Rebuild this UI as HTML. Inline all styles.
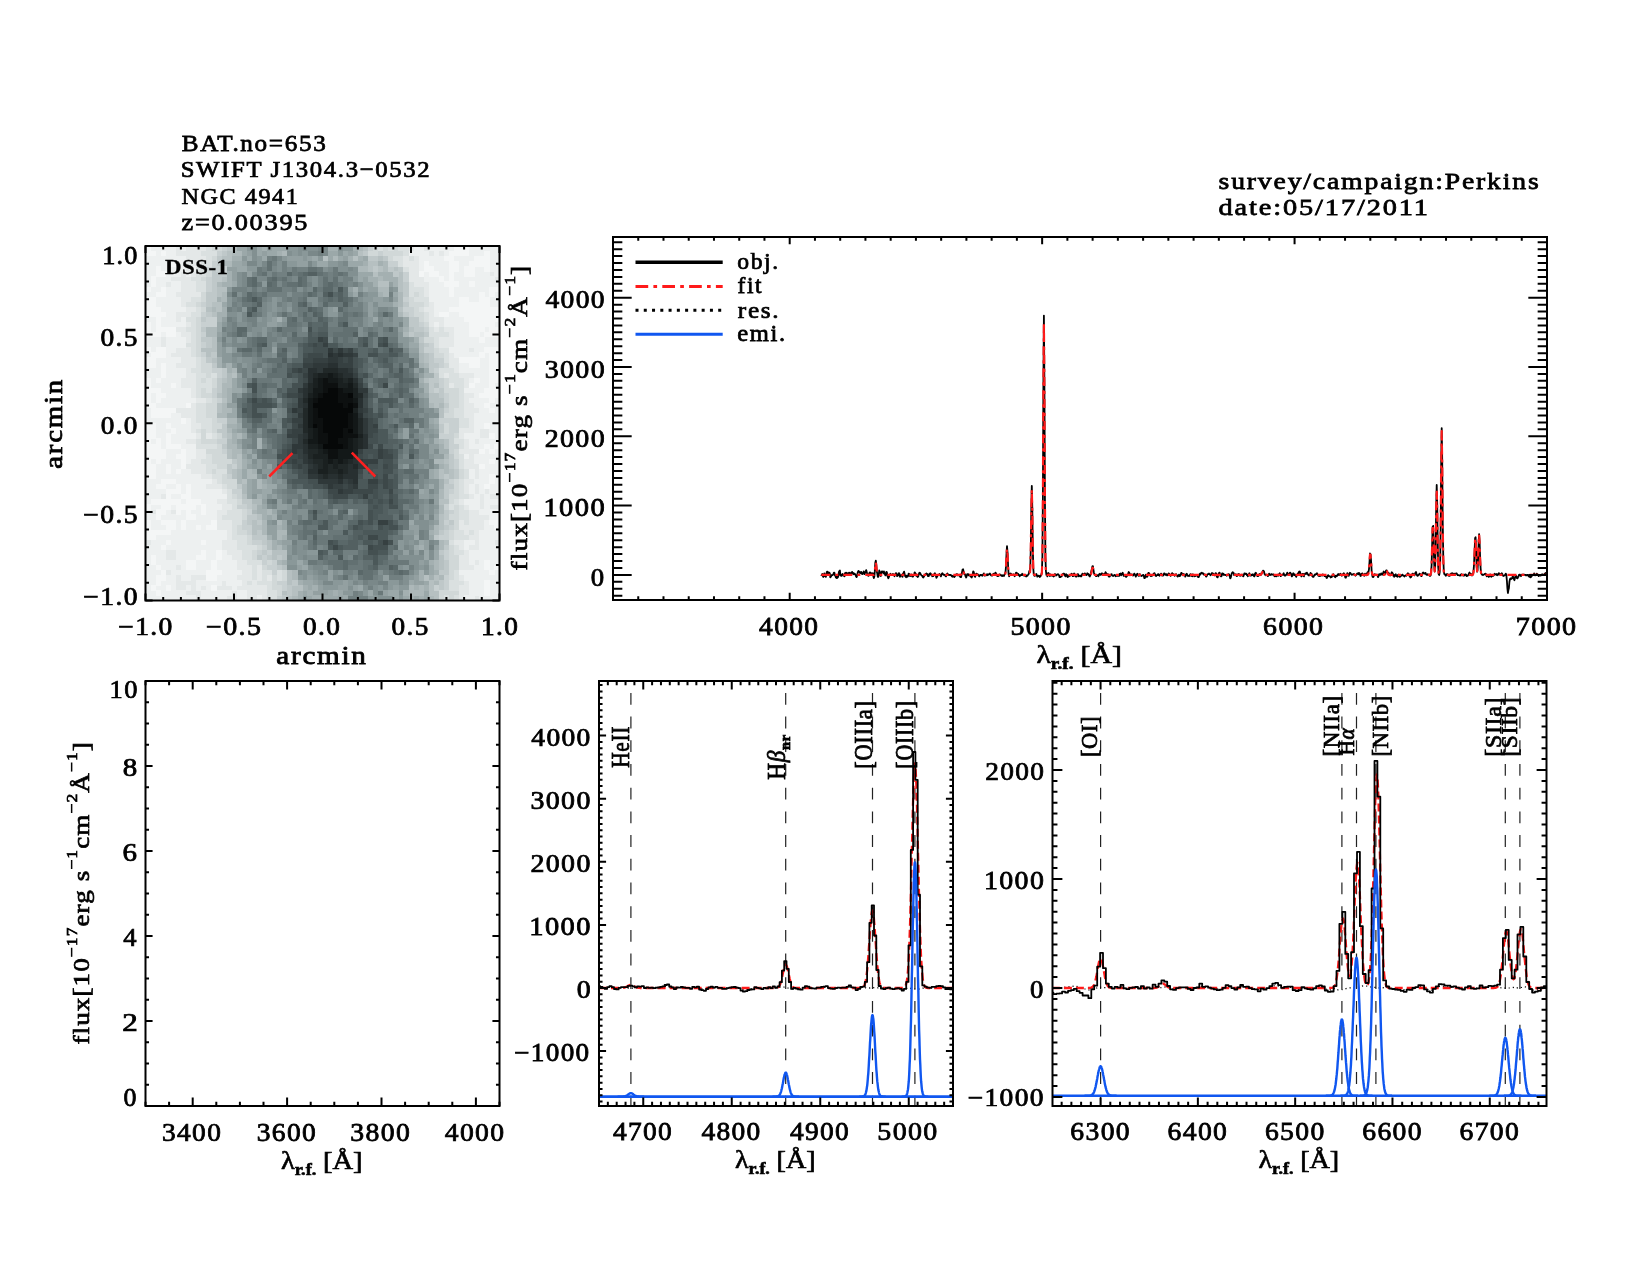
<!DOCTYPE html><html><head><meta charset="utf-8"><style>html,body{margin:0;padding:0;background:#fff;overflow:hidden}svg{display:block;will-change:transform}</style></head><body><svg width="1650" height="1275" viewBox="0 0 1650 1275" font-family='"Liberation Serif", serif'>
<rect width="1650" height="1275" fill="#fff"/>
<path fill="#060808" shape-rendering="crispEdges" d="M327.6 387.8h5.36v5.36h-5.36zM332.6 387.8h5.36v5.36h-5.36zM322.5 392.9h5.36v5.36h-5.36zM327.6 392.9h5.36v5.36h-5.36zM332.6 392.9h5.36v5.36h-5.36zM347.8 392.9h5.36v5.36h-5.36zM317.4 397.9h5.36v5.36h-5.36zM322.5 397.9h5.36v5.36h-5.36zM327.6 397.9h5.36v5.36h-5.36zM332.6 397.9h5.36v5.36h-5.36zM312.4 403.0h5.36v5.36h-5.36zM317.4 403.0h5.36v5.36h-5.36zM322.5 403.0h5.36v5.36h-5.36zM327.6 403.0h5.36v5.36h-5.36zM332.6 403.0h5.36v5.36h-5.36zM337.7 403.0h5.36v5.36h-5.36zM347.8 403.0h5.36v5.36h-5.36zM317.4 408.1h5.36v5.36h-5.36zM322.5 408.1h5.36v5.36h-5.36zM327.6 408.1h5.36v5.36h-5.36zM332.6 408.1h5.36v5.36h-5.36zM337.7 408.1h5.36v5.36h-5.36zM342.7 408.1h5.36v5.36h-5.36zM347.8 408.1h5.36v5.36h-5.36zM317.4 413.1h5.36v5.36h-5.36zM322.5 413.1h5.36v5.36h-5.36zM327.6 413.1h5.36v5.36h-5.36zM332.6 413.1h5.36v5.36h-5.36zM337.7 413.1h5.36v5.36h-5.36zM342.7 413.1h5.36v5.36h-5.36zM322.5 418.2h5.36v5.36h-5.36zM327.6 418.2h5.36v5.36h-5.36zM332.6 418.2h5.36v5.36h-5.36zM337.7 418.2h5.36v5.36h-5.36zM342.7 418.2h5.36v5.36h-5.36zM312.4 423.2h5.36v5.36h-5.36zM322.5 423.2h5.36v5.36h-5.36zM327.6 423.2h5.36v5.36h-5.36zM332.6 423.2h5.36v5.36h-5.36zM337.7 423.2h5.36v5.36h-5.36zM342.7 423.2h5.36v5.36h-5.36zM322.5 428.3h5.36v5.36h-5.36zM327.6 428.3h5.36v5.36h-5.36zM332.6 428.3h5.36v5.36h-5.36zM337.7 428.3h5.36v5.36h-5.36zM347.8 428.3h5.36v5.36h-5.36zM327.6 433.4h5.36v5.36h-5.36zM332.6 433.4h5.36v5.36h-5.36zM337.7 433.4h5.36v5.36h-5.36zM327.6 438.4h5.36v5.36h-5.36zM332.6 438.4h5.36v5.36h-5.36zM322.5 443.5h5.36v5.36h-5.36zM327.6 443.5h5.36v5.36h-5.36zM332.6 443.5h5.36v5.36h-5.36zM337.7 443.5h5.36v5.36h-5.36z"/>
<path fill="#0d1010" shape-rendering="crispEdges" d="M322.5 377.7h5.36v5.36h-5.36zM322.5 382.7h5.36v5.36h-5.36zM327.6 382.7h5.36v5.36h-5.36zM332.6 382.7h5.36v5.36h-5.36zM322.5 387.8h5.36v5.36h-5.36zM337.7 387.8h5.36v5.36h-5.36zM317.4 392.9h5.36v5.36h-5.36zM337.7 392.9h5.36v5.36h-5.36zM342.7 392.9h5.36v5.36h-5.36zM312.4 397.9h5.36v5.36h-5.36zM337.7 397.9h5.36v5.36h-5.36zM342.7 397.9h5.36v5.36h-5.36zM347.8 397.9h5.36v5.36h-5.36zM342.7 403.0h5.36v5.36h-5.36zM352.8 403.0h5.36v5.36h-5.36zM312.4 408.1h5.36v5.36h-5.36zM312.4 413.1h5.36v5.36h-5.36zM347.8 413.1h5.36v5.36h-5.36zM312.4 418.2h5.36v5.36h-5.36zM317.4 418.2h5.36v5.36h-5.36zM347.8 418.2h5.36v5.36h-5.36zM317.4 423.2h5.36v5.36h-5.36zM347.8 423.2h5.36v5.36h-5.36zM317.4 428.3h5.36v5.36h-5.36zM342.7 428.3h5.36v5.36h-5.36zM317.4 433.4h5.36v5.36h-5.36zM322.5 433.4h5.36v5.36h-5.36zM342.7 433.4h5.36v5.36h-5.36zM347.8 433.4h5.36v5.36h-5.36zM352.8 433.4h5.36v5.36h-5.36zM317.4 438.4h5.36v5.36h-5.36zM322.5 438.4h5.36v5.36h-5.36zM337.7 438.4h5.36v5.36h-5.36zM342.7 438.4h5.36v5.36h-5.36zM342.7 443.5h5.36v5.36h-5.36zM327.6 448.6h5.36v5.36h-5.36zM332.6 448.6h5.36v5.36h-5.36zM327.6 453.6h5.36v5.36h-5.36zM332.6 453.6h5.36v5.36h-5.36z"/>
<path fill="#131818" shape-rendering="crispEdges" d="M327.6 372.6h5.36v5.36h-5.36zM317.4 377.7h5.36v5.36h-5.36zM327.6 377.7h5.36v5.36h-5.36zM332.6 377.7h5.36v5.36h-5.36zM317.4 382.7h5.36v5.36h-5.36zM347.8 382.7h5.36v5.36h-5.36zM312.4 387.8h5.36v5.36h-5.36zM317.4 387.8h5.36v5.36h-5.36zM342.7 387.8h5.36v5.36h-5.36zM347.8 387.8h5.36v5.36h-5.36zM312.4 392.9h5.36v5.36h-5.36zM307.3 397.9h5.36v5.36h-5.36zM352.8 397.9h5.36v5.36h-5.36zM307.3 403.0h5.36v5.36h-5.36zM307.3 408.1h5.36v5.36h-5.36zM307.3 413.1h5.36v5.36h-5.36zM352.8 413.1h5.36v5.36h-5.36zM307.3 418.2h5.36v5.36h-5.36zM352.8 418.2h5.36v5.36h-5.36zM307.3 423.2h5.36v5.36h-5.36zM352.8 423.2h5.36v5.36h-5.36zM312.4 428.3h5.36v5.36h-5.36zM352.8 428.3h5.36v5.36h-5.36zM312.4 433.4h5.36v5.36h-5.36zM307.3 438.4h5.36v5.36h-5.36zM312.4 438.4h5.36v5.36h-5.36zM347.8 438.4h5.36v5.36h-5.36zM317.4 443.5h5.36v5.36h-5.36zM347.8 443.5h5.36v5.36h-5.36zM322.5 448.6h5.36v5.36h-5.36zM337.7 448.6h5.36v5.36h-5.36zM342.7 448.6h5.36v5.36h-5.36zM347.8 448.6h5.36v5.36h-5.36zM337.7 453.6h5.36v5.36h-5.36zM342.7 453.6h5.36v5.36h-5.36zM347.8 453.6h5.36v5.36h-5.36zM327.6 458.7h5.36v5.36h-5.36zM337.7 458.7h5.36v5.36h-5.36z"/>
<path fill="#1a2020" shape-rendering="crispEdges" d="M317.4 372.6h5.36v5.36h-5.36zM322.5 372.6h5.36v5.36h-5.36zM332.6 372.6h5.36v5.36h-5.36zM312.4 377.7h5.36v5.36h-5.36zM337.7 377.7h5.36v5.36h-5.36zM347.8 377.7h5.36v5.36h-5.36zM312.4 382.7h5.36v5.36h-5.36zM337.7 382.7h5.36v5.36h-5.36zM342.7 382.7h5.36v5.36h-5.36zM352.8 387.8h5.36v5.36h-5.36zM307.3 392.9h5.36v5.36h-5.36zM352.8 392.9h5.36v5.36h-5.36zM352.8 408.1h5.36v5.36h-5.36zM307.3 428.3h5.36v5.36h-5.36zM307.3 433.4h5.36v5.36h-5.36zM357.9 433.4h5.36v5.36h-5.36zM352.8 438.4h5.36v5.36h-5.36zM307.3 443.5h5.36v5.36h-5.36zM312.4 443.5h5.36v5.36h-5.36zM352.8 443.5h5.36v5.36h-5.36zM317.4 448.6h5.36v5.36h-5.36zM352.8 448.6h5.36v5.36h-5.36zM312.4 453.6h5.36v5.36h-5.36zM317.4 453.6h5.36v5.36h-5.36zM322.5 453.6h5.36v5.36h-5.36zM322.5 458.7h5.36v5.36h-5.36zM332.6 458.7h5.36v5.36h-5.36zM342.7 458.7h5.36v5.36h-5.36zM322.5 463.8h5.36v5.36h-5.36zM332.6 463.8h5.36v5.36h-5.36zM317.4 468.8h5.36v5.36h-5.36zM322.5 468.8h5.36v5.36h-5.36zM337.7 468.8h5.36v5.36h-5.36z"/>
<path fill="#212828" shape-rendering="crispEdges" d="M322.5 367.5h5.36v5.36h-5.36zM327.6 367.5h5.36v5.36h-5.36zM332.6 367.5h5.36v5.36h-5.36zM312.4 372.6h5.36v5.36h-5.36zM337.7 372.6h5.36v5.36h-5.36zM342.7 377.7h5.36v5.36h-5.36zM307.3 382.7h5.36v5.36h-5.36zM352.8 382.7h5.36v5.36h-5.36zM307.3 387.8h5.36v5.36h-5.36zM357.9 392.9h5.36v5.36h-5.36zM302.3 397.9h5.36v5.36h-5.36zM302.3 408.1h5.36v5.36h-5.36zM302.3 413.1h5.36v5.36h-5.36zM302.3 418.2h5.36v5.36h-5.36zM357.9 418.2h5.36v5.36h-5.36zM302.3 423.2h5.36v5.36h-5.36zM357.9 423.2h5.36v5.36h-5.36zM302.3 428.3h5.36v5.36h-5.36zM357.9 428.3h5.36v5.36h-5.36zM302.3 438.4h5.36v5.36h-5.36zM357.9 438.4h5.36v5.36h-5.36zM357.9 443.5h5.36v5.36h-5.36zM307.3 448.6h5.36v5.36h-5.36zM312.4 448.6h5.36v5.36h-5.36zM307.3 453.6h5.36v5.36h-5.36zM352.8 453.6h5.36v5.36h-5.36zM312.4 458.7h5.36v5.36h-5.36zM317.4 458.7h5.36v5.36h-5.36zM347.8 458.7h5.36v5.36h-5.36zM317.4 463.8h5.36v5.36h-5.36zM327.6 463.8h5.36v5.36h-5.36zM337.7 463.8h5.36v5.36h-5.36zM342.7 463.8h5.36v5.36h-5.36zM352.8 463.8h5.36v5.36h-5.36zM327.6 468.8h5.36v5.36h-5.36zM332.6 468.8h5.36v5.36h-5.36zM342.7 468.8h5.36v5.36h-5.36zM322.5 473.9h5.36v5.36h-5.36zM337.7 473.9h5.36v5.36h-5.36z"/>
<path fill="#283031" shape-rendering="crispEdges" d="M327.6 352.4h5.36v5.36h-5.36zM337.7 352.4h5.36v5.36h-5.36zM327.6 362.5h5.36v5.36h-5.36zM332.6 362.5h5.36v5.36h-5.36zM307.3 367.5h5.36v5.36h-5.36zM312.4 367.5h5.36v5.36h-5.36zM337.7 367.5h5.36v5.36h-5.36zM342.7 367.5h5.36v5.36h-5.36zM307.3 372.6h5.36v5.36h-5.36zM342.7 372.6h5.36v5.36h-5.36zM347.8 372.6h5.36v5.36h-5.36zM307.3 377.7h5.36v5.36h-5.36zM352.8 377.7h5.36v5.36h-5.36zM302.3 387.8h5.36v5.36h-5.36zM302.3 392.9h5.36v5.36h-5.36zM357.9 397.9h5.36v5.36h-5.36zM302.3 403.0h5.36v5.36h-5.36zM357.9 403.0h5.36v5.36h-5.36zM357.9 413.1h5.36v5.36h-5.36zM302.3 433.4h5.36v5.36h-5.36zM363.0 433.4h5.36v5.36h-5.36zM363.0 438.4h5.36v5.36h-5.36zM302.3 443.5h5.36v5.36h-5.36zM363.0 443.5h5.36v5.36h-5.36zM302.3 448.6h5.36v5.36h-5.36zM307.3 458.7h5.36v5.36h-5.36zM352.8 458.7h5.36v5.36h-5.36zM312.4 463.8h5.36v5.36h-5.36zM347.8 463.8h5.36v5.36h-5.36zM307.3 468.8h5.36v5.36h-5.36zM312.4 468.8h5.36v5.36h-5.36zM347.8 468.8h5.36v5.36h-5.36zM352.8 468.8h5.36v5.36h-5.36zM317.4 473.9h5.36v5.36h-5.36zM327.6 473.9h5.36v5.36h-5.36zM332.6 473.9h5.36v5.36h-5.36zM342.7 473.9h5.36v5.36h-5.36zM347.8 473.9h5.36v5.36h-5.36zM352.8 473.9h5.36v5.36h-5.36zM337.7 479.0h5.36v5.36h-5.36zM352.8 479.0h5.36v5.36h-5.36z"/>
<path fill="#2f3839" shape-rendering="crispEdges" d="M327.6 347.3h5.36v5.36h-5.36zM337.7 347.3h5.36v5.36h-5.36zM332.6 352.4h5.36v5.36h-5.36zM342.7 352.4h5.36v5.36h-5.36zM347.8 352.4h5.36v5.36h-5.36zM327.6 357.4h5.36v5.36h-5.36zM332.6 357.4h5.36v5.36h-5.36zM312.4 362.5h5.36v5.36h-5.36zM317.4 362.5h5.36v5.36h-5.36zM322.5 362.5h5.36v5.36h-5.36zM317.4 367.5h5.36v5.36h-5.36zM347.8 367.5h5.36v5.36h-5.36zM302.3 382.7h5.36v5.36h-5.36zM297.2 387.8h5.36v5.36h-5.36zM357.9 387.8h5.36v5.36h-5.36zM363.0 387.8h5.36v5.36h-5.36zM297.2 397.9h5.36v5.36h-5.36zM297.2 403.0h5.36v5.36h-5.36zM292.2 408.1h5.36v5.36h-5.36zM357.9 408.1h5.36v5.36h-5.36zM297.2 413.1h5.36v5.36h-5.36zM363.0 418.2h5.36v5.36h-5.36zM297.2 423.2h5.36v5.36h-5.36zM363.0 423.2h5.36v5.36h-5.36zM363.0 428.3h5.36v5.36h-5.36zM297.2 433.4h5.36v5.36h-5.36zM297.2 438.4h5.36v5.36h-5.36zM292.2 443.5h5.36v5.36h-5.36zM297.2 443.5h5.36v5.36h-5.36zM292.2 448.6h5.36v5.36h-5.36zM302.3 453.6h5.36v5.36h-5.36zM302.3 458.7h5.36v5.36h-5.36zM357.9 458.7h5.36v5.36h-5.36zM307.3 463.8h5.36v5.36h-5.36zM357.9 463.8h5.36v5.36h-5.36zM363.0 463.8h5.36v5.36h-5.36zM307.3 473.9h5.36v5.36h-5.36zM312.4 473.9h5.36v5.36h-5.36zM317.4 479.0h5.36v5.36h-5.36zM322.5 479.0h5.36v5.36h-5.36zM327.6 479.0h5.36v5.36h-5.36zM332.6 479.0h5.36v5.36h-5.36zM347.8 479.0h5.36v5.36h-5.36zM327.6 484.0h5.36v5.36h-5.36zM352.8 484.0h5.36v5.36h-5.36zM337.7 489.1h5.36v5.36h-5.36z"/>
<path fill="#364041" shape-rendering="crispEdges" d="M317.4 337.2h5.36v5.36h-5.36zM322.5 342.2h5.36v5.36h-5.36zM347.8 347.3h5.36v5.36h-5.36zM352.8 352.4h5.36v5.36h-5.36zM312.4 357.4h5.36v5.36h-5.36zM317.4 357.4h5.36v5.36h-5.36zM322.5 357.4h5.36v5.36h-5.36zM337.7 357.4h5.36v5.36h-5.36zM347.8 357.4h5.36v5.36h-5.36zM302.3 362.5h5.36v5.36h-5.36zM307.3 362.5h5.36v5.36h-5.36zM337.7 362.5h5.36v5.36h-5.36zM342.7 362.5h5.36v5.36h-5.36zM347.8 362.5h5.36v5.36h-5.36zM297.2 367.5h5.36v5.36h-5.36zM302.3 372.6h5.36v5.36h-5.36zM352.8 372.6h5.36v5.36h-5.36zM357.9 382.7h5.36v5.36h-5.36zM297.2 392.9h5.36v5.36h-5.36zM363.0 392.9h5.36v5.36h-5.36zM297.2 408.1h5.36v5.36h-5.36zM363.0 408.1h5.36v5.36h-5.36zM292.2 418.2h5.36v5.36h-5.36zM297.2 418.2h5.36v5.36h-5.36zM373.1 423.2h5.36v5.36h-5.36zM292.2 428.3h5.36v5.36h-5.36zM297.2 428.3h5.36v5.36h-5.36zM287.1 433.4h5.36v5.36h-5.36zM292.2 433.4h5.36v5.36h-5.36zM297.2 448.6h5.36v5.36h-5.36zM357.9 448.6h5.36v5.36h-5.36zM378.1 448.6h5.36v5.36h-5.36zM297.2 453.6h5.36v5.36h-5.36zM378.1 453.6h5.36v5.36h-5.36zM292.2 458.7h5.36v5.36h-5.36zM363.0 458.7h5.36v5.36h-5.36zM368.0 458.7h5.36v5.36h-5.36zM373.1 458.7h5.36v5.36h-5.36zM297.2 463.8h5.36v5.36h-5.36zM342.7 479.0h5.36v5.36h-5.36zM368.0 479.0h5.36v5.36h-5.36zM373.1 479.0h5.36v5.36h-5.36zM332.6 484.0h5.36v5.36h-5.36zM337.7 484.0h5.36v5.36h-5.36zM347.8 484.0h5.36v5.36h-5.36zM342.7 489.1h5.36v5.36h-5.36zM347.8 489.1h5.36v5.36h-5.36zM363.0 494.1h5.36v5.36h-5.36zM378.1 519.5h5.36v5.36h-5.36zM383.2 519.5h5.36v5.36h-5.36zM383.2 539.7h5.36v5.36h-5.36z"/>
<path fill="#3d4849" shape-rendering="crispEdges" d="M322.5 337.2h5.36v5.36h-5.36zM312.4 342.2h5.36v5.36h-5.36zM383.2 342.2h5.36v5.36h-5.36zM332.6 347.3h5.36v5.36h-5.36zM342.7 347.3h5.36v5.36h-5.36zM307.3 352.4h5.36v5.36h-5.36zM312.4 352.4h5.36v5.36h-5.36zM317.4 352.4h5.36v5.36h-5.36zM302.3 357.4h5.36v5.36h-5.36zM307.3 357.4h5.36v5.36h-5.36zM342.7 357.4h5.36v5.36h-5.36zM292.2 367.5h5.36v5.36h-5.36zM302.3 367.5h5.36v5.36h-5.36zM352.8 367.5h5.36v5.36h-5.36zM302.3 377.7h5.36v5.36h-5.36zM357.9 377.7h5.36v5.36h-5.36zM383.2 382.7h5.36v5.36h-5.36zM287.1 392.9h5.36v5.36h-5.36zM292.2 392.9h5.36v5.36h-5.36zM251.7 397.9h5.36v5.36h-5.36zM363.0 397.9h5.36v5.36h-5.36zM363.0 403.0h5.36v5.36h-5.36zM363.0 413.1h5.36v5.36h-5.36zM368.0 418.2h5.36v5.36h-5.36zM292.2 423.2h5.36v5.36h-5.36zM368.0 423.2h5.36v5.36h-5.36zM287.1 428.3h5.36v5.36h-5.36zM368.0 428.3h5.36v5.36h-5.36zM373.1 428.3h5.36v5.36h-5.36zM368.0 433.4h5.36v5.36h-5.36zM292.2 438.4h5.36v5.36h-5.36zM368.0 443.5h5.36v5.36h-5.36zM378.1 443.5h5.36v5.36h-5.36zM287.1 448.6h5.36v5.36h-5.36zM383.2 448.6h5.36v5.36h-5.36zM287.1 453.6h5.36v5.36h-5.36zM292.2 453.6h5.36v5.36h-5.36zM357.9 453.6h5.36v5.36h-5.36zM383.2 453.6h5.36v5.36h-5.36zM388.2 453.6h5.36v5.36h-5.36zM282.0 458.7h5.36v5.36h-5.36zM287.1 458.7h5.36v5.36h-5.36zM297.2 458.7h5.36v5.36h-5.36zM292.2 463.8h5.36v5.36h-5.36zM302.3 463.8h5.36v5.36h-5.36zM383.2 463.8h5.36v5.36h-5.36zM302.3 468.8h5.36v5.36h-5.36zM357.9 468.8h5.36v5.36h-5.36zM383.2 473.9h5.36v5.36h-5.36zM383.2 479.0h5.36v5.36h-5.36zM322.5 484.0h5.36v5.36h-5.36zM342.7 484.0h5.36v5.36h-5.36zM368.0 484.0h5.36v5.36h-5.36zM373.1 484.0h5.36v5.36h-5.36zM383.2 484.0h5.36v5.36h-5.36zM327.6 489.1h5.36v5.36h-5.36zM332.6 489.1h5.36v5.36h-5.36zM352.8 489.1h5.36v5.36h-5.36zM357.9 489.1h5.36v5.36h-5.36zM363.0 489.1h5.36v5.36h-5.36zM368.0 489.1h5.36v5.36h-5.36zM388.2 489.1h5.36v5.36h-5.36zM332.6 494.1h5.36v5.36h-5.36zM337.7 494.1h5.36v5.36h-5.36zM342.7 494.1h5.36v5.36h-5.36zM388.2 499.2h5.36v5.36h-5.36zM368.0 534.7h5.36v5.36h-5.36zM373.1 534.7h5.36v5.36h-5.36zM332.6 544.8h5.36v5.36h-5.36zM368.0 544.8h5.36v5.36h-5.36z"/>
<path fill="#445051" shape-rendering="crispEdges" d="M327.6 291.6h5.36v5.36h-5.36zM307.3 327.0h5.36v5.36h-5.36zM383.2 337.2h5.36v5.36h-5.36zM307.3 342.2h5.36v5.36h-5.36zM317.4 342.2h5.36v5.36h-5.36zM363.0 342.2h5.36v5.36h-5.36zM378.1 342.2h5.36v5.36h-5.36zM312.4 347.3h5.36v5.36h-5.36zM317.4 347.3h5.36v5.36h-5.36zM322.5 347.3h5.36v5.36h-5.36zM388.2 347.3h5.36v5.36h-5.36zM302.3 352.4h5.36v5.36h-5.36zM322.5 352.4h5.36v5.36h-5.36zM368.0 352.4h5.36v5.36h-5.36zM373.1 352.4h5.36v5.36h-5.36zM352.8 357.4h5.36v5.36h-5.36zM352.8 362.5h5.36v5.36h-5.36zM287.1 372.6h5.36v5.36h-5.36zM297.2 372.6h5.36v5.36h-5.36zM363.0 372.6h5.36v5.36h-5.36zM297.2 377.7h5.36v5.36h-5.36zM251.7 382.7h5.36v5.36h-5.36zM292.2 382.7h5.36v5.36h-5.36zM297.2 382.7h5.36v5.36h-5.36zM251.7 387.8h5.36v5.36h-5.36zM287.1 387.8h5.36v5.36h-5.36zM292.2 387.8h5.36v5.36h-5.36zM261.8 397.9h5.36v5.36h-5.36zM251.7 403.0h5.36v5.36h-5.36zM256.8 403.0h5.36v5.36h-5.36zM261.8 403.0h5.36v5.36h-5.36zM266.9 403.0h5.36v5.36h-5.36zM292.2 403.0h5.36v5.36h-5.36zM251.7 408.1h5.36v5.36h-5.36zM287.1 408.1h5.36v5.36h-5.36zM368.0 408.1h5.36v5.36h-5.36zM251.7 413.1h5.36v5.36h-5.36zM256.8 413.1h5.36v5.36h-5.36zM292.2 413.1h5.36v5.36h-5.36zM368.0 413.1h5.36v5.36h-5.36zM378.1 413.1h5.36v5.36h-5.36zM287.1 418.2h5.36v5.36h-5.36zM373.1 418.2h5.36v5.36h-5.36zM373.1 433.4h5.36v5.36h-5.36zM368.0 438.4h5.36v5.36h-5.36zM373.1 438.4h5.36v5.36h-5.36zM287.1 443.5h5.36v5.36h-5.36zM282.0 448.6h5.36v5.36h-5.36zM363.0 448.6h5.36v5.36h-5.36zM368.0 448.6h5.36v5.36h-5.36zM373.1 448.6h5.36v5.36h-5.36zM388.2 448.6h5.36v5.36h-5.36zM277.0 453.6h5.36v5.36h-5.36zM282.0 453.6h5.36v5.36h-5.36zM363.0 453.6h5.36v5.36h-5.36zM373.1 453.6h5.36v5.36h-5.36zM383.2 458.7h5.36v5.36h-5.36zM388.2 458.7h5.36v5.36h-5.36zM368.0 463.8h5.36v5.36h-5.36zM373.1 463.8h5.36v5.36h-5.36zM388.2 463.8h5.36v5.36h-5.36zM297.2 468.8h5.36v5.36h-5.36zM368.0 468.8h5.36v5.36h-5.36zM383.2 468.8h5.36v5.36h-5.36zM388.2 468.8h5.36v5.36h-5.36zM297.2 473.9h5.36v5.36h-5.36zM302.3 473.9h5.36v5.36h-5.36zM357.9 473.9h5.36v5.36h-5.36zM373.1 473.9h5.36v5.36h-5.36zM307.3 479.0h5.36v5.36h-5.36zM312.4 479.0h5.36v5.36h-5.36zM378.1 479.0h5.36v5.36h-5.36zM388.2 479.0h5.36v5.36h-5.36zM312.4 484.0h5.36v5.36h-5.36zM317.4 484.0h5.36v5.36h-5.36zM388.2 484.0h5.36v5.36h-5.36zM373.1 489.1h5.36v5.36h-5.36zM327.6 494.1h5.36v5.36h-5.36zM357.9 494.1h5.36v5.36h-5.36zM373.1 494.1h5.36v5.36h-5.36zM388.2 494.1h5.36v5.36h-5.36zM368.0 499.2h5.36v5.36h-5.36zM378.1 499.2h5.36v5.36h-5.36zM373.1 504.3h5.36v5.36h-5.36zM388.2 504.3h5.36v5.36h-5.36zM393.3 504.3h5.36v5.36h-5.36zM312.4 509.3h5.36v5.36h-5.36zM368.0 509.3h5.36v5.36h-5.36zM368.0 514.4h5.36v5.36h-5.36zM357.9 519.5h5.36v5.36h-5.36zM368.0 519.5h5.36v5.36h-5.36zM388.2 519.5h5.36v5.36h-5.36zM352.8 524.5h5.36v5.36h-5.36zM378.1 524.5h5.36v5.36h-5.36zM388.2 524.5h5.36v5.36h-5.36zM393.3 524.5h5.36v5.36h-5.36zM327.6 539.7h5.36v5.36h-5.36zM378.1 539.7h5.36v5.36h-5.36zM388.2 539.7h5.36v5.36h-5.36zM373.1 544.8h5.36v5.36h-5.36zM378.1 544.8h5.36v5.36h-5.36zM383.2 544.8h5.36v5.36h-5.36zM368.0 549.9h5.36v5.36h-5.36zM373.1 549.9h5.36v5.36h-5.36z"/>
<path fill="#4b5859" shape-rendering="crispEdges" d="M337.7 286.5h5.36v5.36h-5.36zM251.7 296.6h5.36v5.36h-5.36zM251.7 306.8h5.36v5.36h-5.36zM246.6 311.8h5.36v5.36h-5.36zM342.7 322.0h5.36v5.36h-5.36zM307.3 332.1h5.36v5.36h-5.36zM317.4 332.1h5.36v5.36h-5.36zM322.5 332.1h5.36v5.36h-5.36zM307.3 337.2h5.36v5.36h-5.36zM312.4 337.2h5.36v5.36h-5.36zM363.0 337.2h5.36v5.36h-5.36zM378.1 337.2h5.36v5.36h-5.36zM261.8 342.2h5.36v5.36h-5.36zM302.3 342.2h5.36v5.36h-5.36zM327.6 342.2h5.36v5.36h-5.36zM332.6 342.2h5.36v5.36h-5.36zM302.3 347.3h5.36v5.36h-5.36zM307.3 347.3h5.36v5.36h-5.36zM352.8 347.3h5.36v5.36h-5.36zM373.1 347.3h5.36v5.36h-5.36zM388.2 352.4h5.36v5.36h-5.36zM393.3 352.4h5.36v5.36h-5.36zM357.9 357.4h5.36v5.36h-5.36zM383.2 357.4h5.36v5.36h-5.36zM292.2 362.5h5.36v5.36h-5.36zM297.2 362.5h5.36v5.36h-5.36zM357.9 362.5h5.36v5.36h-5.36zM287.1 367.5h5.36v5.36h-5.36zM398.4 367.5h5.36v5.36h-5.36zM292.2 372.6h5.36v5.36h-5.36zM357.9 372.6h5.36v5.36h-5.36zM246.6 382.7h5.36v5.36h-5.36zM363.0 382.7h5.36v5.36h-5.36zM282.0 392.9h5.36v5.36h-5.36zM368.0 392.9h5.36v5.36h-5.36zM246.6 397.9h5.36v5.36h-5.36zM256.8 397.9h5.36v5.36h-5.36zM266.9 397.9h5.36v5.36h-5.36zM292.2 397.9h5.36v5.36h-5.36zM378.1 397.9h5.36v5.36h-5.36zM383.2 397.9h5.36v5.36h-5.36zM388.2 397.9h5.36v5.36h-5.36zM271.9 403.0h5.36v5.36h-5.36zM287.1 403.0h5.36v5.36h-5.36zM388.2 403.0h5.36v5.36h-5.36zM241.6 408.1h5.36v5.36h-5.36zM378.1 408.1h5.36v5.36h-5.36zM261.8 413.1h5.36v5.36h-5.36zM287.1 413.1h5.36v5.36h-5.36zM373.1 413.1h5.36v5.36h-5.36zM282.0 418.2h5.36v5.36h-5.36zM282.0 423.2h5.36v5.36h-5.36zM393.3 423.2h5.36v5.36h-5.36zM378.1 428.3h5.36v5.36h-5.36zM383.2 428.3h5.36v5.36h-5.36zM378.1 433.4h5.36v5.36h-5.36zM383.2 433.4h5.36v5.36h-5.36zM287.1 438.4h5.36v5.36h-5.36zM378.1 438.4h5.36v5.36h-5.36zM383.2 438.4h5.36v5.36h-5.36zM282.0 443.5h5.36v5.36h-5.36zM398.4 443.5h5.36v5.36h-5.36zM393.3 448.6h5.36v5.36h-5.36zM368.0 453.6h5.36v5.36h-5.36zM393.3 453.6h5.36v5.36h-5.36zM408.5 453.6h5.36v5.36h-5.36zM378.1 458.7h5.36v5.36h-5.36zM277.0 463.8h5.36v5.36h-5.36zM287.1 463.8h5.36v5.36h-5.36zM378.1 463.8h5.36v5.36h-5.36zM393.3 463.8h5.36v5.36h-5.36zM292.2 468.8h5.36v5.36h-5.36zM373.1 468.8h5.36v5.36h-5.36zM378.1 468.8h5.36v5.36h-5.36zM378.1 473.9h5.36v5.36h-5.36zM393.3 473.9h5.36v5.36h-5.36zM292.2 479.0h5.36v5.36h-5.36zM297.2 479.0h5.36v5.36h-5.36zM302.3 479.0h5.36v5.36h-5.36zM357.9 479.0h5.36v5.36h-5.36zM363.0 479.0h5.36v5.36h-5.36zM393.3 479.0h5.36v5.36h-5.36zM302.3 484.0h5.36v5.36h-5.36zM307.3 484.0h5.36v5.36h-5.36zM357.9 484.0h5.36v5.36h-5.36zM363.0 484.0h5.36v5.36h-5.36zM378.1 484.0h5.36v5.36h-5.36zM393.3 484.0h5.36v5.36h-5.36zM378.1 489.1h5.36v5.36h-5.36zM383.2 489.1h5.36v5.36h-5.36zM347.8 494.1h5.36v5.36h-5.36zM352.8 494.1h5.36v5.36h-5.36zM368.0 494.1h5.36v5.36h-5.36zM378.1 494.1h5.36v5.36h-5.36zM393.3 494.1h5.36v5.36h-5.36zM332.6 499.2h5.36v5.36h-5.36zM373.1 499.2h5.36v5.36h-5.36zM383.2 499.2h5.36v5.36h-5.36zM393.3 499.2h5.36v5.36h-5.36zM368.0 504.3h5.36v5.36h-5.36zM378.1 504.3h5.36v5.36h-5.36zM373.1 509.3h5.36v5.36h-5.36zM378.1 509.3h5.36v5.36h-5.36zM312.4 514.4h5.36v5.36h-5.36zM373.1 514.4h5.36v5.36h-5.36zM398.4 514.4h5.36v5.36h-5.36zM322.5 519.5h5.36v5.36h-5.36zM363.0 519.5h5.36v5.36h-5.36zM317.4 524.5h5.36v5.36h-5.36zM322.5 524.5h5.36v5.36h-5.36zM357.9 524.5h5.36v5.36h-5.36zM383.2 524.5h5.36v5.36h-5.36zM342.7 529.6h5.36v5.36h-5.36zM363.0 529.6h5.36v5.36h-5.36zM368.0 529.6h5.36v5.36h-5.36zM373.1 529.6h5.36v5.36h-5.36zM378.1 529.6h5.36v5.36h-5.36zM383.2 529.6h5.36v5.36h-5.36zM357.9 534.7h5.36v5.36h-5.36zM378.1 534.7h5.36v5.36h-5.36zM383.2 534.7h5.36v5.36h-5.36zM332.6 539.7h5.36v5.36h-5.36zM363.0 539.7h5.36v5.36h-5.36zM368.0 539.7h5.36v5.36h-5.36zM327.6 544.8h5.36v5.36h-5.36zM337.7 544.8h5.36v5.36h-5.36zM317.4 549.9h5.36v5.36h-5.36zM378.1 549.9h5.36v5.36h-5.36zM383.2 549.9h5.36v5.36h-5.36zM337.7 554.9h5.36v5.36h-5.36zM373.1 554.9h5.36v5.36h-5.36zM373.1 560.0h5.36v5.36h-5.36z"/>
<path fill="#536061" shape-rendering="crispEdges" d="M307.3 271.3h5.36v5.36h-5.36zM312.4 271.3h5.36v5.36h-5.36zM322.5 291.6h5.36v5.36h-5.36zM337.7 291.6h5.36v5.36h-5.36zM337.7 296.6h5.36v5.36h-5.36zM256.8 301.7h5.36v5.36h-5.36zM302.3 301.7h5.36v5.36h-5.36zM342.7 301.7h5.36v5.36h-5.36zM307.3 306.8h5.36v5.36h-5.36zM312.4 311.8h5.36v5.36h-5.36zM317.4 316.9h5.36v5.36h-5.36zM307.3 322.0h5.36v5.36h-5.36zM322.5 322.0h5.36v5.36h-5.36zM317.4 327.0h5.36v5.36h-5.36zM322.5 327.0h5.36v5.36h-5.36zM312.4 332.1h5.36v5.36h-5.36zM352.8 332.1h5.36v5.36h-5.36zM357.9 337.2h5.36v5.36h-5.36zM256.8 342.2h5.36v5.36h-5.36zM297.2 342.2h5.36v5.36h-5.36zM357.9 342.2h5.36v5.36h-5.36zM282.0 347.3h5.36v5.36h-5.36zM368.0 347.3h5.36v5.36h-5.36zM393.3 347.3h5.36v5.36h-5.36zM398.4 347.3h5.36v5.36h-5.36zM378.1 352.4h5.36v5.36h-5.36zM383.2 352.4h5.36v5.36h-5.36zM282.0 357.4h5.36v5.36h-5.36zM363.0 357.4h5.36v5.36h-5.36zM378.1 357.4h5.36v5.36h-5.36zM287.1 362.5h5.36v5.36h-5.36zM383.2 362.5h5.36v5.36h-5.36zM388.2 362.5h5.36v5.36h-5.36zM357.9 367.5h5.36v5.36h-5.36zM388.2 367.5h5.36v5.36h-5.36zM393.3 372.6h5.36v5.36h-5.36zM398.4 372.6h5.36v5.36h-5.36zM251.7 377.7h5.36v5.36h-5.36zM378.1 377.7h5.36v5.36h-5.36zM383.2 377.7h5.36v5.36h-5.36zM398.4 377.7h5.36v5.36h-5.36zM378.1 382.7h5.36v5.36h-5.36zM277.0 387.8h5.36v5.36h-5.36zM368.0 387.8h5.36v5.36h-5.36zM398.4 387.8h5.36v5.36h-5.36zM251.7 392.9h5.36v5.36h-5.36zM373.1 392.9h5.36v5.36h-5.36zM398.4 392.9h5.36v5.36h-5.36zM287.1 397.9h5.36v5.36h-5.36zM368.0 397.9h5.36v5.36h-5.36zM393.3 397.9h5.36v5.36h-5.36zM408.5 397.9h5.36v5.36h-5.36zM246.6 403.0h5.36v5.36h-5.36zM368.0 403.0h5.36v5.36h-5.36zM378.1 403.0h5.36v5.36h-5.36zM246.6 408.1h5.36v5.36h-5.36zM246.6 413.1h5.36v5.36h-5.36zM383.2 413.1h5.36v5.36h-5.36zM251.7 418.2h5.36v5.36h-5.36zM256.8 418.2h5.36v5.36h-5.36zM403.4 418.2h5.36v5.36h-5.36zM408.5 418.2h5.36v5.36h-5.36zM287.1 423.2h5.36v5.36h-5.36zM271.9 428.3h5.36v5.36h-5.36zM282.0 433.4h5.36v5.36h-5.36zM282.0 438.4h5.36v5.36h-5.36zM388.2 438.4h5.36v5.36h-5.36zM393.3 438.4h5.36v5.36h-5.36zM373.1 443.5h5.36v5.36h-5.36zM383.2 443.5h5.36v5.36h-5.36zM388.2 443.5h5.36v5.36h-5.36zM277.0 448.6h5.36v5.36h-5.36zM393.3 458.7h5.36v5.36h-5.36zM363.0 468.8h5.36v5.36h-5.36zM393.3 468.8h5.36v5.36h-5.36zM363.0 473.9h5.36v5.36h-5.36zM368.0 473.9h5.36v5.36h-5.36zM388.2 473.9h5.36v5.36h-5.36zM287.1 479.0h5.36v5.36h-5.36zM292.2 484.0h5.36v5.36h-5.36zM322.5 489.1h5.36v5.36h-5.36zM393.3 489.1h5.36v5.36h-5.36zM322.5 494.1h5.36v5.36h-5.36zM383.2 494.1h5.36v5.36h-5.36zM327.6 499.2h5.36v5.36h-5.36zM337.7 499.2h5.36v5.36h-5.36zM342.7 499.2h5.36v5.36h-5.36zM352.8 499.2h5.36v5.36h-5.36zM363.0 499.2h5.36v5.36h-5.36zM383.2 504.3h5.36v5.36h-5.36zM342.7 509.3h5.36v5.36h-5.36zM383.2 509.3h5.36v5.36h-5.36zM398.4 509.3h5.36v5.36h-5.36zM378.1 514.4h5.36v5.36h-5.36zM383.2 514.4h5.36v5.36h-5.36zM388.2 514.4h5.36v5.36h-5.36zM373.1 519.5h5.36v5.36h-5.36zM393.3 519.5h5.36v5.36h-5.36zM347.8 524.5h5.36v5.36h-5.36zM363.0 524.5h5.36v5.36h-5.36zM368.0 524.5h5.36v5.36h-5.36zM352.8 529.6h5.36v5.36h-5.36zM357.9 529.6h5.36v5.36h-5.36zM388.2 529.6h5.36v5.36h-5.36zM312.4 534.7h5.36v5.36h-5.36zM352.8 534.7h5.36v5.36h-5.36zM363.0 534.7h5.36v5.36h-5.36zM347.8 539.7h5.36v5.36h-5.36zM352.8 539.7h5.36v5.36h-5.36zM373.1 539.7h5.36v5.36h-5.36zM342.7 544.8h5.36v5.36h-5.36zM347.8 544.8h5.36v5.36h-5.36zM352.8 544.8h5.36v5.36h-5.36zM322.5 549.9h5.36v5.36h-5.36zM317.4 554.9h5.36v5.36h-5.36zM363.0 554.9h5.36v5.36h-5.36zM368.0 554.9h5.36v5.36h-5.36zM373.1 565.0h5.36v5.36h-5.36zM388.2 565.0h5.36v5.36h-5.36z"/>
<path fill="#5a6869" shape-rendering="crispEdges" d="M287.1 271.3h5.36v5.36h-5.36zM302.3 271.3h5.36v5.36h-5.36zM251.7 276.4h5.36v5.36h-5.36zM271.9 276.4h5.36v5.36h-5.36zM297.2 276.4h5.36v5.36h-5.36zM251.7 281.4h5.36v5.36h-5.36zM266.9 281.4h5.36v5.36h-5.36zM297.2 281.4h5.36v5.36h-5.36zM327.6 281.4h5.36v5.36h-5.36zM312.4 286.5h5.36v5.36h-5.36zM322.5 286.5h5.36v5.36h-5.36zM327.6 286.5h5.36v5.36h-5.36zM246.6 291.6h5.36v5.36h-5.36zM307.3 291.6h5.36v5.36h-5.36zM332.6 291.6h5.36v5.36h-5.36zM246.6 296.6h5.36v5.36h-5.36zM256.8 296.6h5.36v5.36h-5.36zM327.6 296.6h5.36v5.36h-5.36zM342.7 296.6h5.36v5.36h-5.36zM297.2 301.7h5.36v5.36h-5.36zM322.5 301.7h5.36v5.36h-5.36zM246.6 306.8h5.36v5.36h-5.36zM312.4 306.8h5.36v5.36h-5.36zM337.7 306.8h5.36v5.36h-5.36zM302.3 311.8h5.36v5.36h-5.36zM317.4 311.8h5.36v5.36h-5.36zM383.2 311.8h5.36v5.36h-5.36zM292.2 316.9h5.36v5.36h-5.36zM322.5 316.9h5.36v5.36h-5.36zM312.4 322.0h5.36v5.36h-5.36zM317.4 322.0h5.36v5.36h-5.36zM337.7 322.0h5.36v5.36h-5.36zM236.5 327.0h5.36v5.36h-5.36zM241.6 327.0h5.36v5.36h-5.36zM277.0 327.0h5.36v5.36h-5.36zM312.4 327.0h5.36v5.36h-5.36zM388.2 327.0h5.36v5.36h-5.36zM236.5 332.1h5.36v5.36h-5.36zM292.2 332.1h5.36v5.36h-5.36zM368.0 332.1h5.36v5.36h-5.36zM256.8 337.2h5.36v5.36h-5.36zM261.8 337.2h5.36v5.36h-5.36zM302.3 337.2h5.36v5.36h-5.36zM332.6 337.2h5.36v5.36h-5.36zM337.7 342.2h5.36v5.36h-5.36zM388.2 342.2h5.36v5.36h-5.36zM241.6 347.3h5.36v5.36h-5.36zM246.6 347.3h5.36v5.36h-5.36zM256.8 347.3h5.36v5.36h-5.36zM297.2 347.3h5.36v5.36h-5.36zM357.9 347.3h5.36v5.36h-5.36zM363.0 347.3h5.36v5.36h-5.36zM383.2 347.3h5.36v5.36h-5.36zM277.0 352.4h5.36v5.36h-5.36zM282.0 352.4h5.36v5.36h-5.36zM297.2 352.4h5.36v5.36h-5.36zM357.9 352.4h5.36v5.36h-5.36zM363.0 352.4h5.36v5.36h-5.36zM398.4 352.4h5.36v5.36h-5.36zM292.2 357.4h5.36v5.36h-5.36zM297.2 357.4h5.36v5.36h-5.36zM373.1 357.4h5.36v5.36h-5.36zM388.2 357.4h5.36v5.36h-5.36zM277.0 362.5h5.36v5.36h-5.36zM363.0 362.5h5.36v5.36h-5.36zM378.1 362.5h5.36v5.36h-5.36zM398.4 362.5h5.36v5.36h-5.36zM271.9 367.5h5.36v5.36h-5.36zM363.0 367.5h5.36v5.36h-5.36zM368.0 372.6h5.36v5.36h-5.36zM388.2 372.6h5.36v5.36h-5.36zM282.0 377.7h5.36v5.36h-5.36zM292.2 377.7h5.36v5.36h-5.36zM363.0 377.7h5.36v5.36h-5.36zM373.1 377.7h5.36v5.36h-5.36zM403.4 377.7h5.36v5.36h-5.36zM408.5 377.7h5.36v5.36h-5.36zM261.8 382.7h5.36v5.36h-5.36zM282.0 382.7h5.36v5.36h-5.36zM287.1 382.7h5.36v5.36h-5.36zM398.4 382.7h5.36v5.36h-5.36zM282.0 387.8h5.36v5.36h-5.36zM393.3 387.8h5.36v5.36h-5.36zM403.4 387.8h5.36v5.36h-5.36zM277.0 392.9h5.36v5.36h-5.36zM388.2 392.9h5.36v5.36h-5.36zM271.9 397.9h5.36v5.36h-5.36zM282.0 397.9h5.36v5.36h-5.36zM241.6 403.0h5.36v5.36h-5.36zM282.0 403.0h5.36v5.36h-5.36zM383.2 403.0h5.36v5.36h-5.36zM393.3 403.0h5.36v5.36h-5.36zM408.5 403.0h5.36v5.36h-5.36zM256.8 408.1h5.36v5.36h-5.36zM261.8 408.1h5.36v5.36h-5.36zM383.2 408.1h5.36v5.36h-5.36zM241.6 413.1h5.36v5.36h-5.36zM378.1 418.2h5.36v5.36h-5.36zM251.7 423.2h5.36v5.36h-5.36zM378.1 423.2h5.36v5.36h-5.36zM388.2 423.2h5.36v5.36h-5.36zM408.5 423.2h5.36v5.36h-5.36zM266.9 428.3h5.36v5.36h-5.36zM282.0 428.3h5.36v5.36h-5.36zM393.3 428.3h5.36v5.36h-5.36zM277.0 433.4h5.36v5.36h-5.36zM388.2 433.4h5.36v5.36h-5.36zM277.0 438.4h5.36v5.36h-5.36zM398.4 438.4h5.36v5.36h-5.36zM277.0 443.5h5.36v5.36h-5.36zM393.3 443.5h5.36v5.36h-5.36zM408.5 448.6h5.36v5.36h-5.36zM277.0 458.7h5.36v5.36h-5.36zM282.0 463.8h5.36v5.36h-5.36zM287.1 468.8h5.36v5.36h-5.36zM403.4 468.8h5.36v5.36h-5.36zM408.5 468.8h5.36v5.36h-5.36zM287.1 473.9h5.36v5.36h-5.36zM292.2 473.9h5.36v5.36h-5.36zM297.2 484.0h5.36v5.36h-5.36zM307.3 489.1h5.36v5.36h-5.36zM317.4 489.1h5.36v5.36h-5.36zM398.4 489.1h5.36v5.36h-5.36zM408.5 489.1h5.36v5.36h-5.36zM307.3 494.1h5.36v5.36h-5.36zM317.4 494.1h5.36v5.36h-5.36zM357.9 499.2h5.36v5.36h-5.36zM398.4 499.2h5.36v5.36h-5.36zM403.4 499.2h5.36v5.36h-5.36zM327.6 504.3h5.36v5.36h-5.36zM398.4 504.3h5.36v5.36h-5.36zM307.3 509.3h5.36v5.36h-5.36zM337.7 509.3h5.36v5.36h-5.36zM388.2 509.3h5.36v5.36h-5.36zM393.3 509.3h5.36v5.36h-5.36zM337.7 514.4h5.36v5.36h-5.36zM357.9 514.4h5.36v5.36h-5.36zM403.4 514.4h5.36v5.36h-5.36zM302.3 519.5h5.36v5.36h-5.36zM307.3 519.5h5.36v5.36h-5.36zM317.4 519.5h5.36v5.36h-5.36zM347.8 519.5h5.36v5.36h-5.36zM352.8 519.5h5.36v5.36h-5.36zM373.1 524.5h5.36v5.36h-5.36zM398.4 524.5h5.36v5.36h-5.36zM312.4 529.6h5.36v5.36h-5.36zM393.3 529.6h5.36v5.36h-5.36zM347.8 534.7h5.36v5.36h-5.36zM312.4 539.7h5.36v5.36h-5.36zM337.7 539.7h5.36v5.36h-5.36zM342.7 539.7h5.36v5.36h-5.36zM357.9 539.7h5.36v5.36h-5.36zM393.3 544.8h5.36v5.36h-5.36zM332.6 549.9h5.36v5.36h-5.36zM337.7 549.9h5.36v5.36h-5.36zM363.0 549.9h5.36v5.36h-5.36zM352.8 554.9h5.36v5.36h-5.36zM378.1 554.9h5.36v5.36h-5.36zM383.2 554.9h5.36v5.36h-5.36zM342.7 560.0h5.36v5.36h-5.36zM378.1 560.0h5.36v5.36h-5.36zM342.7 565.0h5.36v5.36h-5.36zM368.0 565.0h5.36v5.36h-5.36zM393.3 565.0h5.36v5.36h-5.36zM357.9 570.1h5.36v5.36h-5.36zM398.4 570.1h5.36v5.36h-5.36z"/>
<path fill="#627071" shape-rendering="crispEdges" d="M266.9 261.2h5.36v5.36h-5.36zM266.9 266.3h5.36v5.36h-5.36zM307.3 266.3h5.36v5.36h-5.36zM312.4 266.3h5.36v5.36h-5.36zM261.8 271.3h5.36v5.36h-5.36zM297.2 271.3h5.36v5.36h-5.36zM317.4 271.3h5.36v5.36h-5.36zM337.7 271.3h5.36v5.36h-5.36zM246.6 276.4h5.36v5.36h-5.36zM266.9 276.4h5.36v5.36h-5.36zM282.0 276.4h5.36v5.36h-5.36zM302.3 276.4h5.36v5.36h-5.36zM322.5 276.4h5.36v5.36h-5.36zM332.6 276.4h5.36v5.36h-5.36zM246.6 281.4h5.36v5.36h-5.36zM271.9 281.4h5.36v5.36h-5.36zM287.1 281.4h5.36v5.36h-5.36zM292.2 281.4h5.36v5.36h-5.36zM302.3 281.4h5.36v5.36h-5.36zM322.5 281.4h5.36v5.36h-5.36zM332.6 281.4h5.36v5.36h-5.36zM266.9 286.5h5.36v5.36h-5.36zM271.9 286.5h5.36v5.36h-5.36zM277.0 286.5h5.36v5.36h-5.36zM342.7 286.5h5.36v5.36h-5.36zM231.5 291.6h5.36v5.36h-5.36zM251.7 291.6h5.36v5.36h-5.36zM261.8 291.6h5.36v5.36h-5.36zM312.4 291.6h5.36v5.36h-5.36zM342.7 291.6h5.36v5.36h-5.36zM241.6 296.6h5.36v5.36h-5.36zM302.3 296.6h5.36v5.36h-5.36zM322.5 296.6h5.36v5.36h-5.36zM332.6 296.6h5.36v5.36h-5.36zM347.8 296.6h5.36v5.36h-5.36zM251.7 301.7h5.36v5.36h-5.36zM317.4 306.8h5.36v5.36h-5.36zM251.7 311.8h5.36v5.36h-5.36zM282.0 311.8h5.36v5.36h-5.36zM342.7 311.8h5.36v5.36h-5.36zM352.8 311.8h5.36v5.36h-5.36zM287.1 316.9h5.36v5.36h-5.36zM302.3 316.9h5.36v5.36h-5.36zM307.3 316.9h5.36v5.36h-5.36zM337.7 316.9h5.36v5.36h-5.36zM342.7 316.9h5.36v5.36h-5.36zM287.1 322.0h5.36v5.36h-5.36zM292.2 322.0h5.36v5.36h-5.36zM342.7 327.0h5.36v5.36h-5.36zM347.8 327.0h5.36v5.36h-5.36zM352.8 327.0h5.36v5.36h-5.36zM241.6 332.1h5.36v5.36h-5.36zM332.6 332.1h5.36v5.36h-5.36zM337.7 332.1h5.36v5.36h-5.36zM342.7 332.1h5.36v5.36h-5.36zM347.8 332.1h5.36v5.36h-5.36zM373.1 332.1h5.36v5.36h-5.36zM251.7 337.2h5.36v5.36h-5.36zM292.2 337.2h5.36v5.36h-5.36zM297.2 337.2h5.36v5.36h-5.36zM342.7 337.2h5.36v5.36h-5.36zM368.0 337.2h5.36v5.36h-5.36zM251.7 342.2h5.36v5.36h-5.36zM342.7 342.2h5.36v5.36h-5.36zM347.8 342.2h5.36v5.36h-5.36zM352.8 342.2h5.36v5.36h-5.36zM368.0 342.2h5.36v5.36h-5.36zM393.3 342.2h5.36v5.36h-5.36zM236.5 347.3h5.36v5.36h-5.36zM277.0 347.3h5.36v5.36h-5.36zM378.1 347.3h5.36v5.36h-5.36zM256.8 352.4h5.36v5.36h-5.36zM266.9 357.4h5.36v5.36h-5.36zM271.9 357.4h5.36v5.36h-5.36zM277.0 357.4h5.36v5.36h-5.36zM393.3 357.4h5.36v5.36h-5.36zM408.5 357.4h5.36v5.36h-5.36zM282.0 362.5h5.36v5.36h-5.36zM368.0 362.5h5.36v5.36h-5.36zM408.5 362.5h5.36v5.36h-5.36zM277.0 367.5h5.36v5.36h-5.36zM282.0 367.5h5.36v5.36h-5.36zM373.1 367.5h5.36v5.36h-5.36zM393.3 367.5h5.36v5.36h-5.36zM403.4 367.5h5.36v5.36h-5.36zM266.9 372.6h5.36v5.36h-5.36zM271.9 372.6h5.36v5.36h-5.36zM277.0 372.6h5.36v5.36h-5.36zM282.0 372.6h5.36v5.36h-5.36zM383.2 372.6h5.36v5.36h-5.36zM403.4 372.6h5.36v5.36h-5.36zM287.1 377.7h5.36v5.36h-5.36zM256.8 382.7h5.36v5.36h-5.36zM266.9 382.7h5.36v5.36h-5.36zM271.9 382.7h5.36v5.36h-5.36zM373.1 382.7h5.36v5.36h-5.36zM393.3 382.7h5.36v5.36h-5.36zM403.4 382.7h5.36v5.36h-5.36zM256.8 387.8h5.36v5.36h-5.36zM261.8 387.8h5.36v5.36h-5.36zM388.2 387.8h5.36v5.36h-5.36zM246.6 392.9h5.36v5.36h-5.36zM256.8 392.9h5.36v5.36h-5.36zM393.3 392.9h5.36v5.36h-5.36zM403.4 392.9h5.36v5.36h-5.36zM408.5 392.9h5.36v5.36h-5.36zM241.6 397.9h5.36v5.36h-5.36zM413.5 397.9h5.36v5.36h-5.36zM373.1 403.0h5.36v5.36h-5.36zM398.4 403.0h5.36v5.36h-5.36zM266.9 408.1h5.36v5.36h-5.36zM373.1 408.1h5.36v5.36h-5.36zM398.4 408.1h5.36v5.36h-5.36zM266.9 413.1h5.36v5.36h-5.36zM393.3 413.1h5.36v5.36h-5.36zM246.6 418.2h5.36v5.36h-5.36zM261.8 418.2h5.36v5.36h-5.36zM266.9 418.2h5.36v5.36h-5.36zM383.2 418.2h5.36v5.36h-5.36zM398.4 418.2h5.36v5.36h-5.36zM256.8 423.2h5.36v5.36h-5.36zM261.8 423.2h5.36v5.36h-5.36zM383.2 423.2h5.36v5.36h-5.36zM251.7 428.3h5.36v5.36h-5.36zM388.2 428.3h5.36v5.36h-5.36zM266.9 433.4h5.36v5.36h-5.36zM271.9 433.4h5.36v5.36h-5.36zM408.5 433.4h5.36v5.36h-5.36zM271.9 438.4h5.36v5.36h-5.36zM403.4 438.4h5.36v5.36h-5.36zM413.5 438.4h5.36v5.36h-5.36zM271.9 443.5h5.36v5.36h-5.36zM408.5 443.5h5.36v5.36h-5.36zM261.8 448.6h5.36v5.36h-5.36zM398.4 448.6h5.36v5.36h-5.36zM413.5 448.6h5.36v5.36h-5.36zM398.4 468.8h5.36v5.36h-5.36zM282.0 473.9h5.36v5.36h-5.36zM398.4 473.9h5.36v5.36h-5.36zM408.5 473.9h5.36v5.36h-5.36zM413.5 473.9h5.36v5.36h-5.36zM398.4 479.0h5.36v5.36h-5.36zM408.5 479.0h5.36v5.36h-5.36zM287.1 484.0h5.36v5.36h-5.36zM312.4 489.1h5.36v5.36h-5.36zM403.4 489.1h5.36v5.36h-5.36zM312.4 494.1h5.36v5.36h-5.36zM398.4 494.1h5.36v5.36h-5.36zM302.3 499.2h5.36v5.36h-5.36zM312.4 499.2h5.36v5.36h-5.36zM347.8 499.2h5.36v5.36h-5.36zM408.5 499.2h5.36v5.36h-5.36zM342.7 504.3h5.36v5.36h-5.36zM347.8 504.3h5.36v5.36h-5.36zM352.8 504.3h5.36v5.36h-5.36zM357.9 504.3h5.36v5.36h-5.36zM363.0 504.3h5.36v5.36h-5.36zM317.4 509.3h5.36v5.36h-5.36zM357.9 509.3h5.36v5.36h-5.36zM363.0 509.3h5.36v5.36h-5.36zM403.4 509.3h5.36v5.36h-5.36zM307.3 514.4h5.36v5.36h-5.36zM327.6 514.4h5.36v5.36h-5.36zM352.8 514.4h5.36v5.36h-5.36zM363.0 514.4h5.36v5.36h-5.36zM393.3 514.4h5.36v5.36h-5.36zM297.2 519.5h5.36v5.36h-5.36zM312.4 519.5h5.36v5.36h-5.36zM327.6 519.5h5.36v5.36h-5.36zM332.6 519.5h5.36v5.36h-5.36zM302.3 524.5h5.36v5.36h-5.36zM327.6 524.5h5.36v5.36h-5.36zM302.3 529.6h5.36v5.36h-5.36zM307.3 529.6h5.36v5.36h-5.36zM347.8 529.6h5.36v5.36h-5.36zM302.3 534.7h5.36v5.36h-5.36zM332.6 534.7h5.36v5.36h-5.36zM337.7 534.7h5.36v5.36h-5.36zM342.7 534.7h5.36v5.36h-5.36zM388.2 534.7h5.36v5.36h-5.36zM312.4 544.8h5.36v5.36h-5.36zM363.0 544.8h5.36v5.36h-5.36zM388.2 544.8h5.36v5.36h-5.36zM357.9 549.9h5.36v5.36h-5.36zM388.2 549.9h5.36v5.36h-5.36zM322.5 554.9h5.36v5.36h-5.36zM357.9 554.9h5.36v5.36h-5.36zM327.6 560.0h5.36v5.36h-5.36zM332.6 560.0h5.36v5.36h-5.36zM337.7 560.0h5.36v5.36h-5.36zM347.8 560.0h5.36v5.36h-5.36zM352.8 560.0h5.36v5.36h-5.36zM363.0 560.0h5.36v5.36h-5.36zM368.0 560.0h5.36v5.36h-5.36zM383.2 560.0h5.36v5.36h-5.36zM332.6 565.0h5.36v5.36h-5.36zM337.7 565.0h5.36v5.36h-5.36zM363.0 565.0h5.36v5.36h-5.36zM363.0 570.1h5.36v5.36h-5.36zM368.0 570.1h5.36v5.36h-5.36zM393.3 570.1h5.36v5.36h-5.36zM403.4 570.1h5.36v5.36h-5.36zM342.7 575.2h5.36v5.36h-5.36zM363.0 575.2h5.36v5.36h-5.36zM368.0 575.2h5.36v5.36h-5.36z"/>
<path fill="#6a7879" shape-rendering="crispEdges" d="M271.9 256.1h5.36v5.36h-5.36zM256.8 266.3h5.36v5.36h-5.36zM292.2 266.3h5.36v5.36h-5.36zM317.4 266.3h5.36v5.36h-5.36zM332.6 266.3h5.36v5.36h-5.36zM256.8 271.3h5.36v5.36h-5.36zM271.9 271.3h5.36v5.36h-5.36zM292.2 271.3h5.36v5.36h-5.36zM322.5 271.3h5.36v5.36h-5.36zM332.6 271.3h5.36v5.36h-5.36zM342.7 271.3h5.36v5.36h-5.36zM277.0 276.4h5.36v5.36h-5.36zM256.8 281.4h5.36v5.36h-5.36zM282.0 281.4h5.36v5.36h-5.36zM337.7 281.4h5.36v5.36h-5.36zM251.7 286.5h5.36v5.36h-5.36zM292.2 286.5h5.36v5.36h-5.36zM317.4 286.5h5.36v5.36h-5.36zM332.6 286.5h5.36v5.36h-5.36zM256.8 291.6h5.36v5.36h-5.36zM302.3 291.6h5.36v5.36h-5.36zM287.1 296.6h5.36v5.36h-5.36zM297.2 296.6h5.36v5.36h-5.36zM317.4 296.6h5.36v5.36h-5.36zM241.6 301.7h5.36v5.36h-5.36zM246.6 301.7h5.36v5.36h-5.36zM327.6 301.7h5.36v5.36h-5.36zM332.6 301.7h5.36v5.36h-5.36zM337.7 301.7h5.36v5.36h-5.36zM347.8 301.7h5.36v5.36h-5.36zM297.2 306.8h5.36v5.36h-5.36zM302.3 306.8h5.36v5.36h-5.36zM342.7 306.8h5.36v5.36h-5.36zM256.8 311.8h5.36v5.36h-5.36zM297.2 311.8h5.36v5.36h-5.36zM307.3 311.8h5.36v5.36h-5.36zM347.8 311.8h5.36v5.36h-5.36zM357.9 311.8h5.36v5.36h-5.36zM388.2 311.8h5.36v5.36h-5.36zM312.4 316.9h5.36v5.36h-5.36zM327.6 316.9h5.36v5.36h-5.36zM297.2 322.0h5.36v5.36h-5.36zM282.0 327.0h5.36v5.36h-5.36zM287.1 327.0h5.36v5.36h-5.36zM292.2 327.0h5.36v5.36h-5.36zM327.6 327.0h5.36v5.36h-5.36zM332.6 327.0h5.36v5.36h-5.36zM337.7 327.0h5.36v5.36h-5.36zM368.0 327.0h5.36v5.36h-5.36zM383.2 327.0h5.36v5.36h-5.36zM231.5 332.1h5.36v5.36h-5.36zM282.0 332.1h5.36v5.36h-5.36zM327.6 332.1h5.36v5.36h-5.36zM246.6 337.2h5.36v5.36h-5.36zM287.1 337.2h5.36v5.36h-5.36zM337.7 337.2h5.36v5.36h-5.36zM347.8 337.2h5.36v5.36h-5.36zM388.2 337.2h5.36v5.36h-5.36zM393.3 337.2h5.36v5.36h-5.36zM246.6 342.2h5.36v5.36h-5.36zM277.0 342.2h5.36v5.36h-5.36zM282.0 342.2h5.36v5.36h-5.36zM287.1 342.2h5.36v5.36h-5.36zM292.2 342.2h5.36v5.36h-5.36zM251.7 347.3h5.36v5.36h-5.36zM241.6 352.4h5.36v5.36h-5.36zM246.6 352.4h5.36v5.36h-5.36zM403.4 352.4h5.36v5.36h-5.36zM261.8 357.4h5.36v5.36h-5.36zM287.1 357.4h5.36v5.36h-5.36zM368.0 357.4h5.36v5.36h-5.36zM398.4 357.4h5.36v5.36h-5.36zM403.4 357.4h5.36v5.36h-5.36zM256.8 362.5h5.36v5.36h-5.36zM271.9 362.5h5.36v5.36h-5.36zM373.1 362.5h5.36v5.36h-5.36zM393.3 362.5h5.36v5.36h-5.36zM251.7 367.5h5.36v5.36h-5.36zM266.9 367.5h5.36v5.36h-5.36zM368.0 367.5h5.36v5.36h-5.36zM383.2 367.5h5.36v5.36h-5.36zM373.1 372.6h5.36v5.36h-5.36zM408.5 372.6h5.36v5.36h-5.36zM256.8 377.7h5.36v5.36h-5.36zM261.8 377.7h5.36v5.36h-5.36zM266.9 377.7h5.36v5.36h-5.36zM368.0 377.7h5.36v5.36h-5.36zM388.2 377.7h5.36v5.36h-5.36zM393.3 377.7h5.36v5.36h-5.36zM413.5 377.7h5.36v5.36h-5.36zM408.5 382.7h5.36v5.36h-5.36zM373.1 387.8h5.36v5.36h-5.36zM383.2 387.8h5.36v5.36h-5.36zM241.6 392.9h5.36v5.36h-5.36zM261.8 392.9h5.36v5.36h-5.36zM378.1 392.9h5.36v5.36h-5.36zM236.5 397.9h5.36v5.36h-5.36zM373.1 397.9h5.36v5.36h-5.36zM403.4 397.9h5.36v5.36h-5.36zM236.5 403.0h5.36v5.36h-5.36zM277.0 403.0h5.36v5.36h-5.36zM403.4 403.0h5.36v5.36h-5.36zM413.5 403.0h5.36v5.36h-5.36zM388.2 413.1h5.36v5.36h-5.36zM398.4 413.1h5.36v5.36h-5.36zM403.4 413.1h5.36v5.36h-5.36zM388.2 418.2h5.36v5.36h-5.36zM413.5 418.2h5.36v5.36h-5.36zM418.6 418.2h5.36v5.36h-5.36zM398.4 423.2h5.36v5.36h-5.36zM403.4 423.2h5.36v5.36h-5.36zM418.6 423.2h5.36v5.36h-5.36zM246.6 428.3h5.36v5.36h-5.36zM261.8 428.3h5.36v5.36h-5.36zM408.5 428.3h5.36v5.36h-5.36zM413.5 428.3h5.36v5.36h-5.36zM261.8 433.4h5.36v5.36h-5.36zM393.3 433.4h5.36v5.36h-5.36zM266.9 438.4h5.36v5.36h-5.36zM266.9 448.6h5.36v5.36h-5.36zM261.8 453.6h5.36v5.36h-5.36zM266.9 453.6h5.36v5.36h-5.36zM271.9 453.6h5.36v5.36h-5.36zM398.4 453.6h5.36v5.36h-5.36zM413.5 453.6h5.36v5.36h-5.36zM408.5 463.8h5.36v5.36h-5.36zM282.0 468.8h5.36v5.36h-5.36zM403.4 473.9h5.36v5.36h-5.36zM287.1 489.1h5.36v5.36h-5.36zM292.2 489.1h5.36v5.36h-5.36zM413.5 489.1h5.36v5.36h-5.36zM297.2 494.1h5.36v5.36h-5.36zM403.4 494.1h5.36v5.36h-5.36zM408.5 494.1h5.36v5.36h-5.36zM271.9 499.2h5.36v5.36h-5.36zM287.1 499.2h5.36v5.36h-5.36zM297.2 499.2h5.36v5.36h-5.36zM317.4 499.2h5.36v5.36h-5.36zM428.7 499.2h5.36v5.36h-5.36zM297.2 504.3h5.36v5.36h-5.36zM312.4 504.3h5.36v5.36h-5.36zM317.4 504.3h5.36v5.36h-5.36zM322.5 504.3h5.36v5.36h-5.36zM332.6 504.3h5.36v5.36h-5.36zM337.7 504.3h5.36v5.36h-5.36zM408.5 504.3h5.36v5.36h-5.36zM413.5 504.3h5.36v5.36h-5.36zM322.5 509.3h5.36v5.36h-5.36zM317.4 514.4h5.36v5.36h-5.36zM322.5 514.4h5.36v5.36h-5.36zM332.6 514.4h5.36v5.36h-5.36zM342.7 514.4h5.36v5.36h-5.36zM398.4 519.5h5.36v5.36h-5.36zM403.4 519.5h5.36v5.36h-5.36zM307.3 524.5h5.36v5.36h-5.36zM312.4 524.5h5.36v5.36h-5.36zM342.7 524.5h5.36v5.36h-5.36zM403.4 524.5h5.36v5.36h-5.36zM297.2 529.6h5.36v5.36h-5.36zM327.6 529.6h5.36v5.36h-5.36zM332.6 529.6h5.36v5.36h-5.36zM337.7 529.6h5.36v5.36h-5.36zM297.2 534.7h5.36v5.36h-5.36zM317.4 534.7h5.36v5.36h-5.36zM322.5 534.7h5.36v5.36h-5.36zM327.6 534.7h5.36v5.36h-5.36zM393.3 534.7h5.36v5.36h-5.36zM398.4 534.7h5.36v5.36h-5.36zM307.3 539.7h5.36v5.36h-5.36zM317.4 539.7h5.36v5.36h-5.36zM322.5 539.7h5.36v5.36h-5.36zM393.3 539.7h5.36v5.36h-5.36zM307.3 544.8h5.36v5.36h-5.36zM357.9 544.8h5.36v5.36h-5.36zM327.6 554.9h5.36v5.36h-5.36zM332.6 554.9h5.36v5.36h-5.36zM393.3 554.9h5.36v5.36h-5.36zM307.3 560.0h5.36v5.36h-5.36zM312.4 560.0h5.36v5.36h-5.36zM322.5 560.0h5.36v5.36h-5.36zM357.9 560.0h5.36v5.36h-5.36zM388.2 560.0h5.36v5.36h-5.36zM393.3 560.0h5.36v5.36h-5.36zM398.4 560.0h5.36v5.36h-5.36zM403.4 560.0h5.36v5.36h-5.36zM347.8 565.0h5.36v5.36h-5.36zM352.8 565.0h5.36v5.36h-5.36zM357.9 565.0h5.36v5.36h-5.36zM378.1 565.0h5.36v5.36h-5.36zM383.2 565.0h5.36v5.36h-5.36zM373.1 570.1h5.36v5.36h-5.36zM388.2 570.1h5.36v5.36h-5.36zM357.9 575.2h5.36v5.36h-5.36zM378.1 590.4h5.36v5.36h-5.36z"/>
<path fill="#728081" shape-rendering="crispEdges" d="M317.4 251.1h5.36v5.36h-5.36zM266.9 256.1h5.36v5.36h-5.36zM271.9 261.2h5.36v5.36h-5.36zM282.0 261.2h5.36v5.36h-5.36zM261.8 266.3h5.36v5.36h-5.36zM282.0 266.3h5.36v5.36h-5.36zM297.2 266.3h5.36v5.36h-5.36zM302.3 266.3h5.36v5.36h-5.36zM277.0 271.3h5.36v5.36h-5.36zM282.0 271.3h5.36v5.36h-5.36zM327.6 271.3h5.36v5.36h-5.36zM287.1 276.4h5.36v5.36h-5.36zM317.4 276.4h5.36v5.36h-5.36zM327.6 276.4h5.36v5.36h-5.36zM342.7 276.4h5.36v5.36h-5.36zM347.8 276.4h5.36v5.36h-5.36zM307.3 281.4h5.36v5.36h-5.36zM317.4 281.4h5.36v5.36h-5.36zM342.7 281.4h5.36v5.36h-5.36zM352.8 281.4h5.36v5.36h-5.36zM231.5 286.5h5.36v5.36h-5.36zM236.5 286.5h5.36v5.36h-5.36zM241.6 286.5h5.36v5.36h-5.36zM261.8 286.5h5.36v5.36h-5.36zM282.0 286.5h5.36v5.36h-5.36zM287.1 286.5h5.36v5.36h-5.36zM302.3 286.5h5.36v5.36h-5.36zM241.6 291.6h5.36v5.36h-5.36zM266.9 291.6h5.36v5.36h-5.36zM271.9 291.6h5.36v5.36h-5.36zM277.0 291.6h5.36v5.36h-5.36zM282.0 291.6h5.36v5.36h-5.36zM292.2 291.6h5.36v5.36h-5.36zM297.2 291.6h5.36v5.36h-5.36zM317.4 291.6h5.36v5.36h-5.36zM357.9 291.6h5.36v5.36h-5.36zM388.2 291.6h5.36v5.36h-5.36zM236.5 296.6h5.36v5.36h-5.36zM261.8 296.6h5.36v5.36h-5.36zM282.0 296.6h5.36v5.36h-5.36zM292.2 296.6h5.36v5.36h-5.36zM352.8 296.6h5.36v5.36h-5.36zM231.5 301.7h5.36v5.36h-5.36zM277.0 301.7h5.36v5.36h-5.36zM292.2 301.7h5.36v5.36h-5.36zM307.3 301.7h5.36v5.36h-5.36zM317.4 301.7h5.36v5.36h-5.36zM357.9 301.7h5.36v5.36h-5.36zM226.4 306.8h5.36v5.36h-5.36zM236.5 306.8h5.36v5.36h-5.36zM256.8 306.8h5.36v5.36h-5.36zM292.2 306.8h5.36v5.36h-5.36zM347.8 306.8h5.36v5.36h-5.36zM352.8 306.8h5.36v5.36h-5.36zM357.9 306.8h5.36v5.36h-5.36zM277.0 311.8h5.36v5.36h-5.36zM287.1 311.8h5.36v5.36h-5.36zM337.7 311.8h5.36v5.36h-5.36zM378.1 311.8h5.36v5.36h-5.36zM226.4 316.9h5.36v5.36h-5.36zM246.6 316.9h5.36v5.36h-5.36zM251.7 316.9h5.36v5.36h-5.36zM297.2 316.9h5.36v5.36h-5.36zM332.6 316.9h5.36v5.36h-5.36zM347.8 316.9h5.36v5.36h-5.36zM352.8 316.9h5.36v5.36h-5.36zM357.9 316.9h5.36v5.36h-5.36zM231.5 322.0h5.36v5.36h-5.36zM251.7 322.0h5.36v5.36h-5.36zM302.3 322.0h5.36v5.36h-5.36zM327.6 322.0h5.36v5.36h-5.36zM332.6 322.0h5.36v5.36h-5.36zM347.8 322.0h5.36v5.36h-5.36zM357.9 322.0h5.36v5.36h-5.36zM378.1 322.0h5.36v5.36h-5.36zM221.4 327.0h5.36v5.36h-5.36zM231.5 327.0h5.36v5.36h-5.36zM271.9 327.0h5.36v5.36h-5.36zM297.2 327.0h5.36v5.36h-5.36zM363.0 327.0h5.36v5.36h-5.36zM373.1 327.0h5.36v5.36h-5.36zM393.3 327.0h5.36v5.36h-5.36zM226.4 332.1h5.36v5.36h-5.36zM266.9 332.1h5.36v5.36h-5.36zM277.0 332.1h5.36v5.36h-5.36zM287.1 332.1h5.36v5.36h-5.36zM297.2 332.1h5.36v5.36h-5.36zM302.3 332.1h5.36v5.36h-5.36zM383.2 332.1h5.36v5.36h-5.36zM388.2 332.1h5.36v5.36h-5.36zM393.3 332.1h5.36v5.36h-5.36zM221.4 337.2h5.36v5.36h-5.36zM266.9 337.2h5.36v5.36h-5.36zM271.9 337.2h5.36v5.36h-5.36zM327.6 337.2h5.36v5.36h-5.36zM352.8 337.2h5.36v5.36h-5.36zM373.1 337.2h5.36v5.36h-5.36zM266.9 342.2h5.36v5.36h-5.36zM373.1 342.2h5.36v5.36h-5.36zM261.8 347.3h5.36v5.36h-5.36zM266.9 347.3h5.36v5.36h-5.36zM287.1 347.3h5.36v5.36h-5.36zM292.2 347.3h5.36v5.36h-5.36zM251.7 352.4h5.36v5.36h-5.36zM292.2 352.4h5.36v5.36h-5.36zM256.8 357.4h5.36v5.36h-5.36zM251.7 362.5h5.36v5.36h-5.36zM266.9 362.5h5.36v5.36h-5.36zM413.5 362.5h5.36v5.36h-5.36zM241.6 367.5h5.36v5.36h-5.36zM261.8 367.5h5.36v5.36h-5.36zM378.1 367.5h5.36v5.36h-5.36zM408.5 367.5h5.36v5.36h-5.36zM241.6 372.6h5.36v5.36h-5.36zM378.1 372.6h5.36v5.36h-5.36zM246.6 377.7h5.36v5.36h-5.36zM271.9 377.7h5.36v5.36h-5.36zM277.0 377.7h5.36v5.36h-5.36zM277.0 382.7h5.36v5.36h-5.36zM368.0 382.7h5.36v5.36h-5.36zM388.2 382.7h5.36v5.36h-5.36zM413.5 382.7h5.36v5.36h-5.36zM246.6 387.8h5.36v5.36h-5.36zM266.9 387.8h5.36v5.36h-5.36zM271.9 387.8h5.36v5.36h-5.36zM378.1 387.8h5.36v5.36h-5.36zM266.9 392.9h5.36v5.36h-5.36zM383.2 392.9h5.36v5.36h-5.36zM236.5 408.1h5.36v5.36h-5.36zM282.0 408.1h5.36v5.36h-5.36zM388.2 408.1h5.36v5.36h-5.36zM393.3 408.1h5.36v5.36h-5.36zM403.4 408.1h5.36v5.36h-5.36zM408.5 408.1h5.36v5.36h-5.36zM413.5 408.1h5.36v5.36h-5.36zM418.6 408.1h5.36v5.36h-5.36zM236.5 413.1h5.36v5.36h-5.36zM271.9 413.1h5.36v5.36h-5.36zM282.0 413.1h5.36v5.36h-5.36zM408.5 413.1h5.36v5.36h-5.36zM413.5 413.1h5.36v5.36h-5.36zM241.6 418.2h5.36v5.36h-5.36zM277.0 418.2h5.36v5.36h-5.36zM393.3 418.2h5.36v5.36h-5.36zM241.6 423.2h5.36v5.36h-5.36zM246.6 423.2h5.36v5.36h-5.36zM266.9 423.2h5.36v5.36h-5.36zM271.9 423.2h5.36v5.36h-5.36zM277.0 428.3h5.36v5.36h-5.36zM251.7 433.4h5.36v5.36h-5.36zM251.7 438.4h5.36v5.36h-5.36zM408.5 438.4h5.36v5.36h-5.36zM251.7 443.5h5.36v5.36h-5.36zM266.9 443.5h5.36v5.36h-5.36zM403.4 443.5h5.36v5.36h-5.36zM256.8 448.6h5.36v5.36h-5.36zM271.9 448.6h5.36v5.36h-5.36zM403.4 448.6h5.36v5.36h-5.36zM256.8 453.6h5.36v5.36h-5.36zM398.4 458.7h5.36v5.36h-5.36zM403.4 458.7h5.36v5.36h-5.36zM408.5 458.7h5.36v5.36h-5.36zM256.8 468.8h5.36v5.36h-5.36zM277.0 468.8h5.36v5.36h-5.36zM413.5 468.8h5.36v5.36h-5.36zM418.6 468.8h5.36v5.36h-5.36zM423.6 468.8h5.36v5.36h-5.36zM423.6 473.9h5.36v5.36h-5.36zM413.5 479.0h5.36v5.36h-5.36zM398.4 484.0h5.36v5.36h-5.36zM408.5 484.0h5.36v5.36h-5.36zM282.0 489.1h5.36v5.36h-5.36zM287.1 494.1h5.36v5.36h-5.36zM292.2 494.1h5.36v5.36h-5.36zM413.5 494.1h5.36v5.36h-5.36zM266.9 499.2h5.36v5.36h-5.36zM322.5 499.2h5.36v5.36h-5.36zM413.5 499.2h5.36v5.36h-5.36zM292.2 504.3h5.36v5.36h-5.36zM302.3 504.3h5.36v5.36h-5.36zM307.3 504.3h5.36v5.36h-5.36zM403.4 504.3h5.36v5.36h-5.36zM282.0 509.3h5.36v5.36h-5.36zM327.6 509.3h5.36v5.36h-5.36zM352.8 509.3h5.36v5.36h-5.36zM413.5 509.3h5.36v5.36h-5.36zM297.2 514.4h5.36v5.36h-5.36zM347.8 514.4h5.36v5.36h-5.36zM287.1 519.5h5.36v5.36h-5.36zM337.7 519.5h5.36v5.36h-5.36zM342.7 519.5h5.36v5.36h-5.36zM292.2 524.5h5.36v5.36h-5.36zM297.2 524.5h5.36v5.36h-5.36zM332.6 524.5h5.36v5.36h-5.36zM337.7 524.5h5.36v5.36h-5.36zM292.2 529.6h5.36v5.36h-5.36zM317.4 529.6h5.36v5.36h-5.36zM398.4 529.6h5.36v5.36h-5.36zM418.6 529.6h5.36v5.36h-5.36zM307.3 534.7h5.36v5.36h-5.36zM418.6 534.7h5.36v5.36h-5.36zM292.2 539.7h5.36v5.36h-5.36zM322.5 544.8h5.36v5.36h-5.36zM428.7 544.8h5.36v5.36h-5.36zM327.6 549.9h5.36v5.36h-5.36zM342.7 549.9h5.36v5.36h-5.36zM347.8 549.9h5.36v5.36h-5.36zM352.8 549.9h5.36v5.36h-5.36zM342.7 554.9h5.36v5.36h-5.36zM388.2 554.9h5.36v5.36h-5.36zM317.4 560.0h5.36v5.36h-5.36zM327.6 565.0h5.36v5.36h-5.36zM408.5 565.0h5.36v5.36h-5.36zM322.5 570.1h5.36v5.36h-5.36zM342.7 570.1h5.36v5.36h-5.36zM347.8 570.1h5.36v5.36h-5.36zM383.2 570.1h5.36v5.36h-5.36zM337.7 575.2h5.36v5.36h-5.36zM373.1 575.2h5.36v5.36h-5.36zM388.2 575.2h5.36v5.36h-5.36zM393.3 575.2h5.36v5.36h-5.36zM398.4 575.2h5.36v5.36h-5.36zM363.0 580.2h5.36v5.36h-5.36zM378.1 580.2h5.36v5.36h-5.36zM383.2 580.2h5.36v5.36h-5.36zM368.0 585.3h5.36v5.36h-5.36zM352.8 590.4h5.36v5.36h-5.36zM347.8 595.4h5.36v5.36h-5.36zM352.8 595.4h5.36v5.36h-5.36zM357.9 595.4h5.36v5.36h-5.36zM363.0 595.4h5.36v5.36h-5.36z"/>
<path fill="#7a8889" shape-rendering="crispEdges" d="M302.3 246.0h5.36v5.36h-5.36zM317.4 246.0h5.36v5.36h-5.36zM322.5 246.0h5.36v5.36h-5.36zM307.3 251.1h5.36v5.36h-5.36zM312.4 251.1h5.36v5.36h-5.36zM322.5 251.1h5.36v5.36h-5.36zM277.0 256.1h5.36v5.36h-5.36zM246.6 261.2h5.36v5.36h-5.36zM251.7 261.2h5.36v5.36h-5.36zM261.8 261.2h5.36v5.36h-5.36zM307.3 261.2h5.36v5.36h-5.36zM342.7 261.2h5.36v5.36h-5.36zM271.9 266.3h5.36v5.36h-5.36zM287.1 266.3h5.36v5.36h-5.36zM327.6 266.3h5.36v5.36h-5.36zM347.8 266.3h5.36v5.36h-5.36zM241.6 271.3h5.36v5.36h-5.36zM251.7 271.3h5.36v5.36h-5.36zM266.9 271.3h5.36v5.36h-5.36zM241.6 276.4h5.36v5.36h-5.36zM256.8 276.4h5.36v5.36h-5.36zM261.8 276.4h5.36v5.36h-5.36zM292.2 276.4h5.36v5.36h-5.36zM307.3 276.4h5.36v5.36h-5.36zM337.7 276.4h5.36v5.36h-5.36zM241.6 281.4h5.36v5.36h-5.36zM277.0 281.4h5.36v5.36h-5.36zM347.8 281.4h5.36v5.36h-5.36zM246.6 286.5h5.36v5.36h-5.36zM256.8 286.5h5.36v5.36h-5.36zM307.3 286.5h5.36v5.36h-5.36zM226.4 291.6h5.36v5.36h-5.36zM231.5 296.6h5.36v5.36h-5.36zM266.9 296.6h5.36v5.36h-5.36zM388.2 296.6h5.36v5.36h-5.36zM236.5 301.7h5.36v5.36h-5.36zM261.8 301.7h5.36v5.36h-5.36zM282.0 301.7h5.36v5.36h-5.36zM352.8 301.7h5.36v5.36h-5.36zM231.5 306.8h5.36v5.36h-5.36zM261.8 306.8h5.36v5.36h-5.36zM282.0 306.8h5.36v5.36h-5.36zM322.5 306.8h5.36v5.36h-5.36zM378.1 306.8h5.36v5.36h-5.36zM383.2 306.8h5.36v5.36h-5.36zM241.6 311.8h5.36v5.36h-5.36zM261.8 311.8h5.36v5.36h-5.36zM292.2 311.8h5.36v5.36h-5.36zM322.5 311.8h5.36v5.36h-5.36zM363.0 311.8h5.36v5.36h-5.36zM231.5 316.9h5.36v5.36h-5.36zM241.6 316.9h5.36v5.36h-5.36zM378.1 316.9h5.36v5.36h-5.36zM388.2 316.9h5.36v5.36h-5.36zM226.4 322.0h5.36v5.36h-5.36zM246.6 322.0h5.36v5.36h-5.36zM352.8 322.0h5.36v5.36h-5.36zM373.1 322.0h5.36v5.36h-5.36zM398.4 322.0h5.36v5.36h-5.36zM226.4 327.0h5.36v5.36h-5.36zM246.6 327.0h5.36v5.36h-5.36zM266.9 327.0h5.36v5.36h-5.36zM378.1 327.0h5.36v5.36h-5.36zM256.8 332.1h5.36v5.36h-5.36zM271.9 332.1h5.36v5.36h-5.36zM363.0 332.1h5.36v5.36h-5.36zM378.1 332.1h5.36v5.36h-5.36zM231.5 337.2h5.36v5.36h-5.36zM277.0 337.2h5.36v5.36h-5.36zM221.4 342.2h5.36v5.36h-5.36zM231.5 342.2h5.36v5.36h-5.36zM236.5 342.2h5.36v5.36h-5.36zM241.6 342.2h5.36v5.36h-5.36zM398.4 342.2h5.36v5.36h-5.36zM403.4 347.3h5.36v5.36h-5.36zM231.5 352.4h5.36v5.36h-5.36zM236.5 352.4h5.36v5.36h-5.36zM261.8 352.4h5.36v5.36h-5.36zM266.9 352.4h5.36v5.36h-5.36zM287.1 352.4h5.36v5.36h-5.36zM251.7 357.4h5.36v5.36h-5.36zM236.5 362.5h5.36v5.36h-5.36zM261.8 362.5h5.36v5.36h-5.36zM403.4 362.5h5.36v5.36h-5.36zM236.5 367.5h5.36v5.36h-5.36zM251.7 372.6h5.36v5.36h-5.36zM256.8 372.6h5.36v5.36h-5.36zM261.8 372.6h5.36v5.36h-5.36zM241.6 382.7h5.36v5.36h-5.36zM408.5 387.8h5.36v5.36h-5.36zM271.9 392.9h5.36v5.36h-5.36zM277.0 397.9h5.36v5.36h-5.36zM398.4 397.9h5.36v5.36h-5.36zM277.0 408.1h5.36v5.36h-5.36zM277.0 413.1h5.36v5.36h-5.36zM423.6 413.1h5.36v5.36h-5.36zM271.9 418.2h5.36v5.36h-5.36zM423.6 418.2h5.36v5.36h-5.36zM277.0 423.2h5.36v5.36h-5.36zM423.6 423.2h5.36v5.36h-5.36zM398.4 428.3h5.36v5.36h-5.36zM246.6 433.4h5.36v5.36h-5.36zM256.8 433.4h5.36v5.36h-5.36zM413.5 433.4h5.36v5.36h-5.36zM261.8 438.4h5.36v5.36h-5.36zM246.6 443.5h5.36v5.36h-5.36zM418.6 443.5h5.36v5.36h-5.36zM423.6 443.5h5.36v5.36h-5.36zM418.6 448.6h5.36v5.36h-5.36zM423.6 448.6h5.36v5.36h-5.36zM403.4 453.6h5.36v5.36h-5.36zM418.6 453.6h5.36v5.36h-5.36zM423.6 453.6h5.36v5.36h-5.36zM266.9 458.7h5.36v5.36h-5.36zM271.9 458.7h5.36v5.36h-5.36zM413.5 458.7h5.36v5.36h-5.36zM428.7 458.7h5.36v5.36h-5.36zM271.9 463.8h5.36v5.36h-5.36zM398.4 463.8h5.36v5.36h-5.36zM428.7 463.8h5.36v5.36h-5.36zM261.8 473.9h5.36v5.36h-5.36zM277.0 473.9h5.36v5.36h-5.36zM418.6 473.9h5.36v5.36h-5.36zM282.0 479.0h5.36v5.36h-5.36zM403.4 479.0h5.36v5.36h-5.36zM418.6 479.0h5.36v5.36h-5.36zM403.4 484.0h5.36v5.36h-5.36zM418.6 484.0h5.36v5.36h-5.36zM277.0 489.1h5.36v5.36h-5.36zM297.2 489.1h5.36v5.36h-5.36zM302.3 489.1h5.36v5.36h-5.36zM428.7 489.1h5.36v5.36h-5.36zM282.0 494.1h5.36v5.36h-5.36zM302.3 494.1h5.36v5.36h-5.36zM282.0 499.2h5.36v5.36h-5.36zM307.3 499.2h5.36v5.36h-5.36zM418.6 499.2h5.36v5.36h-5.36zM271.9 504.3h5.36v5.36h-5.36zM292.2 509.3h5.36v5.36h-5.36zM408.5 509.3h5.36v5.36h-5.36zM277.0 514.4h5.36v5.36h-5.36zM292.2 514.4h5.36v5.36h-5.36zM408.5 514.4h5.36v5.36h-5.36zM418.6 514.4h5.36v5.36h-5.36zM428.7 514.4h5.36v5.36h-5.36zM287.1 524.5h5.36v5.36h-5.36zM287.1 529.6h5.36v5.36h-5.36zM423.6 529.6h5.36v5.36h-5.36zM423.6 534.7h5.36v5.36h-5.36zM428.7 539.7h5.36v5.36h-5.36zM292.2 544.8h5.36v5.36h-5.36zM302.3 544.8h5.36v5.36h-5.36zM317.4 544.8h5.36v5.36h-5.36zM403.4 544.8h5.36v5.36h-5.36zM292.2 549.9h5.36v5.36h-5.36zM393.3 549.9h5.36v5.36h-5.36zM398.4 549.9h5.36v5.36h-5.36zM408.5 549.9h5.36v5.36h-5.36zM418.6 549.9h5.36v5.36h-5.36zM302.3 554.9h5.36v5.36h-5.36zM347.8 554.9h5.36v5.36h-5.36zM312.4 565.0h5.36v5.36h-5.36zM317.4 565.0h5.36v5.36h-5.36zM297.2 570.1h5.36v5.36h-5.36zM317.4 570.1h5.36v5.36h-5.36zM352.8 570.1h5.36v5.36h-5.36zM408.5 570.1h5.36v5.36h-5.36zM332.6 575.2h5.36v5.36h-5.36zM347.8 575.2h5.36v5.36h-5.36zM378.1 575.2h5.36v5.36h-5.36zM322.5 580.2h5.36v5.36h-5.36zM327.6 580.2h5.36v5.36h-5.36zM352.8 580.2h5.36v5.36h-5.36zM368.0 580.2h5.36v5.36h-5.36zM373.1 580.2h5.36v5.36h-5.36zM398.4 580.2h5.36v5.36h-5.36zM383.2 585.3h5.36v5.36h-5.36zM357.9 590.4h5.36v5.36h-5.36z"/>
<path fill="#829091" shape-rendering="crispEdges" d="M251.7 246.0h5.36v5.36h-5.36zM297.2 246.0h5.36v5.36h-5.36zM307.3 246.0h5.36v5.36h-5.36zM312.4 246.0h5.36v5.36h-5.36zM337.7 246.0h5.36v5.36h-5.36zM251.7 251.1h5.36v5.36h-5.36zM287.1 251.1h5.36v5.36h-5.36zM297.2 251.1h5.36v5.36h-5.36zM251.7 256.1h5.36v5.36h-5.36zM277.0 261.2h5.36v5.36h-5.36zM337.7 261.2h5.36v5.36h-5.36zM277.0 266.3h5.36v5.36h-5.36zM322.5 266.3h5.36v5.36h-5.36zM337.7 266.3h5.36v5.36h-5.36zM342.7 266.3h5.36v5.36h-5.36zM352.8 266.3h5.36v5.36h-5.36zM236.5 271.3h5.36v5.36h-5.36zM347.8 271.3h5.36v5.36h-5.36zM352.8 271.3h5.36v5.36h-5.36zM236.5 276.4h5.36v5.36h-5.36zM312.4 276.4h5.36v5.36h-5.36zM236.5 281.4h5.36v5.36h-5.36zM312.4 281.4h5.36v5.36h-5.36zM357.9 281.4h5.36v5.36h-5.36zM297.2 286.5h5.36v5.36h-5.36zM388.2 286.5h5.36v5.36h-5.36zM236.5 291.6h5.36v5.36h-5.36zM287.1 291.6h5.36v5.36h-5.36zM363.0 291.6h5.36v5.36h-5.36zM277.0 296.6h5.36v5.36h-5.36zM307.3 296.6h5.36v5.36h-5.36zM312.4 296.6h5.36v5.36h-5.36zM357.9 296.6h5.36v5.36h-5.36zM266.9 301.7h5.36v5.36h-5.36zM287.1 301.7h5.36v5.36h-5.36zM312.4 301.7h5.36v5.36h-5.36zM363.0 301.7h5.36v5.36h-5.36zM373.1 301.7h5.36v5.36h-5.36zM266.9 306.8h5.36v5.36h-5.36zM277.0 306.8h5.36v5.36h-5.36zM363.0 306.8h5.36v5.36h-5.36zM388.2 306.8h5.36v5.36h-5.36zM226.4 311.8h5.36v5.36h-5.36zM231.5 311.8h5.36v5.36h-5.36zM271.9 311.8h5.36v5.36h-5.36zM373.1 311.8h5.36v5.36h-5.36zM261.8 316.9h5.36v5.36h-5.36zM363.0 316.9h5.36v5.36h-5.36zM383.2 316.9h5.36v5.36h-5.36zM236.5 322.0h5.36v5.36h-5.36zM241.6 322.0h5.36v5.36h-5.36zM256.8 322.0h5.36v5.36h-5.36zM261.8 322.0h5.36v5.36h-5.36zM282.0 322.0h5.36v5.36h-5.36zM363.0 322.0h5.36v5.36h-5.36zM383.2 322.0h5.36v5.36h-5.36zM388.2 322.0h5.36v5.36h-5.36zM251.7 327.0h5.36v5.36h-5.36zM256.8 327.0h5.36v5.36h-5.36zM302.3 327.0h5.36v5.36h-5.36zM357.9 327.0h5.36v5.36h-5.36zM221.4 332.1h5.36v5.36h-5.36zM251.7 332.1h5.36v5.36h-5.36zM357.9 332.1h5.36v5.36h-5.36zM241.6 337.2h5.36v5.36h-5.36zM282.0 337.2h5.36v5.36h-5.36zM226.4 342.2h5.36v5.36h-5.36zM271.9 342.2h5.36v5.36h-5.36zM271.9 352.4h5.36v5.36h-5.36zM231.5 357.4h5.36v5.36h-5.36zM241.6 357.4h5.36v5.36h-5.36zM246.6 357.4h5.36v5.36h-5.36zM413.5 357.4h5.36v5.36h-5.36zM246.6 362.5h5.36v5.36h-5.36zM246.6 367.5h5.36v5.36h-5.36zM418.6 367.5h5.36v5.36h-5.36zM246.6 372.6h5.36v5.36h-5.36zM413.5 372.6h5.36v5.36h-5.36zM241.6 377.7h5.36v5.36h-5.36zM231.5 392.9h5.36v5.36h-5.36zM413.5 392.9h5.36v5.36h-5.36zM231.5 397.9h5.36v5.36h-5.36zM418.6 397.9h5.36v5.36h-5.36zM418.6 403.0h5.36v5.36h-5.36zM423.6 408.1h5.36v5.36h-5.36zM428.7 408.1h5.36v5.36h-5.36zM418.6 413.1h5.36v5.36h-5.36zM428.7 413.1h5.36v5.36h-5.36zM433.8 413.1h5.36v5.36h-5.36zM256.8 428.3h5.36v5.36h-5.36zM423.6 428.3h5.36v5.36h-5.36zM398.4 433.4h5.36v5.36h-5.36zM418.6 433.4h5.36v5.36h-5.36zM428.7 433.4h5.36v5.36h-5.36zM241.6 438.4h5.36v5.36h-5.36zM246.6 438.4h5.36v5.36h-5.36zM418.6 438.4h5.36v5.36h-5.36zM241.6 443.5h5.36v5.36h-5.36zM261.8 443.5h5.36v5.36h-5.36zM413.5 443.5h5.36v5.36h-5.36zM251.7 448.6h5.36v5.36h-5.36zM433.8 448.6h5.36v5.36h-5.36zM251.7 458.7h5.36v5.36h-5.36zM261.8 458.7h5.36v5.36h-5.36zM423.6 458.7h5.36v5.36h-5.36zM261.8 463.8h5.36v5.36h-5.36zM413.5 463.8h5.36v5.36h-5.36zM418.6 463.8h5.36v5.36h-5.36zM271.9 468.8h5.36v5.36h-5.36zM271.9 473.9h5.36v5.36h-5.36zM271.9 479.0h5.36v5.36h-5.36zM423.6 479.0h5.36v5.36h-5.36zM277.0 484.0h5.36v5.36h-5.36zM282.0 484.0h5.36v5.36h-5.36zM271.9 489.1h5.36v5.36h-5.36zM277.0 494.1h5.36v5.36h-5.36zM292.2 499.2h5.36v5.36h-5.36zM423.6 499.2h5.36v5.36h-5.36zM266.9 504.3h5.36v5.36h-5.36zM418.6 504.3h5.36v5.36h-5.36zM428.7 504.3h5.36v5.36h-5.36zM277.0 509.3h5.36v5.36h-5.36zM287.1 509.3h5.36v5.36h-5.36zM297.2 509.3h5.36v5.36h-5.36zM302.3 509.3h5.36v5.36h-5.36zM332.6 509.3h5.36v5.36h-5.36zM418.6 509.3h5.36v5.36h-5.36zM428.7 509.3h5.36v5.36h-5.36zM282.0 514.4h5.36v5.36h-5.36zM287.1 514.4h5.36v5.36h-5.36zM302.3 514.4h5.36v5.36h-5.36zM271.9 519.5h5.36v5.36h-5.36zM292.2 519.5h5.36v5.36h-5.36zM413.5 519.5h5.36v5.36h-5.36zM418.6 519.5h5.36v5.36h-5.36zM423.6 519.5h5.36v5.36h-5.36zM418.6 524.5h5.36v5.36h-5.36zM423.6 524.5h5.36v5.36h-5.36zM322.5 529.6h5.36v5.36h-5.36zM287.1 534.7h5.36v5.36h-5.36zM292.2 534.7h5.36v5.36h-5.36zM403.4 534.7h5.36v5.36h-5.36zM408.5 534.7h5.36v5.36h-5.36zM297.2 539.7h5.36v5.36h-5.36zM302.3 539.7h5.36v5.36h-5.36zM403.4 539.7h5.36v5.36h-5.36zM413.5 539.7h5.36v5.36h-5.36zM433.8 539.7h5.36v5.36h-5.36zM297.2 544.8h5.36v5.36h-5.36zM408.5 544.8h5.36v5.36h-5.36zM297.2 549.9h5.36v5.36h-5.36zM302.3 549.9h5.36v5.36h-5.36zM428.7 549.9h5.36v5.36h-5.36zM287.1 554.9h5.36v5.36h-5.36zM297.2 554.9h5.36v5.36h-5.36zM307.3 554.9h5.36v5.36h-5.36zM312.4 554.9h5.36v5.36h-5.36zM398.4 554.9h5.36v5.36h-5.36zM403.4 554.9h5.36v5.36h-5.36zM408.5 554.9h5.36v5.36h-5.36zM413.5 554.9h5.36v5.36h-5.36zM418.6 554.9h5.36v5.36h-5.36zM428.7 554.9h5.36v5.36h-5.36zM408.5 560.0h5.36v5.36h-5.36zM413.5 560.0h5.36v5.36h-5.36zM287.1 565.0h5.36v5.36h-5.36zM292.2 565.0h5.36v5.36h-5.36zM307.3 565.0h5.36v5.36h-5.36zM322.5 565.0h5.36v5.36h-5.36zM398.4 565.0h5.36v5.36h-5.36zM413.5 565.0h5.36v5.36h-5.36zM423.6 565.0h5.36v5.36h-5.36zM302.3 570.1h5.36v5.36h-5.36zM312.4 570.1h5.36v5.36h-5.36zM332.6 570.1h5.36v5.36h-5.36zM378.1 570.1h5.36v5.36h-5.36zM302.3 575.2h5.36v5.36h-5.36zM317.4 575.2h5.36v5.36h-5.36zM322.5 575.2h5.36v5.36h-5.36zM352.8 575.2h5.36v5.36h-5.36zM403.4 575.2h5.36v5.36h-5.36zM357.9 580.2h5.36v5.36h-5.36zM403.4 580.2h5.36v5.36h-5.36zM347.8 585.3h5.36v5.36h-5.36zM363.0 585.3h5.36v5.36h-5.36zM373.1 585.3h5.36v5.36h-5.36zM373.1 590.4h5.36v5.36h-5.36zM398.4 590.4h5.36v5.36h-5.36zM378.1 595.4h5.36v5.36h-5.36zM383.2 595.4h5.36v5.36h-5.36zM388.2 595.4h5.36v5.36h-5.36z"/>
<path fill="#8a9899" shape-rendering="crispEdges" d="M246.6 246.0h5.36v5.36h-5.36zM287.1 246.0h5.36v5.36h-5.36zM292.2 246.0h5.36v5.36h-5.36zM342.7 246.0h5.36v5.36h-5.36zM347.8 246.0h5.36v5.36h-5.36zM292.2 251.1h5.36v5.36h-5.36zM302.3 251.1h5.36v5.36h-5.36zM337.7 251.1h5.36v5.36h-5.36zM241.6 256.1h5.36v5.36h-5.36zM256.8 256.1h5.36v5.36h-5.36zM282.0 256.1h5.36v5.36h-5.36zM302.3 256.1h5.36v5.36h-5.36zM317.4 256.1h5.36v5.36h-5.36zM256.8 261.2h5.36v5.36h-5.36zM287.1 261.2h5.36v5.36h-5.36zM292.2 261.2h5.36v5.36h-5.36zM312.4 261.2h5.36v5.36h-5.36zM327.6 261.2h5.36v5.36h-5.36zM332.6 261.2h5.36v5.36h-5.36zM246.6 266.3h5.36v5.36h-5.36zM251.7 266.3h5.36v5.36h-5.36zM352.8 276.4h5.36v5.36h-5.36zM261.8 281.4h5.36v5.36h-5.36zM226.4 286.5h5.36v5.36h-5.36zM357.9 286.5h5.36v5.36h-5.36zM393.3 286.5h5.36v5.36h-5.36zM347.8 291.6h5.36v5.36h-5.36zM368.0 291.6h5.36v5.36h-5.36zM373.1 291.6h5.36v5.36h-5.36zM226.4 296.6h5.36v5.36h-5.36zM271.9 296.6h5.36v5.36h-5.36zM363.0 296.6h5.36v5.36h-5.36zM368.0 296.6h5.36v5.36h-5.36zM383.2 296.6h5.36v5.36h-5.36zM226.4 301.7h5.36v5.36h-5.36zM271.9 301.7h5.36v5.36h-5.36zM241.6 306.8h5.36v5.36h-5.36zM271.9 306.8h5.36v5.36h-5.36zM287.1 306.8h5.36v5.36h-5.36zM327.6 306.8h5.36v5.36h-5.36zM373.1 306.8h5.36v5.36h-5.36zM393.3 306.8h5.36v5.36h-5.36zM236.5 311.8h5.36v5.36h-5.36zM266.9 311.8h5.36v5.36h-5.36zM327.6 311.8h5.36v5.36h-5.36zM332.6 311.8h5.36v5.36h-5.36zM393.3 311.8h5.36v5.36h-5.36zM236.5 316.9h5.36v5.36h-5.36zM256.8 316.9h5.36v5.36h-5.36zM266.9 316.9h5.36v5.36h-5.36zM282.0 316.9h5.36v5.36h-5.36zM368.0 316.9h5.36v5.36h-5.36zM393.3 316.9h5.36v5.36h-5.36zM398.4 316.9h5.36v5.36h-5.36zM221.4 322.0h5.36v5.36h-5.36zM277.0 322.0h5.36v5.36h-5.36zM368.0 322.0h5.36v5.36h-5.36zM393.3 322.0h5.36v5.36h-5.36zM261.8 327.0h5.36v5.36h-5.36zM246.6 332.1h5.36v5.36h-5.36zM261.8 332.1h5.36v5.36h-5.36zM398.4 332.1h5.36v5.36h-5.36zM216.3 337.2h5.36v5.36h-5.36zM226.4 337.2h5.36v5.36h-5.36zM236.5 337.2h5.36v5.36h-5.36zM398.4 337.2h5.36v5.36h-5.36zM403.4 337.2h5.36v5.36h-5.36zM403.4 342.2h5.36v5.36h-5.36zM221.4 347.3h5.36v5.36h-5.36zM231.5 347.3h5.36v5.36h-5.36zM221.4 352.4h5.36v5.36h-5.36zM226.4 352.4h5.36v5.36h-5.36zM408.5 352.4h5.36v5.36h-5.36zM413.5 352.4h5.36v5.36h-5.36zM221.4 357.4h5.36v5.36h-5.36zM226.4 357.4h5.36v5.36h-5.36zM236.5 357.4h5.36v5.36h-5.36zM231.5 362.5h5.36v5.36h-5.36zM241.6 362.5h5.36v5.36h-5.36zM256.8 367.5h5.36v5.36h-5.36zM236.5 377.7h5.36v5.36h-5.36zM236.5 382.7h5.36v5.36h-5.36zM241.6 387.8h5.36v5.36h-5.36zM413.5 387.8h5.36v5.36h-5.36zM418.6 387.8h5.36v5.36h-5.36zM236.5 392.9h5.36v5.36h-5.36zM423.6 397.9h5.36v5.36h-5.36zM423.6 403.0h5.36v5.36h-5.36zM271.9 408.1h5.36v5.36h-5.36zM413.5 423.2h5.36v5.36h-5.36zM241.6 428.3h5.36v5.36h-5.36zM418.6 428.3h5.36v5.36h-5.36zM428.7 428.3h5.36v5.36h-5.36zM423.6 433.4h5.36v5.36h-5.36zM433.8 433.4h5.36v5.36h-5.36zM428.7 438.4h5.36v5.36h-5.36zM246.6 453.6h5.36v5.36h-5.36zM428.7 453.6h5.36v5.36h-5.36zM418.6 458.7h5.36v5.36h-5.36zM251.7 463.8h5.36v5.36h-5.36zM403.4 463.8h5.36v5.36h-5.36zM423.6 463.8h5.36v5.36h-5.36zM433.8 463.8h5.36v5.36h-5.36zM261.8 468.8h5.36v5.36h-5.36zM266.9 468.8h5.36v5.36h-5.36zM256.8 473.9h5.36v5.36h-5.36zM277.0 479.0h5.36v5.36h-5.36zM428.7 479.0h5.36v5.36h-5.36zM433.8 479.0h5.36v5.36h-5.36zM413.5 484.0h5.36v5.36h-5.36zM423.6 484.0h5.36v5.36h-5.36zM433.8 484.0h5.36v5.36h-5.36zM433.8 489.1h5.36v5.36h-5.36zM251.7 494.1h5.36v5.36h-5.36zM266.9 494.1h5.36v5.36h-5.36zM428.7 494.1h5.36v5.36h-5.36zM287.1 504.3h5.36v5.36h-5.36zM423.6 504.3h5.36v5.36h-5.36zM433.8 504.3h5.36v5.36h-5.36zM347.8 509.3h5.36v5.36h-5.36zM423.6 509.3h5.36v5.36h-5.36zM413.5 514.4h5.36v5.36h-5.36zM266.9 519.5h5.36v5.36h-5.36zM428.7 519.5h5.36v5.36h-5.36zM403.4 529.6h5.36v5.36h-5.36zM408.5 529.6h5.36v5.36h-5.36zM398.4 539.7h5.36v5.36h-5.36zM408.5 539.7h5.36v5.36h-5.36zM287.1 544.8h5.36v5.36h-5.36zM398.4 544.8h5.36v5.36h-5.36zM287.1 549.9h5.36v5.36h-5.36zM307.3 549.9h5.36v5.36h-5.36zM312.4 549.9h5.36v5.36h-5.36zM292.2 554.9h5.36v5.36h-5.36zM287.1 560.0h5.36v5.36h-5.36zM292.2 560.0h5.36v5.36h-5.36zM302.3 560.0h5.36v5.36h-5.36zM423.6 560.0h5.36v5.36h-5.36zM403.4 565.0h5.36v5.36h-5.36zM418.6 565.0h5.36v5.36h-5.36zM307.3 570.1h5.36v5.36h-5.36zM337.7 570.1h5.36v5.36h-5.36zM413.5 570.1h5.36v5.36h-5.36zM423.6 570.1h5.36v5.36h-5.36zM297.2 575.2h5.36v5.36h-5.36zM312.4 575.2h5.36v5.36h-5.36zM408.5 575.2h5.36v5.36h-5.36zM317.4 580.2h5.36v5.36h-5.36zM332.6 580.2h5.36v5.36h-5.36zM337.7 580.2h5.36v5.36h-5.36zM347.8 580.2h5.36v5.36h-5.36zM388.2 580.2h5.36v5.36h-5.36zM393.3 580.2h5.36v5.36h-5.36zM322.5 585.3h5.36v5.36h-5.36zM327.6 585.3h5.36v5.36h-5.36zM332.6 585.3h5.36v5.36h-5.36zM378.1 585.3h5.36v5.36h-5.36zM388.2 585.3h5.36v5.36h-5.36zM398.4 585.3h5.36v5.36h-5.36zM403.4 585.3h5.36v5.36h-5.36zM342.7 590.4h5.36v5.36h-5.36zM347.8 590.4h5.36v5.36h-5.36zM363.0 590.4h5.36v5.36h-5.36zM302.3 595.4h5.36v5.36h-5.36zM368.0 595.4h5.36v5.36h-5.36zM373.1 595.4h5.36v5.36h-5.36zM398.4 595.4h5.36v5.36h-5.36z"/>
<path fill="#93a0a1" shape-rendering="crispEdges" d="M266.9 246.0h5.36v5.36h-5.36zM246.6 251.1h5.36v5.36h-5.36zM261.8 251.1h5.36v5.36h-5.36zM347.8 251.1h5.36v5.36h-5.36zM287.1 256.1h5.36v5.36h-5.36zM292.2 256.1h5.36v5.36h-5.36zM297.2 256.1h5.36v5.36h-5.36zM307.3 256.1h5.36v5.36h-5.36zM342.7 256.1h5.36v5.36h-5.36zM241.6 261.2h5.36v5.36h-5.36zM297.2 261.2h5.36v5.36h-5.36zM302.3 261.2h5.36v5.36h-5.36zM226.4 266.3h5.36v5.36h-5.36zM231.5 266.3h5.36v5.36h-5.36zM231.5 271.3h5.36v5.36h-5.36zM246.6 271.3h5.36v5.36h-5.36zM231.5 276.4h5.36v5.36h-5.36zM363.0 276.4h5.36v5.36h-5.36zM363.0 281.4h5.36v5.36h-5.36zM368.0 281.4h5.36v5.36h-5.36zM388.2 281.4h5.36v5.36h-5.36zM347.8 286.5h5.36v5.36h-5.36zM368.0 286.5h5.36v5.36h-5.36zM373.1 286.5h5.36v5.36h-5.36zM373.1 296.6h5.36v5.36h-5.36zM378.1 296.6h5.36v5.36h-5.36zM393.3 296.6h5.36v5.36h-5.36zM368.0 301.7h5.36v5.36h-5.36zM378.1 301.7h5.36v5.36h-5.36zM383.2 301.7h5.36v5.36h-5.36zM388.2 301.7h5.36v5.36h-5.36zM332.6 306.8h5.36v5.36h-5.36zM368.0 306.8h5.36v5.36h-5.36zM368.0 311.8h5.36v5.36h-5.36zM221.4 316.9h5.36v5.36h-5.36zM271.9 316.9h5.36v5.36h-5.36zM266.9 322.0h5.36v5.36h-5.36zM271.9 322.0h5.36v5.36h-5.36zM398.4 327.0h5.36v5.36h-5.36zM216.3 332.1h5.36v5.36h-5.36zM408.5 337.2h5.36v5.36h-5.36zM216.3 342.2h5.36v5.36h-5.36zM216.3 347.3h5.36v5.36h-5.36zM271.9 347.3h5.36v5.36h-5.36zM408.5 347.3h5.36v5.36h-5.36zM413.5 347.3h5.36v5.36h-5.36zM216.3 352.4h5.36v5.36h-5.36zM221.4 362.5h5.36v5.36h-5.36zM413.5 367.5h5.36v5.36h-5.36zM236.5 372.6h5.36v5.36h-5.36zM418.6 372.6h5.36v5.36h-5.36zM418.6 392.9h5.36v5.36h-5.36zM226.4 403.0h5.36v5.36h-5.36zM231.5 403.0h5.36v5.36h-5.36zM433.8 408.1h5.36v5.36h-5.36zM236.5 418.2h5.36v5.36h-5.36zM428.7 423.2h5.36v5.36h-5.36zM236.5 428.3h5.36v5.36h-5.36zM403.4 428.3h5.36v5.36h-5.36zM433.8 428.3h5.36v5.36h-5.36zM403.4 433.4h5.36v5.36h-5.36zM236.5 438.4h5.36v5.36h-5.36zM423.6 438.4h5.36v5.36h-5.36zM428.7 443.5h5.36v5.36h-5.36zM433.8 443.5h5.36v5.36h-5.36zM241.6 448.6h5.36v5.36h-5.36zM428.7 448.6h5.36v5.36h-5.36zM433.8 453.6h5.36v5.36h-5.36zM438.8 453.6h5.36v5.36h-5.36zM256.8 458.7h5.36v5.36h-5.36zM246.6 463.8h5.36v5.36h-5.36zM256.8 463.8h5.36v5.36h-5.36zM266.9 463.8h5.36v5.36h-5.36zM266.9 473.9h5.36v5.36h-5.36zM251.7 479.0h5.36v5.36h-5.36zM266.9 479.0h5.36v5.36h-5.36zM251.7 484.0h5.36v5.36h-5.36zM251.7 489.1h5.36v5.36h-5.36zM256.8 489.1h5.36v5.36h-5.36zM423.6 489.1h5.36v5.36h-5.36zM271.9 494.1h5.36v5.36h-5.36zM418.6 494.1h5.36v5.36h-5.36zM423.6 494.1h5.36v5.36h-5.36zM433.8 494.1h5.36v5.36h-5.36zM261.8 499.2h5.36v5.36h-5.36zM277.0 499.2h5.36v5.36h-5.36zM433.8 499.2h5.36v5.36h-5.36zM277.0 504.3h5.36v5.36h-5.36zM282.0 504.3h5.36v5.36h-5.36zM433.8 509.3h5.36v5.36h-5.36zM423.6 514.4h5.36v5.36h-5.36zM433.8 519.5h5.36v5.36h-5.36zM266.9 524.5h5.36v5.36h-5.36zM271.9 524.5h5.36v5.36h-5.36zM408.5 524.5h5.36v5.36h-5.36zM413.5 524.5h5.36v5.36h-5.36zM428.7 524.5h5.36v5.36h-5.36zM266.9 529.6h5.36v5.36h-5.36zM271.9 529.6h5.36v5.36h-5.36zM413.5 529.6h5.36v5.36h-5.36zM271.9 534.7h5.36v5.36h-5.36zM282.0 539.7h5.36v5.36h-5.36zM287.1 539.7h5.36v5.36h-5.36zM423.6 539.7h5.36v5.36h-5.36zM423.6 544.8h5.36v5.36h-5.36zM433.8 544.8h5.36v5.36h-5.36zM403.4 549.9h5.36v5.36h-5.36zM413.5 549.9h5.36v5.36h-5.36zM418.6 560.0h5.36v5.36h-5.36zM297.2 565.0h5.36v5.36h-5.36zM327.6 570.1h5.36v5.36h-5.36zM307.3 575.2h5.36v5.36h-5.36zM327.6 575.2h5.36v5.36h-5.36zM383.2 575.2h5.36v5.36h-5.36zM413.5 575.2h5.36v5.36h-5.36zM312.4 580.2h5.36v5.36h-5.36zM342.7 580.2h5.36v5.36h-5.36zM413.5 580.2h5.36v5.36h-5.36zM418.6 580.2h5.36v5.36h-5.36zM317.4 585.3h5.36v5.36h-5.36zM337.7 585.3h5.36v5.36h-5.36zM342.7 585.3h5.36v5.36h-5.36zM352.8 585.3h5.36v5.36h-5.36zM393.3 585.3h5.36v5.36h-5.36zM312.4 590.4h5.36v5.36h-5.36zM317.4 590.4h5.36v5.36h-5.36zM322.5 590.4h5.36v5.36h-5.36zM383.2 590.4h5.36v5.36h-5.36zM337.7 595.4h5.36v5.36h-5.36z"/>
<path fill="#9ba8a9" shape-rendering="crispEdges" d="M236.5 246.0h5.36v5.36h-5.36zM241.6 246.0h5.36v5.36h-5.36zM256.8 246.0h5.36v5.36h-5.36zM271.9 246.0h5.36v5.36h-5.36zM277.0 246.0h5.36v5.36h-5.36zM282.0 246.0h5.36v5.36h-5.36zM241.6 251.1h5.36v5.36h-5.36zM256.8 251.1h5.36v5.36h-5.36zM266.9 251.1h5.36v5.36h-5.36zM271.9 251.1h5.36v5.36h-5.36zM327.6 251.1h5.36v5.36h-5.36zM332.6 251.1h5.36v5.36h-5.36zM342.7 251.1h5.36v5.36h-5.36zM352.8 251.1h5.36v5.36h-5.36zM246.6 256.1h5.36v5.36h-5.36zM261.8 256.1h5.36v5.36h-5.36zM312.4 256.1h5.36v5.36h-5.36zM327.6 256.1h5.36v5.36h-5.36zM337.7 256.1h5.36v5.36h-5.36zM363.0 256.1h5.36v5.36h-5.36zM231.5 261.2h5.36v5.36h-5.36zM236.5 261.2h5.36v5.36h-5.36zM317.4 261.2h5.36v5.36h-5.36zM322.5 261.2h5.36v5.36h-5.36zM347.8 261.2h5.36v5.36h-5.36zM352.8 261.2h5.36v5.36h-5.36zM357.9 261.2h5.36v5.36h-5.36zM236.5 266.3h5.36v5.36h-5.36zM241.6 266.3h5.36v5.36h-5.36zM357.9 271.3h5.36v5.36h-5.36zM363.0 271.3h5.36v5.36h-5.36zM368.0 271.3h5.36v5.36h-5.36zM357.9 276.4h5.36v5.36h-5.36zM231.5 281.4h5.36v5.36h-5.36zM363.0 286.5h5.36v5.36h-5.36zM352.8 291.6h5.36v5.36h-5.36zM393.3 291.6h5.36v5.36h-5.36zM221.4 301.7h5.36v5.36h-5.36zM373.1 316.9h5.36v5.36h-5.36zM403.4 316.9h5.36v5.36h-5.36zM216.3 322.0h5.36v5.36h-5.36zM403.4 322.0h5.36v5.36h-5.36zM216.3 327.0h5.36v5.36h-5.36zM408.5 342.2h5.36v5.36h-5.36zM413.5 342.2h5.36v5.36h-5.36zM226.4 347.3h5.36v5.36h-5.36zM423.6 367.5h5.36v5.36h-5.36zM231.5 377.7h5.36v5.36h-5.36zM231.5 382.7h5.36v5.36h-5.36zM418.6 382.7h5.36v5.36h-5.36zM231.5 387.8h5.36v5.36h-5.36zM236.5 387.8h5.36v5.36h-5.36zM423.6 392.9h5.36v5.36h-5.36zM231.5 408.1h5.36v5.36h-5.36zM226.4 413.1h5.36v5.36h-5.36zM231.5 413.1h5.36v5.36h-5.36zM428.7 418.2h5.36v5.36h-5.36zM236.5 423.2h5.36v5.36h-5.36zM433.8 423.2h5.36v5.36h-5.36zM231.5 428.3h5.36v5.36h-5.36zM241.6 433.4h5.36v5.36h-5.36zM236.5 443.5h5.36v5.36h-5.36zM246.6 448.6h5.36v5.36h-5.36zM241.6 453.6h5.36v5.36h-5.36zM251.7 453.6h5.36v5.36h-5.36zM246.6 458.7h5.36v5.36h-5.36zM241.6 468.8h5.36v5.36h-5.36zM428.7 468.8h5.36v5.36h-5.36zM241.6 473.9h5.36v5.36h-5.36zM428.7 473.9h5.36v5.36h-5.36zM246.6 479.0h5.36v5.36h-5.36zM261.8 479.0h5.36v5.36h-5.36zM246.6 484.0h5.36v5.36h-5.36zM266.9 484.0h5.36v5.36h-5.36zM271.9 484.0h5.36v5.36h-5.36zM428.7 484.0h5.36v5.36h-5.36zM246.6 489.1h5.36v5.36h-5.36zM261.8 489.1h5.36v5.36h-5.36zM266.9 489.1h5.36v5.36h-5.36zM418.6 489.1h5.36v5.36h-5.36zM246.6 494.1h5.36v5.36h-5.36zM261.8 494.1h5.36v5.36h-5.36zM261.8 504.3h5.36v5.36h-5.36zM271.9 509.3h5.36v5.36h-5.36zM266.9 514.4h5.36v5.36h-5.36zM433.8 514.4h5.36v5.36h-5.36zM282.0 519.5h5.36v5.36h-5.36zM408.5 519.5h5.36v5.36h-5.36zM282.0 524.5h5.36v5.36h-5.36zM413.5 534.7h5.36v5.36h-5.36zM428.7 534.7h5.36v5.36h-5.36zM277.0 539.7h5.36v5.36h-5.36zM418.6 539.7h5.36v5.36h-5.36zM282.0 544.8h5.36v5.36h-5.36zM413.5 544.8h5.36v5.36h-5.36zM423.6 549.9h5.36v5.36h-5.36zM433.8 549.9h5.36v5.36h-5.36zM423.6 554.9h5.36v5.36h-5.36zM433.8 554.9h5.36v5.36h-5.36zM297.2 560.0h5.36v5.36h-5.36zM302.3 565.0h5.36v5.36h-5.36zM428.7 565.0h5.36v5.36h-5.36zM428.7 570.1h5.36v5.36h-5.36zM302.3 580.2h5.36v5.36h-5.36zM307.3 580.2h5.36v5.36h-5.36zM408.5 580.2h5.36v5.36h-5.36zM423.6 580.2h5.36v5.36h-5.36zM307.3 585.3h5.36v5.36h-5.36zM357.9 585.3h5.36v5.36h-5.36zM302.3 590.4h5.36v5.36h-5.36zM327.6 590.4h5.36v5.36h-5.36zM337.7 590.4h5.36v5.36h-5.36zM368.0 590.4h5.36v5.36h-5.36zM388.2 590.4h5.36v5.36h-5.36zM393.3 590.4h5.36v5.36h-5.36zM423.6 590.4h5.36v5.36h-5.36zM307.3 595.4h5.36v5.36h-5.36zM322.5 595.4h5.36v5.36h-5.36zM327.6 595.4h5.36v5.36h-5.36zM332.6 595.4h5.36v5.36h-5.36zM342.7 595.4h5.36v5.36h-5.36zM393.3 595.4h5.36v5.36h-5.36zM403.4 595.4h5.36v5.36h-5.36zM413.5 595.4h5.36v5.36h-5.36zM423.6 595.4h5.36v5.36h-5.36z"/>
<path fill="#a4b0b1" shape-rendering="crispEdges" d="M261.8 246.0h5.36v5.36h-5.36zM327.6 246.0h5.36v5.36h-5.36zM332.6 246.0h5.36v5.36h-5.36zM352.8 246.0h5.36v5.36h-5.36zM277.0 251.1h5.36v5.36h-5.36zM231.5 256.1h5.36v5.36h-5.36zM236.5 256.1h5.36v5.36h-5.36zM347.8 256.1h5.36v5.36h-5.36zM357.9 256.1h5.36v5.36h-5.36zM363.0 261.2h5.36v5.36h-5.36zM378.1 261.2h5.36v5.36h-5.36zM226.4 271.3h5.36v5.36h-5.36zM378.1 271.3h5.36v5.36h-5.36zM383.2 271.3h5.36v5.36h-5.36zM388.2 271.3h5.36v5.36h-5.36zM226.4 276.4h5.36v5.36h-5.36zM368.0 276.4h5.36v5.36h-5.36zM373.1 276.4h5.36v5.36h-5.36zM383.2 276.4h5.36v5.36h-5.36zM388.2 276.4h5.36v5.36h-5.36zM393.3 276.4h5.36v5.36h-5.36zM221.4 281.4h5.36v5.36h-5.36zM226.4 281.4h5.36v5.36h-5.36zM373.1 281.4h5.36v5.36h-5.36zM393.3 281.4h5.36v5.36h-5.36zM352.8 286.5h5.36v5.36h-5.36zM378.1 291.6h5.36v5.36h-5.36zM216.3 296.6h5.36v5.36h-5.36zM393.3 301.7h5.36v5.36h-5.36zM221.4 306.8h5.36v5.36h-5.36zM216.3 311.8h5.36v5.36h-5.36zM221.4 311.8h5.36v5.36h-5.36zM216.3 316.9h5.36v5.36h-5.36zM277.0 316.9h5.36v5.36h-5.36zM403.4 327.0h5.36v5.36h-5.36zM413.5 337.2h5.36v5.36h-5.36zM216.3 357.4h5.36v5.36h-5.36zM216.3 362.5h5.36v5.36h-5.36zM226.4 362.5h5.36v5.36h-5.36zM418.6 362.5h5.36v5.36h-5.36zM226.4 367.5h5.36v5.36h-5.36zM423.6 372.6h5.36v5.36h-5.36zM428.7 372.6h5.36v5.36h-5.36zM418.6 377.7h5.36v5.36h-5.36zM423.6 382.7h5.36v5.36h-5.36zM226.4 387.8h5.36v5.36h-5.36zM423.6 387.8h5.36v5.36h-5.36zM226.4 392.9h5.36v5.36h-5.36zM226.4 397.9h5.36v5.36h-5.36zM433.8 418.2h5.36v5.36h-5.36zM226.4 423.2h5.36v5.36h-5.36zM231.5 423.2h5.36v5.36h-5.36zM231.5 433.4h5.36v5.36h-5.36zM231.5 438.4h5.36v5.36h-5.36zM256.8 438.4h5.36v5.36h-5.36zM433.8 438.4h5.36v5.36h-5.36zM256.8 443.5h5.36v5.36h-5.36zM438.8 443.5h5.36v5.36h-5.36zM438.8 448.6h5.36v5.36h-5.36zM443.9 448.6h5.36v5.36h-5.36zM241.6 458.7h5.36v5.36h-5.36zM241.6 463.8h5.36v5.36h-5.36zM438.8 463.8h5.36v5.36h-5.36zM251.7 468.8h5.36v5.36h-5.36zM433.8 468.8h5.36v5.36h-5.36zM433.8 473.9h5.36v5.36h-5.36zM438.8 479.0h5.36v5.36h-5.36zM261.8 484.0h5.36v5.36h-5.36zM438.8 484.0h5.36v5.36h-5.36zM256.8 494.1h5.36v5.36h-5.36zM256.8 504.3h5.36v5.36h-5.36zM256.8 509.3h5.36v5.36h-5.36zM261.8 509.3h5.36v5.36h-5.36zM261.8 514.4h5.36v5.36h-5.36zM271.9 514.4h5.36v5.36h-5.36zM277.0 524.5h5.36v5.36h-5.36zM428.7 529.6h5.36v5.36h-5.36zM266.9 534.7h5.36v5.36h-5.36zM282.0 534.7h5.36v5.36h-5.36zM271.9 539.7h5.36v5.36h-5.36zM271.9 544.8h5.36v5.36h-5.36zM418.6 544.8h5.36v5.36h-5.36zM282.0 560.0h5.36v5.36h-5.36zM428.7 560.0h5.36v5.36h-5.36zM418.6 570.1h5.36v5.36h-5.36zM433.8 570.1h5.36v5.36h-5.36zM418.6 575.2h5.36v5.36h-5.36zM428.7 575.2h5.36v5.36h-5.36zM297.2 580.2h5.36v5.36h-5.36zM302.3 585.3h5.36v5.36h-5.36zM312.4 585.3h5.36v5.36h-5.36zM413.5 585.3h5.36v5.36h-5.36zM423.6 585.3h5.36v5.36h-5.36zM297.2 590.4h5.36v5.36h-5.36zM307.3 590.4h5.36v5.36h-5.36zM332.6 590.4h5.36v5.36h-5.36zM403.4 590.4h5.36v5.36h-5.36zM297.2 595.4h5.36v5.36h-5.36zM312.4 595.4h5.36v5.36h-5.36zM317.4 595.4h5.36v5.36h-5.36zM408.5 595.4h5.36v5.36h-5.36zM418.6 595.4h5.36v5.36h-5.36z"/>
<path fill="#adb8b9" shape-rendering="crispEdges" d="M231.5 246.0h5.36v5.36h-5.36zM357.9 246.0h5.36v5.36h-5.36zM231.5 251.1h5.36v5.36h-5.36zM236.5 251.1h5.36v5.36h-5.36zM282.0 251.1h5.36v5.36h-5.36zM332.6 256.1h5.36v5.36h-5.36zM221.4 261.2h5.36v5.36h-5.36zM226.4 261.2h5.36v5.36h-5.36zM383.2 261.2h5.36v5.36h-5.36zM357.9 266.3h5.36v5.36h-5.36zM363.0 266.3h5.36v5.36h-5.36zM383.2 266.3h5.36v5.36h-5.36zM378.1 276.4h5.36v5.36h-5.36zM216.3 281.4h5.36v5.36h-5.36zM378.1 286.5h5.36v5.36h-5.36zM383.2 286.5h5.36v5.36h-5.36zM221.4 291.6h5.36v5.36h-5.36zM383.2 291.6h5.36v5.36h-5.36zM398.4 291.6h5.36v5.36h-5.36zM221.4 296.6h5.36v5.36h-5.36zM398.4 296.6h5.36v5.36h-5.36zM398.4 301.7h5.36v5.36h-5.36zM211.2 306.8h5.36v5.36h-5.36zM398.4 311.8h5.36v5.36h-5.36zM206.2 327.0h5.36v5.36h-5.36zM211.2 327.0h5.36v5.36h-5.36zM206.2 332.1h5.36v5.36h-5.36zM211.2 332.1h5.36v5.36h-5.36zM403.4 332.1h5.36v5.36h-5.36zM418.6 352.4h5.36v5.36h-5.36zM418.6 357.4h5.36v5.36h-5.36zM423.6 362.5h5.36v5.36h-5.36zM231.5 367.5h5.36v5.36h-5.36zM226.4 372.6h5.36v5.36h-5.36zM226.4 377.7h5.36v5.36h-5.36zM221.4 382.7h5.36v5.36h-5.36zM226.4 382.7h5.36v5.36h-5.36zM221.4 387.8h5.36v5.36h-5.36zM221.4 392.9h5.36v5.36h-5.36zM221.4 403.0h5.36v5.36h-5.36zM428.7 403.0h5.36v5.36h-5.36zM438.8 403.0h5.36v5.36h-5.36zM221.4 408.1h5.36v5.36h-5.36zM226.4 408.1h5.36v5.36h-5.36zM216.3 413.1h5.36v5.36h-5.36zM221.4 413.1h5.36v5.36h-5.36zM226.4 418.2h5.36v5.36h-5.36zM231.5 418.2h5.36v5.36h-5.36zM226.4 428.3h5.36v5.36h-5.36zM236.5 433.4h5.36v5.36h-5.36zM226.4 438.4h5.36v5.36h-5.36zM438.8 438.4h5.36v5.36h-5.36zM226.4 443.5h5.36v5.36h-5.36zM231.5 443.5h5.36v5.36h-5.36zM231.5 448.6h5.36v5.36h-5.36zM236.5 448.6h5.36v5.36h-5.36zM231.5 453.6h5.36v5.36h-5.36zM443.9 453.6h5.36v5.36h-5.36zM433.8 458.7h5.36v5.36h-5.36zM438.8 458.7h5.36v5.36h-5.36zM443.9 463.8h5.36v5.36h-5.36zM236.5 468.8h5.36v5.36h-5.36zM246.6 468.8h5.36v5.36h-5.36zM443.9 468.8h5.36v5.36h-5.36zM236.5 473.9h5.36v5.36h-5.36zM246.6 473.9h5.36v5.36h-5.36zM251.7 473.9h5.36v5.36h-5.36zM236.5 479.0h5.36v5.36h-5.36zM256.8 479.0h5.36v5.36h-5.36zM241.6 484.0h5.36v5.36h-5.36zM256.8 484.0h5.36v5.36h-5.36zM241.6 489.1h5.36v5.36h-5.36zM438.8 489.1h5.36v5.36h-5.36zM438.8 494.1h5.36v5.36h-5.36zM251.7 499.2h5.36v5.36h-5.36zM256.8 499.2h5.36v5.36h-5.36zM438.8 504.3h5.36v5.36h-5.36zM251.7 509.3h5.36v5.36h-5.36zM266.9 509.3h5.36v5.36h-5.36zM438.8 509.3h5.36v5.36h-5.36zM261.8 519.5h5.36v5.36h-5.36zM277.0 519.5h5.36v5.36h-5.36zM261.8 524.5h5.36v5.36h-5.36zM433.8 524.5h5.36v5.36h-5.36zM261.8 529.6h5.36v5.36h-5.36zM277.0 529.6h5.36v5.36h-5.36zM282.0 529.6h5.36v5.36h-5.36zM433.8 529.6h5.36v5.36h-5.36zM277.0 534.7h5.36v5.36h-5.36zM438.8 539.7h5.36v5.36h-5.36zM277.0 544.8h5.36v5.36h-5.36zM438.8 544.8h5.36v5.36h-5.36zM277.0 560.0h5.36v5.36h-5.36zM433.8 560.0h5.36v5.36h-5.36zM433.8 565.0h5.36v5.36h-5.36zM292.2 570.1h5.36v5.36h-5.36zM292.2 575.2h5.36v5.36h-5.36zM438.8 575.2h5.36v5.36h-5.36zM433.8 580.2h5.36v5.36h-5.36zM408.5 585.3h5.36v5.36h-5.36zM418.6 585.3h5.36v5.36h-5.36zM408.5 590.4h5.36v5.36h-5.36zM413.5 590.4h5.36v5.36h-5.36zM418.6 590.4h5.36v5.36h-5.36zM292.2 595.4h5.36v5.36h-5.36zM428.7 595.4h5.36v5.36h-5.36z"/>
<path fill="#b6c0c1" shape-rendering="crispEdges" d="M363.0 246.0h5.36v5.36h-5.36zM226.4 251.1h5.36v5.36h-5.36zM357.9 251.1h5.36v5.36h-5.36zM221.4 256.1h5.36v5.36h-5.36zM226.4 256.1h5.36v5.36h-5.36zM322.5 256.1h5.36v5.36h-5.36zM352.8 256.1h5.36v5.36h-5.36zM378.1 256.1h5.36v5.36h-5.36zM368.0 261.2h5.36v5.36h-5.36zM373.1 261.2h5.36v5.36h-5.36zM368.0 266.3h5.36v5.36h-5.36zM378.1 266.3h5.36v5.36h-5.36zM393.3 266.3h5.36v5.36h-5.36zM373.1 271.3h5.36v5.36h-5.36zM398.4 271.3h5.36v5.36h-5.36zM221.4 276.4h5.36v5.36h-5.36zM398.4 276.4h5.36v5.36h-5.36zM378.1 281.4h5.36v5.36h-5.36zM383.2 281.4h5.36v5.36h-5.36zM398.4 281.4h5.36v5.36h-5.36zM216.3 286.5h5.36v5.36h-5.36zM221.4 286.5h5.36v5.36h-5.36zM398.4 286.5h5.36v5.36h-5.36zM216.3 291.6h5.36v5.36h-5.36zM211.2 301.7h5.36v5.36h-5.36zM216.3 301.7h5.36v5.36h-5.36zM206.2 306.8h5.36v5.36h-5.36zM216.3 306.8h5.36v5.36h-5.36zM398.4 306.8h5.36v5.36h-5.36zM211.2 311.8h5.36v5.36h-5.36zM408.5 327.0h5.36v5.36h-5.36zM413.5 332.1h5.36v5.36h-5.36zM418.6 332.1h5.36v5.36h-5.36zM211.2 337.2h5.36v5.36h-5.36zM211.2 342.2h5.36v5.36h-5.36zM418.6 342.2h5.36v5.36h-5.36zM201.1 347.3h5.36v5.36h-5.36zM206.2 347.3h5.36v5.36h-5.36zM211.2 347.3h5.36v5.36h-5.36zM418.6 347.3h5.36v5.36h-5.36zM206.2 352.4h5.36v5.36h-5.36zM423.6 352.4h5.36v5.36h-5.36zM211.2 357.4h5.36v5.36h-5.36zM423.6 357.4h5.36v5.36h-5.36zM231.5 372.6h5.36v5.36h-5.36zM221.4 377.7h5.36v5.36h-5.36zM423.6 377.7h5.36v5.36h-5.36zM433.8 382.7h5.36v5.36h-5.36zM216.3 392.9h5.36v5.36h-5.36zM428.7 392.9h5.36v5.36h-5.36zM433.8 392.9h5.36v5.36h-5.36zM221.4 397.9h5.36v5.36h-5.36zM428.7 397.9h5.36v5.36h-5.36zM433.8 397.9h5.36v5.36h-5.36zM438.8 397.9h5.36v5.36h-5.36zM216.3 403.0h5.36v5.36h-5.36zM433.8 403.0h5.36v5.36h-5.36zM216.3 408.1h5.36v5.36h-5.36zM438.8 408.1h5.36v5.36h-5.36zM438.8 413.1h5.36v5.36h-5.36zM226.4 433.4h5.36v5.36h-5.36zM443.9 438.4h5.36v5.36h-5.36zM443.9 443.5h5.36v5.36h-5.36zM226.4 448.6h5.36v5.36h-5.36zM226.4 453.6h5.36v5.36h-5.36zM236.5 453.6h5.36v5.36h-5.36zM236.5 458.7h5.36v5.36h-5.36zM443.9 458.7h5.36v5.36h-5.36zM236.5 463.8h5.36v5.36h-5.36zM231.5 468.8h5.36v5.36h-5.36zM438.8 468.8h5.36v5.36h-5.36zM448.9 468.8h5.36v5.36h-5.36zM231.5 473.9h5.36v5.36h-5.36zM438.8 473.9h5.36v5.36h-5.36zM448.9 473.9h5.36v5.36h-5.36zM241.6 479.0h5.36v5.36h-5.36zM443.9 479.0h5.36v5.36h-5.36zM241.6 494.1h5.36v5.36h-5.36zM438.8 499.2h5.36v5.36h-5.36zM443.9 499.2h5.36v5.36h-5.36zM251.7 504.3h5.36v5.36h-5.36zM256.8 514.4h5.36v5.36h-5.36zM438.8 514.4h5.36v5.36h-5.36zM251.7 519.5h5.36v5.36h-5.36zM438.8 519.5h5.36v5.36h-5.36zM251.7 524.5h5.36v5.36h-5.36zM256.8 524.5h5.36v5.36h-5.36zM438.8 524.5h5.36v5.36h-5.36zM251.7 529.6h5.36v5.36h-5.36zM266.9 539.7h5.36v5.36h-5.36zM443.9 539.7h5.36v5.36h-5.36zM266.9 544.8h5.36v5.36h-5.36zM271.9 549.9h5.36v5.36h-5.36zM277.0 549.9h5.36v5.36h-5.36zM282.0 549.9h5.36v5.36h-5.36zM271.9 554.9h5.36v5.36h-5.36zM282.0 554.9h5.36v5.36h-5.36zM438.8 554.9h5.36v5.36h-5.36zM438.8 560.0h5.36v5.36h-5.36zM282.0 565.0h5.36v5.36h-5.36zM438.8 565.0h5.36v5.36h-5.36zM287.1 570.1h5.36v5.36h-5.36zM287.1 575.2h5.36v5.36h-5.36zM423.6 575.2h5.36v5.36h-5.36zM433.8 575.2h5.36v5.36h-5.36zM287.1 580.2h5.36v5.36h-5.36zM428.7 580.2h5.36v5.36h-5.36zM292.2 585.3h5.36v5.36h-5.36zM297.2 585.3h5.36v5.36h-5.36zM428.7 585.3h5.36v5.36h-5.36zM282.0 590.4h5.36v5.36h-5.36zM292.2 590.4h5.36v5.36h-5.36zM428.7 590.4h5.36v5.36h-5.36zM433.8 590.4h5.36v5.36h-5.36zM287.1 595.4h5.36v5.36h-5.36zM433.8 595.4h5.36v5.36h-5.36z"/>
<path fill="#bfc8c9" shape-rendering="crispEdges" d="M226.4 246.0h5.36v5.36h-5.36zM221.4 251.1h5.36v5.36h-5.36zM363.0 251.1h5.36v5.36h-5.36zM216.3 256.1h5.36v5.36h-5.36zM368.0 256.1h5.36v5.36h-5.36zM373.1 256.1h5.36v5.36h-5.36zM383.2 256.1h5.36v5.36h-5.36zM216.3 261.2h5.36v5.36h-5.36zM211.2 266.3h5.36v5.36h-5.36zM373.1 266.3h5.36v5.36h-5.36zM388.2 266.3h5.36v5.36h-5.36zM398.4 266.3h5.36v5.36h-5.36zM211.2 271.3h5.36v5.36h-5.36zM216.3 271.3h5.36v5.36h-5.36zM221.4 271.3h5.36v5.36h-5.36zM393.3 271.3h5.36v5.36h-5.36zM211.2 276.4h5.36v5.36h-5.36zM216.3 276.4h5.36v5.36h-5.36zM211.2 281.4h5.36v5.36h-5.36zM403.4 281.4h5.36v5.36h-5.36zM211.2 286.5h5.36v5.36h-5.36zM403.4 286.5h5.36v5.36h-5.36zM206.2 291.6h5.36v5.36h-5.36zM211.2 291.6h5.36v5.36h-5.36zM403.4 291.6h5.36v5.36h-5.36zM206.2 296.6h5.36v5.36h-5.36zM211.2 296.6h5.36v5.36h-5.36zM206.2 301.7h5.36v5.36h-5.36zM403.4 301.7h5.36v5.36h-5.36zM206.2 311.8h5.36v5.36h-5.36zM403.4 311.8h5.36v5.36h-5.36zM201.1 316.9h5.36v5.36h-5.36zM408.5 316.9h5.36v5.36h-5.36zM413.5 316.9h5.36v5.36h-5.36zM408.5 322.0h5.36v5.36h-5.36zM413.5 322.0h5.36v5.36h-5.36zM201.1 327.0h5.36v5.36h-5.36zM413.5 327.0h5.36v5.36h-5.36zM418.6 327.0h5.36v5.36h-5.36zM408.5 332.1h5.36v5.36h-5.36zM423.6 332.1h5.36v5.36h-5.36zM201.1 337.2h5.36v5.36h-5.36zM206.2 337.2h5.36v5.36h-5.36zM418.6 337.2h5.36v5.36h-5.36zM206.2 342.2h5.36v5.36h-5.36zM423.6 342.2h5.36v5.36h-5.36zM211.2 352.4h5.36v5.36h-5.36zM428.7 352.4h5.36v5.36h-5.36zM206.2 357.4h5.36v5.36h-5.36zM428.7 357.4h5.36v5.36h-5.36zM211.2 362.5h5.36v5.36h-5.36zM428.7 362.5h5.36v5.36h-5.36zM433.8 362.5h5.36v5.36h-5.36zM221.4 367.5h5.36v5.36h-5.36zM428.7 367.5h5.36v5.36h-5.36zM221.4 372.6h5.36v5.36h-5.36zM433.8 372.6h5.36v5.36h-5.36zM216.3 377.7h5.36v5.36h-5.36zM428.7 377.7h5.36v5.36h-5.36zM433.8 377.7h5.36v5.36h-5.36zM216.3 382.7h5.36v5.36h-5.36zM428.7 382.7h5.36v5.36h-5.36zM216.3 387.8h5.36v5.36h-5.36zM428.7 387.8h5.36v5.36h-5.36zM438.8 387.8h5.36v5.36h-5.36zM438.8 392.9h5.36v5.36h-5.36zM443.9 403.0h5.36v5.36h-5.36zM221.4 423.2h5.36v5.36h-5.36zM438.8 423.2h5.36v5.36h-5.36zM216.3 428.3h5.36v5.36h-5.36zM221.4 428.3h5.36v5.36h-5.36zM438.8 428.3h5.36v5.36h-5.36zM221.4 433.4h5.36v5.36h-5.36zM221.4 443.5h5.36v5.36h-5.36zM448.9 453.6h5.36v5.36h-5.36zM231.5 458.7h5.36v5.36h-5.36zM448.9 458.7h5.36v5.36h-5.36zM226.4 463.8h5.36v5.36h-5.36zM448.9 463.8h5.36v5.36h-5.36zM226.4 468.8h5.36v5.36h-5.36zM454.0 468.8h5.36v5.36h-5.36zM443.9 473.9h5.36v5.36h-5.36zM454.0 473.9h5.36v5.36h-5.36zM236.5 484.0h5.36v5.36h-5.36zM443.9 484.0h5.36v5.36h-5.36zM448.9 484.0h5.36v5.36h-5.36zM443.9 489.1h5.36v5.36h-5.36zM443.9 494.1h5.36v5.36h-5.36zM241.6 499.2h5.36v5.36h-5.36zM246.6 499.2h5.36v5.36h-5.36zM246.6 504.3h5.36v5.36h-5.36zM443.9 509.3h5.36v5.36h-5.36zM246.6 514.4h5.36v5.36h-5.36zM251.7 514.4h5.36v5.36h-5.36zM443.9 514.4h5.36v5.36h-5.36zM246.6 519.5h5.36v5.36h-5.36zM256.8 519.5h5.36v5.36h-5.36zM448.9 519.5h5.36v5.36h-5.36zM443.9 524.5h5.36v5.36h-5.36zM256.8 529.6h5.36v5.36h-5.36zM438.8 529.6h5.36v5.36h-5.36zM251.7 534.7h5.36v5.36h-5.36zM256.8 534.7h5.36v5.36h-5.36zM261.8 534.7h5.36v5.36h-5.36zM433.8 534.7h5.36v5.36h-5.36zM261.8 539.7h5.36v5.36h-5.36zM443.9 544.8h5.36v5.36h-5.36zM261.8 549.9h5.36v5.36h-5.36zM438.8 549.9h5.36v5.36h-5.36zM256.8 554.9h5.36v5.36h-5.36zM266.9 554.9h5.36v5.36h-5.36zM277.0 554.9h5.36v5.36h-5.36zM443.9 560.0h5.36v5.36h-5.36zM277.0 565.0h5.36v5.36h-5.36zM443.9 565.0h5.36v5.36h-5.36zM438.8 570.1h5.36v5.36h-5.36zM443.9 570.1h5.36v5.36h-5.36zM292.2 580.2h5.36v5.36h-5.36zM438.8 580.2h5.36v5.36h-5.36zM287.1 585.3h5.36v5.36h-5.36zM438.8 585.3h5.36v5.36h-5.36zM287.1 590.4h5.36v5.36h-5.36zM282.0 595.4h5.36v5.36h-5.36z"/>
<path fill="#c8d0d1" shape-rendering="crispEdges" d="M221.4 246.0h5.36v5.36h-5.36zM368.0 246.0h5.36v5.36h-5.36zM216.3 251.1h5.36v5.36h-5.36zM378.1 251.1h5.36v5.36h-5.36zM211.2 261.2h5.36v5.36h-5.36zM388.2 261.2h5.36v5.36h-5.36zM393.3 261.2h5.36v5.36h-5.36zM206.2 266.3h5.36v5.36h-5.36zM216.3 266.3h5.36v5.36h-5.36zM221.4 266.3h5.36v5.36h-5.36zM403.4 271.3h5.36v5.36h-5.36zM206.2 276.4h5.36v5.36h-5.36zM403.4 276.4h5.36v5.36h-5.36zM206.2 281.4h5.36v5.36h-5.36zM206.2 286.5h5.36v5.36h-5.36zM403.4 296.6h5.36v5.36h-5.36zM201.1 301.7h5.36v5.36h-5.36zM403.4 306.8h5.36v5.36h-5.36zM408.5 306.8h5.36v5.36h-5.36zM201.1 311.8h5.36v5.36h-5.36zM408.5 311.8h5.36v5.36h-5.36zM206.2 316.9h5.36v5.36h-5.36zM211.2 316.9h5.36v5.36h-5.36zM201.1 322.0h5.36v5.36h-5.36zM206.2 322.0h5.36v5.36h-5.36zM211.2 322.0h5.36v5.36h-5.36zM418.6 322.0h5.36v5.36h-5.36zM423.6 327.0h5.36v5.36h-5.36zM201.1 332.1h5.36v5.36h-5.36zM201.1 342.2h5.36v5.36h-5.36zM428.7 342.2h5.36v5.36h-5.36zM423.6 347.3h5.36v5.36h-5.36zM428.7 347.3h5.36v5.36h-5.36zM201.1 352.4h5.36v5.36h-5.36zM433.8 357.4h5.36v5.36h-5.36zM438.8 357.4h5.36v5.36h-5.36zM438.8 362.5h5.36v5.36h-5.36zM211.2 367.5h5.36v5.36h-5.36zM216.3 367.5h5.36v5.36h-5.36zM433.8 367.5h5.36v5.36h-5.36zM216.3 372.6h5.36v5.36h-5.36zM438.8 377.7h5.36v5.36h-5.36zM438.8 382.7h5.36v5.36h-5.36zM211.2 387.8h5.36v5.36h-5.36zM433.8 387.8h5.36v5.36h-5.36zM211.2 392.9h5.36v5.36h-5.36zM443.9 392.9h5.36v5.36h-5.36zM216.3 397.9h5.36v5.36h-5.36zM443.9 397.9h5.36v5.36h-5.36zM443.9 408.1h5.36v5.36h-5.36zM216.3 418.2h5.36v5.36h-5.36zM221.4 418.2h5.36v5.36h-5.36zM438.8 418.2h5.36v5.36h-5.36zM443.9 418.2h5.36v5.36h-5.36zM448.9 418.2h5.36v5.36h-5.36zM454.0 418.2h5.36v5.36h-5.36zM448.9 423.2h5.36v5.36h-5.36zM454.0 423.2h5.36v5.36h-5.36zM448.9 428.3h5.36v5.36h-5.36zM454.0 428.3h5.36v5.36h-5.36zM438.8 433.4h5.36v5.36h-5.36zM443.9 433.4h5.36v5.36h-5.36zM448.9 433.4h5.36v5.36h-5.36zM216.3 438.4h5.36v5.36h-5.36zM221.4 438.4h5.36v5.36h-5.36zM448.9 438.4h5.36v5.36h-5.36zM448.9 443.5h5.36v5.36h-5.36zM454.0 443.5h5.36v5.36h-5.36zM221.4 448.6h5.36v5.36h-5.36zM448.9 448.6h5.36v5.36h-5.36zM454.0 458.7h5.36v5.36h-5.36zM231.5 463.8h5.36v5.36h-5.36zM454.0 463.8h5.36v5.36h-5.36zM226.4 473.9h5.36v5.36h-5.36zM448.9 479.0h5.36v5.36h-5.36zM231.5 489.1h5.36v5.36h-5.36zM236.5 489.1h5.36v5.36h-5.36zM448.9 489.1h5.36v5.36h-5.36zM236.5 494.1h5.36v5.36h-5.36zM236.5 504.3h5.36v5.36h-5.36zM241.6 504.3h5.36v5.36h-5.36zM443.9 504.3h5.36v5.36h-5.36zM246.6 509.3h5.36v5.36h-5.36zM448.9 509.3h5.36v5.36h-5.36zM241.6 519.5h5.36v5.36h-5.36zM443.9 519.5h5.36v5.36h-5.36zM241.6 524.5h5.36v5.36h-5.36zM246.6 524.5h5.36v5.36h-5.36zM448.9 524.5h5.36v5.36h-5.36zM246.6 529.6h5.36v5.36h-5.36zM443.9 529.6h5.36v5.36h-5.36zM438.8 534.7h5.36v5.36h-5.36zM443.9 534.7h5.36v5.36h-5.36zM251.7 539.7h5.36v5.36h-5.36zM256.8 539.7h5.36v5.36h-5.36zM261.8 544.8h5.36v5.36h-5.36zM256.8 549.9h5.36v5.36h-5.36zM266.9 549.9h5.36v5.36h-5.36zM443.9 549.9h5.36v5.36h-5.36zM261.8 554.9h5.36v5.36h-5.36zM443.9 554.9h5.36v5.36h-5.36zM261.8 560.0h5.36v5.36h-5.36zM271.9 560.0h5.36v5.36h-5.36zM266.9 565.0h5.36v5.36h-5.36zM271.9 565.0h5.36v5.36h-5.36zM271.9 570.1h5.36v5.36h-5.36zM443.9 575.2h5.36v5.36h-5.36zM277.0 580.2h5.36v5.36h-5.36zM282.0 580.2h5.36v5.36h-5.36zM443.9 580.2h5.36v5.36h-5.36zM282.0 585.3h5.36v5.36h-5.36zM433.8 585.3h5.36v5.36h-5.36zM443.9 585.3h5.36v5.36h-5.36zM277.0 595.4h5.36v5.36h-5.36z"/>
<path fill="#d1d8d8" shape-rendering="crispEdges" d="M211.2 246.0h5.36v5.36h-5.36zM216.3 246.0h5.36v5.36h-5.36zM373.1 246.0h5.36v5.36h-5.36zM383.2 246.0h5.36v5.36h-5.36zM393.3 246.0h5.36v5.36h-5.36zM368.0 251.1h5.36v5.36h-5.36zM373.1 251.1h5.36v5.36h-5.36zM383.2 251.1h5.36v5.36h-5.36zM388.2 251.1h5.36v5.36h-5.36zM393.3 251.1h5.36v5.36h-5.36zM398.4 251.1h5.36v5.36h-5.36zM211.2 256.1h5.36v5.36h-5.36zM388.2 256.1h5.36v5.36h-5.36zM206.2 271.3h5.36v5.36h-5.36zM201.1 276.4h5.36v5.36h-5.36zM201.1 291.6h5.36v5.36h-5.36zM413.5 291.6h5.36v5.36h-5.36zM201.1 296.6h5.36v5.36h-5.36zM408.5 296.6h5.36v5.36h-5.36zM196.1 301.7h5.36v5.36h-5.36zM408.5 301.7h5.36v5.36h-5.36zM413.5 301.7h5.36v5.36h-5.36zM418.6 301.7h5.36v5.36h-5.36zM201.1 306.8h5.36v5.36h-5.36zM413.5 306.8h5.36v5.36h-5.36zM413.5 311.8h5.36v5.36h-5.36zM418.6 311.8h5.36v5.36h-5.36zM196.1 316.9h5.36v5.36h-5.36zM418.6 316.9h5.36v5.36h-5.36zM196.1 322.0h5.36v5.36h-5.36zM423.6 322.0h5.36v5.36h-5.36zM196.1 327.0h5.36v5.36h-5.36zM196.1 332.1h5.36v5.36h-5.36zM196.1 337.2h5.36v5.36h-5.36zM423.6 337.2h5.36v5.36h-5.36zM428.7 337.2h5.36v5.36h-5.36zM196.1 342.2h5.36v5.36h-5.36zM196.1 347.3h5.36v5.36h-5.36zM433.8 347.3h5.36v5.36h-5.36zM196.1 352.4h5.36v5.36h-5.36zM433.8 352.4h5.36v5.36h-5.36zM438.8 352.4h5.36v5.36h-5.36zM201.1 357.4h5.36v5.36h-5.36zM201.1 362.5h5.36v5.36h-5.36zM206.2 362.5h5.36v5.36h-5.36zM443.9 362.5h5.36v5.36h-5.36zM201.1 367.5h5.36v5.36h-5.36zM206.2 367.5h5.36v5.36h-5.36zM206.2 372.6h5.36v5.36h-5.36zM201.1 377.7h5.36v5.36h-5.36zM211.2 377.7h5.36v5.36h-5.36zM443.9 377.7h5.36v5.36h-5.36zM211.2 382.7h5.36v5.36h-5.36zM443.9 382.7h5.36v5.36h-5.36zM201.1 387.8h5.36v5.36h-5.36zM443.9 387.8h5.36v5.36h-5.36zM448.9 387.8h5.36v5.36h-5.36zM454.0 387.8h5.36v5.36h-5.36zM201.1 392.9h5.36v5.36h-5.36zM206.2 392.9h5.36v5.36h-5.36zM448.9 392.9h5.36v5.36h-5.36zM454.0 392.9h5.36v5.36h-5.36zM211.2 397.9h5.36v5.36h-5.36zM448.9 397.9h5.36v5.36h-5.36zM454.0 397.9h5.36v5.36h-5.36zM206.2 403.0h5.36v5.36h-5.36zM211.2 403.0h5.36v5.36h-5.36zM448.9 403.0h5.36v5.36h-5.36zM454.0 403.0h5.36v5.36h-5.36zM206.2 408.1h5.36v5.36h-5.36zM211.2 408.1h5.36v5.36h-5.36zM448.9 408.1h5.36v5.36h-5.36zM206.2 413.1h5.36v5.36h-5.36zM211.2 413.1h5.36v5.36h-5.36zM443.9 413.1h5.36v5.36h-5.36zM448.9 413.1h5.36v5.36h-5.36zM211.2 418.2h5.36v5.36h-5.36zM211.2 423.2h5.36v5.36h-5.36zM216.3 423.2h5.36v5.36h-5.36zM443.9 423.2h5.36v5.36h-5.36zM201.1 428.3h5.36v5.36h-5.36zM211.2 428.3h5.36v5.36h-5.36zM443.9 428.3h5.36v5.36h-5.36zM201.1 433.4h5.36v5.36h-5.36zM216.3 433.4h5.36v5.36h-5.36zM454.0 433.4h5.36v5.36h-5.36zM201.1 438.4h5.36v5.36h-5.36zM206.2 438.4h5.36v5.36h-5.36zM211.2 438.4h5.36v5.36h-5.36zM216.3 443.5h5.36v5.36h-5.36zM206.2 448.6h5.36v5.36h-5.36zM211.2 448.6h5.36v5.36h-5.36zM216.3 448.6h5.36v5.36h-5.36zM454.0 448.6h5.36v5.36h-5.36zM211.2 453.6h5.36v5.36h-5.36zM216.3 453.6h5.36v5.36h-5.36zM221.4 453.6h5.36v5.36h-5.36zM454.0 453.6h5.36v5.36h-5.36zM211.2 458.7h5.36v5.36h-5.36zM216.3 458.7h5.36v5.36h-5.36zM221.4 458.7h5.36v5.36h-5.36zM226.4 458.7h5.36v5.36h-5.36zM216.3 463.8h5.36v5.36h-5.36zM221.4 463.8h5.36v5.36h-5.36zM211.2 468.8h5.36v5.36h-5.36zM459.0 468.8h5.36v5.36h-5.36zM221.4 473.9h5.36v5.36h-5.36zM459.0 473.9h5.36v5.36h-5.36zM221.4 479.0h5.36v5.36h-5.36zM226.4 479.0h5.36v5.36h-5.36zM231.5 479.0h5.36v5.36h-5.36zM454.0 479.0h5.36v5.36h-5.36zM226.4 484.0h5.36v5.36h-5.36zM231.5 484.0h5.36v5.36h-5.36zM454.0 484.0h5.36v5.36h-5.36zM454.0 489.1h5.36v5.36h-5.36zM231.5 494.1h5.36v5.36h-5.36zM448.9 494.1h5.36v5.36h-5.36zM454.0 494.1h5.36v5.36h-5.36zM236.5 499.2h5.36v5.36h-5.36zM448.9 499.2h5.36v5.36h-5.36zM454.0 504.3h5.36v5.36h-5.36zM241.6 509.3h5.36v5.36h-5.36zM454.0 509.3h5.36v5.36h-5.36zM241.6 514.4h5.36v5.36h-5.36zM448.9 514.4h5.36v5.36h-5.36zM454.0 514.4h5.36v5.36h-5.36zM454.0 519.5h5.36v5.36h-5.36zM236.5 524.5h5.36v5.36h-5.36zM454.0 524.5h5.36v5.36h-5.36zM236.5 529.6h5.36v5.36h-5.36zM241.6 529.6h5.36v5.36h-5.36zM448.9 529.6h5.36v5.36h-5.36zM246.6 534.7h5.36v5.36h-5.36zM448.9 534.7h5.36v5.36h-5.36zM246.6 539.7h5.36v5.36h-5.36zM256.8 544.8h5.36v5.36h-5.36zM448.9 544.8h5.36v5.36h-5.36zM251.7 549.9h5.36v5.36h-5.36zM448.9 549.9h5.36v5.36h-5.36zM251.7 554.9h5.36v5.36h-5.36zM448.9 554.9h5.36v5.36h-5.36zM454.0 554.9h5.36v5.36h-5.36zM266.9 560.0h5.36v5.36h-5.36zM448.9 560.0h5.36v5.36h-5.36zM454.0 560.0h5.36v5.36h-5.36zM261.8 565.0h5.36v5.36h-5.36zM448.9 565.0h5.36v5.36h-5.36zM454.0 565.0h5.36v5.36h-5.36zM282.0 570.1h5.36v5.36h-5.36zM448.9 570.1h5.36v5.36h-5.36zM271.9 575.2h5.36v5.36h-5.36zM282.0 575.2h5.36v5.36h-5.36zM448.9 575.2h5.36v5.36h-5.36zM271.9 580.2h5.36v5.36h-5.36zM271.9 585.3h5.36v5.36h-5.36zM277.0 585.3h5.36v5.36h-5.36zM277.0 590.4h5.36v5.36h-5.36zM438.8 590.4h5.36v5.36h-5.36zM443.9 590.4h5.36v5.36h-5.36zM448.9 590.4h5.36v5.36h-5.36zM454.0 590.4h5.36v5.36h-5.36zM438.8 595.4h5.36v5.36h-5.36zM448.9 595.4h5.36v5.36h-5.36z"/>
<path fill="#dae0e0" shape-rendering="crispEdges" d="M206.2 246.0h5.36v5.36h-5.36zM378.1 246.0h5.36v5.36h-5.36zM388.2 246.0h5.36v5.36h-5.36zM398.4 246.0h5.36v5.36h-5.36zM403.4 246.0h5.36v5.36h-5.36zM201.1 251.1h5.36v5.36h-5.36zM206.2 251.1h5.36v5.36h-5.36zM211.2 251.1h5.36v5.36h-5.36zM403.4 251.1h5.36v5.36h-5.36zM206.2 256.1h5.36v5.36h-5.36zM393.3 256.1h5.36v5.36h-5.36zM398.4 256.1h5.36v5.36h-5.36zM408.5 256.1h5.36v5.36h-5.36zM201.1 261.2h5.36v5.36h-5.36zM206.2 261.2h5.36v5.36h-5.36zM398.4 261.2h5.36v5.36h-5.36zM196.1 266.3h5.36v5.36h-5.36zM201.1 266.3h5.36v5.36h-5.36zM403.4 266.3h5.36v5.36h-5.36zM196.1 271.3h5.36v5.36h-5.36zM201.1 271.3h5.36v5.36h-5.36zM191.0 276.4h5.36v5.36h-5.36zM196.1 276.4h5.36v5.36h-5.36zM196.1 281.4h5.36v5.36h-5.36zM201.1 281.4h5.36v5.36h-5.36zM408.5 281.4h5.36v5.36h-5.36zM196.1 286.5h5.36v5.36h-5.36zM201.1 286.5h5.36v5.36h-5.36zM408.5 286.5h5.36v5.36h-5.36zM413.5 286.5h5.36v5.36h-5.36zM418.6 286.5h5.36v5.36h-5.36zM408.5 291.6h5.36v5.36h-5.36zM418.6 291.6h5.36v5.36h-5.36zM191.0 296.6h5.36v5.36h-5.36zM196.1 296.6h5.36v5.36h-5.36zM413.5 296.6h5.36v5.36h-5.36zM418.6 296.6h5.36v5.36h-5.36zM423.6 296.6h5.36v5.36h-5.36zM186.0 301.7h5.36v5.36h-5.36zM191.0 301.7h5.36v5.36h-5.36zM423.6 301.7h5.36v5.36h-5.36zM196.1 306.8h5.36v5.36h-5.36zM418.6 306.8h5.36v5.36h-5.36zM191.0 311.8h5.36v5.36h-5.36zM196.1 311.8h5.36v5.36h-5.36zM423.6 311.8h5.36v5.36h-5.36zM186.0 316.9h5.36v5.36h-5.36zM191.0 316.9h5.36v5.36h-5.36zM423.6 316.9h5.36v5.36h-5.36zM191.0 322.0h5.36v5.36h-5.36zM186.0 327.0h5.36v5.36h-5.36zM191.0 327.0h5.36v5.36h-5.36zM428.7 327.0h5.36v5.36h-5.36zM438.8 327.0h5.36v5.36h-5.36zM191.0 332.1h5.36v5.36h-5.36zM428.7 332.1h5.36v5.36h-5.36zM433.8 332.1h5.36v5.36h-5.36zM438.8 332.1h5.36v5.36h-5.36zM443.9 332.1h5.36v5.36h-5.36zM191.0 337.2h5.36v5.36h-5.36zM433.8 337.2h5.36v5.36h-5.36zM186.0 342.2h5.36v5.36h-5.36zM191.0 342.2h5.36v5.36h-5.36zM433.8 342.2h5.36v5.36h-5.36zM191.0 347.3h5.36v5.36h-5.36zM438.8 347.3h5.36v5.36h-5.36zM443.9 347.3h5.36v5.36h-5.36zM191.0 352.4h5.36v5.36h-5.36zM443.9 352.4h5.36v5.36h-5.36zM196.1 357.4h5.36v5.36h-5.36zM443.9 357.4h5.36v5.36h-5.36zM196.1 362.5h5.36v5.36h-5.36zM191.0 367.5h5.36v5.36h-5.36zM196.1 367.5h5.36v5.36h-5.36zM438.8 367.5h5.36v5.36h-5.36zM443.9 367.5h5.36v5.36h-5.36zM448.9 367.5h5.36v5.36h-5.36zM196.1 372.6h5.36v5.36h-5.36zM201.1 372.6h5.36v5.36h-5.36zM211.2 372.6h5.36v5.36h-5.36zM438.8 372.6h5.36v5.36h-5.36zM448.9 372.6h5.36v5.36h-5.36zM454.0 372.6h5.36v5.36h-5.36zM196.1 377.7h5.36v5.36h-5.36zM206.2 377.7h5.36v5.36h-5.36zM448.9 377.7h5.36v5.36h-5.36zM454.0 377.7h5.36v5.36h-5.36zM459.0 377.7h5.36v5.36h-5.36zM196.1 382.7h5.36v5.36h-5.36zM201.1 382.7h5.36v5.36h-5.36zM206.2 382.7h5.36v5.36h-5.36zM454.0 382.7h5.36v5.36h-5.36zM459.0 382.7h5.36v5.36h-5.36zM196.1 387.8h5.36v5.36h-5.36zM206.2 387.8h5.36v5.36h-5.36zM459.0 387.8h5.36v5.36h-5.36zM196.1 392.9h5.36v5.36h-5.36zM459.0 392.9h5.36v5.36h-5.36zM206.2 397.9h5.36v5.36h-5.36zM459.0 397.9h5.36v5.36h-5.36zM196.1 403.0h5.36v5.36h-5.36zM201.1 403.0h5.36v5.36h-5.36zM459.0 403.0h5.36v5.36h-5.36zM196.1 408.1h5.36v5.36h-5.36zM201.1 408.1h5.36v5.36h-5.36zM454.0 408.1h5.36v5.36h-5.36zM459.0 408.1h5.36v5.36h-5.36zM196.1 413.1h5.36v5.36h-5.36zM201.1 413.1h5.36v5.36h-5.36zM454.0 413.1h5.36v5.36h-5.36zM459.0 413.1h5.36v5.36h-5.36zM196.1 418.2h5.36v5.36h-5.36zM201.1 418.2h5.36v5.36h-5.36zM206.2 418.2h5.36v5.36h-5.36zM459.0 418.2h5.36v5.36h-5.36zM464.1 418.2h5.36v5.36h-5.36zM201.1 423.2h5.36v5.36h-5.36zM206.2 423.2h5.36v5.36h-5.36zM459.0 423.2h5.36v5.36h-5.36zM464.1 423.2h5.36v5.36h-5.36zM196.1 428.3h5.36v5.36h-5.36zM206.2 428.3h5.36v5.36h-5.36zM211.2 433.4h5.36v5.36h-5.36zM196.1 438.4h5.36v5.36h-5.36zM454.0 438.4h5.36v5.36h-5.36zM459.0 438.4h5.36v5.36h-5.36zM196.1 443.5h5.36v5.36h-5.36zM201.1 443.5h5.36v5.36h-5.36zM206.2 443.5h5.36v5.36h-5.36zM211.2 443.5h5.36v5.36h-5.36zM459.0 443.5h5.36v5.36h-5.36zM206.2 453.6h5.36v5.36h-5.36zM459.0 453.6h5.36v5.36h-5.36zM201.1 458.7h5.36v5.36h-5.36zM206.2 458.7h5.36v5.36h-5.36zM459.0 458.7h5.36v5.36h-5.36zM206.2 463.8h5.36v5.36h-5.36zM211.2 463.8h5.36v5.36h-5.36zM459.0 463.8h5.36v5.36h-5.36zM206.2 468.8h5.36v5.36h-5.36zM216.3 468.8h5.36v5.36h-5.36zM221.4 468.8h5.36v5.36h-5.36zM464.1 468.8h5.36v5.36h-5.36zM211.2 473.9h5.36v5.36h-5.36zM216.3 473.9h5.36v5.36h-5.36zM464.1 473.9h5.36v5.36h-5.36zM216.3 479.0h5.36v5.36h-5.36zM459.0 479.0h5.36v5.36h-5.36zM221.4 484.0h5.36v5.36h-5.36zM459.0 484.0h5.36v5.36h-5.36zM226.4 489.1h5.36v5.36h-5.36zM459.0 489.1h5.36v5.36h-5.36zM226.4 494.1h5.36v5.36h-5.36zM459.0 494.1h5.36v5.36h-5.36zM464.1 494.1h5.36v5.36h-5.36zM226.4 499.2h5.36v5.36h-5.36zM231.5 499.2h5.36v5.36h-5.36zM454.0 499.2h5.36v5.36h-5.36zM231.5 504.3h5.36v5.36h-5.36zM448.9 504.3h5.36v5.36h-5.36zM459.0 504.3h5.36v5.36h-5.36zM226.4 509.3h5.36v5.36h-5.36zM231.5 509.3h5.36v5.36h-5.36zM236.5 509.3h5.36v5.36h-5.36zM459.0 509.3h5.36v5.36h-5.36zM464.1 509.3h5.36v5.36h-5.36zM221.4 514.4h5.36v5.36h-5.36zM226.4 514.4h5.36v5.36h-5.36zM231.5 514.4h5.36v5.36h-5.36zM236.5 514.4h5.36v5.36h-5.36zM459.0 514.4h5.36v5.36h-5.36zM464.1 514.4h5.36v5.36h-5.36zM231.5 519.5h5.36v5.36h-5.36zM236.5 519.5h5.36v5.36h-5.36zM464.1 519.5h5.36v5.36h-5.36zM231.5 524.5h5.36v5.36h-5.36zM231.5 529.6h5.36v5.36h-5.36zM454.0 529.6h5.36v5.36h-5.36zM459.0 529.6h5.36v5.36h-5.36zM469.2 529.6h5.36v5.36h-5.36zM231.5 534.7h5.36v5.36h-5.36zM236.5 534.7h5.36v5.36h-5.36zM241.6 534.7h5.36v5.36h-5.36zM454.0 534.7h5.36v5.36h-5.36zM459.0 534.7h5.36v5.36h-5.36zM464.1 534.7h5.36v5.36h-5.36zM236.5 539.7h5.36v5.36h-5.36zM241.6 539.7h5.36v5.36h-5.36zM448.9 539.7h5.36v5.36h-5.36zM236.5 544.8h5.36v5.36h-5.36zM241.6 544.8h5.36v5.36h-5.36zM246.6 544.8h5.36v5.36h-5.36zM251.7 544.8h5.36v5.36h-5.36zM454.0 544.8h5.36v5.36h-5.36zM241.6 549.9h5.36v5.36h-5.36zM246.6 549.9h5.36v5.36h-5.36zM454.0 549.9h5.36v5.36h-5.36zM459.0 549.9h5.36v5.36h-5.36zM241.6 554.9h5.36v5.36h-5.36zM246.6 554.9h5.36v5.36h-5.36zM246.6 560.0h5.36v5.36h-5.36zM251.7 560.0h5.36v5.36h-5.36zM256.8 560.0h5.36v5.36h-5.36zM251.7 565.0h5.36v5.36h-5.36zM251.7 570.1h5.36v5.36h-5.36zM261.8 570.1h5.36v5.36h-5.36zM266.9 570.1h5.36v5.36h-5.36zM277.0 570.1h5.36v5.36h-5.36zM454.0 570.1h5.36v5.36h-5.36zM251.7 575.2h5.36v5.36h-5.36zM261.8 575.2h5.36v5.36h-5.36zM277.0 575.2h5.36v5.36h-5.36zM454.0 575.2h5.36v5.36h-5.36zM246.6 580.2h5.36v5.36h-5.36zM256.8 580.2h5.36v5.36h-5.36zM261.8 580.2h5.36v5.36h-5.36zM266.9 580.2h5.36v5.36h-5.36zM448.9 580.2h5.36v5.36h-5.36zM454.0 580.2h5.36v5.36h-5.36zM459.0 580.2h5.36v5.36h-5.36zM266.9 585.3h5.36v5.36h-5.36zM448.9 585.3h5.36v5.36h-5.36zM454.0 585.3h5.36v5.36h-5.36zM266.9 590.4h5.36v5.36h-5.36zM271.9 590.4h5.36v5.36h-5.36zM266.9 595.4h5.36v5.36h-5.36zM271.9 595.4h5.36v5.36h-5.36zM443.9 595.4h5.36v5.36h-5.36zM454.0 595.4h5.36v5.36h-5.36z"/>
<path fill="#e4e8e8" shape-rendering="crispEdges" d="M175.8 246.0h5.36v5.36h-5.36zM186.0 246.0h5.36v5.36h-5.36zM191.0 246.0h5.36v5.36h-5.36zM196.1 246.0h5.36v5.36h-5.36zM201.1 246.0h5.36v5.36h-5.36zM408.5 246.0h5.36v5.36h-5.36zM423.6 246.0h5.36v5.36h-5.36zM175.8 251.1h5.36v5.36h-5.36zM180.9 251.1h5.36v5.36h-5.36zM186.0 251.1h5.36v5.36h-5.36zM191.0 251.1h5.36v5.36h-5.36zM196.1 251.1h5.36v5.36h-5.36zM428.7 251.1h5.36v5.36h-5.36zM438.8 251.1h5.36v5.36h-5.36zM186.0 256.1h5.36v5.36h-5.36zM191.0 256.1h5.36v5.36h-5.36zM196.1 256.1h5.36v5.36h-5.36zM201.1 256.1h5.36v5.36h-5.36zM403.4 256.1h5.36v5.36h-5.36zM413.5 256.1h5.36v5.36h-5.36zM186.0 261.2h5.36v5.36h-5.36zM191.0 261.2h5.36v5.36h-5.36zM196.1 261.2h5.36v5.36h-5.36zM403.4 261.2h5.36v5.36h-5.36zM408.5 261.2h5.36v5.36h-5.36zM413.5 261.2h5.36v5.36h-5.36zM186.0 266.3h5.36v5.36h-5.36zM408.5 266.3h5.36v5.36h-5.36zM413.5 266.3h5.36v5.36h-5.36zM180.9 271.3h5.36v5.36h-5.36zM191.0 271.3h5.36v5.36h-5.36zM408.5 271.3h5.36v5.36h-5.36zM413.5 271.3h5.36v5.36h-5.36zM489.4 271.3h5.36v5.36h-5.36zM170.8 276.4h5.36v5.36h-5.36zM175.8 276.4h5.36v5.36h-5.36zM180.9 276.4h5.36v5.36h-5.36zM186.0 276.4h5.36v5.36h-5.36zM408.5 276.4h5.36v5.36h-5.36zM413.5 276.4h5.36v5.36h-5.36zM418.6 276.4h5.36v5.36h-5.36zM494.4 276.4h5.36v5.36h-5.36zM165.7 281.4h5.36v5.36h-5.36zM180.9 281.4h5.36v5.36h-5.36zM186.0 281.4h5.36v5.36h-5.36zM191.0 281.4h5.36v5.36h-5.36zM413.5 281.4h5.36v5.36h-5.36zM418.6 281.4h5.36v5.36h-5.36zM423.6 281.4h5.36v5.36h-5.36zM180.9 286.5h5.36v5.36h-5.36zM186.0 286.5h5.36v5.36h-5.36zM191.0 286.5h5.36v5.36h-5.36zM423.6 286.5h5.36v5.36h-5.36zM175.8 291.6h5.36v5.36h-5.36zM180.9 291.6h5.36v5.36h-5.36zM186.0 291.6h5.36v5.36h-5.36zM191.0 291.6h5.36v5.36h-5.36zM196.1 291.6h5.36v5.36h-5.36zM423.6 291.6h5.36v5.36h-5.36zM180.9 296.6h5.36v5.36h-5.36zM186.0 296.6h5.36v5.36h-5.36zM180.9 301.7h5.36v5.36h-5.36zM428.7 301.7h5.36v5.36h-5.36zM186.0 306.8h5.36v5.36h-5.36zM191.0 306.8h5.36v5.36h-5.36zM423.6 306.8h5.36v5.36h-5.36zM428.7 306.8h5.36v5.36h-5.36zM175.8 311.8h5.36v5.36h-5.36zM180.9 311.8h5.36v5.36h-5.36zM186.0 311.8h5.36v5.36h-5.36zM428.7 311.8h5.36v5.36h-5.36zM175.8 316.9h5.36v5.36h-5.36zM428.7 316.9h5.36v5.36h-5.36zM433.8 316.9h5.36v5.36h-5.36zM438.8 316.9h5.36v5.36h-5.36zM186.0 322.0h5.36v5.36h-5.36zM428.7 322.0h5.36v5.36h-5.36zM438.8 322.0h5.36v5.36h-5.36zM175.8 327.0h5.36v5.36h-5.36zM180.9 327.0h5.36v5.36h-5.36zM433.8 327.0h5.36v5.36h-5.36zM443.9 327.0h5.36v5.36h-5.36zM448.9 327.0h5.36v5.36h-5.36zM180.9 332.1h5.36v5.36h-5.36zM186.0 332.1h5.36v5.36h-5.36zM448.9 332.1h5.36v5.36h-5.36zM160.7 337.2h5.36v5.36h-5.36zM186.0 337.2h5.36v5.36h-5.36zM438.8 337.2h5.36v5.36h-5.36zM443.9 337.2h5.36v5.36h-5.36zM448.9 337.2h5.36v5.36h-5.36zM160.7 342.2h5.36v5.36h-5.36zM438.8 342.2h5.36v5.36h-5.36zM443.9 342.2h5.36v5.36h-5.36zM448.9 342.2h5.36v5.36h-5.36zM175.8 347.3h5.36v5.36h-5.36zM180.9 347.3h5.36v5.36h-5.36zM186.0 347.3h5.36v5.36h-5.36zM469.2 347.3h5.36v5.36h-5.36zM170.8 352.4h5.36v5.36h-5.36zM175.8 352.4h5.36v5.36h-5.36zM180.9 352.4h5.36v5.36h-5.36zM186.0 352.4h5.36v5.36h-5.36zM448.9 352.4h5.36v5.36h-5.36zM180.9 357.4h5.36v5.36h-5.36zM186.0 357.4h5.36v5.36h-5.36zM191.0 357.4h5.36v5.36h-5.36zM448.9 357.4h5.36v5.36h-5.36zM454.0 357.4h5.36v5.36h-5.36zM175.8 362.5h5.36v5.36h-5.36zM180.9 362.5h5.36v5.36h-5.36zM186.0 362.5h5.36v5.36h-5.36zM191.0 362.5h5.36v5.36h-5.36zM448.9 362.5h5.36v5.36h-5.36zM454.0 362.5h5.36v5.36h-5.36zM186.0 367.5h5.36v5.36h-5.36zM454.0 367.5h5.36v5.36h-5.36zM186.0 372.6h5.36v5.36h-5.36zM191.0 372.6h5.36v5.36h-5.36zM443.9 372.6h5.36v5.36h-5.36zM459.0 372.6h5.36v5.36h-5.36zM464.1 372.6h5.36v5.36h-5.36zM469.2 372.6h5.36v5.36h-5.36zM180.9 377.7h5.36v5.36h-5.36zM186.0 377.7h5.36v5.36h-5.36zM191.0 377.7h5.36v5.36h-5.36zM464.1 377.7h5.36v5.36h-5.36zM180.9 382.7h5.36v5.36h-5.36zM186.0 382.7h5.36v5.36h-5.36zM191.0 382.7h5.36v5.36h-5.36zM448.9 382.7h5.36v5.36h-5.36zM464.1 382.7h5.36v5.36h-5.36zM191.0 387.8h5.36v5.36h-5.36zM191.0 392.9h5.36v5.36h-5.36zM464.1 392.9h5.36v5.36h-5.36zM469.2 392.9h5.36v5.36h-5.36zM196.1 397.9h5.36v5.36h-5.36zM201.1 397.9h5.36v5.36h-5.36zM464.1 397.9h5.36v5.36h-5.36zM191.0 403.0h5.36v5.36h-5.36zM464.1 403.0h5.36v5.36h-5.36zM469.2 403.0h5.36v5.36h-5.36zM175.8 408.1h5.36v5.36h-5.36zM180.9 408.1h5.36v5.36h-5.36zM186.0 408.1h5.36v5.36h-5.36zM191.0 408.1h5.36v5.36h-5.36zM464.1 408.1h5.36v5.36h-5.36zM469.2 408.1h5.36v5.36h-5.36zM474.2 408.1h5.36v5.36h-5.36zM180.9 413.1h5.36v5.36h-5.36zM186.0 413.1h5.36v5.36h-5.36zM191.0 413.1h5.36v5.36h-5.36zM464.1 413.1h5.36v5.36h-5.36zM469.2 413.1h5.36v5.36h-5.36zM191.0 418.2h5.36v5.36h-5.36zM469.2 418.2h5.36v5.36h-5.36zM191.0 423.2h5.36v5.36h-5.36zM196.1 423.2h5.36v5.36h-5.36zM469.2 423.2h5.36v5.36h-5.36zM191.0 428.3h5.36v5.36h-5.36zM459.0 428.3h5.36v5.36h-5.36zM464.1 428.3h5.36v5.36h-5.36zM469.2 428.3h5.36v5.36h-5.36zM479.3 428.3h5.36v5.36h-5.36zM484.3 428.3h5.36v5.36h-5.36zM196.1 433.4h5.36v5.36h-5.36zM206.2 433.4h5.36v5.36h-5.36zM459.0 433.4h5.36v5.36h-5.36zM479.3 433.4h5.36v5.36h-5.36zM484.3 433.4h5.36v5.36h-5.36zM186.0 438.4h5.36v5.36h-5.36zM191.0 438.4h5.36v5.36h-5.36zM464.1 438.4h5.36v5.36h-5.36zM474.2 438.4h5.36v5.36h-5.36zM464.1 443.5h5.36v5.36h-5.36zM196.1 448.6h5.36v5.36h-5.36zM201.1 448.6h5.36v5.36h-5.36zM459.0 448.6h5.36v5.36h-5.36zM464.1 448.6h5.36v5.36h-5.36zM469.2 448.6h5.36v5.36h-5.36zM474.2 448.6h5.36v5.36h-5.36zM196.1 453.6h5.36v5.36h-5.36zM201.1 453.6h5.36v5.36h-5.36zM469.2 453.6h5.36v5.36h-5.36zM191.0 458.7h5.36v5.36h-5.36zM196.1 458.7h5.36v5.36h-5.36zM464.1 458.7h5.36v5.36h-5.36zM469.2 458.7h5.36v5.36h-5.36zM186.0 463.8h5.36v5.36h-5.36zM191.0 463.8h5.36v5.36h-5.36zM196.1 463.8h5.36v5.36h-5.36zM201.1 463.8h5.36v5.36h-5.36zM464.1 463.8h5.36v5.36h-5.36zM469.2 463.8h5.36v5.36h-5.36zM474.2 463.8h5.36v5.36h-5.36zM191.0 468.8h5.36v5.36h-5.36zM196.1 468.8h5.36v5.36h-5.36zM201.1 468.8h5.36v5.36h-5.36zM474.2 468.8h5.36v5.36h-5.36zM201.1 473.9h5.36v5.36h-5.36zM206.2 473.9h5.36v5.36h-5.36zM474.2 473.9h5.36v5.36h-5.36zM211.2 479.0h5.36v5.36h-5.36zM464.1 479.0h5.36v5.36h-5.36zM469.2 479.0h5.36v5.36h-5.36zM206.2 484.0h5.36v5.36h-5.36zM211.2 484.0h5.36v5.36h-5.36zM216.3 484.0h5.36v5.36h-5.36zM464.1 484.0h5.36v5.36h-5.36zM474.2 484.0h5.36v5.36h-5.36zM221.4 489.1h5.36v5.36h-5.36zM464.1 489.1h5.36v5.36h-5.36zM474.2 489.1h5.36v5.36h-5.36zM484.3 489.1h5.36v5.36h-5.36zM160.7 494.1h5.36v5.36h-5.36zM469.2 494.1h5.36v5.36h-5.36zM479.3 494.1h5.36v5.36h-5.36zM489.4 494.1h5.36v5.36h-5.36zM494.4 494.1h5.36v5.36h-5.36zM216.3 499.2h5.36v5.36h-5.36zM221.4 499.2h5.36v5.36h-5.36zM459.0 499.2h5.36v5.36h-5.36zM479.3 499.2h5.36v5.36h-5.36zM221.4 504.3h5.36v5.36h-5.36zM226.4 504.3h5.36v5.36h-5.36zM464.1 504.3h5.36v5.36h-5.36zM479.3 504.3h5.36v5.36h-5.36zM489.4 504.3h5.36v5.36h-5.36zM494.4 504.3h5.36v5.36h-5.36zM150.6 509.3h5.36v5.36h-5.36zM170.8 509.3h5.36v5.36h-5.36zM216.3 509.3h5.36v5.36h-5.36zM221.4 509.3h5.36v5.36h-5.36zM469.2 509.3h5.36v5.36h-5.36zM474.2 509.3h5.36v5.36h-5.36zM216.3 514.4h5.36v5.36h-5.36zM469.2 514.4h5.36v5.36h-5.36zM474.2 514.4h5.36v5.36h-5.36zM479.3 514.4h5.36v5.36h-5.36zM484.3 514.4h5.36v5.36h-5.36zM216.3 519.5h5.36v5.36h-5.36zM221.4 519.5h5.36v5.36h-5.36zM226.4 519.5h5.36v5.36h-5.36zM459.0 519.5h5.36v5.36h-5.36zM469.2 519.5h5.36v5.36h-5.36zM474.2 519.5h5.36v5.36h-5.36zM479.3 519.5h5.36v5.36h-5.36zM216.3 524.5h5.36v5.36h-5.36zM221.4 524.5h5.36v5.36h-5.36zM226.4 524.5h5.36v5.36h-5.36zM459.0 524.5h5.36v5.36h-5.36zM464.1 524.5h5.36v5.36h-5.36zM469.2 524.5h5.36v5.36h-5.36zM474.2 524.5h5.36v5.36h-5.36zM479.3 524.5h5.36v5.36h-5.36zM226.4 529.6h5.36v5.36h-5.36zM464.1 529.6h5.36v5.36h-5.36zM474.2 529.6h5.36v5.36h-5.36zM226.4 534.7h5.36v5.36h-5.36zM469.2 534.7h5.36v5.36h-5.36zM474.2 534.7h5.36v5.36h-5.36zM145.5 539.7h5.36v5.36h-5.36zM221.4 539.7h5.36v5.36h-5.36zM226.4 539.7h5.36v5.36h-5.36zM231.5 539.7h5.36v5.36h-5.36zM454.0 539.7h5.36v5.36h-5.36zM459.0 539.7h5.36v5.36h-5.36zM474.2 539.7h5.36v5.36h-5.36zM494.4 539.7h5.36v5.36h-5.36zM221.4 544.8h5.36v5.36h-5.36zM226.4 544.8h5.36v5.36h-5.36zM231.5 544.8h5.36v5.36h-5.36zM459.0 544.8h5.36v5.36h-5.36zM469.2 544.8h5.36v5.36h-5.36zM474.2 544.8h5.36v5.36h-5.36zM165.7 549.9h5.36v5.36h-5.36zM170.8 549.9h5.36v5.36h-5.36zM226.4 549.9h5.36v5.36h-5.36zM231.5 549.9h5.36v5.36h-5.36zM236.5 549.9h5.36v5.36h-5.36zM464.1 549.9h5.36v5.36h-5.36zM165.7 554.9h5.36v5.36h-5.36zM170.8 554.9h5.36v5.36h-5.36zM231.5 554.9h5.36v5.36h-5.36zM236.5 554.9h5.36v5.36h-5.36zM459.0 554.9h5.36v5.36h-5.36zM464.1 554.9h5.36v5.36h-5.36zM236.5 560.0h5.36v5.36h-5.36zM241.6 560.0h5.36v5.36h-5.36zM459.0 560.0h5.36v5.36h-5.36zM464.1 560.0h5.36v5.36h-5.36zM474.2 560.0h5.36v5.36h-5.36zM175.8 565.0h5.36v5.36h-5.36zM236.5 565.0h5.36v5.36h-5.36zM241.6 565.0h5.36v5.36h-5.36zM246.6 565.0h5.36v5.36h-5.36zM256.8 565.0h5.36v5.36h-5.36zM459.0 565.0h5.36v5.36h-5.36zM464.1 565.0h5.36v5.36h-5.36zM469.2 565.0h5.36v5.36h-5.36zM165.7 570.1h5.36v5.36h-5.36zM241.6 570.1h5.36v5.36h-5.36zM246.6 570.1h5.36v5.36h-5.36zM256.8 570.1h5.36v5.36h-5.36zM175.8 575.2h5.36v5.36h-5.36zM191.0 575.2h5.36v5.36h-5.36zM196.1 575.2h5.36v5.36h-5.36zM201.1 575.2h5.36v5.36h-5.36zM236.5 575.2h5.36v5.36h-5.36zM241.6 575.2h5.36v5.36h-5.36zM246.6 575.2h5.36v5.36h-5.36zM256.8 575.2h5.36v5.36h-5.36zM266.9 575.2h5.36v5.36h-5.36zM459.0 575.2h5.36v5.36h-5.36zM175.8 580.2h5.36v5.36h-5.36zM180.9 580.2h5.36v5.36h-5.36zM186.0 580.2h5.36v5.36h-5.36zM191.0 580.2h5.36v5.36h-5.36zM221.4 580.2h5.36v5.36h-5.36zM241.6 580.2h5.36v5.36h-5.36zM251.7 580.2h5.36v5.36h-5.36zM464.1 580.2h5.36v5.36h-5.36zM175.8 585.3h5.36v5.36h-5.36zM180.9 585.3h5.36v5.36h-5.36zM191.0 585.3h5.36v5.36h-5.36zM201.1 585.3h5.36v5.36h-5.36zM216.3 585.3h5.36v5.36h-5.36zM221.4 585.3h5.36v5.36h-5.36zM226.4 585.3h5.36v5.36h-5.36zM236.5 585.3h5.36v5.36h-5.36zM241.6 585.3h5.36v5.36h-5.36zM246.6 585.3h5.36v5.36h-5.36zM251.7 585.3h5.36v5.36h-5.36zM256.8 585.3h5.36v5.36h-5.36zM261.8 585.3h5.36v5.36h-5.36zM459.0 585.3h5.36v5.36h-5.36zM464.1 585.3h5.36v5.36h-5.36zM186.0 590.4h5.36v5.36h-5.36zM191.0 590.4h5.36v5.36h-5.36zM196.1 590.4h5.36v5.36h-5.36zM231.5 590.4h5.36v5.36h-5.36zM246.6 590.4h5.36v5.36h-5.36zM251.7 590.4h5.36v5.36h-5.36zM256.8 590.4h5.36v5.36h-5.36zM261.8 590.4h5.36v5.36h-5.36zM459.0 590.4h5.36v5.36h-5.36zM464.1 590.4h5.36v5.36h-5.36zM196.1 595.4h5.36v5.36h-5.36zM226.4 595.4h5.36v5.36h-5.36zM231.5 595.4h5.36v5.36h-5.36zM246.6 595.4h5.36v5.36h-5.36zM251.7 595.4h5.36v5.36h-5.36zM261.8 595.4h5.36v5.36h-5.36zM459.0 595.4h5.36v5.36h-5.36zM474.2 595.4h5.36v5.36h-5.36z"/>
<path fill="#edf0f0" shape-rendering="crispEdges" d="M150.6 246.0h5.36v5.36h-5.36zM155.6 246.0h5.36v5.36h-5.36zM160.7 246.0h5.36v5.36h-5.36zM165.7 246.0h5.36v5.36h-5.36zM170.8 246.0h5.36v5.36h-5.36zM180.9 246.0h5.36v5.36h-5.36zM413.5 246.0h5.36v5.36h-5.36zM418.6 246.0h5.36v5.36h-5.36zM428.7 246.0h5.36v5.36h-5.36zM433.8 246.0h5.36v5.36h-5.36zM438.8 246.0h5.36v5.36h-5.36zM443.9 246.0h5.36v5.36h-5.36zM448.9 246.0h5.36v5.36h-5.36zM469.2 246.0h5.36v5.36h-5.36zM474.2 246.0h5.36v5.36h-5.36zM479.3 246.0h5.36v5.36h-5.36zM484.3 246.0h5.36v5.36h-5.36zM489.4 246.0h5.36v5.36h-5.36zM494.4 246.0h5.36v5.36h-5.36zM155.6 251.1h5.36v5.36h-5.36zM165.7 251.1h5.36v5.36h-5.36zM170.8 251.1h5.36v5.36h-5.36zM408.5 251.1h5.36v5.36h-5.36zM413.5 251.1h5.36v5.36h-5.36zM418.6 251.1h5.36v5.36h-5.36zM423.6 251.1h5.36v5.36h-5.36zM433.8 251.1h5.36v5.36h-5.36zM443.9 251.1h5.36v5.36h-5.36zM469.2 251.1h5.36v5.36h-5.36zM474.2 251.1h5.36v5.36h-5.36zM479.3 251.1h5.36v5.36h-5.36zM489.4 251.1h5.36v5.36h-5.36zM494.4 251.1h5.36v5.36h-5.36zM145.5 256.1h5.36v5.36h-5.36zM150.6 256.1h5.36v5.36h-5.36zM155.6 256.1h5.36v5.36h-5.36zM160.7 256.1h5.36v5.36h-5.36zM165.7 256.1h5.36v5.36h-5.36zM170.8 256.1h5.36v5.36h-5.36zM175.8 256.1h5.36v5.36h-5.36zM180.9 256.1h5.36v5.36h-5.36zM418.6 256.1h5.36v5.36h-5.36zM423.6 256.1h5.36v5.36h-5.36zM428.7 256.1h5.36v5.36h-5.36zM433.8 256.1h5.36v5.36h-5.36zM438.8 256.1h5.36v5.36h-5.36zM454.0 256.1h5.36v5.36h-5.36zM459.0 256.1h5.36v5.36h-5.36zM464.1 256.1h5.36v5.36h-5.36zM469.2 256.1h5.36v5.36h-5.36zM489.4 256.1h5.36v5.36h-5.36zM494.4 256.1h5.36v5.36h-5.36zM145.5 261.2h5.36v5.36h-5.36zM150.6 261.2h5.36v5.36h-5.36zM155.6 261.2h5.36v5.36h-5.36zM160.7 261.2h5.36v5.36h-5.36zM165.7 261.2h5.36v5.36h-5.36zM175.8 261.2h5.36v5.36h-5.36zM180.9 261.2h5.36v5.36h-5.36zM418.6 261.2h5.36v5.36h-5.36zM428.7 261.2h5.36v5.36h-5.36zM433.8 261.2h5.36v5.36h-5.36zM438.8 261.2h5.36v5.36h-5.36zM443.9 261.2h5.36v5.36h-5.36zM459.0 261.2h5.36v5.36h-5.36zM464.1 261.2h5.36v5.36h-5.36zM489.4 261.2h5.36v5.36h-5.36zM494.4 261.2h5.36v5.36h-5.36zM145.5 266.3h5.36v5.36h-5.36zM150.6 266.3h5.36v5.36h-5.36zM160.7 266.3h5.36v5.36h-5.36zM165.7 266.3h5.36v5.36h-5.36zM170.8 266.3h5.36v5.36h-5.36zM175.8 266.3h5.36v5.36h-5.36zM180.9 266.3h5.36v5.36h-5.36zM191.0 266.3h5.36v5.36h-5.36zM418.6 266.3h5.36v5.36h-5.36zM433.8 266.3h5.36v5.36h-5.36zM438.8 266.3h5.36v5.36h-5.36zM443.9 266.3h5.36v5.36h-5.36zM459.0 266.3h5.36v5.36h-5.36zM474.2 266.3h5.36v5.36h-5.36zM479.3 266.3h5.36v5.36h-5.36zM489.4 266.3h5.36v5.36h-5.36zM494.4 266.3h5.36v5.36h-5.36zM145.5 271.3h5.36v5.36h-5.36zM150.6 271.3h5.36v5.36h-5.36zM165.7 271.3h5.36v5.36h-5.36zM170.8 271.3h5.36v5.36h-5.36zM175.8 271.3h5.36v5.36h-5.36zM186.0 271.3h5.36v5.36h-5.36zM423.6 271.3h5.36v5.36h-5.36zM438.8 271.3h5.36v5.36h-5.36zM443.9 271.3h5.36v5.36h-5.36zM454.0 271.3h5.36v5.36h-5.36zM459.0 271.3h5.36v5.36h-5.36zM474.2 271.3h5.36v5.36h-5.36zM479.3 271.3h5.36v5.36h-5.36zM484.3 271.3h5.36v5.36h-5.36zM494.4 271.3h5.36v5.36h-5.36zM145.5 276.4h5.36v5.36h-5.36zM155.6 276.4h5.36v5.36h-5.36zM160.7 276.4h5.36v5.36h-5.36zM165.7 276.4h5.36v5.36h-5.36zM423.6 276.4h5.36v5.36h-5.36zM428.7 276.4h5.36v5.36h-5.36zM433.8 276.4h5.36v5.36h-5.36zM443.9 276.4h5.36v5.36h-5.36zM454.0 276.4h5.36v5.36h-5.36zM459.0 276.4h5.36v5.36h-5.36zM464.1 276.4h5.36v5.36h-5.36zM469.2 276.4h5.36v5.36h-5.36zM474.2 276.4h5.36v5.36h-5.36zM479.3 276.4h5.36v5.36h-5.36zM484.3 276.4h5.36v5.36h-5.36zM489.4 276.4h5.36v5.36h-5.36zM145.5 281.4h5.36v5.36h-5.36zM155.6 281.4h5.36v5.36h-5.36zM160.7 281.4h5.36v5.36h-5.36zM170.8 281.4h5.36v5.36h-5.36zM175.8 281.4h5.36v5.36h-5.36zM428.7 281.4h5.36v5.36h-5.36zM433.8 281.4h5.36v5.36h-5.36zM438.8 281.4h5.36v5.36h-5.36zM459.0 281.4h5.36v5.36h-5.36zM464.1 281.4h5.36v5.36h-5.36zM474.2 281.4h5.36v5.36h-5.36zM479.3 281.4h5.36v5.36h-5.36zM484.3 281.4h5.36v5.36h-5.36zM489.4 281.4h5.36v5.36h-5.36zM494.4 281.4h5.36v5.36h-5.36zM150.6 286.5h5.36v5.36h-5.36zM155.6 286.5h5.36v5.36h-5.36zM165.7 286.5h5.36v5.36h-5.36zM170.8 286.5h5.36v5.36h-5.36zM175.8 286.5h5.36v5.36h-5.36zM428.7 286.5h5.36v5.36h-5.36zM433.8 286.5h5.36v5.36h-5.36zM438.8 286.5h5.36v5.36h-5.36zM443.9 286.5h5.36v5.36h-5.36zM454.0 286.5h5.36v5.36h-5.36zM459.0 286.5h5.36v5.36h-5.36zM464.1 286.5h5.36v5.36h-5.36zM469.2 286.5h5.36v5.36h-5.36zM474.2 286.5h5.36v5.36h-5.36zM479.3 286.5h5.36v5.36h-5.36zM484.3 286.5h5.36v5.36h-5.36zM145.5 291.6h5.36v5.36h-5.36zM150.6 291.6h5.36v5.36h-5.36zM165.7 291.6h5.36v5.36h-5.36zM170.8 291.6h5.36v5.36h-5.36zM428.7 291.6h5.36v5.36h-5.36zM433.8 291.6h5.36v5.36h-5.36zM438.8 291.6h5.36v5.36h-5.36zM443.9 291.6h5.36v5.36h-5.36zM454.0 291.6h5.36v5.36h-5.36zM459.0 291.6h5.36v5.36h-5.36zM464.1 291.6h5.36v5.36h-5.36zM469.2 291.6h5.36v5.36h-5.36zM474.2 291.6h5.36v5.36h-5.36zM484.3 291.6h5.36v5.36h-5.36zM494.4 291.6h5.36v5.36h-5.36zM155.6 296.6h5.36v5.36h-5.36zM160.7 296.6h5.36v5.36h-5.36zM165.7 296.6h5.36v5.36h-5.36zM170.8 296.6h5.36v5.36h-5.36zM175.8 296.6h5.36v5.36h-5.36zM428.7 296.6h5.36v5.36h-5.36zM433.8 296.6h5.36v5.36h-5.36zM438.8 296.6h5.36v5.36h-5.36zM443.9 296.6h5.36v5.36h-5.36zM448.9 296.6h5.36v5.36h-5.36zM454.0 296.6h5.36v5.36h-5.36zM469.2 296.6h5.36v5.36h-5.36zM474.2 296.6h5.36v5.36h-5.36zM489.4 296.6h5.36v5.36h-5.36zM494.4 296.6h5.36v5.36h-5.36zM155.6 301.7h5.36v5.36h-5.36zM160.7 301.7h5.36v5.36h-5.36zM165.7 301.7h5.36v5.36h-5.36zM170.8 301.7h5.36v5.36h-5.36zM175.8 301.7h5.36v5.36h-5.36zM433.8 301.7h5.36v5.36h-5.36zM438.8 301.7h5.36v5.36h-5.36zM443.9 301.7h5.36v5.36h-5.36zM448.9 301.7h5.36v5.36h-5.36zM454.0 301.7h5.36v5.36h-5.36zM489.4 301.7h5.36v5.36h-5.36zM494.4 301.7h5.36v5.36h-5.36zM160.7 306.8h5.36v5.36h-5.36zM165.7 306.8h5.36v5.36h-5.36zM170.8 306.8h5.36v5.36h-5.36zM175.8 306.8h5.36v5.36h-5.36zM180.9 306.8h5.36v5.36h-5.36zM433.8 306.8h5.36v5.36h-5.36zM438.8 306.8h5.36v5.36h-5.36zM443.9 306.8h5.36v5.36h-5.36zM165.7 311.8h5.36v5.36h-5.36zM170.8 311.8h5.36v5.36h-5.36zM433.8 311.8h5.36v5.36h-5.36zM448.9 311.8h5.36v5.36h-5.36zM454.0 311.8h5.36v5.36h-5.36zM145.5 316.9h5.36v5.36h-5.36zM150.6 316.9h5.36v5.36h-5.36zM160.7 316.9h5.36v5.36h-5.36zM165.7 316.9h5.36v5.36h-5.36zM170.8 316.9h5.36v5.36h-5.36zM180.9 316.9h5.36v5.36h-5.36zM443.9 316.9h5.36v5.36h-5.36zM448.9 316.9h5.36v5.36h-5.36zM454.0 316.9h5.36v5.36h-5.36zM459.0 316.9h5.36v5.36h-5.36zM150.6 322.0h5.36v5.36h-5.36zM160.7 322.0h5.36v5.36h-5.36zM165.7 322.0h5.36v5.36h-5.36zM170.8 322.0h5.36v5.36h-5.36zM175.8 322.0h5.36v5.36h-5.36zM180.9 322.0h5.36v5.36h-5.36zM433.8 322.0h5.36v5.36h-5.36zM443.9 322.0h5.36v5.36h-5.36zM448.9 322.0h5.36v5.36h-5.36zM454.0 322.0h5.36v5.36h-5.36zM459.0 322.0h5.36v5.36h-5.36zM464.1 322.0h5.36v5.36h-5.36zM494.4 322.0h5.36v5.36h-5.36zM150.6 327.0h5.36v5.36h-5.36zM454.0 327.0h5.36v5.36h-5.36zM459.0 327.0h5.36v5.36h-5.36zM464.1 327.0h5.36v5.36h-5.36zM484.3 327.0h5.36v5.36h-5.36zM160.7 332.1h5.36v5.36h-5.36zM175.8 332.1h5.36v5.36h-5.36zM454.0 332.1h5.36v5.36h-5.36zM459.0 332.1h5.36v5.36h-5.36zM464.1 332.1h5.36v5.36h-5.36zM479.3 332.1h5.36v5.36h-5.36zM145.5 337.2h5.36v5.36h-5.36zM150.6 337.2h5.36v5.36h-5.36zM155.6 337.2h5.36v5.36h-5.36zM165.7 337.2h5.36v5.36h-5.36zM170.8 337.2h5.36v5.36h-5.36zM175.8 337.2h5.36v5.36h-5.36zM180.9 337.2h5.36v5.36h-5.36zM454.0 337.2h5.36v5.36h-5.36zM459.0 337.2h5.36v5.36h-5.36zM464.1 337.2h5.36v5.36h-5.36zM469.2 337.2h5.36v5.36h-5.36zM474.2 337.2h5.36v5.36h-5.36zM484.3 337.2h5.36v5.36h-5.36zM489.4 337.2h5.36v5.36h-5.36zM494.4 337.2h5.36v5.36h-5.36zM145.5 342.2h5.36v5.36h-5.36zM150.6 342.2h5.36v5.36h-5.36zM155.6 342.2h5.36v5.36h-5.36zM165.7 342.2h5.36v5.36h-5.36zM170.8 342.2h5.36v5.36h-5.36zM175.8 342.2h5.36v5.36h-5.36zM180.9 342.2h5.36v5.36h-5.36zM454.0 342.2h5.36v5.36h-5.36zM459.0 342.2h5.36v5.36h-5.36zM464.1 342.2h5.36v5.36h-5.36zM469.2 342.2h5.36v5.36h-5.36zM474.2 342.2h5.36v5.36h-5.36zM479.3 342.2h5.36v5.36h-5.36zM484.3 342.2h5.36v5.36h-5.36zM489.4 342.2h5.36v5.36h-5.36zM494.4 342.2h5.36v5.36h-5.36zM150.6 347.3h5.36v5.36h-5.36zM165.7 347.3h5.36v5.36h-5.36zM170.8 347.3h5.36v5.36h-5.36zM448.9 347.3h5.36v5.36h-5.36zM454.0 347.3h5.36v5.36h-5.36zM459.0 347.3h5.36v5.36h-5.36zM464.1 347.3h5.36v5.36h-5.36zM474.2 347.3h5.36v5.36h-5.36zM479.3 347.3h5.36v5.36h-5.36zM145.5 352.4h5.36v5.36h-5.36zM165.7 352.4h5.36v5.36h-5.36zM454.0 352.4h5.36v5.36h-5.36zM459.0 352.4h5.36v5.36h-5.36zM464.1 352.4h5.36v5.36h-5.36zM469.2 352.4h5.36v5.36h-5.36zM474.2 352.4h5.36v5.36h-5.36zM484.3 352.4h5.36v5.36h-5.36zM155.6 357.4h5.36v5.36h-5.36zM160.7 357.4h5.36v5.36h-5.36zM165.7 357.4h5.36v5.36h-5.36zM170.8 357.4h5.36v5.36h-5.36zM175.8 357.4h5.36v5.36h-5.36zM479.3 357.4h5.36v5.36h-5.36zM484.3 357.4h5.36v5.36h-5.36zM155.6 362.5h5.36v5.36h-5.36zM165.7 362.5h5.36v5.36h-5.36zM170.8 362.5h5.36v5.36h-5.36zM459.0 362.5h5.36v5.36h-5.36zM464.1 362.5h5.36v5.36h-5.36zM479.3 362.5h5.36v5.36h-5.36zM484.3 362.5h5.36v5.36h-5.36zM145.5 367.5h5.36v5.36h-5.36zM150.6 367.5h5.36v5.36h-5.36zM155.6 367.5h5.36v5.36h-5.36zM165.7 367.5h5.36v5.36h-5.36zM170.8 367.5h5.36v5.36h-5.36zM175.8 367.5h5.36v5.36h-5.36zM180.9 367.5h5.36v5.36h-5.36zM459.0 367.5h5.36v5.36h-5.36zM464.1 367.5h5.36v5.36h-5.36zM469.2 367.5h5.36v5.36h-5.36zM474.2 367.5h5.36v5.36h-5.36zM479.3 367.5h5.36v5.36h-5.36zM484.3 367.5h5.36v5.36h-5.36zM145.5 372.6h5.36v5.36h-5.36zM150.6 372.6h5.36v5.36h-5.36zM155.6 372.6h5.36v5.36h-5.36zM165.7 372.6h5.36v5.36h-5.36zM170.8 372.6h5.36v5.36h-5.36zM175.8 372.6h5.36v5.36h-5.36zM180.9 372.6h5.36v5.36h-5.36zM474.2 372.6h5.36v5.36h-5.36zM479.3 372.6h5.36v5.36h-5.36zM484.3 372.6h5.36v5.36h-5.36zM150.6 377.7h5.36v5.36h-5.36zM160.7 377.7h5.36v5.36h-5.36zM165.7 377.7h5.36v5.36h-5.36zM170.8 377.7h5.36v5.36h-5.36zM175.8 377.7h5.36v5.36h-5.36zM469.2 377.7h5.36v5.36h-5.36zM479.3 377.7h5.36v5.36h-5.36zM484.3 377.7h5.36v5.36h-5.36zM150.6 382.7h5.36v5.36h-5.36zM155.6 382.7h5.36v5.36h-5.36zM160.7 382.7h5.36v5.36h-5.36zM165.7 382.7h5.36v5.36h-5.36zM175.8 382.7h5.36v5.36h-5.36zM474.2 382.7h5.36v5.36h-5.36zM479.3 382.7h5.36v5.36h-5.36zM484.3 382.7h5.36v5.36h-5.36zM494.4 382.7h5.36v5.36h-5.36zM160.7 387.8h5.36v5.36h-5.36zM165.7 387.8h5.36v5.36h-5.36zM170.8 387.8h5.36v5.36h-5.36zM175.8 387.8h5.36v5.36h-5.36zM180.9 387.8h5.36v5.36h-5.36zM186.0 387.8h5.36v5.36h-5.36zM464.1 387.8h5.36v5.36h-5.36zM469.2 387.8h5.36v5.36h-5.36zM474.2 387.8h5.36v5.36h-5.36zM479.3 387.8h5.36v5.36h-5.36zM150.6 392.9h5.36v5.36h-5.36zM165.7 392.9h5.36v5.36h-5.36zM170.8 392.9h5.36v5.36h-5.36zM175.8 392.9h5.36v5.36h-5.36zM180.9 392.9h5.36v5.36h-5.36zM186.0 392.9h5.36v5.36h-5.36zM474.2 392.9h5.36v5.36h-5.36zM150.6 397.9h5.36v5.36h-5.36zM160.7 397.9h5.36v5.36h-5.36zM165.7 397.9h5.36v5.36h-5.36zM170.8 397.9h5.36v5.36h-5.36zM175.8 397.9h5.36v5.36h-5.36zM180.9 397.9h5.36v5.36h-5.36zM186.0 397.9h5.36v5.36h-5.36zM191.0 397.9h5.36v5.36h-5.36zM469.2 397.9h5.36v5.36h-5.36zM474.2 397.9h5.36v5.36h-5.36zM479.3 397.9h5.36v5.36h-5.36zM484.3 397.9h5.36v5.36h-5.36zM494.4 397.9h5.36v5.36h-5.36zM155.6 403.0h5.36v5.36h-5.36zM160.7 403.0h5.36v5.36h-5.36zM165.7 403.0h5.36v5.36h-5.36zM170.8 403.0h5.36v5.36h-5.36zM175.8 403.0h5.36v5.36h-5.36zM180.9 403.0h5.36v5.36h-5.36zM474.2 403.0h5.36v5.36h-5.36zM479.3 403.0h5.36v5.36h-5.36zM489.4 403.0h5.36v5.36h-5.36zM494.4 403.0h5.36v5.36h-5.36zM145.5 408.1h5.36v5.36h-5.36zM479.3 408.1h5.36v5.36h-5.36zM484.3 408.1h5.36v5.36h-5.36zM494.4 408.1h5.36v5.36h-5.36zM145.5 413.1h5.36v5.36h-5.36zM170.8 413.1h5.36v5.36h-5.36zM175.8 413.1h5.36v5.36h-5.36zM474.2 413.1h5.36v5.36h-5.36zM479.3 413.1h5.36v5.36h-5.36zM484.3 413.1h5.36v5.36h-5.36zM489.4 413.1h5.36v5.36h-5.36zM494.4 413.1h5.36v5.36h-5.36zM145.5 418.2h5.36v5.36h-5.36zM150.6 418.2h5.36v5.36h-5.36zM155.6 418.2h5.36v5.36h-5.36zM160.7 418.2h5.36v5.36h-5.36zM165.7 418.2h5.36v5.36h-5.36zM170.8 418.2h5.36v5.36h-5.36zM175.8 418.2h5.36v5.36h-5.36zM186.0 418.2h5.36v5.36h-5.36zM474.2 418.2h5.36v5.36h-5.36zM479.3 418.2h5.36v5.36h-5.36zM484.3 418.2h5.36v5.36h-5.36zM489.4 418.2h5.36v5.36h-5.36zM494.4 418.2h5.36v5.36h-5.36zM155.6 423.2h5.36v5.36h-5.36zM160.7 423.2h5.36v5.36h-5.36zM170.8 423.2h5.36v5.36h-5.36zM175.8 423.2h5.36v5.36h-5.36zM180.9 423.2h5.36v5.36h-5.36zM186.0 423.2h5.36v5.36h-5.36zM474.2 423.2h5.36v5.36h-5.36zM479.3 423.2h5.36v5.36h-5.36zM489.4 423.2h5.36v5.36h-5.36zM494.4 423.2h5.36v5.36h-5.36zM155.6 428.3h5.36v5.36h-5.36zM160.7 428.3h5.36v5.36h-5.36zM165.7 428.3h5.36v5.36h-5.36zM175.8 428.3h5.36v5.36h-5.36zM180.9 428.3h5.36v5.36h-5.36zM186.0 428.3h5.36v5.36h-5.36zM474.2 428.3h5.36v5.36h-5.36zM489.4 428.3h5.36v5.36h-5.36zM494.4 428.3h5.36v5.36h-5.36zM155.6 433.4h5.36v5.36h-5.36zM160.7 433.4h5.36v5.36h-5.36zM170.8 433.4h5.36v5.36h-5.36zM175.8 433.4h5.36v5.36h-5.36zM180.9 433.4h5.36v5.36h-5.36zM186.0 433.4h5.36v5.36h-5.36zM191.0 433.4h5.36v5.36h-5.36zM464.1 433.4h5.36v5.36h-5.36zM469.2 433.4h5.36v5.36h-5.36zM474.2 433.4h5.36v5.36h-5.36zM494.4 433.4h5.36v5.36h-5.36zM150.6 438.4h5.36v5.36h-5.36zM160.7 438.4h5.36v5.36h-5.36zM170.8 438.4h5.36v5.36h-5.36zM175.8 438.4h5.36v5.36h-5.36zM180.9 438.4h5.36v5.36h-5.36zM469.2 438.4h5.36v5.36h-5.36zM479.3 438.4h5.36v5.36h-5.36zM484.3 438.4h5.36v5.36h-5.36zM489.4 438.4h5.36v5.36h-5.36zM494.4 438.4h5.36v5.36h-5.36zM160.7 443.5h5.36v5.36h-5.36zM180.9 443.5h5.36v5.36h-5.36zM186.0 443.5h5.36v5.36h-5.36zM191.0 443.5h5.36v5.36h-5.36zM469.2 443.5h5.36v5.36h-5.36zM474.2 443.5h5.36v5.36h-5.36zM479.3 443.5h5.36v5.36h-5.36zM489.4 443.5h5.36v5.36h-5.36zM165.7 448.6h5.36v5.36h-5.36zM170.8 448.6h5.36v5.36h-5.36zM175.8 448.6h5.36v5.36h-5.36zM186.0 448.6h5.36v5.36h-5.36zM191.0 448.6h5.36v5.36h-5.36zM484.3 448.6h5.36v5.36h-5.36zM494.4 448.6h5.36v5.36h-5.36zM165.7 453.6h5.36v5.36h-5.36zM170.8 453.6h5.36v5.36h-5.36zM186.0 453.6h5.36v5.36h-5.36zM191.0 453.6h5.36v5.36h-5.36zM464.1 453.6h5.36v5.36h-5.36zM474.2 453.6h5.36v5.36h-5.36zM479.3 453.6h5.36v5.36h-5.36zM484.3 453.6h5.36v5.36h-5.36zM489.4 453.6h5.36v5.36h-5.36zM494.4 453.6h5.36v5.36h-5.36zM150.6 458.7h5.36v5.36h-5.36zM160.7 458.7h5.36v5.36h-5.36zM165.7 458.7h5.36v5.36h-5.36zM170.8 458.7h5.36v5.36h-5.36zM175.8 458.7h5.36v5.36h-5.36zM186.0 458.7h5.36v5.36h-5.36zM474.2 458.7h5.36v5.36h-5.36zM479.3 458.7h5.36v5.36h-5.36zM484.3 458.7h5.36v5.36h-5.36zM494.4 458.7h5.36v5.36h-5.36zM155.6 463.8h5.36v5.36h-5.36zM160.7 463.8h5.36v5.36h-5.36zM170.8 463.8h5.36v5.36h-5.36zM175.8 463.8h5.36v5.36h-5.36zM484.3 463.8h5.36v5.36h-5.36zM489.4 463.8h5.36v5.36h-5.36zM494.4 463.8h5.36v5.36h-5.36zM155.6 468.8h5.36v5.36h-5.36zM160.7 468.8h5.36v5.36h-5.36zM170.8 468.8h5.36v5.36h-5.36zM180.9 468.8h5.36v5.36h-5.36zM186.0 468.8h5.36v5.36h-5.36zM469.2 468.8h5.36v5.36h-5.36zM479.3 468.8h5.36v5.36h-5.36zM484.3 468.8h5.36v5.36h-5.36zM489.4 468.8h5.36v5.36h-5.36zM494.4 468.8h5.36v5.36h-5.36zM155.6 473.9h5.36v5.36h-5.36zM160.7 473.9h5.36v5.36h-5.36zM165.7 473.9h5.36v5.36h-5.36zM170.8 473.9h5.36v5.36h-5.36zM175.8 473.9h5.36v5.36h-5.36zM180.9 473.9h5.36v5.36h-5.36zM186.0 473.9h5.36v5.36h-5.36zM191.0 473.9h5.36v5.36h-5.36zM196.1 473.9h5.36v5.36h-5.36zM469.2 473.9h5.36v5.36h-5.36zM479.3 473.9h5.36v5.36h-5.36zM484.3 473.9h5.36v5.36h-5.36zM494.4 473.9h5.36v5.36h-5.36zM145.5 479.0h5.36v5.36h-5.36zM150.6 479.0h5.36v5.36h-5.36zM155.6 479.0h5.36v5.36h-5.36zM175.8 479.0h5.36v5.36h-5.36zM180.9 479.0h5.36v5.36h-5.36zM186.0 479.0h5.36v5.36h-5.36zM191.0 479.0h5.36v5.36h-5.36zM196.1 479.0h5.36v5.36h-5.36zM201.1 479.0h5.36v5.36h-5.36zM206.2 479.0h5.36v5.36h-5.36zM474.2 479.0h5.36v5.36h-5.36zM479.3 479.0h5.36v5.36h-5.36zM484.3 479.0h5.36v5.36h-5.36zM494.4 479.0h5.36v5.36h-5.36zM145.5 484.0h5.36v5.36h-5.36zM150.6 484.0h5.36v5.36h-5.36zM165.7 484.0h5.36v5.36h-5.36zM170.8 484.0h5.36v5.36h-5.36zM180.9 484.0h5.36v5.36h-5.36zM191.0 484.0h5.36v5.36h-5.36zM196.1 484.0h5.36v5.36h-5.36zM201.1 484.0h5.36v5.36h-5.36zM469.2 484.0h5.36v5.36h-5.36zM479.3 484.0h5.36v5.36h-5.36zM489.4 484.0h5.36v5.36h-5.36zM494.4 484.0h5.36v5.36h-5.36zM145.5 489.1h5.36v5.36h-5.36zM150.6 489.1h5.36v5.36h-5.36zM155.6 489.1h5.36v5.36h-5.36zM160.7 489.1h5.36v5.36h-5.36zM180.9 489.1h5.36v5.36h-5.36zM191.0 489.1h5.36v5.36h-5.36zM196.1 489.1h5.36v5.36h-5.36zM201.1 489.1h5.36v5.36h-5.36zM206.2 489.1h5.36v5.36h-5.36zM211.2 489.1h5.36v5.36h-5.36zM216.3 489.1h5.36v5.36h-5.36zM469.2 489.1h5.36v5.36h-5.36zM479.3 489.1h5.36v5.36h-5.36zM489.4 489.1h5.36v5.36h-5.36zM494.4 489.1h5.36v5.36h-5.36zM145.5 494.1h5.36v5.36h-5.36zM150.6 494.1h5.36v5.36h-5.36zM155.6 494.1h5.36v5.36h-5.36zM170.8 494.1h5.36v5.36h-5.36zM175.8 494.1h5.36v5.36h-5.36zM191.0 494.1h5.36v5.36h-5.36zM196.1 494.1h5.36v5.36h-5.36zM201.1 494.1h5.36v5.36h-5.36zM206.2 494.1h5.36v5.36h-5.36zM211.2 494.1h5.36v5.36h-5.36zM216.3 494.1h5.36v5.36h-5.36zM221.4 494.1h5.36v5.36h-5.36zM474.2 494.1h5.36v5.36h-5.36zM484.3 494.1h5.36v5.36h-5.36zM145.5 499.2h5.36v5.36h-5.36zM180.9 499.2h5.36v5.36h-5.36zM201.1 499.2h5.36v5.36h-5.36zM206.2 499.2h5.36v5.36h-5.36zM211.2 499.2h5.36v5.36h-5.36zM464.1 499.2h5.36v5.36h-5.36zM469.2 499.2h5.36v5.36h-5.36zM474.2 499.2h5.36v5.36h-5.36zM484.3 499.2h5.36v5.36h-5.36zM489.4 499.2h5.36v5.36h-5.36zM494.4 499.2h5.36v5.36h-5.36zM150.6 504.3h5.36v5.36h-5.36zM155.6 504.3h5.36v5.36h-5.36zM170.8 504.3h5.36v5.36h-5.36zM196.1 504.3h5.36v5.36h-5.36zM206.2 504.3h5.36v5.36h-5.36zM211.2 504.3h5.36v5.36h-5.36zM216.3 504.3h5.36v5.36h-5.36zM469.2 504.3h5.36v5.36h-5.36zM474.2 504.3h5.36v5.36h-5.36zM484.3 504.3h5.36v5.36h-5.36zM145.5 509.3h5.36v5.36h-5.36zM165.7 509.3h5.36v5.36h-5.36zM180.9 509.3h5.36v5.36h-5.36zM191.0 509.3h5.36v5.36h-5.36zM196.1 509.3h5.36v5.36h-5.36zM206.2 509.3h5.36v5.36h-5.36zM211.2 509.3h5.36v5.36h-5.36zM479.3 509.3h5.36v5.36h-5.36zM484.3 509.3h5.36v5.36h-5.36zM489.4 509.3h5.36v5.36h-5.36zM494.4 509.3h5.36v5.36h-5.36zM145.5 514.4h5.36v5.36h-5.36zM150.6 514.4h5.36v5.36h-5.36zM160.7 514.4h5.36v5.36h-5.36zM165.7 514.4h5.36v5.36h-5.36zM170.8 514.4h5.36v5.36h-5.36zM175.8 514.4h5.36v5.36h-5.36zM180.9 514.4h5.36v5.36h-5.36zM196.1 514.4h5.36v5.36h-5.36zM201.1 514.4h5.36v5.36h-5.36zM206.2 514.4h5.36v5.36h-5.36zM211.2 514.4h5.36v5.36h-5.36zM489.4 514.4h5.36v5.36h-5.36zM494.4 514.4h5.36v5.36h-5.36zM150.6 519.5h5.36v5.36h-5.36zM155.6 519.5h5.36v5.36h-5.36zM175.8 519.5h5.36v5.36h-5.36zM186.0 519.5h5.36v5.36h-5.36zM191.0 519.5h5.36v5.36h-5.36zM196.1 519.5h5.36v5.36h-5.36zM201.1 519.5h5.36v5.36h-5.36zM206.2 519.5h5.36v5.36h-5.36zM484.3 519.5h5.36v5.36h-5.36zM150.6 524.5h5.36v5.36h-5.36zM155.6 524.5h5.36v5.36h-5.36zM160.7 524.5h5.36v5.36h-5.36zM175.8 524.5h5.36v5.36h-5.36zM186.0 524.5h5.36v5.36h-5.36zM191.0 524.5h5.36v5.36h-5.36zM201.1 524.5h5.36v5.36h-5.36zM484.3 524.5h5.36v5.36h-5.36zM489.4 524.5h5.36v5.36h-5.36zM170.8 529.6h5.36v5.36h-5.36zM175.8 529.6h5.36v5.36h-5.36zM180.9 529.6h5.36v5.36h-5.36zM186.0 529.6h5.36v5.36h-5.36zM191.0 529.6h5.36v5.36h-5.36zM196.1 529.6h5.36v5.36h-5.36zM201.1 529.6h5.36v5.36h-5.36zM206.2 529.6h5.36v5.36h-5.36zM211.2 529.6h5.36v5.36h-5.36zM216.3 529.6h5.36v5.36h-5.36zM221.4 529.6h5.36v5.36h-5.36zM479.3 529.6h5.36v5.36h-5.36zM484.3 529.6h5.36v5.36h-5.36zM489.4 529.6h5.36v5.36h-5.36zM494.4 529.6h5.36v5.36h-5.36zM155.6 534.7h5.36v5.36h-5.36zM160.7 534.7h5.36v5.36h-5.36zM165.7 534.7h5.36v5.36h-5.36zM170.8 534.7h5.36v5.36h-5.36zM175.8 534.7h5.36v5.36h-5.36zM180.9 534.7h5.36v5.36h-5.36zM186.0 534.7h5.36v5.36h-5.36zM191.0 534.7h5.36v5.36h-5.36zM196.1 534.7h5.36v5.36h-5.36zM201.1 534.7h5.36v5.36h-5.36zM206.2 534.7h5.36v5.36h-5.36zM211.2 534.7h5.36v5.36h-5.36zM216.3 534.7h5.36v5.36h-5.36zM221.4 534.7h5.36v5.36h-5.36zM479.3 534.7h5.36v5.36h-5.36zM484.3 534.7h5.36v5.36h-5.36zM489.4 534.7h5.36v5.36h-5.36zM494.4 534.7h5.36v5.36h-5.36zM150.6 539.7h5.36v5.36h-5.36zM155.6 539.7h5.36v5.36h-5.36zM160.7 539.7h5.36v5.36h-5.36zM170.8 539.7h5.36v5.36h-5.36zM175.8 539.7h5.36v5.36h-5.36zM180.9 539.7h5.36v5.36h-5.36zM186.0 539.7h5.36v5.36h-5.36zM191.0 539.7h5.36v5.36h-5.36zM196.1 539.7h5.36v5.36h-5.36zM206.2 539.7h5.36v5.36h-5.36zM211.2 539.7h5.36v5.36h-5.36zM216.3 539.7h5.36v5.36h-5.36zM464.1 539.7h5.36v5.36h-5.36zM469.2 539.7h5.36v5.36h-5.36zM479.3 539.7h5.36v5.36h-5.36zM484.3 539.7h5.36v5.36h-5.36zM489.4 539.7h5.36v5.36h-5.36zM145.5 544.8h5.36v5.36h-5.36zM150.6 544.8h5.36v5.36h-5.36zM155.6 544.8h5.36v5.36h-5.36zM165.7 544.8h5.36v5.36h-5.36zM170.8 544.8h5.36v5.36h-5.36zM175.8 544.8h5.36v5.36h-5.36zM180.9 544.8h5.36v5.36h-5.36zM186.0 544.8h5.36v5.36h-5.36zM191.0 544.8h5.36v5.36h-5.36zM196.1 544.8h5.36v5.36h-5.36zM201.1 544.8h5.36v5.36h-5.36zM206.2 544.8h5.36v5.36h-5.36zM211.2 544.8h5.36v5.36h-5.36zM216.3 544.8h5.36v5.36h-5.36zM464.1 544.8h5.36v5.36h-5.36zM479.3 544.8h5.36v5.36h-5.36zM484.3 544.8h5.36v5.36h-5.36zM489.4 544.8h5.36v5.36h-5.36zM494.4 544.8h5.36v5.36h-5.36zM145.5 549.9h5.36v5.36h-5.36zM150.6 549.9h5.36v5.36h-5.36zM155.6 549.9h5.36v5.36h-5.36zM160.7 549.9h5.36v5.36h-5.36zM175.8 549.9h5.36v5.36h-5.36zM180.9 549.9h5.36v5.36h-5.36zM186.0 549.9h5.36v5.36h-5.36zM191.0 549.9h5.36v5.36h-5.36zM196.1 549.9h5.36v5.36h-5.36zM206.2 549.9h5.36v5.36h-5.36zM211.2 549.9h5.36v5.36h-5.36zM221.4 549.9h5.36v5.36h-5.36zM469.2 549.9h5.36v5.36h-5.36zM474.2 549.9h5.36v5.36h-5.36zM479.3 549.9h5.36v5.36h-5.36zM484.3 549.9h5.36v5.36h-5.36zM489.4 549.9h5.36v5.36h-5.36zM494.4 549.9h5.36v5.36h-5.36zM145.5 554.9h5.36v5.36h-5.36zM155.6 554.9h5.36v5.36h-5.36zM160.7 554.9h5.36v5.36h-5.36zM175.8 554.9h5.36v5.36h-5.36zM180.9 554.9h5.36v5.36h-5.36zM186.0 554.9h5.36v5.36h-5.36zM191.0 554.9h5.36v5.36h-5.36zM206.2 554.9h5.36v5.36h-5.36zM211.2 554.9h5.36v5.36h-5.36zM221.4 554.9h5.36v5.36h-5.36zM226.4 554.9h5.36v5.36h-5.36zM469.2 554.9h5.36v5.36h-5.36zM474.2 554.9h5.36v5.36h-5.36zM479.3 554.9h5.36v5.36h-5.36zM484.3 554.9h5.36v5.36h-5.36zM489.4 554.9h5.36v5.36h-5.36zM494.4 554.9h5.36v5.36h-5.36zM145.5 560.0h5.36v5.36h-5.36zM155.6 560.0h5.36v5.36h-5.36zM160.7 560.0h5.36v5.36h-5.36zM165.7 560.0h5.36v5.36h-5.36zM170.8 560.0h5.36v5.36h-5.36zM175.8 560.0h5.36v5.36h-5.36zM180.9 560.0h5.36v5.36h-5.36zM196.1 560.0h5.36v5.36h-5.36zM201.1 560.0h5.36v5.36h-5.36zM206.2 560.0h5.36v5.36h-5.36zM216.3 560.0h5.36v5.36h-5.36zM221.4 560.0h5.36v5.36h-5.36zM226.4 560.0h5.36v5.36h-5.36zM231.5 560.0h5.36v5.36h-5.36zM469.2 560.0h5.36v5.36h-5.36zM479.3 560.0h5.36v5.36h-5.36zM489.4 560.0h5.36v5.36h-5.36zM494.4 560.0h5.36v5.36h-5.36zM145.5 565.0h5.36v5.36h-5.36zM150.6 565.0h5.36v5.36h-5.36zM160.7 565.0h5.36v5.36h-5.36zM165.7 565.0h5.36v5.36h-5.36zM170.8 565.0h5.36v5.36h-5.36zM180.9 565.0h5.36v5.36h-5.36zM196.1 565.0h5.36v5.36h-5.36zM201.1 565.0h5.36v5.36h-5.36zM206.2 565.0h5.36v5.36h-5.36zM216.3 565.0h5.36v5.36h-5.36zM221.4 565.0h5.36v5.36h-5.36zM226.4 565.0h5.36v5.36h-5.36zM231.5 565.0h5.36v5.36h-5.36zM474.2 565.0h5.36v5.36h-5.36zM479.3 565.0h5.36v5.36h-5.36zM489.4 565.0h5.36v5.36h-5.36zM145.5 570.1h5.36v5.36h-5.36zM150.6 570.1h5.36v5.36h-5.36zM155.6 570.1h5.36v5.36h-5.36zM170.8 570.1h5.36v5.36h-5.36zM175.8 570.1h5.36v5.36h-5.36zM180.9 570.1h5.36v5.36h-5.36zM186.0 570.1h5.36v5.36h-5.36zM191.0 570.1h5.36v5.36h-5.36zM196.1 570.1h5.36v5.36h-5.36zM201.1 570.1h5.36v5.36h-5.36zM221.4 570.1h5.36v5.36h-5.36zM226.4 570.1h5.36v5.36h-5.36zM231.5 570.1h5.36v5.36h-5.36zM236.5 570.1h5.36v5.36h-5.36zM459.0 570.1h5.36v5.36h-5.36zM464.1 570.1h5.36v5.36h-5.36zM469.2 570.1h5.36v5.36h-5.36zM474.2 570.1h5.36v5.36h-5.36zM479.3 570.1h5.36v5.36h-5.36zM484.3 570.1h5.36v5.36h-5.36zM494.4 570.1h5.36v5.36h-5.36zM145.5 575.2h5.36v5.36h-5.36zM150.6 575.2h5.36v5.36h-5.36zM165.7 575.2h5.36v5.36h-5.36zM170.8 575.2h5.36v5.36h-5.36zM180.9 575.2h5.36v5.36h-5.36zM186.0 575.2h5.36v5.36h-5.36zM216.3 575.2h5.36v5.36h-5.36zM221.4 575.2h5.36v5.36h-5.36zM226.4 575.2h5.36v5.36h-5.36zM231.5 575.2h5.36v5.36h-5.36zM464.1 575.2h5.36v5.36h-5.36zM469.2 575.2h5.36v5.36h-5.36zM474.2 575.2h5.36v5.36h-5.36zM479.3 575.2h5.36v5.36h-5.36zM484.3 575.2h5.36v5.36h-5.36zM489.4 575.2h5.36v5.36h-5.36zM494.4 575.2h5.36v5.36h-5.36zM145.5 580.2h5.36v5.36h-5.36zM150.6 580.2h5.36v5.36h-5.36zM160.7 580.2h5.36v5.36h-5.36zM165.7 580.2h5.36v5.36h-5.36zM170.8 580.2h5.36v5.36h-5.36zM196.1 580.2h5.36v5.36h-5.36zM201.1 580.2h5.36v5.36h-5.36zM206.2 580.2h5.36v5.36h-5.36zM211.2 580.2h5.36v5.36h-5.36zM216.3 580.2h5.36v5.36h-5.36zM226.4 580.2h5.36v5.36h-5.36zM231.5 580.2h5.36v5.36h-5.36zM236.5 580.2h5.36v5.36h-5.36zM469.2 580.2h5.36v5.36h-5.36zM474.2 580.2h5.36v5.36h-5.36zM479.3 580.2h5.36v5.36h-5.36zM489.4 580.2h5.36v5.36h-5.36zM494.4 580.2h5.36v5.36h-5.36zM145.5 585.3h5.36v5.36h-5.36zM155.6 585.3h5.36v5.36h-5.36zM160.7 585.3h5.36v5.36h-5.36zM170.8 585.3h5.36v5.36h-5.36zM186.0 585.3h5.36v5.36h-5.36zM196.1 585.3h5.36v5.36h-5.36zM206.2 585.3h5.36v5.36h-5.36zM231.5 585.3h5.36v5.36h-5.36zM469.2 585.3h5.36v5.36h-5.36zM474.2 585.3h5.36v5.36h-5.36zM479.3 585.3h5.36v5.36h-5.36zM489.4 585.3h5.36v5.36h-5.36zM494.4 585.3h5.36v5.36h-5.36zM145.5 590.4h5.36v5.36h-5.36zM150.6 590.4h5.36v5.36h-5.36zM160.7 590.4h5.36v5.36h-5.36zM165.7 590.4h5.36v5.36h-5.36zM170.8 590.4h5.36v5.36h-5.36zM175.8 590.4h5.36v5.36h-5.36zM180.9 590.4h5.36v5.36h-5.36zM201.1 590.4h5.36v5.36h-5.36zM206.2 590.4h5.36v5.36h-5.36zM211.2 590.4h5.36v5.36h-5.36zM216.3 590.4h5.36v5.36h-5.36zM221.4 590.4h5.36v5.36h-5.36zM226.4 590.4h5.36v5.36h-5.36zM236.5 590.4h5.36v5.36h-5.36zM241.6 590.4h5.36v5.36h-5.36zM469.2 590.4h5.36v5.36h-5.36zM474.2 590.4h5.36v5.36h-5.36zM479.3 590.4h5.36v5.36h-5.36zM489.4 590.4h5.36v5.36h-5.36zM494.4 590.4h5.36v5.36h-5.36zM145.5 595.4h5.36v5.36h-5.36zM150.6 595.4h5.36v5.36h-5.36zM155.6 595.4h5.36v5.36h-5.36zM160.7 595.4h5.36v5.36h-5.36zM165.7 595.4h5.36v5.36h-5.36zM170.8 595.4h5.36v5.36h-5.36zM175.8 595.4h5.36v5.36h-5.36zM180.9 595.4h5.36v5.36h-5.36zM186.0 595.4h5.36v5.36h-5.36zM191.0 595.4h5.36v5.36h-5.36zM201.1 595.4h5.36v5.36h-5.36zM206.2 595.4h5.36v5.36h-5.36zM211.2 595.4h5.36v5.36h-5.36zM216.3 595.4h5.36v5.36h-5.36zM221.4 595.4h5.36v5.36h-5.36zM236.5 595.4h5.36v5.36h-5.36zM241.6 595.4h5.36v5.36h-5.36zM256.8 595.4h5.36v5.36h-5.36zM464.1 595.4h5.36v5.36h-5.36zM469.2 595.4h5.36v5.36h-5.36zM479.3 595.4h5.36v5.36h-5.36zM484.3 595.4h5.36v5.36h-5.36zM489.4 595.4h5.36v5.36h-5.36zM494.4 595.4h5.36v5.36h-5.36z"/>
<path fill="#f4f6f6" shape-rendering="crispEdges" d="M145.5 246.0h5.36v5.36h-5.36zM454.0 246.0h5.36v5.36h-5.36zM459.0 246.0h5.36v5.36h-5.36zM464.1 246.0h5.36v5.36h-5.36zM145.5 251.1h5.36v5.36h-5.36zM150.6 251.1h5.36v5.36h-5.36zM160.7 251.1h5.36v5.36h-5.36zM448.9 251.1h5.36v5.36h-5.36zM454.0 251.1h5.36v5.36h-5.36zM459.0 251.1h5.36v5.36h-5.36zM464.1 251.1h5.36v5.36h-5.36zM484.3 251.1h5.36v5.36h-5.36zM443.9 256.1h5.36v5.36h-5.36zM448.9 256.1h5.36v5.36h-5.36zM474.2 256.1h5.36v5.36h-5.36zM479.3 256.1h5.36v5.36h-5.36zM484.3 256.1h5.36v5.36h-5.36zM170.8 261.2h5.36v5.36h-5.36zM423.6 261.2h5.36v5.36h-5.36zM448.9 261.2h5.36v5.36h-5.36zM454.0 261.2h5.36v5.36h-5.36zM469.2 261.2h5.36v5.36h-5.36zM474.2 261.2h5.36v5.36h-5.36zM479.3 261.2h5.36v5.36h-5.36zM484.3 261.2h5.36v5.36h-5.36zM155.6 266.3h5.36v5.36h-5.36zM423.6 266.3h5.36v5.36h-5.36zM428.7 266.3h5.36v5.36h-5.36zM448.9 266.3h5.36v5.36h-5.36zM454.0 266.3h5.36v5.36h-5.36zM464.1 266.3h5.36v5.36h-5.36zM469.2 266.3h5.36v5.36h-5.36zM484.3 266.3h5.36v5.36h-5.36zM155.6 271.3h5.36v5.36h-5.36zM160.7 271.3h5.36v5.36h-5.36zM418.6 271.3h5.36v5.36h-5.36zM428.7 271.3h5.36v5.36h-5.36zM433.8 271.3h5.36v5.36h-5.36zM448.9 271.3h5.36v5.36h-5.36zM464.1 271.3h5.36v5.36h-5.36zM469.2 271.3h5.36v5.36h-5.36zM150.6 276.4h5.36v5.36h-5.36zM438.8 276.4h5.36v5.36h-5.36zM448.9 276.4h5.36v5.36h-5.36zM150.6 281.4h5.36v5.36h-5.36zM443.9 281.4h5.36v5.36h-5.36zM448.9 281.4h5.36v5.36h-5.36zM454.0 281.4h5.36v5.36h-5.36zM469.2 281.4h5.36v5.36h-5.36zM145.5 286.5h5.36v5.36h-5.36zM160.7 286.5h5.36v5.36h-5.36zM448.9 286.5h5.36v5.36h-5.36zM489.4 286.5h5.36v5.36h-5.36zM494.4 286.5h5.36v5.36h-5.36zM155.6 291.6h5.36v5.36h-5.36zM160.7 291.6h5.36v5.36h-5.36zM448.9 291.6h5.36v5.36h-5.36zM479.3 291.6h5.36v5.36h-5.36zM489.4 291.6h5.36v5.36h-5.36zM145.5 296.6h5.36v5.36h-5.36zM150.6 296.6h5.36v5.36h-5.36zM459.0 296.6h5.36v5.36h-5.36zM464.1 296.6h5.36v5.36h-5.36zM479.3 296.6h5.36v5.36h-5.36zM484.3 296.6h5.36v5.36h-5.36zM145.5 301.7h5.36v5.36h-5.36zM150.6 301.7h5.36v5.36h-5.36zM459.0 301.7h5.36v5.36h-5.36zM464.1 301.7h5.36v5.36h-5.36zM469.2 301.7h5.36v5.36h-5.36zM474.2 301.7h5.36v5.36h-5.36zM479.3 301.7h5.36v5.36h-5.36zM484.3 301.7h5.36v5.36h-5.36zM145.5 306.8h5.36v5.36h-5.36zM150.6 306.8h5.36v5.36h-5.36zM155.6 306.8h5.36v5.36h-5.36zM448.9 306.8h5.36v5.36h-5.36zM454.0 306.8h5.36v5.36h-5.36zM459.0 306.8h5.36v5.36h-5.36zM464.1 306.8h5.36v5.36h-5.36zM469.2 306.8h5.36v5.36h-5.36zM474.2 306.8h5.36v5.36h-5.36zM479.3 306.8h5.36v5.36h-5.36zM484.3 306.8h5.36v5.36h-5.36zM489.4 306.8h5.36v5.36h-5.36zM494.4 306.8h5.36v5.36h-5.36zM145.5 311.8h5.36v5.36h-5.36zM150.6 311.8h5.36v5.36h-5.36zM155.6 311.8h5.36v5.36h-5.36zM160.7 311.8h5.36v5.36h-5.36zM438.8 311.8h5.36v5.36h-5.36zM443.9 311.8h5.36v5.36h-5.36zM459.0 311.8h5.36v5.36h-5.36zM464.1 311.8h5.36v5.36h-5.36zM469.2 311.8h5.36v5.36h-5.36zM474.2 311.8h5.36v5.36h-5.36zM479.3 311.8h5.36v5.36h-5.36zM484.3 311.8h5.36v5.36h-5.36zM489.4 311.8h5.36v5.36h-5.36zM494.4 311.8h5.36v5.36h-5.36zM155.6 316.9h5.36v5.36h-5.36zM464.1 316.9h5.36v5.36h-5.36zM469.2 316.9h5.36v5.36h-5.36zM474.2 316.9h5.36v5.36h-5.36zM479.3 316.9h5.36v5.36h-5.36zM484.3 316.9h5.36v5.36h-5.36zM489.4 316.9h5.36v5.36h-5.36zM494.4 316.9h5.36v5.36h-5.36zM145.5 322.0h5.36v5.36h-5.36zM155.6 322.0h5.36v5.36h-5.36zM469.2 322.0h5.36v5.36h-5.36zM474.2 322.0h5.36v5.36h-5.36zM479.3 322.0h5.36v5.36h-5.36zM484.3 322.0h5.36v5.36h-5.36zM489.4 322.0h5.36v5.36h-5.36zM145.5 327.0h5.36v5.36h-5.36zM155.6 327.0h5.36v5.36h-5.36zM160.7 327.0h5.36v5.36h-5.36zM165.7 327.0h5.36v5.36h-5.36zM170.8 327.0h5.36v5.36h-5.36zM469.2 327.0h5.36v5.36h-5.36zM474.2 327.0h5.36v5.36h-5.36zM479.3 327.0h5.36v5.36h-5.36zM489.4 327.0h5.36v5.36h-5.36zM494.4 327.0h5.36v5.36h-5.36zM145.5 332.1h5.36v5.36h-5.36zM150.6 332.1h5.36v5.36h-5.36zM155.6 332.1h5.36v5.36h-5.36zM165.7 332.1h5.36v5.36h-5.36zM170.8 332.1h5.36v5.36h-5.36zM469.2 332.1h5.36v5.36h-5.36zM474.2 332.1h5.36v5.36h-5.36zM484.3 332.1h5.36v5.36h-5.36zM489.4 332.1h5.36v5.36h-5.36zM494.4 332.1h5.36v5.36h-5.36zM479.3 337.2h5.36v5.36h-5.36zM145.5 347.3h5.36v5.36h-5.36zM155.6 347.3h5.36v5.36h-5.36zM160.7 347.3h5.36v5.36h-5.36zM484.3 347.3h5.36v5.36h-5.36zM489.4 347.3h5.36v5.36h-5.36zM494.4 347.3h5.36v5.36h-5.36zM150.6 352.4h5.36v5.36h-5.36zM155.6 352.4h5.36v5.36h-5.36zM160.7 352.4h5.36v5.36h-5.36zM479.3 352.4h5.36v5.36h-5.36zM489.4 352.4h5.36v5.36h-5.36zM494.4 352.4h5.36v5.36h-5.36zM145.5 357.4h5.36v5.36h-5.36zM150.6 357.4h5.36v5.36h-5.36zM459.0 357.4h5.36v5.36h-5.36zM464.1 357.4h5.36v5.36h-5.36zM469.2 357.4h5.36v5.36h-5.36zM474.2 357.4h5.36v5.36h-5.36zM489.4 357.4h5.36v5.36h-5.36zM494.4 357.4h5.36v5.36h-5.36zM145.5 362.5h5.36v5.36h-5.36zM150.6 362.5h5.36v5.36h-5.36zM160.7 362.5h5.36v5.36h-5.36zM469.2 362.5h5.36v5.36h-5.36zM474.2 362.5h5.36v5.36h-5.36zM489.4 362.5h5.36v5.36h-5.36zM494.4 362.5h5.36v5.36h-5.36zM160.7 367.5h5.36v5.36h-5.36zM489.4 367.5h5.36v5.36h-5.36zM494.4 367.5h5.36v5.36h-5.36zM160.7 372.6h5.36v5.36h-5.36zM489.4 372.6h5.36v5.36h-5.36zM494.4 372.6h5.36v5.36h-5.36zM145.5 377.7h5.36v5.36h-5.36zM155.6 377.7h5.36v5.36h-5.36zM474.2 377.7h5.36v5.36h-5.36zM489.4 377.7h5.36v5.36h-5.36zM494.4 377.7h5.36v5.36h-5.36zM145.5 382.7h5.36v5.36h-5.36zM170.8 382.7h5.36v5.36h-5.36zM469.2 382.7h5.36v5.36h-5.36zM489.4 382.7h5.36v5.36h-5.36zM145.5 387.8h5.36v5.36h-5.36zM150.6 387.8h5.36v5.36h-5.36zM155.6 387.8h5.36v5.36h-5.36zM484.3 387.8h5.36v5.36h-5.36zM489.4 387.8h5.36v5.36h-5.36zM494.4 387.8h5.36v5.36h-5.36zM145.5 392.9h5.36v5.36h-5.36zM155.6 392.9h5.36v5.36h-5.36zM160.7 392.9h5.36v5.36h-5.36zM479.3 392.9h5.36v5.36h-5.36zM484.3 392.9h5.36v5.36h-5.36zM489.4 392.9h5.36v5.36h-5.36zM494.4 392.9h5.36v5.36h-5.36zM145.5 397.9h5.36v5.36h-5.36zM155.6 397.9h5.36v5.36h-5.36zM489.4 397.9h5.36v5.36h-5.36zM145.5 403.0h5.36v5.36h-5.36zM150.6 403.0h5.36v5.36h-5.36zM186.0 403.0h5.36v5.36h-5.36zM484.3 403.0h5.36v5.36h-5.36zM150.6 408.1h5.36v5.36h-5.36zM155.6 408.1h5.36v5.36h-5.36zM160.7 408.1h5.36v5.36h-5.36zM165.7 408.1h5.36v5.36h-5.36zM170.8 408.1h5.36v5.36h-5.36zM489.4 408.1h5.36v5.36h-5.36zM150.6 413.1h5.36v5.36h-5.36zM155.6 413.1h5.36v5.36h-5.36zM160.7 413.1h5.36v5.36h-5.36zM165.7 413.1h5.36v5.36h-5.36zM180.9 418.2h5.36v5.36h-5.36zM145.5 423.2h5.36v5.36h-5.36zM150.6 423.2h5.36v5.36h-5.36zM165.7 423.2h5.36v5.36h-5.36zM484.3 423.2h5.36v5.36h-5.36zM145.5 428.3h5.36v5.36h-5.36zM150.6 428.3h5.36v5.36h-5.36zM170.8 428.3h5.36v5.36h-5.36zM145.5 433.4h5.36v5.36h-5.36zM150.6 433.4h5.36v5.36h-5.36zM165.7 433.4h5.36v5.36h-5.36zM489.4 433.4h5.36v5.36h-5.36zM145.5 438.4h5.36v5.36h-5.36zM155.6 438.4h5.36v5.36h-5.36zM165.7 438.4h5.36v5.36h-5.36zM145.5 443.5h5.36v5.36h-5.36zM150.6 443.5h5.36v5.36h-5.36zM155.6 443.5h5.36v5.36h-5.36zM165.7 443.5h5.36v5.36h-5.36zM170.8 443.5h5.36v5.36h-5.36zM175.8 443.5h5.36v5.36h-5.36zM484.3 443.5h5.36v5.36h-5.36zM494.4 443.5h5.36v5.36h-5.36zM145.5 448.6h5.36v5.36h-5.36zM150.6 448.6h5.36v5.36h-5.36zM155.6 448.6h5.36v5.36h-5.36zM160.7 448.6h5.36v5.36h-5.36zM180.9 448.6h5.36v5.36h-5.36zM479.3 448.6h5.36v5.36h-5.36zM489.4 448.6h5.36v5.36h-5.36zM145.5 453.6h5.36v5.36h-5.36zM150.6 453.6h5.36v5.36h-5.36zM155.6 453.6h5.36v5.36h-5.36zM160.7 453.6h5.36v5.36h-5.36zM175.8 453.6h5.36v5.36h-5.36zM180.9 453.6h5.36v5.36h-5.36zM145.5 458.7h5.36v5.36h-5.36zM155.6 458.7h5.36v5.36h-5.36zM180.9 458.7h5.36v5.36h-5.36zM489.4 458.7h5.36v5.36h-5.36zM145.5 463.8h5.36v5.36h-5.36zM150.6 463.8h5.36v5.36h-5.36zM165.7 463.8h5.36v5.36h-5.36zM180.9 463.8h5.36v5.36h-5.36zM479.3 463.8h5.36v5.36h-5.36zM145.5 468.8h5.36v5.36h-5.36zM150.6 468.8h5.36v5.36h-5.36zM165.7 468.8h5.36v5.36h-5.36zM175.8 468.8h5.36v5.36h-5.36zM145.5 473.9h5.36v5.36h-5.36zM150.6 473.9h5.36v5.36h-5.36zM489.4 473.9h5.36v5.36h-5.36zM160.7 479.0h5.36v5.36h-5.36zM165.7 479.0h5.36v5.36h-5.36zM170.8 479.0h5.36v5.36h-5.36zM489.4 479.0h5.36v5.36h-5.36zM155.6 484.0h5.36v5.36h-5.36zM160.7 484.0h5.36v5.36h-5.36zM175.8 484.0h5.36v5.36h-5.36zM186.0 484.0h5.36v5.36h-5.36zM484.3 484.0h5.36v5.36h-5.36zM165.7 489.1h5.36v5.36h-5.36zM170.8 489.1h5.36v5.36h-5.36zM175.8 489.1h5.36v5.36h-5.36zM186.0 489.1h5.36v5.36h-5.36zM165.7 494.1h5.36v5.36h-5.36zM180.9 494.1h5.36v5.36h-5.36zM186.0 494.1h5.36v5.36h-5.36zM150.6 499.2h5.36v5.36h-5.36zM155.6 499.2h5.36v5.36h-5.36zM160.7 499.2h5.36v5.36h-5.36zM165.7 499.2h5.36v5.36h-5.36zM170.8 499.2h5.36v5.36h-5.36zM175.8 499.2h5.36v5.36h-5.36zM186.0 499.2h5.36v5.36h-5.36zM191.0 499.2h5.36v5.36h-5.36zM196.1 499.2h5.36v5.36h-5.36zM145.5 504.3h5.36v5.36h-5.36zM160.7 504.3h5.36v5.36h-5.36zM165.7 504.3h5.36v5.36h-5.36zM175.8 504.3h5.36v5.36h-5.36zM180.9 504.3h5.36v5.36h-5.36zM186.0 504.3h5.36v5.36h-5.36zM191.0 504.3h5.36v5.36h-5.36zM201.1 504.3h5.36v5.36h-5.36zM155.6 509.3h5.36v5.36h-5.36zM160.7 509.3h5.36v5.36h-5.36zM175.8 509.3h5.36v5.36h-5.36zM186.0 509.3h5.36v5.36h-5.36zM201.1 509.3h5.36v5.36h-5.36zM155.6 514.4h5.36v5.36h-5.36zM186.0 514.4h5.36v5.36h-5.36zM191.0 514.4h5.36v5.36h-5.36zM145.5 519.5h5.36v5.36h-5.36zM160.7 519.5h5.36v5.36h-5.36zM165.7 519.5h5.36v5.36h-5.36zM170.8 519.5h5.36v5.36h-5.36zM180.9 519.5h5.36v5.36h-5.36zM211.2 519.5h5.36v5.36h-5.36zM489.4 519.5h5.36v5.36h-5.36zM494.4 519.5h5.36v5.36h-5.36zM145.5 524.5h5.36v5.36h-5.36zM165.7 524.5h5.36v5.36h-5.36zM170.8 524.5h5.36v5.36h-5.36zM180.9 524.5h5.36v5.36h-5.36zM196.1 524.5h5.36v5.36h-5.36zM206.2 524.5h5.36v5.36h-5.36zM211.2 524.5h5.36v5.36h-5.36zM494.4 524.5h5.36v5.36h-5.36zM145.5 529.6h5.36v5.36h-5.36zM150.6 529.6h5.36v5.36h-5.36zM155.6 529.6h5.36v5.36h-5.36zM160.7 529.6h5.36v5.36h-5.36zM165.7 529.6h5.36v5.36h-5.36zM145.5 534.7h5.36v5.36h-5.36zM150.6 534.7h5.36v5.36h-5.36zM165.7 539.7h5.36v5.36h-5.36zM201.1 539.7h5.36v5.36h-5.36zM160.7 544.8h5.36v5.36h-5.36zM201.1 549.9h5.36v5.36h-5.36zM216.3 549.9h5.36v5.36h-5.36zM150.6 554.9h5.36v5.36h-5.36zM196.1 554.9h5.36v5.36h-5.36zM201.1 554.9h5.36v5.36h-5.36zM216.3 554.9h5.36v5.36h-5.36zM150.6 560.0h5.36v5.36h-5.36zM186.0 560.0h5.36v5.36h-5.36zM191.0 560.0h5.36v5.36h-5.36zM211.2 560.0h5.36v5.36h-5.36zM484.3 560.0h5.36v5.36h-5.36zM155.6 565.0h5.36v5.36h-5.36zM186.0 565.0h5.36v5.36h-5.36zM191.0 565.0h5.36v5.36h-5.36zM211.2 565.0h5.36v5.36h-5.36zM484.3 565.0h5.36v5.36h-5.36zM494.4 565.0h5.36v5.36h-5.36zM160.7 570.1h5.36v5.36h-5.36zM206.2 570.1h5.36v5.36h-5.36zM211.2 570.1h5.36v5.36h-5.36zM216.3 570.1h5.36v5.36h-5.36zM489.4 570.1h5.36v5.36h-5.36zM155.6 575.2h5.36v5.36h-5.36zM160.7 575.2h5.36v5.36h-5.36zM206.2 575.2h5.36v5.36h-5.36zM211.2 575.2h5.36v5.36h-5.36zM155.6 580.2h5.36v5.36h-5.36zM484.3 580.2h5.36v5.36h-5.36zM150.6 585.3h5.36v5.36h-5.36zM165.7 585.3h5.36v5.36h-5.36zM211.2 585.3h5.36v5.36h-5.36zM484.3 585.3h5.36v5.36h-5.36zM155.6 590.4h5.36v5.36h-5.36zM484.3 590.4h5.36v5.36h-5.36z"/>
<rect x="145.5" y="246.0" width="354.0" height="354.5" fill="none" stroke="#000" stroke-width="2.0"/>
<path d="M145.50 600.5v-7.09M145.50 246.0v7.09M163.20 600.5v-3.54M163.20 246.0v3.54M180.90 600.5v-3.54M180.90 246.0v3.54M198.60 600.5v-3.54M198.60 246.0v3.54M216.30 600.5v-3.54M216.30 246.0v3.54M234.00 600.5v-7.09M234.00 246.0v7.09M251.70 600.5v-3.54M251.70 246.0v3.54M269.40 600.5v-3.54M269.40 246.0v3.54M287.10 600.5v-3.54M287.10 246.0v3.54M304.80 600.5v-3.54M304.80 246.0v3.54M322.50 600.5v-7.09M322.50 246.0v7.09M340.20 600.5v-3.54M340.20 246.0v3.54M357.90 600.5v-3.54M357.90 246.0v3.54M375.60 600.5v-3.54M375.60 246.0v3.54M393.30 600.5v-3.54M393.30 246.0v3.54M411.00 600.5v-7.09M411.00 246.0v7.09M428.70 600.5v-3.54M428.70 246.0v3.54M446.40 600.5v-3.54M446.40 246.0v3.54M464.10 600.5v-3.54M464.10 246.0v3.54M481.80 600.5v-3.54M481.80 246.0v3.54M499.50 600.5v-7.09M499.50 246.0v7.09M145.5 600.50h7.08M499.5 600.50h-7.08M145.5 582.77h3.54M499.5 582.77h-3.54M145.5 565.05h3.54M499.5 565.05h-3.54M145.5 547.33h3.54M499.5 547.33h-3.54M145.5 529.60h3.54M499.5 529.60h-3.54M145.5 511.88h7.08M499.5 511.88h-7.08M145.5 494.15h3.54M499.5 494.15h-3.54M145.5 476.43h3.54M499.5 476.43h-3.54M145.5 458.70h3.54M499.5 458.70h-3.54M145.5 440.98h3.54M499.5 440.98h-3.54M145.5 423.25h7.08M499.5 423.25h-7.08M145.5 405.52h3.54M499.5 405.52h-3.54M145.5 387.80h3.54M499.5 387.80h-3.54M145.5 370.07h3.54M499.5 370.07h-3.54M145.5 352.35h3.54M499.5 352.35h-3.54M145.5 334.62h7.08M499.5 334.62h-7.08M145.5 316.90h3.54M499.5 316.90h-3.54M145.5 299.17h3.54M499.5 299.17h-3.54M145.5 281.45h3.54M499.5 281.45h-3.54M145.5 263.73h3.54M499.5 263.73h-3.54M145.5 246.00h7.08M499.5 246.00h-7.08" stroke="#000" stroke-width="2.0" fill="none"/>
<path d="M269.2 476.5L292.5 453.2M351.8 452.7L375.3 476.5" stroke="#ff2020" stroke-width="2.5"/>
<path d="M821.3 576.0L821.8 574.7L822.3 574.0L822.8 575.8L823.3 577.0L823.8 575.9L824.3 573.3L824.8 574.5L825.3 576.4L825.8 576.9L826.3 575.0L826.8 571.9L827.3 571.6L827.8 572.3L828.3 574.2L828.8 572.5L829.3 572.7L829.8 573.3L830.3 577.3L830.8 576.9L831.4 575.9L831.9 575.0L832.4 575.2L832.9 575.0L833.4 573.9L833.9 572.7L834.4 572.7L834.9 575.4L835.4 575.9L835.9 577.6L836.4 575.9L836.9 578.2L837.4 576.7L837.9 577.3L838.4 575.5L838.9 571.9L839.4 571.1L839.9 570.4L840.4 575.5L840.9 575.7L841.5 575.9L842.0 574.6L842.5 573.9L843.0 574.5L843.5 575.5L844.0 575.3L844.5 576.3L845.0 573.1L845.5 574.3L846.0 572.7L846.5 574.7L847.0 573.1L847.5 574.5L848.0 573.4L848.5 574.6L849.0 572.6L849.5 573.0L850.0 572.7L850.5 574.9L851.0 574.8L851.5 574.4L852.1 571.8L852.6 573.0L853.1 572.9L853.6 574.2L854.1 573.4L854.6 573.8L855.1 574.2L855.6 575.1L856.1 576.5L856.6 577.1L857.1 575.8L857.6 573.0L858.1 571.5L858.6 571.0L859.1 571.8L859.6 572.1L860.1 573.1L860.6 573.1L861.1 571.9L861.6 572.5L862.2 574.1L862.7 573.9L863.2 573.3L863.7 571.4L864.2 572.6L864.7 574.1L865.2 572.5L865.7 571.6L866.2 570.1L866.7 572.0L867.2 573.8L867.7 574.9L868.2 575.8L868.7 575.6L869.2 573.4L869.7 572.5L870.2 572.8L870.7 572.6L871.2 574.2L871.7 573.4L872.2 573.7L872.8 573.1L873.3 576.0L873.8 578.1L874.3 576.8L874.8 571.4L875.3 562.8L875.8 560.6L876.3 564.7L876.8 571.6L877.3 573.6L877.8 576.9L878.3 576.8L878.8 574.1L879.3 570.4L879.8 572.3L880.3 575.3L880.8 576.1L881.3 572.4L881.8 571.3L882.3 571.4L882.9 572.4L883.4 573.2L883.9 571.3L884.4 573.7L884.9 574.1L885.4 575.4L885.9 573.1L886.4 571.9L886.9 572.3L887.4 575.8L887.9 577.3L888.4 578.3L888.9 576.9L889.4 575.5L889.9 575.2L890.4 573.8L890.9 574.6L891.4 574.6L891.9 575.0L892.4 574.8L892.9 574.0L893.5 574.4L894.0 574.8L894.5 576.2L895.0 574.9L895.5 573.8L896.0 573.1L896.5 574.4L897.0 576.1L897.5 575.9L898.0 575.5L898.5 573.3L899.0 573.2L899.5 573.8L900.0 576.8L900.5 576.1L901.0 575.4L901.5 574.9L902.0 575.7L902.5 576.8L903.0 573.6L903.5 573.0L904.1 571.6L904.6 573.9L905.1 576.0L905.6 576.5L906.1 577.3L906.6 575.6L907.1 576.9L907.6 576.5L908.1 576.1L908.6 573.6L909.1 573.8L909.6 575.6L910.1 576.1L910.6 574.8L911.1 574.4L911.6 575.4L912.1 576.4L912.6 576.6L913.1 576.5L913.6 575.3L914.2 574.1L914.7 572.3L915.2 573.2L915.7 573.7L916.2 575.7L916.7 575.7L917.2 576.4L917.7 577.0L918.2 576.4L918.7 574.7L919.2 573.0L919.7 572.6L920.2 573.3L920.7 574.3L921.2 575.1L921.7 575.5L922.2 575.8L922.7 576.9L923.2 577.6L923.7 576.9L924.2 575.8L924.8 575.1L925.3 574.2L925.8 574.2L926.3 573.5L926.8 573.6L927.3 574.3L927.8 575.9L928.3 576.2L928.8 576.1L929.3 574.0L929.8 574.3L930.3 573.2L930.8 573.6L931.3 575.1L931.8 575.3L932.3 576.2L932.8 575.4L933.3 576.1L933.8 575.2L934.3 574.1L934.9 573.2L935.4 574.7L935.9 575.7L936.4 577.9L936.9 576.9L937.4 576.1L937.9 575.1L938.4 574.8L938.9 575.1L939.4 574.0L939.9 574.6L940.4 575.3L940.9 576.4L941.4 574.8L941.9 573.6L942.4 573.2L942.9 574.1L943.4 574.8L943.9 574.6L944.4 574.8L944.9 575.1L945.5 576.1L946.0 576.3L946.5 575.1L947.0 573.9L947.5 573.5L948.0 574.7L948.5 575.0L949.0 574.8L949.5 575.0L950.0 575.0L950.5 575.0L951.0 575.1L951.5 575.7L952.0 576.5L952.5 576.7L953.0 575.7L953.5 576.5L954.0 576.0L954.5 577.0L955.0 575.9L955.6 575.6L956.1 574.5L956.6 574.1L957.1 574.2L957.6 575.3L958.1 575.5L958.6 574.8L959.1 574.7L959.6 575.3L960.1 576.7L960.6 577.1L961.1 577.0L961.6 574.6L962.1 571.9L962.6 569.5L963.1 569.3L963.6 571.6L964.1 572.7L964.6 574.0L965.1 574.8L965.6 576.4L966.2 577.5L966.7 575.9L967.2 574.1L967.7 574.3L968.2 574.2L968.7 575.3L969.2 574.7L969.7 575.7L970.2 575.7L970.7 576.6L971.2 576.9L971.7 577.5L972.2 576.0L972.7 574.0L973.2 571.5L973.7 572.0L974.2 574.5L974.7 576.5L975.2 576.9L975.7 574.5L976.3 573.9L976.8 573.7L977.3 574.4L977.8 574.4L978.3 575.0L978.8 575.9L979.3 576.4L979.8 575.4L980.3 575.0L980.8 575.0L981.3 574.9L981.8 575.4L982.3 575.7L982.8 574.9L983.3 574.3L983.8 573.4L984.3 575.4L984.8 575.7L985.3 575.5L985.8 575.3L986.3 574.5L986.9 575.3L987.4 574.2L987.9 575.0L988.4 574.6L988.9 574.1L989.4 574.2L989.9 573.4L990.4 574.7L990.9 575.0L991.4 575.5L991.9 575.7L992.4 575.4L992.9 575.2L993.4 573.8L993.9 574.7L994.4 574.9L994.9 574.5L995.4 572.6L995.9 573.1L996.4 574.7L996.9 575.6L997.5 576.2L998.0 576.0L998.5 575.9L999.0 575.3L999.5 574.4L1000.0 574.4L1000.5 575.2L1001.0 575.3L1001.5 575.8L1002.0 575.2L1002.5 576.0L1003.0 575.5L1003.5 575.8L1004.0 575.9L1004.5 574.3L1005.0 573.8L1005.5 572.1L1006.0 566.4L1006.5 553.7L1007.0 546.2L1007.6 553.3L1008.1 566.8L1008.6 574.3L1009.1 576.4L1009.6 575.0L1010.1 573.7L1010.6 573.5L1011.1 573.9L1011.6 574.7L1012.1 575.2L1012.6 574.9L1013.1 574.4L1013.6 574.5L1014.1 575.2L1014.6 576.2L1015.1 575.3L1015.6 573.9L1016.1 572.7L1016.6 572.9L1017.1 573.2L1017.6 573.8L1018.2 573.9L1018.7 575.2L1019.2 575.3L1019.7 576.2L1020.2 575.0L1020.7 575.3L1021.2 574.9L1021.7 575.1L1022.2 573.8L1022.7 574.3L1023.2 575.1L1023.7 575.5L1024.2 575.7L1024.7 574.8L1025.2 575.7L1025.7 575.0L1026.2 576.5L1026.7 575.7L1027.2 575.9L1027.7 575.3L1028.3 574.5L1028.8 573.7L1029.3 570.8L1029.8 571.2L1030.3 566.5L1030.8 547.8L1031.3 508.6L1031.8 485.8L1032.3 508.1L1032.8 547.3L1033.3 568.7L1033.8 574.3L1034.3 575.7L1034.8 575.9L1035.3 575.5L1035.8 574.7L1036.3 573.9L1036.8 575.0L1037.3 576.7L1037.8 576.5L1038.3 575.9L1038.9 575.7L1039.4 576.1L1039.9 577.0L1040.4 575.9L1040.9 575.8L1041.4 574.4L1041.9 572.2L1042.4 556.2L1042.9 495.6L1043.4 381.9L1043.9 315.6L1044.4 381.8L1044.9 495.4L1045.4 556.3L1045.9 571.0L1046.4 574.9L1046.9 575.2L1047.4 576.4L1047.9 573.3L1048.4 573.0L1049.0 573.9L1049.5 575.1L1050.0 576.0L1050.5 574.3L1051.0 575.3L1051.5 575.0L1052.0 575.7L1052.5 575.1L1053.0 575.4L1053.5 576.5L1054.0 576.2L1054.5 575.1L1055.0 574.0L1055.5 575.0L1056.0 575.5L1056.5 575.1L1057.0 574.5L1057.5 574.7L1058.0 574.1L1058.5 574.7L1059.0 575.1L1059.6 577.2L1060.1 576.9L1060.6 577.0L1061.1 576.4L1061.6 576.4L1062.1 574.8L1062.6 574.3L1063.1 573.9L1063.6 573.7L1064.1 573.6L1064.6 574.6L1065.1 575.8L1065.6 576.4L1066.1 574.2L1066.6 575.2L1067.1 575.0L1067.6 577.1L1068.1 576.2L1068.6 576.5L1069.1 575.5L1069.7 575.8L1070.2 575.6L1070.7 574.9L1071.2 574.1L1071.7 573.7L1072.2 574.8L1072.7 576.1L1073.2 576.0L1073.7 573.9L1074.2 573.5L1074.7 574.2L1075.2 576.1L1075.7 576.5L1076.2 576.7L1076.7 576.4L1077.2 574.7L1077.7 574.1L1078.2 574.3L1078.7 576.3L1079.2 576.1L1079.7 575.8L1080.3 575.6L1080.8 576.4L1081.3 576.4L1081.8 575.0L1082.3 573.9L1082.8 573.7L1083.3 574.6L1083.8 574.8L1084.3 574.9L1084.8 573.3L1085.3 574.2L1085.8 574.5L1086.3 575.0L1086.8 574.5L1087.3 573.3L1087.8 574.2L1088.3 573.9L1088.8 575.1L1089.3 575.9L1089.8 576.6L1090.3 574.9L1090.9 573.2L1091.4 570.8L1091.9 568.9L1092.4 566.3L1092.9 566.1L1093.4 569.4L1093.9 572.7L1094.4 574.1L1094.9 574.6L1095.4 575.3L1095.9 576.1L1096.4 576.2L1096.9 575.0L1097.4 575.3L1097.9 575.6L1098.4 576.3L1098.9 574.8L1099.4 574.1L1099.9 573.8L1100.4 574.8L1101.0 574.6L1101.5 574.1L1102.0 573.2L1102.5 574.5L1103.0 574.2L1103.5 575.1L1104.0 574.2L1104.5 573.6L1105.0 573.7L1105.5 572.2L1106.0 573.1L1106.5 573.7L1107.0 574.6L1107.5 574.8L1108.0 574.2L1108.5 576.0L1109.0 576.7L1109.5 576.7L1110.0 576.0L1110.5 574.6L1111.0 574.6L1111.6 574.1L1112.1 575.5L1112.6 575.8L1113.1 576.1L1113.6 575.8L1114.1 575.1L1114.6 575.0L1115.1 575.1L1115.6 576.2L1116.1 575.5L1116.6 575.9L1117.1 574.9L1117.6 575.8L1118.1 575.7L1118.6 575.7L1119.1 575.9L1119.6 574.0L1120.1 574.1L1120.6 573.4L1121.1 575.4L1121.7 574.4L1122.2 573.5L1122.7 572.8L1123.2 574.7L1123.7 575.9L1124.2 575.7L1124.7 575.2L1125.2 575.6L1125.7 576.7L1126.2 576.9L1126.7 576.1L1127.2 575.8L1127.7 575.3L1128.2 573.5L1128.7 572.0L1129.2 572.6L1129.7 574.2L1130.2 575.3L1130.7 574.7L1131.2 574.3L1131.7 574.5L1132.3 574.7L1132.8 575.6L1133.3 575.4L1133.8 574.4L1134.3 573.6L1134.8 574.4L1135.3 575.5L1135.8 576.6L1136.3 575.2L1136.8 574.7L1137.3 573.7L1137.8 574.2L1138.3 575.6L1138.8 575.9L1139.3 575.7L1139.8 574.1L1140.3 575.3L1140.8 575.4L1141.3 576.1L1141.8 575.7L1142.4 575.6L1142.9 574.9L1143.4 575.0L1143.9 576.3L1144.4 578.2L1144.9 577.9L1145.4 576.1L1145.9 574.6L1146.4 575.7L1146.9 576.9L1147.4 576.6L1147.9 574.1L1148.4 572.8L1148.9 572.8L1149.4 573.8L1149.9 575.2L1150.4 575.7L1150.9 576.1L1151.4 575.9L1151.9 575.6L1152.4 575.6L1153.0 574.9L1153.5 574.0L1154.0 573.3L1154.5 573.2L1155.0 574.3L1155.5 575.8L1156.0 576.1L1156.5 575.6L1157.0 575.3L1157.5 574.4L1158.0 575.0L1158.5 574.1L1159.0 575.1L1159.5 575.7L1160.0 574.6L1160.5 575.1L1161.0 573.7L1161.5 575.4L1162.0 574.5L1162.5 575.6L1163.1 575.5L1163.6 575.1L1164.1 573.3L1164.6 573.6L1165.1 574.2L1165.6 574.8L1166.1 574.7L1166.6 574.2L1167.1 575.4L1167.6 574.6L1168.1 574.7L1168.6 573.5L1169.1 573.6L1169.6 574.7L1170.1 575.0L1170.6 575.9L1171.1 574.7L1171.6 574.2L1172.1 573.1L1172.6 573.9L1173.1 574.1L1173.7 574.4L1174.2 574.8L1174.7 575.8L1175.2 575.0L1175.7 574.4L1176.2 574.1L1176.7 575.2L1177.2 576.1L1177.7 576.5L1178.2 576.1L1178.7 574.9L1179.2 574.6L1179.7 576.2L1180.2 575.6L1180.7 575.0L1181.2 573.0L1181.7 573.0L1182.2 573.7L1182.7 574.7L1183.2 575.4L1183.7 574.0L1184.3 574.7L1184.8 575.1L1185.3 576.6L1185.8 575.1L1186.3 574.1L1186.8 573.8L1187.3 574.9L1187.8 575.9L1188.3 575.8L1188.8 576.0L1189.3 575.5L1189.8 575.7L1190.3 574.2L1190.8 575.6L1191.3 574.6L1191.8 576.0L1192.3 574.4L1192.8 576.3L1193.3 574.5L1193.8 575.4L1194.4 575.3L1194.9 576.3L1195.4 575.8L1195.9 575.5L1196.4 575.6L1196.9 575.7L1197.4 575.2L1197.9 576.8L1198.4 577.2L1198.9 576.9L1199.4 574.7L1199.9 573.8L1200.4 574.5L1200.9 573.1L1201.4 573.2L1201.9 572.6L1202.4 573.5L1202.9 573.4L1203.4 573.5L1203.9 574.6L1204.4 574.6L1205.0 574.4L1205.5 575.2L1206.0 576.5L1206.5 576.5L1207.0 575.2L1207.5 574.4L1208.0 574.2L1208.5 574.2L1209.0 573.4L1209.5 574.2L1210.0 574.5L1210.5 575.3L1211.0 574.5L1211.5 573.7L1212.0 573.0L1212.5 573.7L1213.0 573.5L1213.5 574.2L1214.0 574.5L1214.5 575.4L1215.1 574.3L1215.6 573.2L1216.1 573.4L1216.6 576.2L1217.1 577.2L1217.6 577.4L1218.1 575.8L1218.6 573.8L1219.1 572.9L1219.6 572.7L1220.1 574.8L1220.6 576.1L1221.1 576.4L1221.6 576.1L1222.1 573.4L1222.6 573.5L1223.1 573.6L1223.6 574.8L1224.1 574.5L1224.6 574.9L1225.1 574.8L1225.7 575.1L1226.2 575.1L1226.7 575.7L1227.2 575.2L1227.7 574.6L1228.2 574.4L1228.7 574.1L1229.2 574.5L1229.7 576.3L1230.2 578.3L1230.7 577.8L1231.2 575.7L1231.7 573.6L1232.2 572.6L1232.7 572.2L1233.2 572.8L1233.7 573.0L1234.2 575.2L1234.7 574.8L1235.2 575.2L1235.8 574.3L1236.3 575.0L1236.8 576.0L1237.3 575.8L1237.8 574.7L1238.3 574.2L1238.8 574.0L1239.3 575.2L1239.8 574.8L1240.3 575.8L1240.8 575.1L1241.3 575.4L1241.8 574.6L1242.3 575.2L1242.8 575.8L1243.3 576.3L1243.8 575.2L1244.3 573.4L1244.8 573.4L1245.3 573.6L1245.8 574.1L1246.4 573.7L1246.9 575.2L1247.4 575.4L1247.9 576.3L1248.4 574.6L1248.9 574.3L1249.4 573.2L1249.9 575.6L1250.4 575.7L1250.9 575.7L1251.4 574.9L1251.9 574.6L1252.4 575.0L1252.9 574.3L1253.4 575.4L1253.9 576.1L1254.4 576.3L1254.9 573.9L1255.4 573.1L1255.9 572.7L1256.5 575.1L1257.0 575.6L1257.5 576.1L1258.0 576.2L1258.5 575.3L1259.0 575.1L1259.5 574.0L1260.0 575.2L1260.5 574.4L1261.0 574.7L1261.5 573.0L1262.0 572.7L1262.5 572.0L1263.0 570.7L1263.5 570.9L1264.0 571.4L1264.5 573.9L1265.0 574.5L1265.5 575.3L1266.0 574.7L1266.5 574.7L1267.1 574.9L1267.6 576.0L1268.1 576.0L1268.6 574.9L1269.1 573.6L1269.6 574.6L1270.1 574.8L1270.6 575.0L1271.1 574.1L1271.6 574.2L1272.1 574.7L1272.6 574.7L1273.1 574.4L1273.6 574.5L1274.1 575.6L1274.6 576.2L1275.1 575.8L1275.6 576.0L1276.1 576.4L1276.6 576.1L1277.1 575.1L1277.7 574.6L1278.2 575.7L1278.7 575.1L1279.2 574.0L1279.7 573.3L1280.2 574.4L1280.7 576.2L1281.2 575.5L1281.7 575.0L1282.2 574.8L1282.7 574.6L1283.2 574.1L1283.7 573.2L1284.2 575.2L1284.7 575.7L1285.2 575.7L1285.7 575.3L1286.2 574.7L1286.7 574.2L1287.2 572.7L1287.8 573.8L1288.3 575.2L1288.8 575.2L1289.3 574.1L1289.8 572.9L1290.3 572.7L1290.8 573.4L1291.3 574.5L1291.8 576.4L1292.3 575.8L1292.8 574.1L1293.3 573.2L1293.8 574.0L1294.3 575.1L1294.8 574.5L1295.3 575.1L1295.8 576.0L1296.3 576.9L1296.8 574.8L1297.3 574.8L1297.8 573.5L1298.4 573.6L1298.9 571.9L1299.4 571.5L1299.9 571.7L1300.4 573.7L1300.9 574.9L1301.4 576.4L1301.9 575.8L1302.4 573.9L1302.9 574.5L1303.4 573.9L1303.9 576.4L1304.4 574.5L1304.9 574.0L1305.4 573.5L1305.9 573.1L1306.4 573.9L1306.9 572.7L1307.4 573.8L1307.9 574.2L1308.5 575.3L1309.0 575.6L1309.5 574.8L1310.0 574.5L1310.5 572.9L1311.0 573.4L1311.5 573.8L1312.0 575.8L1312.5 576.2L1313.0 576.8L1313.5 576.9L1314.0 575.9L1314.5 574.9L1315.0 574.4L1315.5 574.7L1316.0 574.1L1316.5 573.6L1317.0 573.3L1317.5 574.4L1318.0 574.9L1318.5 575.9L1319.1 575.6L1319.6 576.0L1320.1 575.7L1320.6 575.8L1321.1 575.4L1321.6 575.3L1322.1 575.5L1322.6 574.5L1323.1 574.6L1323.6 574.9L1324.1 575.6L1324.6 576.1L1325.1 576.2L1325.6 576.2L1326.1 576.6L1326.6 578.0L1327.1 577.8L1327.6 576.1L1328.1 575.1L1328.6 575.9L1329.2 576.2L1329.7 576.4L1330.2 576.4L1330.7 577.5L1331.2 576.4L1331.7 577.1L1332.2 575.7L1332.7 575.7L1333.2 574.2L1333.7 575.0L1334.2 576.3L1334.7 576.6L1335.2 577.2L1335.7 575.8L1336.2 576.3L1336.7 575.6L1337.2 575.8L1337.7 574.7L1338.2 574.0L1338.7 574.6L1339.2 575.1L1339.8 574.6L1340.3 573.7L1340.8 574.1L1341.3 575.1L1341.8 575.7L1342.3 574.6L1342.8 574.5L1343.3 574.0L1343.8 573.2L1344.3 574.1L1344.8 575.0L1345.3 577.5L1345.8 577.7L1346.3 576.5L1346.8 575.2L1347.3 573.1L1347.8 574.9L1348.3 575.7L1348.8 575.8L1349.3 573.9L1349.9 572.8L1350.4 573.1L1350.9 573.8L1351.4 574.3L1351.9 574.9L1352.4 574.3L1352.9 574.4L1353.4 574.3L1353.9 573.9L1354.4 574.5L1354.9 575.2L1355.4 575.7L1355.9 575.2L1356.4 574.8L1356.9 573.8L1357.4 573.4L1357.9 573.6L1358.4 574.2L1358.9 572.9L1359.4 573.3L1359.9 574.4L1360.5 576.0L1361.0 575.7L1361.5 573.8L1362.0 573.6L1362.5 573.4L1363.0 574.5L1363.5 575.4L1364.0 575.5L1364.5 575.7L1365.0 573.7L1365.5 574.7L1366.0 574.5L1366.5 575.2L1367.0 573.3L1367.5 572.3L1368.0 572.7L1368.5 571.8L1369.0 569.1L1369.5 562.0L1370.0 553.5L1370.5 554.2L1371.1 561.2L1371.6 570.5L1372.1 574.4L1372.6 576.9L1373.1 577.0L1373.6 576.5L1374.1 575.0L1374.6 574.2L1375.1 574.4L1375.6 574.9L1376.1 575.2L1376.6 574.7L1377.1 574.9L1377.6 576.0L1378.1 577.1L1378.6 575.9L1379.1 574.2L1379.6 574.2L1380.1 574.8L1380.6 574.9L1381.2 573.4L1381.7 573.9L1382.2 574.6L1382.7 574.6L1383.2 572.6L1383.7 571.5L1384.2 573.0L1384.7 574.0L1385.2 574.2L1385.7 571.5L1386.2 570.3L1386.7 570.4L1387.2 572.3L1387.7 572.7L1388.2 572.9L1388.7 573.0L1389.2 574.2L1389.7 575.1L1390.2 575.5L1390.7 574.7L1391.2 573.7L1391.8 572.3L1392.3 572.9L1392.8 573.5L1393.3 575.8L1393.8 575.7L1394.3 576.8L1394.8 574.8L1395.3 575.4L1395.8 574.3L1396.3 576.2L1396.8 576.1L1397.3 576.7L1397.8 575.1L1398.3 574.6L1398.8 574.8L1399.3 576.7L1399.8 576.9L1400.3 576.5L1400.8 576.0L1401.3 575.5L1401.9 575.4L1402.4 574.6L1402.9 575.3L1403.4 575.6L1403.9 575.9L1404.4 576.6L1404.9 575.8L1405.4 575.3L1405.9 575.3L1406.4 575.7L1406.9 575.2L1407.4 573.9L1407.9 573.2L1408.4 574.1L1408.9 574.2L1409.4 575.9L1409.9 576.3L1410.4 577.5L1410.9 577.2L1411.4 576.5L1411.9 575.0L1412.5 573.7L1413.0 573.7L1413.5 574.7L1414.0 575.2L1414.5 575.4L1415.0 573.6L1415.5 572.6L1416.0 571.9L1416.5 573.8L1417.0 575.3L1417.5 575.8L1418.0 575.6L1418.5 574.9L1419.0 574.6L1419.5 573.6L1420.0 573.8L1420.5 574.8L1421.0 575.9L1421.5 576.1L1422.0 574.7L1422.6 573.1L1423.1 572.4L1423.6 573.0L1424.1 573.6L1424.6 573.7L1425.1 573.1L1425.6 573.0L1426.1 574.5L1426.6 574.7L1427.1 575.0L1427.6 574.3L1428.1 574.6L1428.6 574.7L1429.1 574.4L1429.6 575.8L1430.1 575.9L1430.6 575.3L1431.1 572.3L1431.6 565.2L1432.1 546.8L1432.6 527.0L1433.2 525.9L1433.7 545.2L1434.2 564.2L1434.7 571.5L1435.2 566.1L1435.7 543.5L1436.2 506.5L1436.7 484.9L1437.2 504.0L1437.7 540.5L1438.2 566.5L1438.7 574.3L1439.2 575.0L1439.7 572.3L1440.2 560.1L1440.7 523.5L1441.2 461.2L1441.7 428.1L1442.2 459.6L1442.7 520.5L1443.3 558.8L1443.8 571.0L1444.3 574.0L1444.8 574.2L1445.3 575.0L1445.8 575.8L1446.3 574.8L1446.8 574.1L1447.3 574.2L1447.8 574.4L1448.3 575.5L1448.8 575.8L1449.3 575.6L1449.8 575.9L1450.3 574.2L1450.8 574.8L1451.3 573.4L1451.8 573.9L1452.3 573.3L1452.8 573.6L1453.3 573.6L1453.9 574.1L1454.4 573.7L1454.9 574.3L1455.4 573.8L1455.9 573.5L1456.4 573.3L1456.9 573.7L1457.4 575.0L1457.9 575.1L1458.4 575.2L1458.9 575.1L1459.4 575.5L1459.9 575.7L1460.4 575.4L1460.9 574.6L1461.4 574.1L1461.9 575.4L1462.4 574.7L1462.9 575.2L1463.4 574.6L1463.9 575.7L1464.5 575.3L1465.0 574.3L1465.5 574.3L1466.0 574.5L1466.5 576.1L1467.0 575.7L1467.5 575.9L1468.0 575.1L1468.5 574.7L1469.0 573.5L1469.5 572.5L1470.0 573.6L1470.5 573.8L1471.0 574.6L1471.5 574.2L1472.0 575.5L1472.5 575.0L1473.0 574.2L1473.5 571.6L1474.0 564.7L1474.6 551.1L1475.1 538.0L1475.6 537.3L1476.1 550.9L1476.6 564.7L1477.1 571.7L1477.6 569.5L1478.1 558.5L1478.6 543.2L1479.1 534.1L1479.6 541.9L1480.1 557.4L1480.6 568.1L1481.1 573.4L1481.6 573.9L1482.1 574.8L1482.6 574.6L1483.1 575.1L1483.6 574.8L1484.1 574.4L1484.6 574.1L1485.2 573.8L1485.7 573.7L1486.2 574.9L1486.7 576.3L1487.2 575.9L1487.7 574.9L1488.2 575.1L1488.7 576.9L1489.2 576.6L1489.7 575.0L1490.2 574.5L1490.7 576.1L1491.2 576.8L1491.7 576.3L1492.2 575.1L1492.7 575.6L1493.2 575.9L1493.7 575.4L1494.2 574.6L1494.7 573.8L1495.3 574.4L1495.8 574.4L1496.3 574.7L1496.8 573.9L1497.3 575.2L1497.8 574.7L1498.3 574.6L1498.8 573.2L1499.3 573.6L1499.8 573.8L1500.3 575.0L1500.8 574.4L1501.3 574.2L1501.8 573.2L1502.3 574.0L1502.8 575.2L1503.3 576.0L1503.8 575.8L1504.3 575.5L1504.8 575.1L1505.3 574.4L1505.9 573.7L1506.4 575.7L1506.9 580.8L1507.4 588.4L1507.9 593.0L1508.4 590.0L1508.9 588.2L1509.4 582.0L1509.9 579.4L1510.4 578.4L1510.9 579.0L1511.4 578.9L1511.9 578.3L1512.4 577.2L1512.9 576.2L1513.4 578.1L1513.9 579.2L1514.4 580.2L1514.9 578.2L1515.4 575.9L1516.0 575.6L1516.5 576.7L1517.0 578.2L1517.5 578.3L1518.0 577.2L1518.5 576.6L1519.0 574.8L1519.5 574.6L1520.0 574.7L1520.5 575.7L1521.0 576.2L1521.5 575.2L1522.0 574.7L1522.5 574.7L1523.0 574.6L1523.5 574.8L1524.0 574.6L1524.5 574.9L1525.0 574.8L1525.5 574.9L1526.0 575.5L1526.6 575.1L1527.1 574.9L1527.6 574.8L1528.1 575.3L1528.6 576.2L1529.1 575.7L1529.6 576.9L1530.1 576.2L1530.6 577.3L1531.1 576.9L1531.6 576.1L1532.1 575.0L1532.6 575.3L1533.1 574.8L1533.6 575.1L1534.1 573.4L1534.6 574.8L1535.1 575.3L1535.6 575.1L1536.1 575.0L1536.7 573.6L1537.2 574.0L1537.7 574.6L1538.2 575.0L1538.7 576.1L1539.2 574.9L1539.7 574.9L1540.2 575.4L1540.7 575.7L1541.2 575.2L1541.7 574.6L1542.2 574.3L1542.7 575.1L1543.2 574.9L1543.7 575.1L1544.2 574.6L1544.7 573.8L1545.2 573.4L1545.7 573.0L1546.2 573.3L1546.7 573.7" fill="none" stroke="#000" stroke-width="1.8" stroke-linejoin="round" />
<path d="M821.3 574.9L821.8 574.9L822.3 574.9L822.8 574.9L823.3 574.9L823.8 574.9L824.3 574.9L824.8 574.9L825.3 574.9L825.8 574.9L826.3 574.9L826.8 574.9L827.3 574.9L827.8 574.9L828.3 574.9L828.8 574.9L829.3 574.9L829.8 574.9L830.3 574.9L830.8 574.9L831.4 574.9L831.9 574.9L832.4 574.9L832.9 574.9L833.4 574.9L833.9 574.9L834.4 574.9L834.9 574.9L835.4 574.9L835.9 574.9L836.4 574.9L836.9 574.9L837.4 574.9L837.9 574.9L838.4 574.9L838.9 574.9L839.4 574.9L839.9 574.9L840.4 574.9L840.9 574.9L841.5 574.9L842.0 574.9L842.5 574.9L843.0 574.9L843.5 574.9L844.0 574.9L844.5 574.9L845.0 574.9L845.5 574.9L846.0 574.9L846.5 574.9L847.0 574.9L847.5 574.9L848.0 574.9L848.5 574.9L849.0 574.9L849.5 574.9L850.0 574.9L850.5 574.9L851.0 574.9L851.5 574.9L852.1 574.9L852.6 574.9L853.1 574.9L853.6 574.9L854.1 574.9L854.6 574.9L855.1 574.9L855.6 574.9L856.1 574.9L856.6 574.9L857.1 574.9L857.6 574.9L858.1 574.9L858.6 574.9L859.1 574.9L859.6 574.9L860.1 574.9L860.6 574.9L861.1 574.9L861.6 574.9L862.2 574.9L862.7 574.9L863.2 574.9L863.7 574.9L864.2 574.9L864.7 574.9L865.2 574.9L865.7 574.9L866.2 574.9L866.7 574.9L867.2 574.9L867.7 574.9L868.2 574.9L868.7 574.9L869.2 574.9L869.7 574.9L870.2 574.9L870.7 574.9L871.2 574.9L871.7 574.9L872.2 574.9L872.8 574.9L873.3 574.9L873.8 574.8L874.3 574.2L874.8 571.3L875.3 565.6L875.8 562.1L876.3 565.6L876.8 571.3L877.3 574.2L877.8 574.8L878.3 574.9L878.8 574.9L879.3 574.9L879.8 574.9L880.3 574.9L880.8 574.9L881.3 574.9L881.8 574.9L882.3 574.9L882.9 574.9L883.4 574.9L883.9 574.9L884.4 574.9L884.9 574.9L885.4 574.9L885.9 574.9L886.4 574.9L886.9 574.9L887.4 574.9L887.9 574.9L888.4 574.9L888.9 574.9L889.4 574.9L889.9 574.9L890.4 574.9L890.9 574.9L891.4 574.9L891.9 574.9L892.4 574.9L892.9 574.9L893.5 574.9L894.0 574.9L894.5 574.9L895.0 574.9L895.5 574.9L896.0 574.9L896.5 574.9L897.0 574.9L897.5 574.9L898.0 574.9L898.5 574.9L899.0 574.9L899.5 574.9L900.0 574.9L900.5 574.9L901.0 574.9L901.5 574.9L902.0 574.9L902.5 574.9L903.0 574.9L903.5 574.9L904.1 574.9L904.6 574.9L905.1 574.9L905.6 574.9L906.1 574.9L906.6 574.9L907.1 574.9L907.6 574.9L908.1 574.9L908.6 574.9L909.1 574.9L909.6 574.9L910.1 574.9L910.6 574.9L911.1 574.9L911.6 574.9L912.1 574.9L912.6 574.9L913.1 574.9L913.6 574.9L914.2 574.9L914.7 574.9L915.2 574.9L915.7 574.9L916.2 574.9L916.7 574.9L917.2 574.9L917.7 574.9L918.2 574.9L918.7 574.9L919.2 574.9L919.7 574.9L920.2 574.9L920.7 574.9L921.2 574.9L921.7 574.9L922.2 574.9L922.7 574.9L923.2 574.9L923.7 574.9L924.2 574.9L924.8 574.9L925.3 574.9L925.8 574.9L926.3 574.9L926.8 574.9L927.3 574.9L927.8 574.9L928.3 574.9L928.8 574.9L929.3 574.9L929.8 574.9L930.3 574.9L930.8 574.9L931.3 574.9L931.8 574.9L932.3 574.9L932.8 574.9L933.3 574.9L933.8 574.9L934.3 574.9L934.9 574.9L935.4 574.9L935.9 574.9L936.4 574.9L936.9 574.9L937.4 574.9L937.9 574.9L938.4 574.9L938.9 574.9L939.4 574.9L939.9 574.9L940.4 574.9L940.9 574.9L941.4 574.9L941.9 574.9L942.4 574.9L942.9 574.9L943.4 574.9L943.9 574.9L944.4 574.9L944.9 574.9L945.5 574.9L946.0 574.9L946.5 574.9L947.0 574.9L947.5 574.9L948.0 574.9L948.5 574.9L949.0 574.9L949.5 574.9L950.0 574.9L950.5 574.9L951.0 574.9L951.5 574.9L952.0 574.9L952.5 574.9L953.0 574.9L953.5 574.9L954.0 574.9L954.5 574.9L955.0 574.9L955.6 574.9L956.1 574.9L956.6 574.9L957.1 574.9L957.6 574.9L958.1 574.9L958.6 574.9L959.1 574.9L959.6 574.9L960.1 574.9L960.6 574.8L961.1 574.6L961.6 573.7L962.1 572.0L962.6 570.4L963.1 570.4L963.6 572.0L964.1 573.7L964.6 574.6L965.1 574.8L965.6 574.9L966.2 574.9L966.7 574.9L967.2 574.9L967.7 574.9L968.2 574.9L968.7 574.9L969.2 574.9L969.7 574.9L970.2 574.9L970.7 574.9L971.2 574.9L971.7 574.9L972.2 574.9L972.7 574.9L973.2 574.9L973.7 574.9L974.2 574.9L974.7 574.9L975.2 574.9L975.7 574.9L976.3 574.9L976.8 574.9L977.3 574.9L977.8 574.9L978.3 574.9L978.8 574.9L979.3 574.9L979.8 574.9L980.3 574.9L980.8 574.9L981.3 574.9L981.8 574.9L982.3 574.9L982.8 574.9L983.3 574.9L983.8 574.9L984.3 574.9L984.8 574.9L985.3 574.9L985.8 574.9L986.3 574.9L986.9 574.9L987.4 574.9L987.9 574.9L988.4 574.9L988.9 574.9L989.4 574.9L989.9 574.9L990.4 574.9L990.9 574.9L991.4 574.9L991.9 574.9L992.4 574.9L992.9 574.9L993.4 574.9L993.9 574.9L994.4 574.9L994.9 574.9L995.4 574.9L995.9 574.9L996.4 574.9L996.9 574.9L997.5 574.9L998.0 574.9L998.5 574.9L999.0 574.9L999.5 574.9L1000.0 574.9L1000.5 574.9L1001.0 574.9L1001.5 574.9L1002.0 574.9L1002.5 574.9L1003.0 574.9L1003.5 574.9L1004.0 574.9L1004.5 574.9L1005.0 574.7L1005.5 573.1L1006.0 566.9L1006.5 555.4L1007.0 548.7L1007.6 555.4L1008.1 566.9L1008.6 573.1L1009.1 574.7L1009.6 574.9L1010.1 574.9L1010.6 574.9L1011.1 574.9L1011.6 574.9L1012.1 574.9L1012.6 574.9L1013.1 574.9L1013.6 574.9L1014.1 574.9L1014.6 574.9L1015.1 574.9L1015.6 574.9L1016.1 574.9L1016.6 574.9L1017.1 574.9L1017.6 574.9L1018.2 574.9L1018.7 574.9L1019.2 574.9L1019.7 574.9L1020.2 574.9L1020.7 574.9L1021.2 574.9L1021.7 574.9L1022.2 574.9L1022.7 574.9L1023.2 574.9L1023.7 574.9L1024.2 574.9L1024.7 574.9L1025.2 574.9L1025.7 574.9L1026.2 574.9L1026.7 574.9L1027.2 574.9L1027.7 574.9L1028.3 574.9L1028.8 574.9L1029.3 574.8L1029.8 574.1L1030.3 568.9L1030.8 548.8L1031.3 511.4L1031.8 489.5L1032.3 511.4L1032.8 548.8L1033.3 568.9L1033.8 574.1L1034.3 574.8L1034.8 574.9L1035.3 574.9L1035.8 574.9L1036.3 574.9L1036.8 574.9L1037.3 574.9L1037.8 574.9L1038.3 574.9L1038.9 574.9L1039.4 574.9L1039.9 574.9L1040.4 574.9L1040.9 574.9L1041.4 574.7L1041.9 572.7L1042.4 557.3L1042.9 497.5L1043.4 386.9L1043.9 322.1L1044.4 386.9L1044.9 497.5L1045.4 557.3L1045.9 572.7L1046.4 574.7L1046.9 574.9L1047.4 574.9L1047.9 574.9L1048.4 574.9L1049.0 574.9L1049.5 574.9L1050.0 574.9L1050.5 574.9L1051.0 574.9L1051.5 574.9L1052.0 574.9L1052.5 574.9L1053.0 574.9L1053.5 574.9L1054.0 574.9L1054.5 574.9L1055.0 574.9L1055.5 574.9L1056.0 574.9L1056.5 574.9L1057.0 574.9L1057.5 574.9L1058.0 574.9L1058.5 574.9L1059.0 574.9L1059.6 574.9L1060.1 574.9L1060.6 574.9L1061.1 574.9L1061.6 574.9L1062.1 574.9L1062.6 574.9L1063.1 574.9L1063.6 574.9L1064.1 574.9L1064.6 574.9L1065.1 574.9L1065.6 574.9L1066.1 574.9L1066.6 574.9L1067.1 574.9L1067.6 574.9L1068.1 574.9L1068.6 574.9L1069.1 574.9L1069.7 574.9L1070.2 574.9L1070.7 574.9L1071.2 574.9L1071.7 574.9L1072.2 574.9L1072.7 574.9L1073.2 574.9L1073.7 574.9L1074.2 574.9L1074.7 574.9L1075.2 574.9L1075.7 574.9L1076.2 574.9L1076.7 574.9L1077.2 574.9L1077.7 574.9L1078.2 574.9L1078.7 574.9L1079.2 574.9L1079.7 574.9L1080.3 574.9L1080.8 574.9L1081.3 574.9L1081.8 574.9L1082.3 574.9L1082.8 574.9L1083.3 574.9L1083.8 574.9L1084.3 574.9L1084.8 574.9L1085.3 574.9L1085.8 574.9L1086.3 574.9L1086.8 574.9L1087.3 574.9L1087.8 574.9L1088.3 574.9L1088.8 574.9L1089.3 574.9L1089.8 574.9L1090.3 574.8L1090.9 574.4L1091.4 573.1L1091.9 570.4L1092.4 567.9L1092.9 567.9L1093.4 570.4L1093.9 573.1L1094.4 574.4L1094.9 574.8L1095.4 574.9L1095.9 574.9L1096.4 574.9L1096.9 574.9L1097.4 574.9L1097.9 574.9L1098.4 574.9L1098.9 574.9L1099.4 574.9L1099.9 574.9L1100.4 574.9L1101.0 574.9L1101.5 574.9L1102.0 574.9L1102.5 574.9L1103.0 574.9L1103.5 574.9L1104.0 574.9L1104.5 574.9L1105.0 574.9L1105.5 574.9L1106.0 574.9L1106.5 574.9L1107.0 574.9L1107.5 574.9L1108.0 574.9L1108.5 574.9L1109.0 574.9L1109.5 574.9L1110.0 574.9L1110.5 574.9L1111.0 574.9L1111.6 574.9L1112.1 574.9L1112.6 574.9L1113.1 574.9L1113.6 574.9L1114.1 574.9L1114.6 574.9L1115.1 574.9L1115.6 574.9L1116.1 574.9L1116.6 574.9L1117.1 574.9L1117.6 574.9L1118.1 574.9L1118.6 574.9L1119.1 574.9L1119.6 574.9L1120.1 574.9L1120.6 574.9L1121.1 574.9L1121.7 574.9L1122.2 574.9L1122.7 574.9L1123.2 574.9L1123.7 574.9L1124.2 574.9L1124.7 574.9L1125.2 574.9L1125.7 574.9L1126.2 574.9L1126.7 574.9L1127.2 574.9L1127.7 574.9L1128.2 574.9L1128.7 574.9L1129.2 574.9L1129.7 574.9L1130.2 574.9L1130.7 574.9L1131.2 574.9L1131.7 574.9L1132.3 574.9L1132.8 574.9L1133.3 574.9L1133.8 574.9L1134.3 574.9L1134.8 574.9L1135.3 574.9L1135.8 574.9L1136.3 574.9L1136.8 574.9L1137.3 574.9L1137.8 574.9L1138.3 574.9L1138.8 574.9L1139.3 574.9L1139.8 574.9L1140.3 574.9L1140.8 574.9L1141.3 574.9L1141.8 574.9L1142.4 574.9L1142.9 574.9L1143.4 574.9L1143.9 574.9L1144.4 574.9L1144.9 574.9L1145.4 574.9L1145.9 574.9L1146.4 574.9L1146.9 574.9L1147.4 574.9L1147.9 574.9L1148.4 574.9L1148.9 574.9L1149.4 574.9L1149.9 574.9L1150.4 574.9L1150.9 574.9L1151.4 574.9L1151.9 574.9L1152.4 574.9L1153.0 574.9L1153.5 574.9L1154.0 574.9L1154.5 574.9L1155.0 574.9L1155.5 574.9L1156.0 574.9L1156.5 574.9L1157.0 574.9L1157.5 574.9L1158.0 574.9L1158.5 574.9L1159.0 574.9L1159.5 574.9L1160.0 574.9L1160.5 574.9L1161.0 574.9L1161.5 574.9L1162.0 574.9L1162.5 574.9L1163.1 574.9L1163.6 574.9L1164.1 574.9L1164.6 574.9L1165.1 574.9L1165.6 574.9L1166.1 574.9L1166.6 574.9L1167.1 574.9L1167.6 574.9L1168.1 574.9L1168.6 574.9L1169.1 574.9L1169.6 574.9L1170.1 574.9L1170.6 574.9L1171.1 574.9L1171.6 574.9L1172.1 574.9L1172.6 574.9L1173.1 574.9L1173.7 574.9L1174.2 574.9L1174.7 574.9L1175.2 574.9L1175.7 574.9L1176.2 574.9L1176.7 574.9L1177.2 574.9L1177.7 574.9L1178.2 574.9L1178.7 574.9L1179.2 574.9L1179.7 574.9L1180.2 574.9L1180.7 574.9L1181.2 574.9L1181.7 574.9L1182.2 574.9L1182.7 574.9L1183.2 574.9L1183.7 574.9L1184.3 574.9L1184.8 574.9L1185.3 574.9L1185.8 574.9L1186.3 574.9L1186.8 574.9L1187.3 574.9L1187.8 574.9L1188.3 574.9L1188.8 574.9L1189.3 574.9L1189.8 574.9L1190.3 574.9L1190.8 574.9L1191.3 574.9L1191.8 574.9L1192.3 574.9L1192.8 574.9L1193.3 574.9L1193.8 574.9L1194.4 574.9L1194.9 574.9L1195.4 574.9L1195.9 574.9L1196.4 574.9L1196.9 574.9L1197.4 574.9L1197.9 574.9L1198.4 574.9L1198.9 574.9L1199.4 574.9L1199.9 574.9L1200.4 574.9L1200.9 574.9L1201.4 574.9L1201.9 574.9L1202.4 574.9L1202.9 574.9L1203.4 574.9L1203.9 574.9L1204.4 574.9L1205.0 574.9L1205.5 574.9L1206.0 574.9L1206.5 574.9L1207.0 574.9L1207.5 574.9L1208.0 574.9L1208.5 574.9L1209.0 574.9L1209.5 574.9L1210.0 574.9L1210.5 574.9L1211.0 574.9L1211.5 574.9L1212.0 574.9L1212.5 574.9L1213.0 574.9L1213.5 574.9L1214.0 574.9L1214.5 574.9L1215.1 574.9L1215.6 574.9L1216.1 574.9L1216.6 574.9L1217.1 574.9L1217.6 574.9L1218.1 574.9L1218.6 574.9L1219.1 574.9L1219.6 574.9L1220.1 574.9L1220.6 574.9L1221.1 574.9L1221.6 574.9L1222.1 574.9L1222.6 574.9L1223.1 574.9L1223.6 574.9L1224.1 574.9L1224.6 574.9L1225.1 574.9L1225.7 574.9L1226.2 574.9L1226.7 574.9L1227.2 574.9L1227.7 574.9L1228.2 574.9L1228.7 574.9L1229.2 574.9L1229.7 574.9L1230.2 574.9L1230.7 574.9L1231.2 574.9L1231.7 574.9L1232.2 574.9L1232.7 574.9L1233.2 574.9L1233.7 574.9L1234.2 574.9L1234.7 574.9L1235.2 574.9L1235.8 574.9L1236.3 574.9L1236.8 574.9L1237.3 574.9L1237.8 574.9L1238.3 574.9L1238.8 574.9L1239.3 574.9L1239.8 574.9L1240.3 574.9L1240.8 574.9L1241.3 574.9L1241.8 574.9L1242.3 574.9L1242.8 574.9L1243.3 574.9L1243.8 574.9L1244.3 574.9L1244.8 574.9L1245.3 574.9L1245.8 574.9L1246.4 574.9L1246.9 574.9L1247.4 574.9L1247.9 574.9L1248.4 574.9L1248.9 574.9L1249.4 574.9L1249.9 574.9L1250.4 574.9L1250.9 574.9L1251.4 574.9L1251.9 574.9L1252.4 574.9L1252.9 574.9L1253.4 574.9L1253.9 574.9L1254.4 574.9L1254.9 574.9L1255.4 574.9L1255.9 574.9L1256.5 574.9L1257.0 574.9L1257.5 574.9L1258.0 574.9L1258.5 574.9L1259.0 574.9L1259.5 574.9L1260.0 574.9L1260.5 574.8L1261.0 574.6L1261.5 574.0L1262.0 573.1L1262.5 571.9L1263.0 571.0L1263.5 571.0L1264.0 571.9L1264.5 573.1L1265.0 574.0L1265.5 574.6L1266.0 574.8L1266.5 574.9L1267.1 574.9L1267.6 574.9L1268.1 574.9L1268.6 574.9L1269.1 574.9L1269.6 574.9L1270.1 574.9L1270.6 574.9L1271.1 574.9L1271.6 574.9L1272.1 574.9L1272.6 574.9L1273.1 574.9L1273.6 574.9L1274.1 574.9L1274.6 574.9L1275.1 574.9L1275.6 574.9L1276.1 574.9L1276.6 574.9L1277.1 574.9L1277.7 574.9L1278.2 574.9L1278.7 574.9L1279.2 574.9L1279.7 574.9L1280.2 574.9L1280.7 574.9L1281.2 574.9L1281.7 574.9L1282.2 574.9L1282.7 574.9L1283.2 574.9L1283.7 574.9L1284.2 574.9L1284.7 574.9L1285.2 574.9L1285.7 574.9L1286.2 574.9L1286.7 574.9L1287.2 574.9L1287.8 574.9L1288.3 574.9L1288.8 574.9L1289.3 574.9L1289.8 574.9L1290.3 574.9L1290.8 574.9L1291.3 574.9L1291.8 574.9L1292.3 574.9L1292.8 574.9L1293.3 574.9L1293.8 574.9L1294.3 574.9L1294.8 574.9L1295.3 574.9L1295.8 574.9L1296.3 574.9L1296.8 574.9L1297.3 574.9L1297.8 574.9L1298.4 574.9L1298.9 574.9L1299.4 574.9L1299.9 574.9L1300.4 574.9L1300.9 574.9L1301.4 574.9L1301.9 574.9L1302.4 574.9L1302.9 574.9L1303.4 574.9L1303.9 574.9L1304.4 574.9L1304.9 574.9L1305.4 574.9L1305.9 574.9L1306.4 574.9L1306.9 574.9L1307.4 574.9L1307.9 574.9L1308.5 574.9L1309.0 574.9L1309.5 574.9L1310.0 574.9L1310.5 574.9L1311.0 574.9L1311.5 574.9L1312.0 574.9L1312.5 574.9L1313.0 574.9L1313.5 574.9L1314.0 574.9L1314.5 574.9L1315.0 574.9L1315.5 574.9L1316.0 574.9L1316.5 574.9L1317.0 574.9L1317.5 574.9L1318.0 574.9L1318.5 574.9L1319.1 574.9L1319.6 574.9L1320.1 574.9L1320.6 574.9L1321.1 574.9L1321.6 574.9L1322.1 574.9L1322.6 574.9L1323.1 574.9L1323.6 574.9L1324.1 574.9L1324.6 574.9L1325.1 574.9L1325.6 574.9L1326.1 574.9L1326.6 574.9L1327.1 574.9L1327.6 574.9L1328.1 574.9L1328.6 574.9L1329.2 574.9L1329.7 574.9L1330.2 574.9L1330.7 574.9L1331.2 574.9L1331.7 574.9L1332.2 574.9L1332.7 574.9L1333.2 574.9L1333.7 574.9L1334.2 574.9L1334.7 574.9L1335.2 574.9L1335.7 574.9L1336.2 574.9L1336.7 574.9L1337.2 574.9L1337.7 574.9L1338.2 574.9L1338.7 574.9L1339.2 574.9L1339.8 574.9L1340.3 574.9L1340.8 574.9L1341.3 574.9L1341.8 574.9L1342.3 574.9L1342.8 574.9L1343.3 574.9L1343.8 574.9L1344.3 574.9L1344.8 574.9L1345.3 574.9L1345.8 574.9L1346.3 574.9L1346.8 574.9L1347.3 574.9L1347.8 574.9L1348.3 574.9L1348.8 574.9L1349.3 574.9L1349.9 574.9L1350.4 574.9L1350.9 574.9L1351.4 574.9L1351.9 574.9L1352.4 574.9L1352.9 574.9L1353.4 574.9L1353.9 574.9L1354.4 574.9L1354.9 574.9L1355.4 574.9L1355.9 574.9L1356.4 574.9L1356.9 574.9L1357.4 574.9L1357.9 574.9L1358.4 574.9L1358.9 574.9L1359.4 574.9L1359.9 574.9L1360.5 574.9L1361.0 574.9L1361.5 574.9L1362.0 574.9L1362.5 574.9L1363.0 574.9L1363.5 574.9L1364.0 574.9L1364.5 574.9L1365.0 574.9L1365.5 574.9L1366.0 574.9L1366.5 574.9L1367.0 574.9L1367.5 574.9L1368.0 574.7L1368.5 573.5L1369.0 569.5L1369.5 561.9L1370.0 554.6L1370.5 554.6L1371.1 561.9L1371.6 569.5L1372.1 573.5L1372.6 574.7L1373.1 574.9L1373.6 574.9L1374.1 574.9L1374.6 574.9L1375.1 574.9L1375.6 574.9L1376.1 574.9L1376.6 574.9L1377.1 574.9L1377.6 574.9L1378.1 574.9L1378.6 574.9L1379.1 574.9L1379.6 574.9L1380.1 574.9L1380.6 574.9L1381.2 574.9L1381.7 574.9L1382.2 574.9L1382.7 574.9L1383.2 574.9L1383.7 574.9L1384.2 574.8L1384.7 574.5L1385.2 573.6L1385.7 571.6L1386.2 569.8L1386.7 569.8L1387.2 571.6L1387.7 573.6L1388.2 574.5L1388.7 574.8L1389.2 574.9L1389.7 574.9L1390.2 574.9L1390.7 574.9L1391.2 574.9L1391.8 574.9L1392.3 574.9L1392.8 574.9L1393.3 574.9L1393.8 574.9L1394.3 574.9L1394.8 574.9L1395.3 574.9L1395.8 574.9L1396.3 574.9L1396.8 574.9L1397.3 574.9L1397.8 574.9L1398.3 574.9L1398.8 574.9L1399.3 574.9L1399.8 574.9L1400.3 574.9L1400.8 574.9L1401.3 574.9L1401.9 574.9L1402.4 574.9L1402.9 574.9L1403.4 574.9L1403.9 574.9L1404.4 574.9L1404.9 574.9L1405.4 574.9L1405.9 574.9L1406.4 574.9L1406.9 574.9L1407.4 574.9L1407.9 574.9L1408.4 574.9L1408.9 574.9L1409.4 574.9L1409.9 574.9L1410.4 574.9L1410.9 574.9L1411.4 574.9L1411.9 574.9L1412.5 574.9L1413.0 574.9L1413.5 574.9L1414.0 574.9L1414.5 574.9L1415.0 574.9L1415.5 574.9L1416.0 574.9L1416.5 574.9L1417.0 574.9L1417.5 574.9L1418.0 574.9L1418.5 574.9L1419.0 574.9L1419.5 574.9L1420.0 574.9L1420.5 574.9L1421.0 574.9L1421.5 574.9L1422.0 574.9L1422.6 574.9L1423.1 574.9L1423.6 574.9L1424.1 574.9L1424.6 574.9L1425.1 574.9L1425.6 574.9L1426.1 574.9L1426.6 574.9L1427.1 574.9L1427.6 574.9L1428.1 574.9L1428.6 574.9L1429.1 574.9L1429.6 574.9L1430.1 574.9L1430.6 574.6L1431.1 572.7L1431.6 564.8L1432.1 546.9L1432.6 528.2L1433.2 528.2L1433.7 546.9L1434.2 564.7L1434.7 571.3L1435.2 566.0L1435.7 544.1L1436.2 508.8L1436.7 489.5L1437.2 508.8L1437.7 544.1L1438.2 566.3L1438.7 573.4L1439.2 574.5L1439.7 572.5L1440.2 560.4L1440.7 523.0L1441.2 463.4L1441.7 431.0L1442.2 463.4L1442.7 523.0L1443.3 560.4L1443.8 572.5L1444.3 574.7L1444.8 574.9L1445.3 574.9L1445.8 574.9L1446.3 574.9L1446.8 574.9L1447.3 574.9L1447.8 574.9L1448.3 574.9L1448.8 574.9L1449.3 574.9L1449.8 574.9L1450.3 574.9L1450.8 574.9L1451.3 574.9L1451.8 574.9L1452.3 574.9L1452.8 574.9L1453.3 574.9L1453.9 574.9L1454.4 574.9L1454.9 574.9L1455.4 574.9L1455.9 574.9L1456.4 574.9L1456.9 574.9L1457.4 574.9L1457.9 574.9L1458.4 574.9L1458.9 574.9L1459.4 574.9L1459.9 574.9L1460.4 574.9L1460.9 574.9L1461.4 574.9L1461.9 574.9L1462.4 574.9L1462.9 574.9L1463.4 574.9L1463.9 574.9L1464.5 574.9L1465.0 574.9L1465.5 574.9L1466.0 574.9L1466.5 574.9L1467.0 574.9L1467.5 574.9L1468.0 574.9L1468.5 574.9L1469.0 574.9L1469.5 574.9L1470.0 574.9L1470.5 574.9L1471.0 574.9L1471.5 574.9L1472.0 574.9L1472.5 574.9L1473.0 574.5L1473.5 572.4L1474.0 565.3L1474.6 551.7L1475.1 538.7L1475.6 538.7L1476.1 551.6L1476.6 565.2L1477.1 571.2L1477.6 569.0L1478.1 558.3L1478.6 542.6L1479.1 534.6L1479.6 542.6L1480.1 558.3L1480.6 569.4L1481.1 573.7L1481.6 574.7L1482.1 574.9L1482.6 574.9L1483.1 574.9L1483.6 574.9L1484.1 574.9L1484.6 574.9L1485.2 574.9L1485.7 574.9L1486.2 574.9L1486.7 574.9L1487.2 574.9L1487.7 574.9L1488.2 574.9L1488.7 574.9L1489.2 574.9L1489.7 574.9L1490.2 574.9L1490.7 574.9L1491.2 574.9L1491.7 574.9L1492.2 574.9L1492.7 574.9L1493.2 574.9L1493.7 574.9L1494.2 574.9L1494.7 574.9L1495.3 574.9L1495.8 574.9L1496.3 574.9L1496.8 574.9L1497.3 574.9L1497.8 574.9L1498.3 574.9L1498.8 574.9L1499.3 574.9L1499.8 574.9L1500.3 574.9L1500.8 574.9L1501.3 574.9L1501.8 574.9L1502.3 574.9L1502.8 574.9L1503.3 574.9L1503.8 574.9L1504.3 574.9L1504.8 574.9L1505.3 574.9L1505.9 574.9L1506.4 574.9L1506.9 574.9L1507.4 574.9L1507.9 574.9L1508.4 574.9L1508.9 574.9L1509.4 574.9L1509.9 574.9L1510.4 574.9L1510.9 574.9L1511.4 574.9L1511.9 574.9L1512.4 574.9L1512.9 574.9L1513.4 574.9L1513.9 574.9L1514.4 574.9L1514.9 574.9L1515.4 574.9L1516.0 574.9L1516.5 574.9L1517.0 574.9L1517.5 574.9L1518.0 574.9L1518.5 574.9L1519.0 574.9L1519.5 574.9L1520.0 574.9L1520.5 574.9L1521.0 574.9L1521.5 574.9L1522.0 574.9L1522.5 574.9L1523.0 574.9L1523.5 574.9L1524.0 574.9L1524.5 574.9L1525.0 574.9L1525.5 574.9L1526.0 574.9L1526.6 574.9L1527.1 574.9L1527.6 574.9L1528.1 574.9L1528.6 574.9L1529.1 574.9L1529.6 574.9L1530.1 574.9L1530.6 574.9L1531.1 574.9L1531.6 574.9L1532.1 574.9L1532.6 574.9L1533.1 574.9L1533.6 574.9L1534.1 574.9L1534.6 574.9L1535.1 574.9L1535.6 574.9L1536.1 574.9L1536.7 574.9L1537.2 574.9L1537.7 574.9L1538.2 574.9L1538.7 574.9L1539.2 574.9L1539.7 574.9L1540.2 574.9L1540.7 574.9L1541.2 574.9L1541.7 574.9L1542.2 574.9L1542.7 574.9L1543.2 574.9L1543.7 574.9L1544.2 574.9L1544.7 574.9L1545.2 574.9L1545.7 574.9L1546.2 574.9L1546.7 574.9" fill="none" stroke="#ff1a1a" stroke-width="2.2" stroke-dasharray="9,5,3,5" stroke-linejoin="round" />
<rect x="613.0" y="237.0" width="934.0" height="363.0" fill="none" stroke="#000" stroke-width="2.0"/>
<path d="M613.00 600.0v-3.63M613.00 237.0v3.63M638.24 600.0v-3.63M638.24 237.0v3.63M663.49 600.0v-3.63M663.49 237.0v3.63M688.73 600.0v-3.63M688.73 237.0v3.63M713.97 600.0v-3.63M713.97 237.0v3.63M739.22 600.0v-3.63M739.22 237.0v3.63M764.46 600.0v-3.63M764.46 237.0v3.63M789.70 600.0v-7.26M789.70 237.0v7.26M814.95 600.0v-3.63M814.95 237.0v3.63M840.19 600.0v-3.63M840.19 237.0v3.63M865.43 600.0v-3.63M865.43 237.0v3.63M890.68 600.0v-3.63M890.68 237.0v3.63M915.92 600.0v-3.63M915.92 237.0v3.63M941.16 600.0v-3.63M941.16 237.0v3.63M966.41 600.0v-3.63M966.41 237.0v3.63M991.65 600.0v-3.63M991.65 237.0v3.63M1016.89 600.0v-3.63M1016.89 237.0v3.63M1042.14 600.0v-7.26M1042.14 237.0v7.26M1067.38 600.0v-3.63M1067.38 237.0v3.63M1092.62 600.0v-3.63M1092.62 237.0v3.63M1117.86 600.0v-3.63M1117.86 237.0v3.63M1143.11 600.0v-3.63M1143.11 237.0v3.63M1168.35 600.0v-3.63M1168.35 237.0v3.63M1193.59 600.0v-3.63M1193.59 237.0v3.63M1218.84 600.0v-3.63M1218.84 237.0v3.63M1244.08 600.0v-3.63M1244.08 237.0v3.63M1269.32 600.0v-3.63M1269.32 237.0v3.63M1294.57 600.0v-7.26M1294.57 237.0v7.26M1319.81 600.0v-3.63M1319.81 237.0v3.63M1345.05 600.0v-3.63M1345.05 237.0v3.63M1370.30 600.0v-3.63M1370.30 237.0v3.63M1395.54 600.0v-3.63M1395.54 237.0v3.63M1420.78 600.0v-3.63M1420.78 237.0v3.63M1446.03 600.0v-3.63M1446.03 237.0v3.63M1471.27 600.0v-3.63M1471.27 237.0v3.63M1496.51 600.0v-3.63M1496.51 237.0v3.63M1521.76 600.0v-3.63M1521.76 237.0v3.63M1547.00 600.0v-7.26M1547.00 237.0v7.26M613.0 595.69h9.34M1547.0 595.69h-9.34M613.0 588.76h9.34M1547.0 588.76h-9.34M613.0 581.83h9.34M1547.0 581.83h-9.34M613.0 574.90h18.68M1547.0 574.90h-18.68M613.0 567.97h9.34M1547.0 567.97h-9.34M613.0 561.04h9.34M1547.0 561.04h-9.34M613.0 554.11h9.34M1547.0 554.11h-9.34M613.0 547.18h9.34M1547.0 547.18h-9.34M613.0 540.25h9.34M1547.0 540.25h-9.34M613.0 533.32h9.34M1547.0 533.32h-9.34M613.0 526.39h9.34M1547.0 526.39h-9.34M613.0 519.46h9.34M1547.0 519.46h-9.34M613.0 512.53h9.34M1547.0 512.53h-9.34M613.0 505.60h18.68M1547.0 505.60h-18.68M613.0 498.67h9.34M1547.0 498.67h-9.34M613.0 491.74h9.34M1547.0 491.74h-9.34M613.0 484.81h9.34M1547.0 484.81h-9.34M613.0 477.88h9.34M1547.0 477.88h-9.34M613.0 470.95h9.34M1547.0 470.95h-9.34M613.0 464.02h9.34M1547.0 464.02h-9.34M613.0 457.09h9.34M1547.0 457.09h-9.34M613.0 450.16h9.34M1547.0 450.16h-9.34M613.0 443.23h9.34M1547.0 443.23h-9.34M613.0 436.30h18.68M1547.0 436.30h-18.68M613.0 429.37h9.34M1547.0 429.37h-9.34M613.0 422.44h9.34M1547.0 422.44h-9.34M613.0 415.51h9.34M1547.0 415.51h-9.34M613.0 408.58h9.34M1547.0 408.58h-9.34M613.0 401.65h9.34M1547.0 401.65h-9.34M613.0 394.72h9.34M1547.0 394.72h-9.34M613.0 387.79h9.34M1547.0 387.79h-9.34M613.0 380.86h9.34M1547.0 380.86h-9.34M613.0 373.93h9.34M1547.0 373.93h-9.34M613.0 367.00h18.68M1547.0 367.00h-18.68M613.0 360.07h9.34M1547.0 360.07h-9.34M613.0 353.14h9.34M1547.0 353.14h-9.34M613.0 346.21h9.34M1547.0 346.21h-9.34M613.0 339.28h9.34M1547.0 339.28h-9.34M613.0 332.35h9.34M1547.0 332.35h-9.34M613.0 325.42h9.34M1547.0 325.42h-9.34M613.0 318.49h9.34M1547.0 318.49h-9.34M613.0 311.56h9.34M1547.0 311.56h-9.34M613.0 304.63h9.34M1547.0 304.63h-9.34M613.0 297.70h18.68M1547.0 297.70h-18.68M613.0 290.77h9.34M1547.0 290.77h-9.34M613.0 283.84h9.34M1547.0 283.84h-9.34M613.0 276.91h9.34M1547.0 276.91h-9.34M613.0 269.98h9.34M1547.0 269.98h-9.34M613.0 263.05h9.34M1547.0 263.05h-9.34M613.0 256.12h9.34M1547.0 256.12h-9.34M613.0 249.19h9.34M1547.0 249.19h-9.34M613.0 242.26h9.34M1547.0 242.26h-9.34" stroke="#000" stroke-width="2.0" fill="none"/>
<path d="M635.5 262.2H722.7" stroke="#000" stroke-width="3.4"/>
<path d="M635.5 286.4H722.7" stroke="#ff1a1a" stroke-width="3.0" stroke-dasharray="12.7,5.2,3.7,5.2"/>
<path d="M635.5 310.2H722.7" stroke="#000" stroke-width="3.0" stroke-dasharray="3,5.27"/>
<path d="M635.5 334.2H722.7" stroke="#1057f0" stroke-width="3.0"/>
<rect x="145.5" y="681.0" width="354.0" height="425.0" fill="none" stroke="#000" stroke-width="2.0"/>
<path d="M145.50 1106.0v-4.25M145.50 681.0v4.25M169.10 1106.0v-4.25M169.10 681.0v4.25M192.70 1106.0v-8.50M192.70 681.0v8.50M216.30 1106.0v-4.25M216.30 681.0v4.25M239.90 1106.0v-4.25M239.90 681.0v4.25M263.50 1106.0v-4.25M263.50 681.0v4.25M287.10 1106.0v-8.50M287.10 681.0v8.50M310.70 1106.0v-4.25M310.70 681.0v4.25M334.30 1106.0v-4.25M334.30 681.0v4.25M357.90 1106.0v-4.25M357.90 681.0v4.25M381.50 1106.0v-8.50M381.50 681.0v8.50M405.10 1106.0v-4.25M405.10 681.0v4.25M428.70 1106.0v-4.25M428.70 681.0v4.25M452.30 1106.0v-4.25M452.30 681.0v4.25M475.90 1106.0v-8.50M475.90 681.0v8.50M499.50 1106.0v-4.25M499.50 681.0v4.25M145.5 1106.00h7.08M499.5 1106.00h-7.08M145.5 1084.75h3.54M499.5 1084.75h-3.54M145.5 1063.50h3.54M499.5 1063.50h-3.54M145.5 1042.25h3.54M499.5 1042.25h-3.54M145.5 1021.00h7.08M499.5 1021.00h-7.08M145.5 999.75h3.54M499.5 999.75h-3.54M145.5 978.50h3.54M499.5 978.50h-3.54M145.5 957.25h3.54M499.5 957.25h-3.54M145.5 936.00h7.08M499.5 936.00h-7.08M145.5 914.75h3.54M499.5 914.75h-3.54M145.5 893.50h3.54M499.5 893.50h-3.54M145.5 872.25h3.54M499.5 872.25h-3.54M145.5 851.00h7.08M499.5 851.00h-7.08M145.5 829.75h3.54M499.5 829.75h-3.54M145.5 808.50h3.54M499.5 808.50h-3.54M145.5 787.25h3.54M499.5 787.25h-3.54M145.5 766.00h7.08M499.5 766.00h-7.08M145.5 744.75h3.54M499.5 744.75h-3.54M145.5 723.50h3.54M499.5 723.50h-3.54M145.5 702.25h3.54M499.5 702.25h-3.54M145.5 681.00h7.08M499.5 681.00h-7.08" stroke="#000" stroke-width="2.0" fill="none"/>
<clipPath id="cm"><rect x="599.0" y="681.0" width="354.0" height="425.0"/></clipPath>
<path d="M630.9 692.9V1106" stroke="#222" stroke-width="1.2" stroke-dasharray="11.8,11.9"/>
<path d="M785.7 692.9V1106" stroke="#222" stroke-width="1.2" stroke-dasharray="11.8,11.9"/>
<path d="M872.5 692.9V1106" stroke="#222" stroke-width="1.2" stroke-dasharray="11.8,11.9"/>
<path d="M914.9 692.9V1106" stroke="#222" stroke-width="1.2" stroke-dasharray="11.8,11.9"/>
<g clip-path="url(#cm)">
<path d="M599.0 987.1L601.3 987.5L603.6 988.1L605.9 988.5L608.2 987.5L610.5 987.1L612.8 987.6L615.1 988.5L617.4 988.7L619.7 987.9L622.0 987.7L624.3 987.8L626.6 988.2L628.9 988.1L631.2 988.3L633.5 988.2L635.8 988.1L638.1 987.3L640.4 987.3L642.7 987.1L645.0 988.0L647.3 987.7L649.6 988.0L651.9 987.8L654.2 988.1L656.5 987.8L658.8 987.8L661.1 987.4L663.4 987.2L665.7 986.5L668.0 986.3L670.3 987.3L672.6 987.7L674.9 988.5L677.2 987.7L679.5 987.8L681.8 987.5L684.1 987.7L686.4 987.9L688.7 988.0L691.0 988.4L693.3 987.4L695.6 987.6L697.9 987.4L700.2 988.7L702.5 989.1L704.8 989.4L707.1 988.5L709.4 987.7L711.7 987.3L714.0 987.8L716.4 987.4L718.7 987.9L721.0 988.0L723.3 988.5L725.6 988.4L727.9 988.0L730.2 987.9L732.5 987.5L734.8 987.5L737.1 987.8L739.4 988.0L741.7 989.3L744.0 989.8L746.3 989.5L748.6 989.0L750.9 988.8L753.2 988.7L755.5 987.6L757.8 987.9L760.1 988.2L762.4 988.6L764.7 987.9L767.0 988.2L769.3 987.6L771.6 988.1L773.9 987.2L776.2 987.9L778.5 987.5L780.8 987.3L783.1 987.0L785.4 987.1L787.7 988.0L790.0 988.5L792.3 989.1L794.6 988.0L796.9 988.3L799.2 988.7L801.5 988.9L803.8 987.8L806.1 987.0L808.4 987.3L810.7 988.1L813.0 988.2L815.3 988.3L817.6 987.8L819.9 987.8L822.2 987.4L824.5 987.3L826.8 987.1L829.1 988.1L831.4 988.3L833.7 988.5L836.0 988.1L838.3 987.8L840.6 987.9L842.9 987.8L845.2 987.8L847.5 987.5L849.8 986.7L852.1 987.6L854.4 987.8L856.7 989.0L859.0 988.4L861.3 987.5L863.6 987.7L865.9 987.8L868.2 988.4L870.5 987.8L872.8 987.4L875.1 988.2L877.4 987.8L879.7 988.5L882.0 988.4L884.3 988.5L886.6 988.0L888.9 987.9L891.2 988.4L893.5 988.6L895.8 988.3L898.1 988.1L900.4 988.4L902.7 989.2L905.0 988.7L907.3 988.3L909.6 987.9L911.9 988.9L914.2 989.2L916.5 988.9L918.8 989.1L921.1 988.4L923.4 988.1L925.7 987.4L928.0 987.8L930.3 987.9L932.6 987.4L934.9 987.5L937.2 987.1L939.5 986.9L941.8 987.1L944.1 987.7L946.5 988.6L948.8 988.5L951.1 988.6L953.4 988.4" fill="none" stroke="#000" stroke-width="1.2" stroke-dasharray="1.2,3" stroke-linejoin="round" />
<path d="M599.0 988.0L599.4 988.0L599.9 988.0L600.3 988.0L600.8 988.0L601.2 988.0L601.7 988.0L602.1 988.0L602.5 988.0L603.0 988.0L603.4 988.0L603.9 988.0L604.3 988.0L604.8 988.0L605.2 988.0L605.6 988.0L606.1 988.0L606.5 988.0L607.0 988.0L607.4 988.0L607.9 988.0L608.3 988.0L608.7 988.0L609.2 988.0L609.6 988.0L610.1 988.0L610.5 988.0L610.9 988.0L611.4 988.0L611.8 988.0L612.3 988.0L612.7 988.0L613.2 988.0L613.6 988.0L614.0 988.0L614.5 988.0L614.9 988.0L615.4 988.0L615.8 988.0L616.3 988.0L616.7 988.0L617.1 988.0L617.6 988.0L618.0 988.0L618.5 988.0L618.9 988.0L619.4 988.0L619.8 988.0L620.2 988.0L620.7 988.0L621.1 988.0L621.6 988.0L622.0 987.9L622.5 987.9L622.9 987.9L623.3 987.8L623.8 987.7L624.2 987.6L624.7 987.5L625.1 987.4L625.5 987.2L626.0 987.0L626.4 986.8L626.9 986.6L627.3 986.3L627.8 986.0L628.2 985.8L628.6 985.5L629.1 985.3L629.5 985.1L630.0 985.0L630.4 984.9L630.9 984.8L631.3 984.9L631.7 985.0L632.2 985.1L632.6 985.3L633.1 985.5L633.5 985.8L634.0 986.0L634.4 986.3L634.8 986.6L635.3 986.8L635.7 987.0L636.2 987.2L636.6 987.4L637.1 987.5L637.5 987.6L637.9 987.7L638.4 987.8L638.8 987.9L639.3 987.9L639.7 987.9L640.2 988.0L640.6 988.0L641.0 988.0L641.5 988.0L641.9 988.0L642.4 988.0L642.8 988.0L643.2 988.0L643.7 988.0L644.1 988.0L644.6 988.0L645.0 988.0L645.5 988.0L645.9 988.0L646.3 988.0L646.8 988.0L647.2 988.0L647.7 988.0L648.1 988.0L648.6 988.0L649.0 988.0L649.4 988.0L649.9 988.0L650.3 988.0L650.8 988.0L651.2 988.0L651.7 988.0L652.1 988.0L652.5 988.0L653.0 988.0L653.4 988.0L653.9 988.0L654.3 988.0L654.8 988.0L655.2 988.0L655.6 988.0L656.1 988.0L656.5 988.0L657.0 988.0L657.4 988.0L657.9 988.0L658.3 988.0L658.7 988.0L659.2 988.0L659.6 988.0L660.1 988.0L660.5 988.0L661.0 988.0L661.4 988.0L661.8 988.0L662.3 988.0L662.7 988.0L663.2 988.0L663.6 988.0L664.0 988.0L664.5 988.0L664.9 988.0L665.4 988.0L665.8 988.0L666.3 988.0L666.7 988.0L667.1 988.0L667.6 988.0L668.0 988.0L668.5 988.0L668.9 988.0L669.4 988.0L669.8 988.0L670.2 988.0L670.7 988.0L671.1 988.0L671.6 988.0L672.0 988.0L672.5 988.0L672.9 988.0L673.3 988.0L673.8 988.0L674.2 988.0L674.7 988.0L675.1 988.0L675.6 988.0L676.0 988.0L676.4 988.0L676.9 988.0L677.3 988.0L677.8 988.0L678.2 988.0L678.6 988.0L679.1 988.0L679.5 988.0L680.0 988.0L680.4 988.0L680.9 988.0L681.3 988.0L681.7 988.0L682.2 988.0L682.6 988.0L683.1 988.0L683.5 988.0L684.0 988.0L684.4 988.0L684.8 988.0L685.3 988.0L685.7 988.0L686.2 988.0L686.6 988.0L687.1 988.0L687.5 988.0L687.9 988.0L688.4 988.0L688.8 988.0L689.3 988.0L689.7 988.0L690.2 988.0L690.6 988.0L691.0 988.0L691.5 988.0L691.9 988.0L692.4 988.0L692.8 988.0L693.3 988.0L693.7 988.0L694.1 988.0L694.6 988.0L695.0 988.0L695.5 988.0L695.9 988.0L696.4 988.0L696.8 988.0L697.2 988.0L697.7 988.0L698.1 988.0L698.6 988.0L699.0 988.0L699.4 988.0L699.9 988.0L700.3 988.0L700.8 988.0L701.2 988.0L701.7 988.0L702.1 988.0L702.5 988.0L703.0 988.0L703.4 988.0L703.9 988.0L704.3 988.0L704.8 988.0L705.2 988.0L705.6 988.0L706.1 988.0L706.5 988.0L707.0 988.0L707.4 988.0L707.9 988.0L708.3 988.0L708.7 988.0L709.2 988.0L709.6 988.0L710.1 988.0L710.5 988.0L711.0 988.0L711.4 988.0L711.8 988.0L712.3 988.0L712.7 988.0L713.2 988.0L713.6 988.0L714.0 988.0L714.5 988.0L714.9 988.0L715.4 988.0L715.8 988.0L716.3 988.0L716.7 988.0L717.1 988.0L717.6 988.0L718.0 988.0L718.5 988.0L718.9 988.0L719.4 988.0L719.8 988.0L720.2 988.0L720.7 988.0L721.1 988.0L721.6 988.0L722.0 988.0L722.5 988.0L722.9 988.0L723.3 988.0L723.8 988.0L724.2 988.0L724.7 988.0L725.1 988.0L725.6 988.0L726.0 988.0L726.4 988.0L726.9 988.0L727.3 988.0L727.8 988.0L728.2 988.0L728.7 988.0L729.1 988.0L729.5 988.0L730.0 988.0L730.4 988.0L730.9 988.0L731.3 988.0L731.8 988.0L732.2 988.0L732.6 988.0L733.1 988.0L733.5 988.0L734.0 988.0L734.4 988.0L734.8 988.0L735.3 988.0L735.7 988.0L736.2 988.0L736.6 988.0L737.1 988.0L737.5 988.0L737.9 988.0L738.4 988.0L738.8 988.0L739.3 988.0L739.7 988.0L740.2 988.0L740.6 988.0L741.0 988.0L741.5 988.0L741.9 988.0L742.4 988.0L742.8 988.0L743.3 988.0L743.7 988.0L744.1 988.0L744.6 988.0L745.0 988.0L745.5 988.0L745.9 988.0L746.4 988.0L746.8 988.0L747.2 988.0L747.7 988.0L748.1 988.0L748.6 988.0L749.0 988.0L749.5 988.0L749.9 988.0L750.3 988.0L750.8 988.0L751.2 988.0L751.7 988.0L752.1 988.0L752.5 988.0L753.0 988.0L753.4 988.0L753.9 988.0L754.3 988.0L754.8 988.0L755.2 988.0L755.6 988.0L756.1 988.0L756.5 988.0L757.0 988.0L757.4 988.0L757.9 988.0L758.3 988.0L758.7 988.0L759.2 988.0L759.6 988.0L760.1 988.0L760.5 988.0L761.0 988.0L761.4 988.0L761.8 988.0L762.3 988.0L762.7 988.0L763.2 988.0L763.6 988.0L764.1 988.0L764.5 988.0L764.9 988.0L765.4 988.0L765.8 988.0L766.3 988.0L766.7 988.0L767.1 988.0L767.6 988.0L768.0 988.0L768.5 988.0L768.9 988.0L769.4 988.0L769.8 988.0L770.2 988.0L770.7 988.0L771.1 988.0L771.6 988.0L772.0 988.0L772.5 988.0L772.9 988.0L773.3 988.0L773.8 988.0L774.2 988.0L774.7 988.0L775.1 988.0L775.6 987.9L776.0 987.9L776.4 987.9L776.9 987.8L777.3 987.6L777.8 987.4L778.2 987.2L778.7 986.8L779.1 986.2L779.5 985.5L780.0 984.6L780.4 983.5L780.9 982.2L781.3 980.6L781.8 978.8L782.2 976.8L782.6 974.7L783.1 972.6L783.5 970.5L784.0 968.6L784.4 966.9L784.9 965.7L785.3 964.9L785.7 964.7L786.2 964.9L786.6 965.7L787.1 966.9L787.5 968.6L787.9 970.5L788.4 972.6L788.8 974.7L789.3 976.8L789.7 978.8L790.2 980.6L790.6 982.2L791.0 983.5L791.5 984.6L791.9 985.5L792.4 986.2L792.8 986.8L793.3 987.2L793.7 987.4L794.1 987.6L794.6 987.8L795.0 987.9L795.5 987.9L795.9 987.9L796.4 988.0L796.8 988.0L797.2 988.0L797.7 988.0L798.1 988.0L798.6 988.0L799.0 988.0L799.5 988.0L799.9 988.0L800.3 988.0L800.8 988.0L801.2 988.0L801.7 988.0L802.1 988.0L802.5 988.0L803.0 988.0L803.4 988.0L803.9 988.0L804.3 988.0L804.8 988.0L805.2 988.0L805.6 988.0L806.1 988.0L806.5 988.0L807.0 988.0L807.4 988.0L807.9 988.0L808.3 988.0L808.7 988.0L809.2 988.0L809.6 988.0L810.1 988.0L810.5 988.0L811.0 988.0L811.4 988.0L811.8 988.0L812.3 988.0L812.7 988.0L813.2 988.0L813.6 988.0L814.1 988.0L814.5 988.0L814.9 988.0L815.4 988.0L815.8 988.0L816.3 988.0L816.7 988.0L817.2 988.0L817.6 988.0L818.0 988.0L818.5 988.0L818.9 988.0L819.4 988.0L819.8 988.0L820.2 988.0L820.7 988.0L821.1 988.0L821.6 988.0L822.0 988.0L822.5 988.0L822.9 988.0L823.3 988.0L823.8 988.0L824.2 988.0L824.7 988.0L825.1 988.0L825.6 988.0L826.0 988.0L826.4 988.0L826.9 988.0L827.3 988.0L827.8 988.0L828.2 988.0L828.7 988.0L829.1 988.0L829.5 988.0L830.0 988.0L830.4 988.0L830.9 988.0L831.3 988.0L831.8 988.0L832.2 988.0L832.6 988.0L833.1 988.0L833.5 988.0L834.0 988.0L834.4 988.0L834.9 988.0L835.3 988.0L835.7 988.0L836.2 988.0L836.6 988.0L837.1 988.0L837.5 988.0L838.0 988.0L838.4 988.0L838.8 988.0L839.3 988.0L839.7 988.0L840.2 988.0L840.6 988.0L841.0 988.0L841.5 988.0L841.9 988.0L842.4 988.0L842.8 988.0L843.3 988.0L843.7 988.0L844.1 988.0L844.6 988.0L845.0 988.0L845.5 988.0L845.9 988.0L846.4 988.0L846.8 988.0L847.2 988.0L847.7 988.0L848.1 988.0L848.6 988.0L849.0 988.0L849.5 988.0L849.9 988.0L850.3 988.0L850.8 988.0L851.2 988.0L851.7 988.0L852.1 988.0L852.6 988.0L853.0 988.0L853.4 988.0L853.9 988.0L854.3 988.0L854.8 988.0L855.2 988.0L855.6 988.0L856.1 988.0L856.5 988.0L857.0 988.0L857.4 988.0L857.9 988.0L858.3 988.0L858.7 988.0L859.2 988.0L859.6 988.0L860.1 988.0L860.5 988.0L861.0 987.9L861.4 987.9L861.8 987.8L862.3 987.6L862.7 987.4L863.2 987.1L863.6 986.7L864.1 986.0L864.5 985.2L864.9 983.9L865.4 982.3L865.8 980.2L866.3 977.5L866.7 974.2L867.2 970.1L867.6 965.4L868.0 960.0L868.5 954.0L868.9 947.6L869.4 940.9L869.8 934.2L870.3 927.9L870.7 922.1L871.1 917.2L871.6 913.5L872.0 911.2L872.5 910.4L872.9 911.2L873.4 913.5L873.8 917.2L874.2 922.1L874.7 927.9L875.1 934.2L875.6 940.9L876.0 947.6L876.4 954.0L876.9 960.0L877.3 965.4L877.8 970.1L878.2 974.2L878.7 977.5L879.1 980.2L879.5 982.3L880.0 983.9L880.4 985.2L880.9 986.0L881.3 986.7L881.8 987.1L882.2 987.4L882.6 987.6L883.1 987.8L883.5 987.9L884.0 987.9L884.4 988.0L884.9 988.0L885.3 988.0L885.7 988.0L886.2 988.0L886.6 988.0L887.1 988.0L887.5 988.0L888.0 988.0L888.4 988.0L888.8 988.0L889.3 988.0L889.7 988.0L890.2 988.0L890.6 988.0L891.0 988.0L891.5 988.0L891.9 988.0L892.4 988.0L892.8 988.0L893.3 988.0L893.7 988.0L894.1 988.0L894.6 988.0L895.0 988.0L895.5 988.0L895.9 988.0L896.4 988.0L896.8 988.0L897.2 988.0L897.7 988.0L898.1 988.0L898.6 988.0L899.0 988.0L899.5 988.0L899.9 988.0L900.3 988.0L900.8 988.0L901.2 988.0L901.7 988.0L902.1 988.0L902.6 987.9L903.0 987.9L903.4 987.8L903.9 987.6L904.3 987.4L904.8 987.0L905.2 986.4L905.7 985.5L906.1 984.2L906.5 982.4L907.0 979.8L907.4 976.2L907.9 971.5L908.3 965.4L908.8 957.6L909.2 948.0L909.6 936.3L910.1 922.6L910.5 907.0L911.0 889.7L911.4 871.1L911.8 851.8L912.3 832.4L912.7 813.9L913.2 797.2L913.6 783.1L914.1 772.3L914.5 765.6L914.9 763.4L915.4 765.6L915.8 772.3L916.3 783.1L916.7 797.2L917.2 813.9L917.6 832.4L918.0 851.8L918.5 871.1L918.9 889.7L919.4 907.0L919.8 922.6L920.3 936.3L920.7 948.0L921.1 957.6L921.6 965.4L922.0 971.5L922.5 976.2L922.9 979.8L923.4 982.4L923.8 984.2L924.2 985.5L924.7 986.4L925.1 987.0L925.6 987.4L926.0 987.6L926.5 987.8L926.9 987.9L927.3 987.9L927.8 988.0L928.2 988.0L928.7 988.0L929.1 988.0L929.5 988.0L930.0 988.0L930.4 988.0L930.9 988.0L931.3 988.0L931.8 988.0L932.2 988.0L932.6 988.0L933.1 988.0L933.5 988.0L934.0 988.0L934.4 988.0L934.9 988.0L935.3 988.0L935.7 988.0L936.2 988.0L936.6 988.0L937.1 988.0L937.5 988.0L938.0 988.0L938.4 988.0L938.8 988.0L939.3 988.0L939.7 988.0L940.2 988.0L940.6 988.0L941.1 988.0L941.5 988.0L941.9 988.0L942.4 988.0L942.8 988.0L943.3 988.0L943.7 988.0L944.1 988.0L944.6 988.0L945.0 988.0L945.5 988.0L945.9 988.0L946.4 988.0L946.8 988.0L947.2 988.0L947.7 988.0L948.1 988.0L948.6 988.0L949.0 988.0L949.5 988.0L949.9 988.0L950.3 988.0L950.8 988.0L951.2 988.0L951.7 988.0L952.1 988.0L952.6 988.0L953.0 988.0" fill="none" stroke="#ff1a1a" stroke-width="2.3" stroke-dasharray="8,4" stroke-linejoin="round" />
<path d="M597.8 986.1L600.2 986.1L600.2 987.0L602.5 987.0L602.5 988.2L604.8 988.2L604.8 988.9L607.1 988.9L607.1 987.1L609.4 987.1L609.4 986.2L611.7 986.2L611.7 987.2L614.0 987.2L614.0 989.0L616.3 989.0L616.3 989.4L618.6 989.4L618.6 987.8L620.9 987.8L620.9 987.2L623.2 987.2L623.2 987.2L625.5 987.2L625.5 987.2L627.8 987.2L627.8 985.9L630.1 985.9L630.1 985.7L632.4 985.7L632.4 986.3L634.7 986.3L634.7 987.4L637.0 987.4L637.0 986.4L639.3 986.4L639.3 986.6L641.6 986.6L641.6 986.1L643.9 986.1L643.9 988.0L646.2 988.0L646.2 987.4L648.5 987.4L648.5 987.9L650.8 987.9L650.8 987.6L653.1 987.6L653.1 988.2L655.4 988.2L655.4 987.7L657.7 987.7L657.7 987.5L660.0 987.5L660.0 986.8L662.3 986.8L662.3 986.3L664.6 986.3L664.6 985.0L666.9 985.0L666.9 984.5L669.2 984.5L669.2 986.5L671.5 986.5L671.5 987.4L673.8 987.4L673.8 989.1L676.1 989.1L676.1 987.5L678.4 987.5L678.4 987.7L680.7 987.7L680.7 987.0L683.0 987.0L683.0 987.4L685.3 987.4L685.3 987.9L687.6 987.9L687.6 987.9L689.9 987.9L689.9 988.8L692.2 988.8L692.2 986.9L694.5 986.9L694.5 987.3L696.8 987.3L696.8 986.7L699.1 986.7L699.1 989.5L701.4 989.5L701.4 990.2L703.7 990.2L703.7 990.8L706.0 990.8L706.0 989.0L708.3 989.0L708.3 987.4L710.6 987.4L710.6 986.6L712.9 986.6L712.9 987.6L715.2 987.6L715.2 986.9L717.5 986.9L717.5 987.8L719.8 987.8L719.8 987.9L722.1 987.9L722.1 988.9L724.4 988.9L724.4 988.9L726.7 988.9L726.7 988.1L729.0 988.1L729.0 987.7L731.3 987.7L731.3 987.1L733.6 987.1L733.6 987.0L735.9 987.0L735.9 987.7L738.2 987.7L738.2 988.1L740.5 988.1L740.5 990.6L742.8 990.6L742.8 991.5L745.1 991.5L745.1 991.1L747.4 991.1L747.4 990.0L749.7 990.0L749.7 989.5L752.0 989.5L752.0 989.4L754.3 989.4L754.3 987.2L756.6 987.2L756.6 987.8L758.9 987.8L758.9 988.3L761.2 988.3L761.2 989.1L763.5 989.1L763.5 987.8L765.8 987.8L765.8 988.4L768.1 988.4L768.1 987.2L770.4 987.2L770.4 988.2L772.7 988.2L772.7 986.4L775.0 986.4L775.0 987.8L777.3 987.8L777.3 986.4L779.6 986.4L779.6 982.2L781.9 982.2L781.9 970.6L784.2 970.6L784.2 961.1L786.5 961.1L786.5 968.8L788.8 968.8L788.8 982.0L791.1 982.0L791.1 988.9L793.4 988.9L793.4 987.9L795.7 987.9L795.7 988.6L798.0 988.6L798.0 989.4L800.3 989.4L800.3 989.7L802.6 989.7L802.6 987.7L804.9 987.7L804.9 986.1L807.2 986.1L807.2 986.7L809.5 986.7L809.5 988.2L811.8 988.2L811.8 988.3L814.1 988.3L814.1 988.6L816.4 988.6L816.4 987.7L818.7 987.7L818.7 987.6L821.0 987.6L821.0 986.8L823.3 986.8L823.3 986.6L825.6 986.6L825.6 986.1L827.9 986.1L827.9 988.1L830.3 988.1L830.3 988.6L832.6 988.6L832.6 988.9L834.9 988.9L834.9 988.1L837.2 988.1L837.2 987.6L839.5 987.6L839.5 987.8L841.8 987.8L841.8 987.6L844.1 987.6L844.1 987.6L846.4 987.6L846.4 986.9L848.7 986.9L848.7 985.4L851.0 985.4L851.0 987.3L853.3 987.3L853.3 987.6L855.6 987.6L855.6 990.1L857.9 990.1L857.9 988.9L860.2 988.9L860.2 987.0L862.5 987.0L862.5 986.7L864.8 986.7L864.8 981.9L867.1 981.9L867.1 962.2L869.4 962.2L869.4 922.8L871.7 922.8L871.7 905.3L874.0 905.3L874.0 935.5L876.3 935.5L876.3 970.0L878.6 970.0L878.6 986.0L880.9 986.0L880.9 988.5L883.2 988.5L883.2 989.1L885.5 989.1L885.5 988.1L887.8 988.1L887.8 987.7L890.1 987.7L890.1 988.7L892.4 988.7L892.4 989.2L894.7 989.2L894.7 988.7L897.0 988.7L897.0 988.2L899.3 988.2L899.3 988.8L901.6 988.8L901.6 990.5L903.9 990.5L903.9 988.9L906.2 988.9L906.2 981.9L908.5 981.9L908.5 945.3L910.8 945.3L910.8 849.9L913.1 849.9L913.1 752.0L915.4 752.0L915.4 779.8L917.7 779.8L917.7 894.7L920.0 894.7L920.0 966.3L922.3 966.3L922.3 985.4L924.6 985.4L924.6 986.7L926.9 986.7L926.9 987.6L929.2 987.6L929.2 987.8L931.5 987.8L931.5 986.8L933.8 986.8L933.8 986.9L936.1 986.9L936.1 986.2L938.4 986.2L938.4 985.8L940.7 985.8L940.7 986.2L943.0 986.2L943.0 987.4L945.3 987.4L945.3 989.2L947.6 989.2L947.6 989.1L949.9 989.1L949.9 989.3L952.2 989.3L952.2 988.8L954.5 988.8" fill="none" stroke="#000" stroke-width="1.8" stroke-linejoin="round" />
<path d="M590.1 1096.6L961.8 1096.6" fill="none" stroke="#1057f0" stroke-width="2.6" stroke-linejoin="round" />
<path d="M617.6 1096.6L617.8 1096.6L618.0 1096.6L618.2 1096.6L618.5 1096.6L618.7 1096.6L618.9 1096.6L619.1 1096.6L619.4 1096.6L619.6 1096.6L619.8 1096.6L620.0 1096.6L620.2 1096.6L620.5 1096.6L620.7 1096.6L620.9 1096.6L621.1 1096.6L621.3 1096.6L621.6 1096.6L621.8 1096.6L622.0 1096.6L622.2 1096.6L622.5 1096.6L622.7 1096.6L622.9 1096.6L623.1 1096.5L623.3 1096.5L623.6 1096.5L623.8 1096.5L624.0 1096.5L624.2 1096.4L624.4 1096.4L624.7 1096.4L624.9 1096.3L625.1 1096.3L625.3 1096.2L625.5 1096.1L625.8 1096.0L626.0 1095.9L626.2 1095.8L626.4 1095.7L626.7 1095.6L626.9 1095.5L627.1 1095.3L627.3 1095.2L627.5 1095.0L627.8 1094.8L628.0 1094.7L628.2 1094.5L628.4 1094.3L628.6 1094.1L628.9 1094.0L629.1 1093.8L629.3 1093.7L629.5 1093.5L629.8 1093.4L630.0 1093.3L630.2 1093.2L630.4 1093.2L630.6 1093.1L630.9 1093.1L631.1 1093.1L631.3 1093.2L631.5 1093.2L631.7 1093.3L632.0 1093.4L632.2 1093.5L632.4 1093.7L632.6 1093.8L632.9 1094.0L633.1 1094.1L633.3 1094.3L633.5 1094.5L633.7 1094.7L634.0 1094.8L634.2 1095.0L634.4 1095.2L634.6 1095.3L634.8 1095.5L635.1 1095.6L635.3 1095.7L635.5 1095.8L635.7 1095.9L635.9 1096.0L636.2 1096.1L636.4 1096.2L636.6 1096.3L636.8 1096.3L637.1 1096.4L637.3 1096.4L637.5 1096.4L637.7 1096.5L637.9 1096.5L638.2 1096.5L638.4 1096.5L638.6 1096.5L638.8 1096.6L639.0 1096.6L639.3 1096.6L639.5 1096.6L639.7 1096.6L639.9 1096.6L640.2 1096.6L640.4 1096.6L640.6 1096.6L640.8 1096.6L641.0 1096.6L641.3 1096.6L641.5 1096.6L641.7 1096.6L641.9 1096.6L642.1 1096.6L642.4 1096.6L642.6 1096.6L642.8 1096.6L643.0 1096.6L643.2 1096.6L643.5 1096.6L643.7 1096.6L643.9 1096.6L644.1 1096.6" fill="none" stroke="#1057f0" stroke-width="2.4" stroke-linejoin="round" />
<path d="M772.5 1096.6L772.7 1096.6L772.9 1096.6L773.1 1096.6L773.3 1096.6L773.6 1096.6L773.8 1096.6L774.0 1096.6L774.2 1096.6L774.5 1096.6L774.7 1096.6L774.9 1096.6L775.1 1096.6L775.3 1096.6L775.6 1096.6L775.8 1096.6L776.0 1096.6L776.2 1096.6L776.4 1096.5L776.7 1096.5L776.9 1096.5L777.1 1096.5L777.3 1096.4L777.5 1096.4L777.8 1096.3L778.0 1096.3L778.2 1096.2L778.4 1096.0L778.7 1095.9L778.9 1095.7L779.1 1095.5L779.3 1095.3L779.5 1095.0L779.8 1094.7L780.0 1094.3L780.2 1093.9L780.4 1093.4L780.6 1092.8L780.9 1092.1L781.1 1091.4L781.3 1090.6L781.5 1089.7L781.8 1088.8L782.0 1087.8L782.2 1086.7L782.4 1085.6L782.6 1084.5L782.9 1083.3L783.1 1082.1L783.3 1080.8L783.5 1079.7L783.7 1078.5L784.0 1077.4L784.2 1076.4L784.4 1075.4L784.6 1074.6L784.9 1073.9L785.1 1073.4L785.3 1072.9L785.5 1072.7L785.7 1072.6L786.0 1072.7L786.2 1072.9L786.4 1073.4L786.6 1073.9L786.8 1074.6L787.1 1075.4L787.3 1076.4L787.5 1077.4L787.7 1078.5L787.9 1079.7L788.2 1080.8L788.4 1082.1L788.6 1083.3L788.8 1084.5L789.1 1085.6L789.3 1086.7L789.5 1087.8L789.7 1088.8L789.9 1089.7L790.2 1090.6L790.4 1091.4L790.6 1092.1L790.8 1092.8L791.0 1093.4L791.3 1093.9L791.5 1094.3L791.7 1094.7L791.9 1095.0L792.2 1095.3L792.4 1095.5L792.6 1095.7L792.8 1095.9L793.0 1096.0L793.3 1096.2L793.5 1096.3L793.7 1096.3L793.9 1096.4L794.1 1096.4L794.4 1096.5L794.6 1096.5L794.8 1096.5L795.0 1096.5L795.2 1096.6L795.5 1096.6L795.7 1096.6L795.9 1096.6L796.1 1096.6L796.4 1096.6L796.6 1096.6L796.8 1096.6L797.0 1096.6L797.2 1096.6L797.5 1096.6L797.7 1096.6L797.9 1096.6L798.1 1096.6L798.3 1096.6L798.6 1096.6L798.8 1096.6L799.0 1096.6" fill="none" stroke="#1057f0" stroke-width="2.4" stroke-linejoin="round" />
<path d="M859.2 1096.6L859.4 1096.6L859.6 1096.6L859.9 1096.6L860.1 1096.6L860.3 1096.6L860.5 1096.6L860.7 1096.6L861.0 1096.6L861.2 1096.6L861.4 1096.6L861.6 1096.6L861.8 1096.6L862.1 1096.6L862.3 1096.5L862.5 1096.5L862.7 1096.5L863.0 1096.5L863.2 1096.4L863.4 1096.4L863.6 1096.3L863.8 1096.2L864.1 1096.1L864.3 1095.9L864.5 1095.7L864.7 1095.4L864.9 1095.1L865.2 1094.7L865.4 1094.3L865.6 1093.7L865.8 1093.0L866.0 1092.2L866.3 1091.2L866.5 1090.1L866.7 1088.8L866.9 1087.3L867.2 1085.6L867.4 1083.6L867.6 1081.4L867.8 1079.0L868.0 1076.3L868.3 1073.3L868.5 1070.1L868.7 1066.7L868.9 1063.1L869.1 1059.3L869.4 1055.3L869.6 1051.3L869.8 1047.1L870.0 1043.0L870.3 1039.0L870.5 1035.1L870.7 1031.3L870.9 1027.8L871.1 1024.6L871.4 1021.8L871.6 1019.5L871.8 1017.6L872.0 1016.2L872.2 1015.4L872.5 1015.1L872.7 1015.4L872.9 1016.2L873.1 1017.6L873.4 1019.5L873.6 1021.8L873.8 1024.6L874.0 1027.8L874.2 1031.3L874.5 1035.1L874.7 1039.0L874.9 1043.0L875.1 1047.1L875.3 1051.3L875.6 1055.3L875.8 1059.3L876.0 1063.1L876.2 1066.7L876.4 1070.1L876.7 1073.3L876.9 1076.3L877.1 1079.0L877.3 1081.4L877.6 1083.6L877.8 1085.6L878.0 1087.3L878.2 1088.8L878.4 1090.1L878.7 1091.2L878.9 1092.2L879.1 1093.0L879.3 1093.7L879.5 1094.3L879.8 1094.7L880.0 1095.1L880.2 1095.4L880.4 1095.7L880.7 1095.9L880.9 1096.1L881.1 1096.2L881.3 1096.3L881.5 1096.4L881.8 1096.4L882.0 1096.5L882.2 1096.5L882.4 1096.5L882.6 1096.5L882.9 1096.6L883.1 1096.6L883.3 1096.6L883.5 1096.6L883.7 1096.6L884.0 1096.6L884.2 1096.6L884.4 1096.6L884.6 1096.6L884.9 1096.6L885.1 1096.6L885.3 1096.6L885.5 1096.6L885.7 1096.6" fill="none" stroke="#1057f0" stroke-width="2.4" stroke-linejoin="round" />
<path d="M901.7 1096.6L901.9 1096.6L902.1 1096.6L902.3 1096.6L902.6 1096.6L902.8 1096.6L903.0 1096.6L903.2 1096.6L903.4 1096.6L903.7 1096.6L903.9 1096.6L904.1 1096.5L904.3 1096.5L904.5 1096.5L904.8 1096.4L905.0 1096.4L905.2 1096.3L905.4 1096.2L905.7 1096.1L905.9 1095.9L906.1 1095.7L906.3 1095.4L906.5 1095.0L906.8 1094.6L907.0 1094.0L907.2 1093.3L907.4 1092.4L907.6 1091.3L907.9 1089.9L908.1 1088.3L908.3 1086.3L908.5 1084.0L908.8 1081.2L909.0 1078.0L909.2 1074.2L909.4 1069.9L909.6 1064.9L909.9 1059.3L910.1 1053.0L910.3 1046.0L910.5 1038.2L910.7 1029.7L911.0 1020.6L911.2 1010.7L911.4 1000.3L911.6 989.4L911.8 978.0L912.1 966.4L912.3 954.6L912.5 942.8L912.7 931.1L913.0 919.8L913.2 909.1L913.4 899.1L913.6 889.9L913.8 881.9L914.1 875.1L914.3 869.6L914.5 865.7L914.7 863.2L914.9 862.4L915.2 863.2L915.4 865.7L915.6 869.6L915.8 875.1L916.1 881.9L916.3 889.9L916.5 899.1L916.7 909.1L916.9 919.8L917.2 931.1L917.4 942.8L917.6 954.6L917.8 966.4L918.0 978.0L918.3 989.4L918.5 1000.3L918.7 1010.7L918.9 1020.6L919.1 1029.7L919.4 1038.2L919.6 1046.0L919.8 1053.0L920.0 1059.3L920.3 1064.9L920.5 1069.9L920.7 1074.2L920.9 1078.0L921.1 1081.2L921.4 1084.0L921.6 1086.3L921.8 1088.3L922.0 1089.9L922.2 1091.3L922.5 1092.4L922.7 1093.3L922.9 1094.0L923.1 1094.6L923.4 1095.0L923.6 1095.4L923.8 1095.7L924.0 1095.9L924.2 1096.1L924.5 1096.2L924.7 1096.3L924.9 1096.4L925.1 1096.4L925.3 1096.5L925.6 1096.5L925.8 1096.5L926.0 1096.6L926.2 1096.6L926.5 1096.6L926.7 1096.6L926.9 1096.6L927.1 1096.6L927.3 1096.6L927.6 1096.6L927.8 1096.6L928.0 1096.6L928.2 1096.6" fill="none" stroke="#1057f0" stroke-width="2.4" stroke-linejoin="round" />
</g>
<rect x="599.0" y="681.0" width="354.0" height="425.0" fill="none" stroke="#000" stroke-width="2.0"/>
<path d="M599.00 1106.0v-4.25M599.00 681.0v4.25M607.85 1106.0v-4.25M607.85 681.0v4.25M616.70 1106.0v-4.25M616.70 681.0v4.25M625.55 1106.0v-4.25M625.55 681.0v4.25M634.40 1106.0v-4.25M634.40 681.0v4.25M643.25 1106.0v-8.50M643.25 681.0v8.50M652.10 1106.0v-4.25M652.10 681.0v4.25M660.95 1106.0v-4.25M660.95 681.0v4.25M669.80 1106.0v-4.25M669.80 681.0v4.25M678.65 1106.0v-4.25M678.65 681.0v4.25M687.50 1106.0v-4.25M687.50 681.0v4.25M696.35 1106.0v-4.25M696.35 681.0v4.25M705.20 1106.0v-4.25M705.20 681.0v4.25M714.05 1106.0v-4.25M714.05 681.0v4.25M722.90 1106.0v-4.25M722.90 681.0v4.25M731.75 1106.0v-8.50M731.75 681.0v8.50M740.60 1106.0v-4.25M740.60 681.0v4.25M749.45 1106.0v-4.25M749.45 681.0v4.25M758.30 1106.0v-4.25M758.30 681.0v4.25M767.15 1106.0v-4.25M767.15 681.0v4.25M776.00 1106.0v-4.25M776.00 681.0v4.25M784.85 1106.0v-4.25M784.85 681.0v4.25M793.70 1106.0v-4.25M793.70 681.0v4.25M802.55 1106.0v-4.25M802.55 681.0v4.25M811.40 1106.0v-4.25M811.40 681.0v4.25M820.25 1106.0v-8.50M820.25 681.0v8.50M829.10 1106.0v-4.25M829.10 681.0v4.25M837.95 1106.0v-4.25M837.95 681.0v4.25M846.80 1106.0v-4.25M846.80 681.0v4.25M855.65 1106.0v-4.25M855.65 681.0v4.25M864.50 1106.0v-4.25M864.50 681.0v4.25M873.35 1106.0v-4.25M873.35 681.0v4.25M882.20 1106.0v-4.25M882.20 681.0v4.25M891.05 1106.0v-4.25M891.05 681.0v4.25M899.90 1106.0v-4.25M899.90 681.0v4.25M908.75 1106.0v-8.50M908.75 681.0v8.50M917.60 1106.0v-4.25M917.60 681.0v4.25M926.45 1106.0v-4.25M926.45 681.0v4.25M935.30 1106.0v-4.25M935.30 681.0v4.25M944.15 1106.0v-4.25M944.15 681.0v4.25M953.00 1106.0v-4.25M953.00 681.0v4.25M599.0 1101.58h3.54M953.0 1101.58h-3.54M599.0 1095.27h3.54M953.0 1095.27h-3.54M599.0 1088.96h3.54M953.0 1088.96h-3.54M599.0 1082.65h3.54M953.0 1082.65h-3.54M599.0 1076.34h3.54M953.0 1076.34h-3.54M599.0 1070.03h3.54M953.0 1070.03h-3.54M599.0 1063.72h3.54M953.0 1063.72h-3.54M599.0 1057.41h3.54M953.0 1057.41h-3.54M599.0 1051.10h7.08M953.0 1051.10h-7.08M599.0 1044.79h3.54M953.0 1044.79h-3.54M599.0 1038.48h3.54M953.0 1038.48h-3.54M599.0 1032.17h3.54M953.0 1032.17h-3.54M599.0 1025.86h3.54M953.0 1025.86h-3.54M599.0 1019.55h3.54M953.0 1019.55h-3.54M599.0 1013.24h3.54M953.0 1013.24h-3.54M599.0 1006.93h3.54M953.0 1006.93h-3.54M599.0 1000.62h3.54M953.0 1000.62h-3.54M599.0 994.31h3.54M953.0 994.31h-3.54M599.0 988.00h7.08M953.0 988.00h-7.08M599.0 981.69h3.54M953.0 981.69h-3.54M599.0 975.38h3.54M953.0 975.38h-3.54M599.0 969.07h3.54M953.0 969.07h-3.54M599.0 962.76h3.54M953.0 962.76h-3.54M599.0 956.45h3.54M953.0 956.45h-3.54M599.0 950.14h3.54M953.0 950.14h-3.54M599.0 943.83h3.54M953.0 943.83h-3.54M599.0 937.52h3.54M953.0 937.52h-3.54M599.0 931.21h3.54M953.0 931.21h-3.54M599.0 924.90h7.08M953.0 924.90h-7.08M599.0 918.59h3.54M953.0 918.59h-3.54M599.0 912.28h3.54M953.0 912.28h-3.54M599.0 905.97h3.54M953.0 905.97h-3.54M599.0 899.66h3.54M953.0 899.66h-3.54M599.0 893.35h3.54M953.0 893.35h-3.54M599.0 887.04h3.54M953.0 887.04h-3.54M599.0 880.73h3.54M953.0 880.73h-3.54M599.0 874.42h3.54M953.0 874.42h-3.54M599.0 868.11h3.54M953.0 868.11h-3.54M599.0 861.80h7.08M953.0 861.80h-7.08M599.0 855.49h3.54M953.0 855.49h-3.54M599.0 849.18h3.54M953.0 849.18h-3.54M599.0 842.87h3.54M953.0 842.87h-3.54M599.0 836.56h3.54M953.0 836.56h-3.54M599.0 830.25h3.54M953.0 830.25h-3.54M599.0 823.94h3.54M953.0 823.94h-3.54M599.0 817.63h3.54M953.0 817.63h-3.54M599.0 811.32h3.54M953.0 811.32h-3.54M599.0 805.01h3.54M953.0 805.01h-3.54M599.0 798.70h7.08M953.0 798.70h-7.08M599.0 792.39h3.54M953.0 792.39h-3.54M599.0 786.08h3.54M953.0 786.08h-3.54M599.0 779.77h3.54M953.0 779.77h-3.54M599.0 773.46h3.54M953.0 773.46h-3.54M599.0 767.15h3.54M953.0 767.15h-3.54M599.0 760.84h3.54M953.0 760.84h-3.54M599.0 754.53h3.54M953.0 754.53h-3.54M599.0 748.22h3.54M953.0 748.22h-3.54M599.0 741.91h3.54M953.0 741.91h-3.54M599.0 735.60h7.08M953.0 735.60h-7.08M599.0 729.29h3.54M953.0 729.29h-3.54M599.0 722.98h3.54M953.0 722.98h-3.54M599.0 716.67h3.54M953.0 716.67h-3.54M599.0 710.36h3.54M953.0 710.36h-3.54M599.0 704.05h3.54M953.0 704.05h-3.54M599.0 697.74h3.54M953.0 697.74h-3.54M599.0 691.43h3.54M953.0 691.43h-3.54M599.0 685.12h3.54M953.0 685.12h-3.54" stroke="#000" stroke-width="2.0" fill="none"/>
<clipPath id="cr"><rect x="1052.5" y="681.0" width="494.0" height="425.0"/></clipPath>
<path d="M1100.6 692.9V1106" stroke="#222" stroke-width="1.2" stroke-dasharray="11.8,11.9"/>
<path d="M1341.9 692.9V1106" stroke="#222" stroke-width="1.2" stroke-dasharray="11.8,11.9"/>
<path d="M1356.5 692.9V1106" stroke="#222" stroke-width="1.2" stroke-dasharray="11.8,11.9"/>
<path d="M1375.9 692.9V1106" stroke="#222" stroke-width="1.2" stroke-dasharray="11.8,11.9"/>
<path d="M1505.3 692.9V1106" stroke="#222" stroke-width="1.2" stroke-dasharray="11.8,11.9"/>
<path d="M1519.9 692.9V1106" stroke="#222" stroke-width="1.2" stroke-dasharray="11.8,11.9"/>
<g clip-path="url(#cr)">
<path d="M1051.9 987.6L1054.8 988.4L1057.8 988.1L1060.7 988.0L1063.6 987.1L1066.5 987.5L1069.4 986.7L1072.3 986.4L1075.3 985.7L1078.2 986.9L1081.1 987.7L1084.0 989.0L1086.9 989.0L1089.9 990.4L1092.8 988.8L1095.7 988.5L1098.6 986.9L1101.5 987.3L1104.5 987.6L1107.4 987.5L1110.3 987.6L1113.2 988.3L1116.1 987.4L1119.1 987.8L1122.0 986.5L1124.9 988.1L1127.8 988.6L1130.7 987.9L1133.6 987.6L1136.6 987.5L1139.5 988.2L1142.4 987.1L1145.3 988.3L1148.2 987.7L1151.2 988.4L1154.1 986.4L1157.0 987.9L1159.9 987.8L1162.8 987.4L1165.8 986.9L1168.7 987.4L1171.6 988.7L1174.5 988.9L1177.4 988.1L1180.4 987.7L1183.3 987.7L1186.2 987.7L1189.1 988.4L1192.0 989.0L1194.9 988.0L1197.9 987.7L1200.8 985.9L1203.7 987.4L1206.6 987.2L1209.5 987.8L1212.5 988.3L1215.4 988.7L1218.3 989.1L1221.2 988.8L1224.1 987.9L1227.1 986.6L1230.0 987.1L1232.9 988.0L1235.8 988.7L1238.7 987.7L1241.7 986.5L1244.6 987.4L1247.5 987.4L1250.4 988.1L1253.3 988.6L1256.2 988.7L1259.2 989.6L1262.1 988.3L1265.0 988.9L1267.9 988.0L1270.8 987.1L1273.8 985.9L1276.7 985.5L1279.6 986.5L1282.5 987.9L1285.4 987.4L1288.4 987.3L1291.3 987.3L1294.2 989.1L1297.1 989.5L1300.0 989.1L1303.0 987.5L1305.9 988.2L1308.8 988.6L1311.7 988.9L1314.6 988.2L1317.5 987.1L1320.5 986.7L1323.4 987.3L1326.3 989.3L1329.2 989.9L1332.1 989.8L1335.1 988.2L1338.0 989.9L1340.9 989.5L1343.8 989.6L1346.7 988.3L1349.7 987.9L1352.6 987.9L1355.5 987.4L1358.4 987.0L1361.3 986.2L1364.3 985.7L1367.2 986.2L1370.1 986.9L1373.0 987.3L1375.9 987.3L1378.8 987.9L1381.8 988.0L1384.7 987.6L1387.6 987.4L1390.5 988.3L1393.4 988.5L1396.4 988.7L1399.3 989.0L1402.2 989.5L1405.1 989.9L1408.0 988.8L1411.0 989.0L1413.9 988.0L1416.8 987.5L1419.7 986.5L1422.6 986.6L1425.6 988.7L1428.5 989.7L1431.4 990.3L1434.3 988.4L1437.2 987.2L1440.1 986.0L1443.1 986.2L1446.0 986.8L1448.9 986.8L1451.8 987.4L1454.7 987.2L1457.7 987.8L1460.6 988.3L1463.5 988.8L1466.4 987.7L1469.3 987.1L1472.3 988.2L1475.2 988.4L1478.1 988.1L1481.0 986.7L1483.9 987.8L1486.9 987.6L1489.8 987.0L1492.7 987.1L1495.6 987.0L1498.5 987.7L1501.4 987.8L1504.4 988.2L1507.3 988.0L1510.2 988.0L1513.1 987.4L1516.0 988.4L1519.0 987.2L1521.9 987.5L1524.8 986.7L1527.7 987.9L1530.6 988.7L1533.6 990.2L1536.5 989.8L1539.4 989.4L1542.3 987.7L1545.2 987.1L1548.2 986.9L1551.1 987.1" fill="none" stroke="#000" stroke-width="1.2" stroke-dasharray="1.2,3" stroke-linejoin="round" />
<path d="M1051.9 988.0L1052.4 988.0L1052.9 988.0L1053.4 988.0L1053.9 988.0L1054.3 988.0L1054.8 988.0L1055.3 988.0L1055.8 988.0L1056.3 988.0L1056.8 988.0L1057.3 988.0L1057.8 988.0L1058.2 988.0L1058.7 988.0L1059.2 988.0L1059.7 988.0L1060.2 988.0L1060.7 988.0L1061.2 988.0L1061.6 988.0L1062.1 988.0L1062.6 988.0L1063.1 988.0L1063.6 988.0L1064.1 988.0L1064.6 988.0L1065.1 988.0L1065.5 988.0L1066.0 988.0L1066.5 988.0L1067.0 988.0L1067.5 988.0L1068.0 988.0L1068.5 988.0L1068.9 988.0L1069.4 988.0L1069.9 988.0L1070.4 988.0L1070.9 988.0L1071.4 988.0L1071.9 988.0L1072.3 988.0L1072.8 988.0L1073.3 988.0L1073.8 988.0L1074.3 988.0L1074.8 988.0L1075.3 988.0L1075.8 988.0L1076.2 988.0L1076.7 988.0L1077.2 988.0L1077.7 988.0L1078.2 988.0L1078.7 988.0L1079.2 988.0L1079.6 988.0L1080.1 988.0L1080.6 988.0L1081.1 988.0L1081.6 988.0L1082.1 988.0L1082.6 988.0L1083.1 988.0L1083.5 988.0L1084.0 988.0L1084.5 988.0L1085.0 988.0L1085.5 988.0L1086.0 988.0L1086.5 988.0L1086.9 988.0L1087.4 988.0L1087.9 988.0L1088.4 988.0L1088.9 988.0L1089.4 988.0L1089.9 987.9L1090.4 987.9L1090.8 987.8L1091.3 987.6L1091.8 987.4L1092.3 987.1L1092.8 986.7L1093.3 986.1L1093.8 985.3L1094.2 984.3L1094.7 982.9L1095.2 981.3L1095.7 979.3L1096.2 977.1L1096.7 974.5L1097.2 971.8L1097.6 969.0L1098.1 966.3L1098.6 963.8L1099.1 961.6L1099.6 960.0L1100.1 958.9L1100.6 958.6L1101.1 958.9L1101.5 960.0L1102.0 961.6L1102.5 963.8L1103.0 966.3L1103.5 969.0L1104.0 971.8L1104.5 974.5L1104.9 977.1L1105.4 979.3L1105.9 981.3L1106.4 982.9L1106.9 984.3L1107.4 985.3L1107.9 986.1L1108.4 986.7L1108.8 987.1L1109.3 987.4L1109.8 987.6L1110.3 987.8L1110.8 987.9L1111.3 987.9L1111.8 988.0L1112.2 988.0L1112.7 988.0L1113.2 988.0L1113.7 988.0L1114.2 988.0L1114.7 988.0L1115.2 988.0L1115.6 988.0L1116.1 988.0L1116.6 988.0L1117.1 988.0L1117.6 988.0L1118.1 988.0L1118.6 988.0L1119.1 988.0L1119.5 988.0L1120.0 988.0L1120.5 988.0L1121.0 988.0L1121.5 988.0L1122.0 988.0L1122.5 988.0L1122.9 988.0L1123.4 988.0L1123.9 988.0L1124.4 988.0L1124.9 988.0L1125.4 988.0L1125.9 988.0L1126.4 988.0L1126.8 988.0L1127.3 988.0L1127.8 988.0L1128.3 988.0L1128.8 988.0L1129.3 988.0L1129.8 988.0L1130.2 988.0L1130.7 988.0L1131.2 988.0L1131.7 988.0L1132.2 988.0L1132.7 988.0L1133.2 988.0L1133.6 988.0L1134.1 988.0L1134.6 988.0L1135.1 988.0L1135.6 988.0L1136.1 988.0L1136.6 988.0L1137.1 988.0L1137.5 988.0L1138.0 988.0L1138.5 988.0L1139.0 988.0L1139.5 988.0L1140.0 988.0L1140.5 988.0L1140.9 988.0L1141.4 988.0L1141.9 988.0L1142.4 988.0L1142.9 988.0L1143.4 988.0L1143.9 988.0L1144.4 988.0L1144.8 988.0L1145.3 988.0L1145.8 988.0L1146.3 988.0L1146.8 988.0L1147.3 988.0L1147.8 988.0L1148.2 988.0L1148.7 988.0L1149.2 988.0L1149.7 988.0L1150.2 988.0L1150.7 988.0L1151.2 988.0L1151.7 988.0L1152.1 988.0L1152.6 988.0L1153.1 988.0L1153.6 988.0L1154.1 988.0L1154.6 987.9L1155.1 987.9L1155.5 987.8L1156.0 987.7L1156.5 987.6L1157.0 987.4L1157.5 987.2L1158.0 986.9L1158.5 986.6L1158.9 986.2L1159.4 985.8L1159.9 985.4L1160.4 984.9L1160.9 984.5L1161.4 984.2L1161.9 983.9L1162.4 983.7L1162.8 983.6L1163.3 983.7L1163.8 983.9L1164.3 984.2L1164.8 984.5L1165.3 984.9L1165.8 985.4L1166.2 985.8L1166.7 986.2L1167.2 986.6L1167.7 986.9L1168.2 987.2L1168.7 987.4L1169.2 987.6L1169.7 987.7L1170.1 987.8L1170.6 987.9L1171.1 987.9L1171.6 988.0L1172.1 988.0L1172.6 988.0L1173.1 988.0L1173.5 988.0L1174.0 988.0L1174.5 988.0L1175.0 988.0L1175.5 988.0L1176.0 988.0L1176.5 988.0L1176.9 988.0L1177.4 988.0L1177.9 988.0L1178.4 988.0L1178.9 988.0L1179.4 988.0L1179.9 988.0L1180.4 988.0L1180.8 988.0L1181.3 988.0L1181.8 988.0L1182.3 988.0L1182.8 988.0L1183.3 988.0L1183.8 988.0L1184.2 988.0L1184.7 988.0L1185.2 988.0L1185.7 988.0L1186.2 988.0L1186.7 988.0L1187.2 988.0L1187.7 988.0L1188.1 988.0L1188.6 988.0L1189.1 988.0L1189.6 988.0L1190.1 988.0L1190.6 988.0L1191.1 988.0L1191.5 988.0L1192.0 988.0L1192.5 988.0L1193.0 988.0L1193.5 988.0L1194.0 988.0L1194.5 988.0L1194.9 988.0L1195.4 988.0L1195.9 988.0L1196.4 988.0L1196.9 988.0L1197.4 988.0L1197.9 988.0L1198.4 988.0L1198.8 988.0L1199.3 988.0L1199.8 988.0L1200.3 988.0L1200.8 988.0L1201.3 988.0L1201.8 988.0L1202.2 988.0L1202.7 988.0L1203.2 988.0L1203.7 988.0L1204.2 988.0L1204.7 988.0L1205.2 988.0L1205.7 988.0L1206.1 988.0L1206.6 988.0L1207.1 988.0L1207.6 988.0L1208.1 988.0L1208.6 988.0L1209.1 988.0L1209.5 988.0L1210.0 988.0L1210.5 988.0L1211.0 988.0L1211.5 988.0L1212.0 988.0L1212.5 988.0L1213.0 988.0L1213.4 988.0L1213.9 988.0L1214.4 988.0L1214.9 988.0L1215.4 988.0L1215.9 988.0L1216.4 988.0L1216.8 988.0L1217.3 988.0L1217.8 988.0L1218.3 988.0L1218.8 988.0L1219.3 988.0L1219.8 988.0L1220.2 988.0L1220.7 988.0L1221.2 988.0L1221.7 988.0L1222.2 988.0L1222.7 988.0L1223.2 988.0L1223.7 988.0L1224.1 988.0L1224.6 988.0L1225.1 988.0L1225.6 988.0L1226.1 988.0L1226.6 988.0L1227.1 988.0L1227.5 988.0L1228.0 988.0L1228.5 988.0L1229.0 988.0L1229.5 988.0L1230.0 988.0L1230.5 988.0L1231.0 988.0L1231.4 988.0L1231.9 988.0L1232.4 988.0L1232.9 988.0L1233.4 988.0L1233.9 988.0L1234.4 988.0L1234.8 988.0L1235.3 988.0L1235.8 988.0L1236.3 988.0L1236.8 988.0L1237.3 988.0L1237.8 988.0L1238.2 988.0L1238.7 988.0L1239.2 988.0L1239.7 988.0L1240.2 988.0L1240.7 988.0L1241.2 988.0L1241.7 988.0L1242.1 988.0L1242.6 988.0L1243.1 988.0L1243.6 988.0L1244.1 988.0L1244.6 988.0L1245.1 988.0L1245.5 988.0L1246.0 988.0L1246.5 988.0L1247.0 988.0L1247.5 988.0L1248.0 988.0L1248.5 988.0L1249.0 988.0L1249.4 988.0L1249.9 988.0L1250.4 988.0L1250.9 988.0L1251.4 988.0L1251.9 988.0L1252.4 988.0L1252.8 988.0L1253.3 988.0L1253.8 988.0L1254.3 988.0L1254.8 988.0L1255.3 988.0L1255.8 988.0L1256.2 988.0L1256.7 988.0L1257.2 988.0L1257.7 988.0L1258.2 988.0L1258.7 988.0L1259.2 988.0L1259.7 988.0L1260.1 988.0L1260.6 988.0L1261.1 988.0L1261.6 988.0L1262.1 988.0L1262.6 988.0L1263.1 988.0L1263.5 988.0L1264.0 988.0L1264.5 988.0L1265.0 988.0L1265.5 988.0L1266.0 988.0L1266.5 988.0L1267.0 988.0L1267.4 988.0L1267.9 988.0L1268.4 988.0L1268.9 988.0L1269.4 988.0L1269.9 988.0L1270.4 988.0L1270.8 988.0L1271.3 988.0L1271.8 988.0L1272.3 988.0L1272.8 988.0L1273.3 988.0L1273.8 988.0L1274.3 988.0L1274.7 988.0L1275.2 988.0L1275.7 988.0L1276.2 988.0L1276.7 988.0L1277.2 988.0L1277.7 988.0L1278.1 988.0L1278.6 988.0L1279.1 988.0L1279.6 988.0L1280.1 988.0L1280.6 988.0L1281.1 988.0L1281.5 988.0L1282.0 988.0L1282.5 988.0L1283.0 988.0L1283.5 988.0L1284.0 988.0L1284.5 988.0L1285.0 988.0L1285.4 988.0L1285.9 988.0L1286.4 988.0L1286.9 988.0L1287.4 988.0L1287.9 988.0L1288.4 988.0L1288.8 988.0L1289.3 988.0L1289.8 988.0L1290.3 988.0L1290.8 988.0L1291.3 988.0L1291.8 988.0L1292.3 988.0L1292.7 988.0L1293.2 988.0L1293.7 988.0L1294.2 988.0L1294.7 988.0L1295.2 988.0L1295.7 988.0L1296.1 988.0L1296.6 988.0L1297.1 988.0L1297.6 988.0L1298.1 988.0L1298.6 988.0L1299.1 988.0L1299.5 988.0L1300.0 988.0L1300.5 988.0L1301.0 988.0L1301.5 988.0L1302.0 988.0L1302.5 988.0L1303.0 988.0L1303.4 988.0L1303.9 988.0L1304.4 988.0L1304.9 988.0L1305.4 988.0L1305.9 988.0L1306.4 988.0L1306.8 988.0L1307.3 988.0L1307.8 988.0L1308.3 988.0L1308.8 988.0L1309.3 988.0L1309.8 988.0L1310.3 988.0L1310.7 988.0L1311.2 988.0L1311.7 988.0L1312.2 988.0L1312.7 988.0L1313.2 988.0L1313.7 988.0L1314.1 988.0L1314.6 988.0L1315.1 988.0L1315.6 988.0L1316.1 988.0L1316.6 988.0L1317.1 988.0L1317.5 988.0L1318.0 988.0L1318.5 988.0L1319.0 988.0L1319.5 988.0L1320.0 988.0L1320.5 988.0L1321.0 988.0L1321.4 988.0L1321.9 988.0L1322.4 988.0L1322.9 988.0L1323.4 988.0L1323.9 988.0L1324.4 988.0L1324.8 988.0L1325.3 988.0L1325.8 988.0L1326.3 988.0L1326.8 988.0L1327.3 988.0L1327.8 988.0L1328.3 988.0L1328.7 988.0L1329.2 988.0L1329.7 988.0L1330.2 988.0L1330.7 988.0L1331.2 987.9L1331.7 987.9L1332.1 987.8L1332.6 987.7L1333.1 987.5L1333.6 987.1L1334.1 986.7L1334.6 986.0L1335.1 984.9L1335.6 983.5L1336.0 981.6L1336.5 979.1L1337.0 976.0L1337.5 972.1L1338.0 967.4L1338.5 962.0L1339.0 956.1L1339.4 949.6L1339.9 943.0L1340.4 936.6L1340.9 930.6L1341.4 925.5L1341.9 921.6L1342.4 919.1L1342.8 918.2L1343.3 919.1L1343.8 921.6L1344.3 925.5L1344.8 930.6L1345.3 936.5L1345.8 942.9L1346.3 949.4L1346.7 955.7L1347.2 961.5L1347.7 966.5L1348.2 970.5L1348.7 973.6L1349.2 975.5L1349.7 976.1L1350.1 975.5L1350.6 973.5L1351.1 970.0L1351.6 965.1L1352.1 958.5L1352.6 950.5L1353.1 941.0L1353.6 930.4L1354.0 919.0L1354.5 907.2L1355.0 895.6L1355.5 884.9L1356.0 875.7L1356.5 868.6L1357.0 864.2L1357.4 862.6L1357.9 864.2L1358.4 868.6L1358.9 875.7L1359.4 884.9L1359.9 895.6L1360.4 907.2L1360.8 919.1L1361.3 930.6L1361.8 941.4L1362.3 951.0L1362.8 959.4L1363.3 966.4L1363.8 972.0L1364.3 976.5L1364.7 979.9L1365.2 982.3L1365.7 984.0L1366.2 985.0L1366.7 985.5L1367.2 985.4L1367.7 984.8L1368.1 983.6L1368.6 981.5L1369.1 978.5L1369.6 974.2L1370.1 968.4L1370.6 960.8L1371.1 951.2L1371.6 939.2L1372.0 925.0L1372.5 908.5L1373.0 890.2L1373.5 870.5L1374.0 850.3L1374.5 830.5L1375.0 812.3L1375.4 796.6L1375.9 784.5L1376.4 777.0L1376.9 774.4L1377.4 777.0L1377.9 784.5L1378.4 796.6L1378.8 812.3L1379.3 830.5L1379.8 850.3L1380.3 870.5L1380.8 890.2L1381.3 908.5L1381.8 925.0L1382.3 939.2L1382.7 951.2L1383.2 960.9L1383.7 968.5L1384.2 974.3L1384.7 978.6L1385.2 981.7L1385.7 983.9L1386.1 985.4L1386.6 986.4L1387.1 987.0L1387.6 987.4L1388.1 987.7L1388.6 987.8L1389.1 987.9L1389.6 987.9L1390.0 988.0L1390.5 988.0L1391.0 988.0L1391.5 988.0L1392.0 988.0L1392.5 988.0L1393.0 988.0L1393.4 988.0L1393.9 988.0L1394.4 988.0L1394.9 988.0L1395.4 988.0L1395.9 988.0L1396.4 988.0L1396.9 988.0L1397.3 988.0L1397.8 988.0L1398.3 988.0L1398.8 988.0L1399.3 988.0L1399.8 988.0L1400.3 988.0L1400.7 988.0L1401.2 988.0L1401.7 988.0L1402.2 988.0L1402.7 988.0L1403.2 988.0L1403.7 988.0L1404.1 988.0L1404.6 988.0L1405.1 988.0L1405.6 988.0L1406.1 988.0L1406.6 988.0L1407.1 988.0L1407.6 988.0L1408.0 988.0L1408.5 988.0L1409.0 988.0L1409.5 988.0L1410.0 988.0L1410.5 988.0L1411.0 988.0L1411.4 988.0L1411.9 988.0L1412.4 988.0L1412.9 988.0L1413.4 988.0L1413.9 988.0L1414.4 988.0L1414.9 988.0L1415.3 988.0L1415.8 988.0L1416.3 988.0L1416.8 988.0L1417.3 988.0L1417.8 988.0L1418.3 988.0L1418.7 988.0L1419.2 988.0L1419.7 988.0L1420.2 988.0L1420.7 988.0L1421.2 988.0L1421.7 988.0L1422.1 988.0L1422.6 988.0L1423.1 988.0L1423.6 988.0L1424.1 988.0L1424.6 988.0L1425.1 988.0L1425.6 988.0L1426.0 988.0L1426.5 988.0L1427.0 988.0L1427.5 988.0L1428.0 988.0L1428.5 988.0L1429.0 988.0L1429.4 988.0L1429.9 988.0L1430.4 988.0L1430.9 988.0L1431.4 988.0L1431.9 988.0L1432.4 988.0L1432.9 988.0L1433.3 988.0L1433.8 988.0L1434.3 988.0L1434.8 988.0L1435.3 988.0L1435.8 988.0L1436.3 988.0L1436.7 988.0L1437.2 988.0L1437.7 988.0L1438.2 988.0L1438.7 988.0L1439.2 988.0L1439.7 988.0L1440.1 988.0L1440.6 988.0L1441.1 988.0L1441.6 988.0L1442.1 988.0L1442.6 988.0L1443.1 988.0L1443.6 988.0L1444.0 988.0L1444.5 988.0L1445.0 988.0L1445.5 988.0L1446.0 988.0L1446.5 988.0L1447.0 988.0L1447.4 988.0L1447.9 988.0L1448.4 988.0L1448.9 988.0L1449.4 988.0L1449.9 988.0L1450.4 988.0L1450.9 988.0L1451.3 988.0L1451.8 988.0L1452.3 988.0L1452.8 988.0L1453.3 988.0L1453.8 988.0L1454.3 988.0L1454.7 988.0L1455.2 988.0L1455.7 988.0L1456.2 988.0L1456.7 988.0L1457.2 988.0L1457.7 988.0L1458.2 988.0L1458.6 988.0L1459.1 988.0L1459.6 988.0L1460.1 988.0L1460.6 988.0L1461.1 988.0L1461.6 988.0L1462.0 988.0L1462.5 988.0L1463.0 988.0L1463.5 988.0L1464.0 988.0L1464.5 988.0L1465.0 988.0L1465.4 988.0L1465.9 988.0L1466.4 988.0L1466.9 988.0L1467.4 988.0L1467.9 988.0L1468.4 988.0L1468.9 988.0L1469.3 988.0L1469.8 988.0L1470.3 988.0L1470.8 988.0L1471.3 988.0L1471.8 988.0L1472.3 988.0L1472.7 988.0L1473.2 988.0L1473.7 988.0L1474.2 988.0L1474.7 988.0L1475.2 988.0L1475.7 988.0L1476.2 988.0L1476.6 988.0L1477.1 988.0L1477.6 988.0L1478.1 988.0L1478.6 988.0L1479.1 988.0L1479.6 988.0L1480.0 988.0L1480.5 988.0L1481.0 988.0L1481.5 988.0L1482.0 988.0L1482.5 988.0L1483.0 988.0L1483.4 988.0L1483.9 988.0L1484.4 988.0L1484.9 988.0L1485.4 988.0L1485.9 988.0L1486.4 988.0L1486.9 988.0L1487.3 988.0L1487.8 988.0L1488.3 988.0L1488.8 988.0L1489.3 988.0L1489.8 988.0L1490.3 988.0L1490.7 988.0L1491.2 988.0L1491.7 988.0L1492.2 988.0L1492.7 988.0L1493.2 988.0L1493.7 988.0L1494.2 988.0L1494.6 987.9L1495.1 987.9L1495.6 987.8L1496.1 987.6L1496.6 987.4L1497.1 987.1L1497.6 986.6L1498.0 985.9L1498.5 985.0L1499.0 983.7L1499.5 982.0L1500.0 979.9L1500.5 977.1L1501.0 973.9L1501.4 970.0L1501.9 965.6L1502.4 960.8L1502.9 955.7L1503.4 950.5L1503.9 945.5L1504.4 940.8L1504.9 936.9L1505.3 933.9L1505.8 932.0L1506.3 931.3L1506.8 932.0L1507.3 933.9L1507.8 936.9L1508.3 940.8L1508.7 945.4L1509.2 950.4L1509.7 955.6L1510.2 960.6L1510.7 965.3L1511.2 969.4L1511.7 972.9L1512.2 975.7L1512.6 977.7L1513.1 978.9L1513.6 979.3L1514.1 978.8L1514.6 977.5L1515.1 975.4L1515.6 972.4L1516.0 968.7L1516.5 964.4L1517.0 959.5L1517.5 954.3L1518.0 949.0L1518.5 943.8L1519.0 939.0L1519.5 934.9L1519.9 931.8L1520.4 929.8L1520.9 929.1L1521.4 929.8L1521.9 931.8L1522.4 934.9L1522.9 939.0L1523.3 943.8L1523.8 949.1L1524.3 954.5L1524.8 959.8L1525.3 964.8L1525.8 969.3L1526.3 973.3L1526.7 976.7L1527.2 979.5L1527.7 981.8L1528.2 983.6L1528.7 984.9L1529.2 985.9L1529.7 986.6L1530.2 987.1L1530.6 987.4L1531.1 987.6L1531.6 987.8L1532.1 987.9L1532.6 987.9L1533.1 988.0L1533.6 988.0L1534.0 988.0L1534.5 988.0L1535.0 988.0L1535.5 988.0L1536.0 988.0L1536.5 988.0L1537.0 988.0L1537.5 988.0L1537.9 988.0L1538.4 988.0L1538.9 988.0L1539.4 988.0L1539.9 988.0L1540.4 988.0L1540.9 988.0L1541.3 988.0L1541.8 988.0L1542.3 988.0L1542.8 988.0L1543.3 988.0L1543.8 988.0L1544.3 988.0L1544.7 988.0L1545.2 988.0L1545.7 988.0L1546.2 988.0L1546.7 988.0L1547.2 988.0L1547.7 988.0" fill="none" stroke="#ff1a1a" stroke-width="2.3" stroke-dasharray="8,4" stroke-linejoin="round" />
<path d="M1050.5 992.7L1053.4 992.7L1053.4 994.2L1056.3 994.2L1056.3 993.7L1059.2 993.7L1059.2 993.4L1062.1 993.4L1062.1 991.6L1065.1 991.6L1065.1 992.5L1068.0 992.5L1068.0 990.9L1070.9 990.9L1070.9 990.2L1073.8 990.2L1073.8 988.9L1076.7 988.9L1076.7 991.2L1079.6 991.2L1079.6 992.8L1082.6 992.8L1082.6 995.5L1085.5 995.5L1085.5 995.5L1088.4 995.5L1088.4 998.2L1091.3 998.2L1091.3 989.3L1094.2 989.3L1094.2 985.7L1097.2 985.7L1097.2 966.7L1100.1 966.7L1100.1 952.8L1103.0 952.8L1103.0 968.2L1105.9 968.2L1105.9 983.6L1108.8 983.6L1108.8 986.9L1111.8 986.9L1111.8 988.6L1114.7 988.6L1114.7 986.8L1117.6 986.8L1117.6 987.6L1120.5 987.6L1120.5 984.9L1123.4 984.9L1123.4 988.3L1126.4 988.3L1126.4 989.2L1129.3 989.2L1129.3 987.9L1132.2 987.9L1132.2 987.3L1135.1 987.3L1135.1 987.0L1138.0 987.0L1138.0 988.5L1140.9 988.5L1140.9 986.1L1143.9 986.1L1143.9 988.6L1146.8 988.6L1146.8 987.3L1149.7 987.3L1149.7 988.7L1152.6 988.7L1152.6 984.7L1155.5 984.7L1155.5 986.9L1158.5 986.9L1158.5 983.7L1161.4 983.7L1161.4 980.3L1164.3 980.3L1164.3 981.7L1167.2 981.7L1167.2 986.0L1170.1 986.0L1170.1 989.3L1173.1 989.3L1173.1 989.9L1176.0 989.9L1176.0 988.1L1178.9 988.1L1178.9 987.4L1181.8 987.4L1181.8 987.3L1184.7 987.3L1184.7 987.3L1187.7 987.3L1187.7 988.9L1190.6 988.9L1190.6 990.0L1193.5 990.0L1193.5 988.0L1196.4 988.0L1196.4 987.5L1199.3 987.5L1199.3 983.7L1202.2 983.7L1202.2 986.8L1205.2 986.8L1205.2 986.3L1208.1 986.3L1208.1 987.7L1211.0 987.7L1211.0 988.6L1213.9 988.6L1213.9 989.4L1216.8 989.4L1216.8 990.2L1219.8 990.2L1219.8 989.7L1222.7 989.7L1222.7 987.8L1225.6 987.8L1225.6 985.2L1228.5 985.2L1228.5 986.1L1231.4 986.1L1231.4 988.1L1234.4 988.1L1234.4 989.5L1237.3 989.5L1237.3 987.4L1240.2 987.4L1240.2 985.0L1243.1 985.0L1243.1 986.8L1246.0 986.8L1246.0 986.7L1249.0 986.7L1249.0 988.2L1251.9 988.2L1251.9 989.2L1254.8 989.2L1254.8 989.4L1257.7 989.4L1257.7 991.3L1260.6 991.3L1260.6 988.6L1263.5 988.6L1263.5 989.7L1266.5 989.7L1266.5 988.1L1269.4 988.1L1269.4 986.1L1272.3 986.1L1272.3 983.7L1275.2 983.7L1275.2 982.9L1278.1 982.9L1278.1 985.1L1281.1 985.1L1281.1 987.9L1284.0 987.9L1284.0 986.9L1286.9 986.9L1286.9 986.6L1289.8 986.6L1289.8 986.7L1292.7 986.7L1292.7 990.2L1295.7 990.2L1295.7 991.0L1298.6 991.0L1298.6 990.2L1301.5 990.2L1301.5 987.1L1304.4 987.1L1304.4 988.3L1307.3 988.3L1307.3 989.2L1310.3 989.2L1310.3 989.7L1313.2 989.7L1313.2 988.4L1316.1 988.4L1316.1 986.2L1319.0 986.2L1319.0 985.3L1321.9 985.3L1321.9 986.5L1324.8 986.5L1324.8 990.5L1327.8 990.5L1327.8 991.8L1330.7 991.8L1330.7 991.5L1333.6 991.5L1333.6 986.1L1336.5 986.1L1336.5 970.9L1339.4 970.9L1339.4 923.8L1342.4 923.8L1342.4 911.8L1345.3 911.8L1345.3 953.9L1348.2 953.9L1348.2 978.3L1351.1 978.3L1351.1 952.2L1354.0 952.2L1354.0 873.4L1357.0 873.4L1357.0 851.9L1359.9 851.9L1359.9 926.2L1362.8 926.2L1362.8 974.0L1365.7 974.0L1365.7 983.0L1368.6 983.0L1368.6 970.1L1371.6 970.1L1371.6 888.5L1374.5 888.5L1374.5 760.9L1377.4 760.9L1377.4 796.6L1380.3 796.6L1380.3 928.4L1383.2 928.4L1383.2 980.4L1386.1 980.4L1386.1 986.5L1389.1 986.5L1389.1 988.6L1392.0 988.6L1392.0 989.0L1394.9 989.0L1394.9 989.5L1397.8 989.5L1397.8 989.9L1400.7 989.9L1400.7 990.9L1403.7 990.9L1403.7 991.8L1406.6 991.8L1406.6 989.6L1409.5 989.6L1409.5 989.9L1412.4 989.9L1412.4 988.0L1415.3 988.0L1415.3 987.1L1418.3 987.1L1418.3 985.1L1421.2 985.1L1421.2 985.3L1424.1 985.3L1424.1 989.4L1427.0 989.4L1427.0 991.3L1429.9 991.3L1429.9 992.6L1432.9 992.6L1432.9 988.8L1435.8 988.8L1435.8 986.4L1438.7 986.4L1438.7 984.1L1441.6 984.1L1441.6 984.4L1444.5 984.4L1444.5 985.6L1447.4 985.6L1447.4 985.6L1450.4 985.6L1450.4 986.9L1453.3 986.9L1453.3 986.4L1456.2 986.4L1456.2 987.6L1459.1 987.6L1459.1 988.6L1462.0 988.6L1462.0 989.6L1465.0 989.6L1465.0 987.3L1467.9 987.3L1467.9 986.1L1470.8 986.1L1470.8 988.3L1473.7 988.3L1473.7 988.8L1476.6 988.8L1476.6 988.3L1479.6 988.3L1479.6 985.5L1482.5 985.5L1482.5 987.5L1485.4 987.5L1485.4 987.2L1488.3 987.2L1488.3 985.9L1491.2 985.9L1491.2 986.1L1494.2 986.1L1494.2 985.7L1497.1 985.7L1497.1 984.7L1500.0 984.7L1500.0 969.7L1502.9 969.7L1502.9 938.1L1505.8 938.1L1505.8 929.9L1508.7 929.9L1508.7 959.9L1511.7 959.9L1511.7 978.4L1514.6 978.4L1514.6 969.7L1517.5 969.7L1517.5 934.4L1520.4 934.4L1520.4 926.9L1523.3 926.9L1523.3 956.5L1526.3 956.5L1526.3 982.0L1529.2 982.0L1529.2 989.0L1532.1 989.0L1532.1 992.5L1535.0 992.5L1535.0 991.6L1537.9 991.6L1537.9 990.8L1540.9 990.8L1540.9 987.4L1543.8 987.4L1543.8 986.1L1546.7 986.1L1546.7 985.7L1549.6 985.7L1549.6 986.1L1552.5 986.1" fill="none" stroke="#000" stroke-width="1.8" stroke-linejoin="round" />
<path d="M1042.2 1095.7L1557.9 1095.7" fill="none" stroke="#1057f0" stroke-width="2.6" stroke-linejoin="round" />
<path d="M1084.5 1095.7L1084.8 1095.7L1085.0 1095.7L1085.2 1095.7L1085.5 1095.7L1085.7 1095.7L1086.0 1095.7L1086.2 1095.7L1086.5 1095.7L1086.7 1095.7L1086.9 1095.7L1087.2 1095.7L1087.4 1095.7L1087.7 1095.7L1087.9 1095.7L1088.2 1095.7L1088.4 1095.7L1088.6 1095.7L1088.9 1095.7L1089.1 1095.6L1089.4 1095.6L1089.6 1095.6L1089.9 1095.6L1090.1 1095.5L1090.4 1095.5L1090.6 1095.5L1090.8 1095.4L1091.1 1095.3L1091.3 1095.2L1091.6 1095.1L1091.8 1095.0L1092.1 1094.8L1092.3 1094.6L1092.5 1094.4L1092.8 1094.1L1093.0 1093.8L1093.3 1093.5L1093.5 1093.1L1093.8 1092.6L1094.0 1092.1L1094.2 1091.5L1094.5 1090.8L1094.7 1090.1L1095.0 1089.2L1095.2 1088.4L1095.5 1087.4L1095.7 1086.4L1095.9 1085.2L1096.2 1084.1L1096.4 1082.9L1096.7 1081.6L1096.9 1080.3L1097.2 1078.9L1097.4 1077.6L1097.6 1076.2L1097.9 1074.9L1098.1 1073.6L1098.4 1072.4L1098.6 1071.2L1098.9 1070.1L1099.1 1069.2L1099.4 1068.3L1099.6 1067.6L1099.8 1067.0L1100.1 1066.6L1100.3 1066.3L1100.6 1066.3L1100.8 1066.3L1101.1 1066.6L1101.3 1067.0L1101.5 1067.6L1101.8 1068.3L1102.0 1069.2L1102.3 1070.1L1102.5 1071.2L1102.8 1072.4L1103.0 1073.6L1103.2 1074.9L1103.5 1076.2L1103.7 1077.6L1104.0 1078.9L1104.2 1080.3L1104.5 1081.6L1104.7 1082.9L1104.9 1084.1L1105.2 1085.2L1105.4 1086.4L1105.7 1087.4L1105.9 1088.4L1106.2 1089.2L1106.4 1090.1L1106.6 1090.8L1106.9 1091.5L1107.1 1092.1L1107.4 1092.6L1107.6 1093.1L1107.9 1093.5L1108.1 1093.8L1108.4 1094.1L1108.6 1094.4L1108.8 1094.6L1109.1 1094.8L1109.3 1095.0L1109.6 1095.1L1109.8 1095.2L1110.1 1095.3L1110.3 1095.4L1110.5 1095.5L1110.8 1095.5L1111.0 1095.5L1111.3 1095.6L1111.5 1095.6L1111.8 1095.6L1112.0 1095.6L1112.2 1095.7L1112.5 1095.7L1112.7 1095.7L1113.0 1095.7L1113.2 1095.7L1113.5 1095.7L1113.7 1095.7L1113.9 1095.7L1114.2 1095.7L1114.4 1095.7L1114.7 1095.7L1114.9 1095.7L1115.2 1095.7L1115.4 1095.7L1115.6 1095.7L1115.9 1095.7L1116.1 1095.7L1116.4 1095.7L1116.6 1095.7" fill="none" stroke="#1057f0" stroke-width="2.4" stroke-linejoin="round" />
<path d="M1325.8 1095.7L1326.1 1095.7L1326.3 1095.7L1326.5 1095.7L1326.8 1095.7L1327.0 1095.7L1327.3 1095.7L1327.5 1095.7L1327.8 1095.7L1328.0 1095.7L1328.3 1095.7L1328.5 1095.7L1328.7 1095.7L1329.0 1095.7L1329.2 1095.7L1329.5 1095.6L1329.7 1095.6L1330.0 1095.6L1330.2 1095.6L1330.4 1095.6L1330.7 1095.5L1330.9 1095.5L1331.2 1095.4L1331.4 1095.3L1331.7 1095.2L1331.9 1095.1L1332.1 1094.9L1332.4 1094.7L1332.6 1094.5L1332.9 1094.2L1333.1 1093.8L1333.4 1093.4L1333.6 1092.9L1333.8 1092.3L1334.1 1091.7L1334.3 1090.9L1334.6 1089.9L1334.8 1088.9L1335.1 1087.6L1335.3 1086.3L1335.6 1084.7L1335.8 1083.0L1336.0 1081.1L1336.3 1079.0L1336.5 1076.7L1336.8 1074.2L1337.0 1071.5L1337.3 1068.6L1337.5 1065.6L1337.7 1062.4L1338.0 1059.1L1338.2 1055.7L1338.5 1052.2L1338.7 1048.7L1339.0 1045.2L1339.2 1041.8L1339.4 1038.4L1339.7 1035.2L1339.9 1032.2L1340.2 1029.4L1340.4 1026.9L1340.7 1024.7L1340.9 1022.8L1341.1 1021.3L1341.4 1020.3L1341.6 1019.6L1341.9 1019.4L1342.1 1019.6L1342.4 1020.3L1342.6 1021.3L1342.8 1022.8L1343.1 1024.7L1343.3 1026.9L1343.6 1029.4L1343.8 1032.2L1344.1 1035.2L1344.3 1038.4L1344.6 1041.8L1344.8 1045.2L1345.0 1048.7L1345.3 1052.2L1345.5 1055.7L1345.8 1059.1L1346.0 1062.4L1346.3 1065.6L1346.5 1068.6L1346.7 1071.5L1347.0 1074.2L1347.2 1076.7L1347.5 1079.0L1347.7 1081.1L1348.0 1083.0L1348.2 1084.7L1348.4 1086.3L1348.7 1087.6L1348.9 1088.9L1349.2 1089.9L1349.4 1090.9L1349.7 1091.7L1349.9 1092.3L1350.1 1092.9L1350.4 1093.4L1350.6 1093.8L1350.9 1094.2L1351.1 1094.5L1351.4 1094.7L1351.6 1094.9L1351.8 1095.1L1352.1 1095.2L1352.3 1095.3L1352.6 1095.4L1352.8 1095.5L1353.1 1095.5L1353.3 1095.6L1353.6 1095.6L1353.8 1095.6L1354.0 1095.6L1354.3 1095.6L1354.5 1095.7L1354.8 1095.7L1355.0 1095.7L1355.3 1095.7L1355.5 1095.7L1355.7 1095.7L1356.0 1095.7L1356.2 1095.7L1356.5 1095.7L1356.7 1095.7L1357.0 1095.7L1357.2 1095.7L1357.4 1095.7L1357.7 1095.7L1357.9 1095.7" fill="none" stroke="#1057f0" stroke-width="2.4" stroke-linejoin="round" />
<path d="M1340.4 1095.7L1340.7 1095.7L1340.9 1095.7L1341.1 1095.7L1341.4 1095.7L1341.6 1095.7L1341.9 1095.7L1342.1 1095.7L1342.4 1095.7L1342.6 1095.7L1342.8 1095.7L1343.1 1095.7L1343.3 1095.7L1343.6 1095.6L1343.8 1095.6L1344.1 1095.6L1344.3 1095.6L1344.6 1095.6L1344.8 1095.5L1345.0 1095.4L1345.3 1095.4L1345.5 1095.3L1345.8 1095.2L1346.0 1095.0L1346.3 1094.8L1346.5 1094.6L1346.7 1094.3L1347.0 1093.9L1347.2 1093.5L1347.5 1093.0L1347.7 1092.3L1348.0 1091.6L1348.2 1090.7L1348.4 1089.6L1348.7 1088.4L1348.9 1086.9L1349.2 1085.3L1349.4 1083.3L1349.7 1081.1L1349.9 1078.7L1350.1 1075.9L1350.4 1072.7L1350.6 1069.3L1350.9 1065.5L1351.1 1061.3L1351.4 1056.8L1351.6 1051.9L1351.8 1046.7L1352.1 1041.2L1352.3 1035.5L1352.6 1029.5L1352.8 1023.3L1353.1 1017.1L1353.3 1010.7L1353.6 1004.4L1353.8 998.2L1354.0 992.1L1354.3 986.3L1354.5 980.9L1354.8 975.8L1355.0 971.2L1355.3 967.3L1355.5 963.9L1355.7 961.2L1356.0 959.3L1356.2 958.1L1356.5 957.7L1356.7 958.1L1357.0 959.3L1357.2 961.2L1357.4 963.9L1357.7 967.3L1357.9 971.2L1358.2 975.8L1358.4 980.9L1358.7 986.3L1358.9 992.1L1359.1 998.2L1359.4 1004.4L1359.6 1010.7L1359.9 1017.1L1360.1 1023.3L1360.4 1029.5L1360.6 1035.5L1360.8 1041.2L1361.1 1046.7L1361.3 1051.9L1361.6 1056.8L1361.8 1061.3L1362.1 1065.5L1362.3 1069.3L1362.6 1072.7L1362.8 1075.9L1363.0 1078.7L1363.3 1081.1L1363.5 1083.3L1363.8 1085.3L1364.0 1086.9L1364.3 1088.4L1364.5 1089.6L1364.7 1090.7L1365.0 1091.6L1365.2 1092.3L1365.5 1093.0L1365.7 1093.5L1366.0 1093.9L1366.2 1094.3L1366.4 1094.6L1366.7 1094.8L1366.9 1095.0L1367.2 1095.2L1367.4 1095.3L1367.7 1095.4L1367.9 1095.4L1368.1 1095.5L1368.4 1095.6L1368.6 1095.6L1368.9 1095.6L1369.1 1095.6L1369.4 1095.6L1369.6 1095.7L1369.8 1095.7L1370.1 1095.7L1370.3 1095.7L1370.6 1095.7L1370.8 1095.7L1371.1 1095.7L1371.3 1095.7L1371.6 1095.7L1371.8 1095.7L1372.0 1095.7L1372.3 1095.7L1372.5 1095.7" fill="none" stroke="#1057f0" stroke-width="2.4" stroke-linejoin="round" />
<path d="M1359.9 1095.7L1360.1 1095.7L1360.4 1095.7L1360.6 1095.7L1360.8 1095.7L1361.1 1095.7L1361.3 1095.7L1361.6 1095.7L1361.8 1095.7L1362.1 1095.7L1362.3 1095.7L1362.6 1095.7L1362.8 1095.6L1363.0 1095.6L1363.3 1095.6L1363.5 1095.6L1363.8 1095.5L1364.0 1095.5L1364.3 1095.4L1364.5 1095.3L1364.7 1095.2L1365.0 1095.0L1365.2 1094.8L1365.5 1094.6L1365.7 1094.3L1366.0 1093.9L1366.2 1093.4L1366.4 1092.8L1366.7 1092.1L1366.9 1091.2L1367.2 1090.2L1367.4 1089.0L1367.7 1087.5L1367.9 1085.8L1368.1 1083.7L1368.4 1081.3L1368.6 1078.6L1368.9 1075.4L1369.1 1071.8L1369.4 1067.8L1369.6 1063.2L1369.8 1058.1L1370.1 1052.4L1370.3 1046.1L1370.6 1039.3L1370.8 1031.9L1371.1 1023.9L1371.3 1015.4L1371.6 1006.4L1371.8 997.0L1372.0 987.2L1372.3 977.1L1372.5 966.8L1372.8 956.4L1373.0 946.1L1373.3 935.9L1373.5 925.9L1373.7 916.4L1374.0 907.5L1374.2 899.2L1374.5 891.7L1374.7 885.2L1375.0 879.7L1375.2 875.3L1375.4 872.1L1375.7 870.2L1375.9 869.5L1376.2 870.2L1376.4 872.1L1376.7 875.3L1376.9 879.7L1377.1 885.2L1377.4 891.7L1377.6 899.2L1377.9 907.5L1378.1 916.4L1378.4 925.9L1378.6 935.9L1378.8 946.1L1379.1 956.4L1379.3 966.8L1379.6 977.1L1379.8 987.2L1380.1 997.0L1380.3 1006.4L1380.6 1015.4L1380.8 1023.9L1381.0 1031.9L1381.3 1039.3L1381.5 1046.1L1381.8 1052.4L1382.0 1058.1L1382.3 1063.2L1382.5 1067.8L1382.7 1071.8L1383.0 1075.4L1383.2 1078.6L1383.5 1081.3L1383.7 1083.7L1384.0 1085.8L1384.2 1087.5L1384.4 1089.0L1384.7 1090.2L1384.9 1091.2L1385.2 1092.1L1385.4 1092.8L1385.7 1093.4L1385.9 1093.9L1386.1 1094.3L1386.4 1094.6L1386.6 1094.8L1386.9 1095.0L1387.1 1095.2L1387.4 1095.3L1387.6 1095.4L1387.8 1095.5L1388.1 1095.5L1388.3 1095.6L1388.6 1095.6L1388.8 1095.6L1389.1 1095.6L1389.3 1095.7L1389.6 1095.7L1389.8 1095.7L1390.0 1095.7L1390.3 1095.7L1390.5 1095.7L1390.8 1095.7L1391.0 1095.7L1391.3 1095.7L1391.5 1095.7L1391.7 1095.7L1392.0 1095.7" fill="none" stroke="#1057f0" stroke-width="2.4" stroke-linejoin="round" />
<path d="M1489.3 1095.7L1489.5 1095.7L1489.8 1095.7L1490.0 1095.7L1490.3 1095.7L1490.5 1095.7L1490.7 1095.7L1491.0 1095.7L1491.2 1095.7L1491.5 1095.7L1491.7 1095.7L1492.0 1095.7L1492.2 1095.7L1492.4 1095.7L1492.7 1095.7L1492.9 1095.7L1493.2 1095.6L1493.4 1095.6L1493.7 1095.6L1493.9 1095.6L1494.2 1095.6L1494.4 1095.5L1494.6 1095.5L1494.9 1095.4L1495.1 1095.3L1495.4 1095.2L1495.6 1095.1L1495.9 1095.0L1496.1 1094.8L1496.3 1094.6L1496.6 1094.3L1496.8 1094.0L1497.1 1093.6L1497.3 1093.1L1497.6 1092.6L1497.8 1092.0L1498.0 1091.3L1498.3 1090.5L1498.5 1089.6L1498.8 1088.5L1499.0 1087.4L1499.3 1086.0L1499.5 1084.6L1499.7 1083.0L1500.0 1081.2L1500.2 1079.3L1500.5 1077.3L1500.7 1075.1L1501.0 1072.8L1501.2 1070.4L1501.4 1067.9L1501.7 1065.3L1501.9 1062.6L1502.2 1060.0L1502.4 1057.3L1502.7 1054.7L1502.9 1052.2L1503.2 1049.7L1503.4 1047.4L1503.6 1045.3L1503.9 1043.4L1504.1 1041.7L1504.4 1040.3L1504.6 1039.2L1504.9 1038.4L1505.1 1037.9L1505.3 1037.7L1505.6 1037.9L1505.8 1038.4L1506.1 1039.2L1506.3 1040.3L1506.6 1041.7L1506.8 1043.4L1507.0 1045.3L1507.3 1047.4L1507.5 1049.7L1507.8 1052.2L1508.0 1054.7L1508.3 1057.3L1508.5 1060.0L1508.7 1062.6L1509.0 1065.3L1509.2 1067.9L1509.5 1070.4L1509.7 1072.8L1510.0 1075.1L1510.2 1077.3L1510.4 1079.3L1510.7 1081.2L1510.9 1083.0L1511.2 1084.6L1511.4 1086.0L1511.7 1087.4L1511.9 1088.5L1512.2 1089.6L1512.4 1090.5L1512.6 1091.3L1512.9 1092.0L1513.1 1092.6L1513.4 1093.1L1513.6 1093.6L1513.9 1094.0L1514.1 1094.3L1514.3 1094.6L1514.6 1094.8L1514.8 1095.0L1515.1 1095.1L1515.3 1095.2L1515.6 1095.3L1515.8 1095.4L1516.0 1095.5L1516.3 1095.5L1516.5 1095.6L1516.8 1095.6L1517.0 1095.6L1517.3 1095.6L1517.5 1095.6L1517.7 1095.7L1518.0 1095.7L1518.2 1095.7L1518.5 1095.7L1518.7 1095.7L1519.0 1095.7L1519.2 1095.7L1519.5 1095.7L1519.7 1095.7L1519.9 1095.7L1520.2 1095.7L1520.4 1095.7L1520.7 1095.7L1520.9 1095.7L1521.2 1095.7L1521.4 1095.7" fill="none" stroke="#1057f0" stroke-width="2.4" stroke-linejoin="round" />
<path d="M1503.9 1095.7L1504.1 1095.7L1504.4 1095.7L1504.6 1095.7L1504.9 1095.7L1505.1 1095.7L1505.3 1095.7L1505.6 1095.7L1505.8 1095.7L1506.1 1095.7L1506.3 1095.7L1506.6 1095.7L1506.8 1095.7L1507.0 1095.7L1507.3 1095.7L1507.5 1095.7L1507.8 1095.6L1508.0 1095.6L1508.3 1095.6L1508.5 1095.6L1508.7 1095.5L1509.0 1095.5L1509.2 1095.4L1509.5 1095.4L1509.7 1095.3L1510.0 1095.2L1510.2 1095.0L1510.4 1094.8L1510.7 1094.6L1510.9 1094.4L1511.2 1094.1L1511.4 1093.7L1511.7 1093.3L1511.9 1092.8L1512.2 1092.2L1512.4 1091.5L1512.6 1090.7L1512.9 1089.7L1513.1 1088.7L1513.4 1087.5L1513.6 1086.1L1513.9 1084.6L1514.1 1083.0L1514.3 1081.1L1514.6 1079.1L1514.8 1076.9L1515.1 1074.6L1515.3 1072.1L1515.6 1069.5L1515.8 1066.7L1516.0 1063.8L1516.3 1060.8L1516.5 1057.8L1516.8 1054.8L1517.0 1051.7L1517.3 1048.7L1517.5 1045.8L1517.7 1043.0L1518.0 1040.4L1518.2 1037.9L1518.5 1035.7L1518.7 1033.8L1519.0 1032.2L1519.2 1030.9L1519.5 1030.0L1519.7 1029.4L1519.9 1029.2L1520.2 1029.4L1520.4 1030.0L1520.7 1030.9L1520.9 1032.2L1521.2 1033.8L1521.4 1035.7L1521.6 1037.9L1521.9 1040.4L1522.1 1043.0L1522.4 1045.8L1522.6 1048.7L1522.9 1051.7L1523.1 1054.8L1523.3 1057.8L1523.6 1060.8L1523.8 1063.8L1524.1 1066.7L1524.3 1069.5L1524.6 1072.1L1524.8 1074.6L1525.0 1076.9L1525.3 1079.1L1525.5 1081.1L1525.8 1083.0L1526.0 1084.6L1526.3 1086.1L1526.5 1087.5L1526.7 1088.7L1527.0 1089.7L1527.2 1090.7L1527.5 1091.5L1527.7 1092.2L1528.0 1092.8L1528.2 1093.3L1528.5 1093.7L1528.7 1094.1L1528.9 1094.4L1529.2 1094.6L1529.4 1094.8L1529.7 1095.0L1529.9 1095.2L1530.2 1095.3L1530.4 1095.4L1530.6 1095.4L1530.9 1095.5L1531.1 1095.5L1531.4 1095.6L1531.6 1095.6L1531.9 1095.6L1532.1 1095.6L1532.3 1095.7L1532.6 1095.7L1532.8 1095.7L1533.1 1095.7L1533.3 1095.7L1533.6 1095.7L1533.8 1095.7L1534.0 1095.7L1534.3 1095.7L1534.5 1095.7L1534.8 1095.7L1535.0 1095.7L1535.3 1095.7L1535.5 1095.7L1535.7 1095.7L1536.0 1095.7" fill="none" stroke="#1057f0" stroke-width="2.4" stroke-linejoin="round" />
</g>
<rect x="1052.5" y="681.0" width="494.0" height="425.0" fill="none" stroke="#000" stroke-width="2.0"/>
<path d="M1061.65 1106.0v-4.25M1061.65 681.0v4.25M1071.38 1106.0v-4.25M1071.38 681.0v4.25M1081.11 1106.0v-4.25M1081.11 681.0v4.25M1090.84 1106.0v-4.25M1090.84 681.0v4.25M1100.57 1106.0v-8.50M1100.57 681.0v8.50M1110.30 1106.0v-4.25M1110.30 681.0v4.25M1120.03 1106.0v-4.25M1120.03 681.0v4.25M1129.76 1106.0v-4.25M1129.76 681.0v4.25M1139.49 1106.0v-4.25M1139.49 681.0v4.25M1149.22 1106.0v-4.25M1149.22 681.0v4.25M1158.95 1106.0v-4.25M1158.95 681.0v4.25M1168.68 1106.0v-4.25M1168.68 681.0v4.25M1178.41 1106.0v-4.25M1178.41 681.0v4.25M1188.14 1106.0v-4.25M1188.14 681.0v4.25M1197.87 1106.0v-8.50M1197.87 681.0v8.50M1207.60 1106.0v-4.25M1207.60 681.0v4.25M1217.33 1106.0v-4.25M1217.33 681.0v4.25M1227.06 1106.0v-4.25M1227.06 681.0v4.25M1236.79 1106.0v-4.25M1236.79 681.0v4.25M1246.52 1106.0v-4.25M1246.52 681.0v4.25M1256.25 1106.0v-4.25M1256.25 681.0v4.25M1265.98 1106.0v-4.25M1265.98 681.0v4.25M1275.71 1106.0v-4.25M1275.71 681.0v4.25M1285.44 1106.0v-4.25M1285.44 681.0v4.25M1295.17 1106.0v-8.50M1295.17 681.0v8.50M1304.90 1106.0v-4.25M1304.90 681.0v4.25M1314.63 1106.0v-4.25M1314.63 681.0v4.25M1324.36 1106.0v-4.25M1324.36 681.0v4.25M1334.09 1106.0v-4.25M1334.09 681.0v4.25M1343.82 1106.0v-4.25M1343.82 681.0v4.25M1353.55 1106.0v-4.25M1353.55 681.0v4.25M1363.28 1106.0v-4.25M1363.28 681.0v4.25M1373.01 1106.0v-4.25M1373.01 681.0v4.25M1382.74 1106.0v-4.25M1382.74 681.0v4.25M1392.47 1106.0v-8.50M1392.47 681.0v8.50M1402.20 1106.0v-4.25M1402.20 681.0v4.25M1411.93 1106.0v-4.25M1411.93 681.0v4.25M1421.66 1106.0v-4.25M1421.66 681.0v4.25M1431.39 1106.0v-4.25M1431.39 681.0v4.25M1441.12 1106.0v-4.25M1441.12 681.0v4.25M1450.85 1106.0v-4.25M1450.85 681.0v4.25M1460.58 1106.0v-4.25M1460.58 681.0v4.25M1470.31 1106.0v-4.25M1470.31 681.0v4.25M1480.04 1106.0v-4.25M1480.04 681.0v4.25M1489.77 1106.0v-8.50M1489.77 681.0v8.50M1499.50 1106.0v-4.25M1499.50 681.0v4.25M1509.23 1106.0v-4.25M1509.23 681.0v4.25M1518.96 1106.0v-4.25M1518.96 681.0v4.25M1528.69 1106.0v-4.25M1528.69 681.0v4.25M1538.42 1106.0v-4.25M1538.42 681.0v4.25M1052.5 1097.00h9.88M1546.5 1097.00h-9.88M1052.5 1086.10h4.94M1546.5 1086.10h-4.94M1052.5 1075.20h4.94M1546.5 1075.20h-4.94M1052.5 1064.30h4.94M1546.5 1064.30h-4.94M1052.5 1053.40h4.94M1546.5 1053.40h-4.94M1052.5 1042.50h4.94M1546.5 1042.50h-4.94M1052.5 1031.60h4.94M1546.5 1031.60h-4.94M1052.5 1020.70h4.94M1546.5 1020.70h-4.94M1052.5 1009.80h4.94M1546.5 1009.80h-4.94M1052.5 998.90h4.94M1546.5 998.90h-4.94M1052.5 988.00h9.88M1546.5 988.00h-9.88M1052.5 977.10h4.94M1546.5 977.10h-4.94M1052.5 966.20h4.94M1546.5 966.20h-4.94M1052.5 955.30h4.94M1546.5 955.30h-4.94M1052.5 944.40h4.94M1546.5 944.40h-4.94M1052.5 933.50h4.94M1546.5 933.50h-4.94M1052.5 922.60h4.94M1546.5 922.60h-4.94M1052.5 911.70h4.94M1546.5 911.70h-4.94M1052.5 900.80h4.94M1546.5 900.80h-4.94M1052.5 889.90h4.94M1546.5 889.90h-4.94M1052.5 879.00h9.88M1546.5 879.00h-9.88M1052.5 868.10h4.94M1546.5 868.10h-4.94M1052.5 857.20h4.94M1546.5 857.20h-4.94M1052.5 846.30h4.94M1546.5 846.30h-4.94M1052.5 835.40h4.94M1546.5 835.40h-4.94M1052.5 824.50h4.94M1546.5 824.50h-4.94M1052.5 813.60h4.94M1546.5 813.60h-4.94M1052.5 802.70h4.94M1546.5 802.70h-4.94M1052.5 791.80h4.94M1546.5 791.80h-4.94M1052.5 780.90h4.94M1546.5 780.90h-4.94M1052.5 770.00h9.88M1546.5 770.00h-9.88M1052.5 759.10h4.94M1546.5 759.10h-4.94M1052.5 748.20h4.94M1546.5 748.20h-4.94M1052.5 737.30h4.94M1546.5 737.30h-4.94M1052.5 726.40h4.94M1546.5 726.40h-4.94M1052.5 715.50h4.94M1546.5 715.50h-4.94M1052.5 704.60h4.94M1546.5 704.60h-4.94M1052.5 693.70h4.94M1546.5 693.70h-4.94M1052.5 682.80h4.94M1546.5 682.80h-4.94" stroke="#000" stroke-width="2.0" fill="none"/>
<text x="0" y="0" transform="translate(181.74 150.70) scale(1.0479 1)" font-size="24.0" font-weight="normal" stroke="#000" stroke-width="0.75" letter-spacing="1.6">BAT.no=653</text>
<text x="0" y="0" transform="translate(180.71 177.40) scale(1.0309 1)" font-size="24.0" font-weight="normal" stroke="#000" stroke-width="0.75" letter-spacing="1.6">SWIFT J1304.3&#8722;0532</text>
<text x="0" y="0" transform="translate(181.55 203.80) scale(1.0035 1)" font-size="24.0" font-weight="normal" stroke="#000" stroke-width="0.75" letter-spacing="1.6">NGC 4941</text>
<text x="0" y="0" transform="translate(181.53 230.40) scale(1.0950 1)" font-size="24.0" font-weight="normal" stroke="#000" stroke-width="0.75" letter-spacing="1.6">z=0.00395</text>
<text x="0" y="0" transform="translate(1218.52 188.60) scale(1.1530 1)" font-size="24.0" font-weight="normal" stroke="#000" stroke-width="0.75" letter-spacing="1.6">survey/campaign:Perkins</text>
<text x="0" y="0" transform="translate(1218.51 215.20) scale(1.1807 1)" font-size="24.0" font-weight="normal" stroke="#000" stroke-width="0.75" letter-spacing="1.6">date:05/17/2011</text>
<text x="0" y="0" transform="translate(118.25 635.10) scale(1.1273 1)" font-size="24.5" font-weight="normal" stroke="#000" stroke-width="0.75" letter-spacing="1.2">&#8722;1.0</text>
<text x="0" y="0" transform="translate(206.04 635.10) scale(1.1422 1)" font-size="24.5" font-weight="normal" stroke="#000" stroke-width="0.75" letter-spacing="1.2">&#8722;0.5</text>
<text x="0" y="0" transform="translate(303.04 635.10) scale(1.1125 1)" font-size="24.5" font-weight="normal" stroke="#000" stroke-width="0.75" letter-spacing="1.2">0.0</text>
<text x="0" y="0" transform="translate(391.54 635.10) scale(1.1125 1)" font-size="24.5" font-weight="normal" stroke="#000" stroke-width="0.75" letter-spacing="1.2">0.5</text>
<text x="0" y="0" transform="translate(481.05 635.10) scale(1.1154 1)" font-size="24.5" font-weight="normal" stroke="#000" stroke-width="0.75" letter-spacing="1.2">1.0</text>
<text x="0" y="0" transform="translate(102.13 263.80) scale(1.0699 1)" font-size="24.5" font-weight="normal" stroke="#000" stroke-width="0.75" letter-spacing="1.2">1.0</text>
<text x="0" y="0" transform="translate(100.54 345.80) scale(1.1188 1)" font-size="24.5" font-weight="normal" stroke="#000" stroke-width="0.75" letter-spacing="1.2">0.5</text>
<text x="0" y="0" transform="translate(100.74 434.30) scale(1.1125 1)" font-size="24.5" font-weight="normal" stroke="#000" stroke-width="0.75" letter-spacing="1.2">0.0</text>
<text x="0" y="0" transform="translate(83.25 523.20) scale(1.1294 1)" font-size="24.5" font-weight="normal" stroke="#000" stroke-width="0.75" letter-spacing="1.2">&#8722;0.5</text>
<text x="0" y="0" transform="translate(83.35 605.10) scale(1.1273 1)" font-size="24.5" font-weight="normal" stroke="#000" stroke-width="0.75" letter-spacing="1.2">&#8722;1.0</text>
<text x="0" y="0" transform="translate(276.21 663.60) scale(1.1880 1)" font-size="24.5" font-weight="normal" stroke="#000" stroke-width="0.8" letter-spacing="1.5">arcmin</text>
<text x="0" y="0" transform="translate(62.00 468.79) rotate(-90) scale(1.1773 1)" font-size="24.5" font-weight="normal" stroke="#000" stroke-width="0.8" letter-spacing="1.5">arcmin</text>
<text x="0" y="0" transform="translate(164.93 273.60) scale(1.0872 1)" font-size="21" font-weight="bold" stroke="#000" stroke-width="0.3" letter-spacing="0.5">DSS-1</text>
<text x="0" y="0" transform="translate(543.46 516.20) scale(1.1642 1)" font-size="24.5" font-weight="normal" stroke="#000" stroke-width="0.75" letter-spacing="1.2">1000</text>
<text x="0" y="0" transform="translate(544.64 446.90) scale(1.1415 1)" font-size="24.5" font-weight="normal" stroke="#000" stroke-width="0.75" letter-spacing="1.2">2000</text>
<text x="0" y="0" transform="translate(544.64 377.60) scale(1.1415 1)" font-size="24.5" font-weight="normal" stroke="#000" stroke-width="0.75" letter-spacing="1.2">3000</text>
<text x="0" y="0" transform="translate(545.50 308.30) scale(1.1250 1)" font-size="24.5" font-weight="normal" stroke="#000" stroke-width="0.75" letter-spacing="1.2">4000</text>
<text x="0" y="0" transform="translate(590.75 585.50) scale(1.0933 1)" font-size="24.5" font-weight="normal" stroke="#000" stroke-width="0.75" letter-spacing="1.2">0</text>
<text x="0" y="0" transform="translate(759.10 634.90) scale(1.1192 1)" font-size="24.5" font-weight="normal" stroke="#000" stroke-width="0.75" letter-spacing="1.2">4000</text>
<text x="0" y="0" transform="translate(1010.39 634.90) scale(1.1412 1)" font-size="24.5" font-weight="normal" stroke="#000" stroke-width="0.75" letter-spacing="1.2">5000</text>
<text x="0" y="0" transform="translate(1263.12 634.90) scale(1.1356 1)" font-size="24.5" font-weight="normal" stroke="#000" stroke-width="0.75" letter-spacing="1.2">6000</text>
<text x="0" y="0" transform="translate(1515.87 634.90) scale(1.1468 1)" font-size="24.5" font-weight="normal" stroke="#000" stroke-width="0.75" letter-spacing="1.2">7000</text>
<text x="0" y="0" transform="translate(1036.40 663.00) scale(1.1900 1)" font-size="24.5" font-weight="normal" stroke="#000" stroke-width="0.6"><tspan font-size="25">&#955;</tspan><tspan font-size="16" font-weight="bold" dy="6">r.f.</tspan><tspan dy="-6" font-size="25" dx="6" stroke-width="0.7">[&#197;]</tspan></text>
<text x="0" y="0" transform="translate(526.50 570.47) rotate(-90) scale(1.1347 1)" font-size="24.0" font-weight="normal" stroke="#000" stroke-width="0.7" letter-spacing="1.0">flux[10<tspan font-size="15.5" dy="-12">&#8722;17</tspan><tspan dy="12">erg s</tspan><tspan font-size="15.5" dy="-12">&#8722;1</tspan><tspan dy="12">cm</tspan><tspan font-size="15.5" dy="-12">&#8722;2</tspan><tspan dy="12">&#197;</tspan><tspan font-size="15.5" dy="-12">&#8722;1</tspan><tspan dy="12">]</tspan></text>
<text x="0" y="0" transform="translate(737.31 268.90) scale(0.9836 1)" font-size="24.0" font-weight="normal" stroke="#000" stroke-width="0.75" letter-spacing="1.6">obj.</text>
<text x="0" y="0" transform="translate(737.56 293.20) scale(0.9755 1)" font-size="24.0" font-weight="normal" stroke="#000" stroke-width="0.75" letter-spacing="1.6">fit</text>
<text x="0" y="0" transform="translate(737.80 317.50) scale(1.0533 1)" font-size="24.0" font-weight="normal" stroke="#000" stroke-width="0.75" letter-spacing="1.6">res.</text>
<text x="0" y="0" transform="translate(737.29 341.00) scale(1.0244 1)" font-size="24.0" font-weight="normal" stroke="#000" stroke-width="0.75" letter-spacing="1.6">emi.</text>
<text x="0" y="0" transform="translate(122.35 1031.30) scale(1.2667 1)" font-size="24.5" font-weight="normal" stroke="#000" stroke-width="0.75" letter-spacing="1.2">2</text>
<text x="0" y="0" transform="translate(123.30 946.30) scale(1.0857 1)" font-size="24.5" font-weight="normal" stroke="#000" stroke-width="0.75" letter-spacing="1.2">4</text>
<text x="0" y="0" transform="translate(122.41 861.30) scale(1.1822 1)" font-size="24.5" font-weight="normal" stroke="#000" stroke-width="0.75" letter-spacing="1.2">6</text>
<text x="0" y="0" transform="translate(122.71 776.30) scale(1.1822 1)" font-size="24.5" font-weight="normal" stroke="#000" stroke-width="0.75" letter-spacing="1.2">8</text>
<text x="0" y="0" transform="translate(109.61 697.60) scale(1.0796 1)" font-size="24.5" font-weight="normal" stroke="#000" stroke-width="0.75" letter-spacing="1.2">10</text>
<text x="0" y="0" transform="translate(123.47 1105.50) scale(1.0578 1)" font-size="24.5" font-weight="normal" stroke="#000" stroke-width="0.75" letter-spacing="1.2">0</text>
<text x="0" y="0" transform="translate(162.06 1140.70) scale(1.1180 1)" font-size="24.5" font-weight="normal" stroke="#000" stroke-width="0.75" letter-spacing="1.2">3400</text>
<text x="0" y="0" transform="translate(256.76 1140.70) scale(1.1220 1)" font-size="24.5" font-weight="normal" stroke="#000" stroke-width="0.75" letter-spacing="1.2">3600</text>
<text x="0" y="0" transform="translate(350.35 1140.70) scale(1.1317 1)" font-size="24.5" font-weight="normal" stroke="#000" stroke-width="0.75" letter-spacing="1.2">3800</text>
<text x="0" y="0" transform="translate(444.80 1140.70) scale(1.1269 1)" font-size="24.5" font-weight="normal" stroke="#000" stroke-width="0.75" letter-spacing="1.2">4000</text>
<text x="0" y="0" transform="translate(280.92 1168.70) scale(1.1386 1)" font-size="24.5" font-weight="normal" stroke="#000" stroke-width="0.6"><tspan font-size="25">&#955;</tspan><tspan font-size="16" font-weight="bold" dy="6">r.f.</tspan><tspan dy="-6" font-size="25" dx="6" stroke-width="0.7">[&#197;]</tspan></text>
<text x="0" y="0" transform="translate(88.50 1044.56) rotate(-90) scale(1.1257 1)" font-size="24.0" font-weight="normal" stroke="#000" stroke-width="0.7" letter-spacing="1.0">flux[10<tspan font-size="15.5" dy="-12">&#8722;17</tspan><tspan dy="12">erg s</tspan><tspan font-size="15.5" dy="-12">&#8722;1</tspan><tspan dy="12">cm</tspan><tspan font-size="15.5" dy="-12">&#8722;2</tspan><tspan dy="12">&#197;</tspan><tspan font-size="15.5" dy="-12">&#8722;1</tspan><tspan dy="12">]</tspan></text>
<text x="0" y="0" transform="translate(529.27 935.30) scale(1.1622 1)" font-size="24.5" font-weight="normal" stroke="#000" stroke-width="0.75" letter-spacing="1.2">1000</text>
<text x="0" y="0" transform="translate(530.45 872.20) scale(1.1395 1)" font-size="24.5" font-weight="normal" stroke="#000" stroke-width="0.75" letter-spacing="1.2">2000</text>
<text x="0" y="0" transform="translate(530.45 809.10) scale(1.1395 1)" font-size="24.5" font-weight="normal" stroke="#000" stroke-width="0.75" letter-spacing="1.2">3000</text>
<text x="0" y="0" transform="translate(531.30 746.00) scale(1.1231 1)" font-size="24.5" font-weight="normal" stroke="#000" stroke-width="0.75" letter-spacing="1.2">4000</text>
<text x="0" y="0" transform="translate(576.63 997.70) scale(1.1378 1)" font-size="24.5" font-weight="normal" stroke="#000" stroke-width="0.75" letter-spacing="1.2">0</text>
<text x="0" y="0" transform="translate(514.17 1060.80) scale(1.1094 1)" font-size="24.5" font-weight="normal" stroke="#000" stroke-width="0.75" letter-spacing="1.2">&#8722;1000</text>
<text x="0" y="0" transform="translate(612.95 1140.00) scale(1.1192 1)" font-size="24.5" font-weight="normal" stroke="#000" stroke-width="0.75" letter-spacing="1.2">4700</text>
<text x="0" y="0" transform="translate(701.45 1140.00) scale(1.1192 1)" font-size="24.5" font-weight="normal" stroke="#000" stroke-width="0.75" letter-spacing="1.2">4800</text>
<text x="0" y="0" transform="translate(789.95 1140.00) scale(1.1192 1)" font-size="24.5" font-weight="normal" stroke="#000" stroke-width="0.75" letter-spacing="1.2">4900</text>
<text x="0" y="0" transform="translate(877.31 1140.00) scale(1.1412 1)" font-size="24.5" font-weight="normal" stroke="#000" stroke-width="0.75" letter-spacing="1.2">5000</text>
<text x="0" y="0" transform="translate(735.02 1168.00) scale(1.1214 1)" font-size="24.5" font-weight="normal" stroke="#000" stroke-width="0.6"><tspan font-size="25">&#955;</tspan><tspan font-size="16" font-weight="bold" dy="6">r.f.</tspan><tspan dy="-6" font-size="25" dx="6" stroke-width="0.7">[&#197;]</tspan></text>
<text x="0" y="0" transform="translate(629.30 767.82) rotate(-90) scale(0.8731 1)" font-size="24.5" font-weight="normal" stroke="#000" stroke-width="0.8" letter-spacing="0.8">HeII</text>
<text x="0" y="0" transform="translate(784.50 779.84) rotate(-90) scale(0.9511 1)" font-size="24.5" font-weight="normal" stroke="#000" stroke-width="0.8" letter-spacing="0.8">H<tspan font-style="italic">&#946;</tspan><tspan font-size="15" dy="5" font-weight="bold">nr</tspan></text>
<text x="0" y="0" transform="translate(871.50 768.67) rotate(-90) scale(0.9109 1)" font-size="24.5" font-weight="normal" stroke="#000" stroke-width="0.8" letter-spacing="0.8">[OIIIa]</text>
<text x="0" y="0" transform="translate(913.30 768.64) rotate(-90) scale(0.8952 1)" font-size="24.5" font-weight="normal" stroke="#000" stroke-width="0.8" letter-spacing="0.8">[OIIIb]</text>
<text x="0" y="0" transform="translate(984.01 889.40) scale(1.1383 1)" font-size="24.5" font-weight="normal" stroke="#000" stroke-width="0.75" letter-spacing="1.2">1000</text>
<text x="0" y="0" transform="translate(985.16 780.40) scale(1.1161 1)" font-size="24.5" font-weight="normal" stroke="#000" stroke-width="0.75" letter-spacing="1.2">2000</text>
<text x="0" y="0" transform="translate(1030.05 997.70) scale(1.0933 1)" font-size="24.5" font-weight="normal" stroke="#000" stroke-width="0.75" letter-spacing="1.2">0</text>
<text x="0" y="0" transform="translate(967.66 1105.50) scale(1.1230 1)" font-size="24.5" font-weight="normal" stroke="#000" stroke-width="0.75" letter-spacing="1.2">&#8722;1000</text>
<text x="0" y="0" transform="translate(1070.32 1140.30) scale(1.1278 1)" font-size="24.5" font-weight="normal" stroke="#000" stroke-width="0.75" letter-spacing="1.2">6300</text>
<text x="0" y="0" transform="translate(1167.62 1140.30) scale(1.1278 1)" font-size="24.5" font-weight="normal" stroke="#000" stroke-width="0.75" letter-spacing="1.2">6400</text>
<text x="0" y="0" transform="translate(1264.92 1140.30) scale(1.1278 1)" font-size="24.5" font-weight="normal" stroke="#000" stroke-width="0.75" letter-spacing="1.2">6500</text>
<text x="0" y="0" transform="translate(1362.23 1140.30) scale(1.1278 1)" font-size="24.5" font-weight="normal" stroke="#000" stroke-width="0.75" letter-spacing="1.2">6600</text>
<text x="0" y="0" transform="translate(1459.53 1140.30) scale(1.1278 1)" font-size="24.5" font-weight="normal" stroke="#000" stroke-width="0.75" letter-spacing="1.2">6700</text>
<text x="0" y="0" transform="translate(1258.42 1168.00) scale(1.1257 1)" font-size="24.5" font-weight="normal" stroke="#000" stroke-width="0.6"><tspan font-size="25">&#955;</tspan><tspan font-size="16" font-weight="bold" dy="6">r.f.</tspan><tspan dy="-6" font-size="25" dx="6" stroke-width="0.7">[&#197;]</tspan></text>
<text x="0" y="0" transform="translate(1097.00 757.05) rotate(-90) scale(1.0026 1)" font-size="22.5" font-weight="normal" stroke="#000" stroke-width="0.75" letter-spacing="0.6">[OI]</text>
<text x="0" y="0" transform="translate(1338.80 756.58) rotate(-90) scale(1.0273 1)" font-size="22.5" font-weight="normal" stroke="#000" stroke-width="0.75" letter-spacing="0.6">[NIIa]</text>
<text x="0" y="0" transform="translate(1353.80 755.54) rotate(-90) scale(0.9470 1)" font-size="22.5" font-weight="normal" stroke="#000" stroke-width="0.75" letter-spacing="0.6">H<tspan font-style="italic">&#945;</tspan></text>
<text x="0" y="0" transform="translate(1387.70 756.56) rotate(-90) scale(1.0052 1)" font-size="22.5" font-weight="normal" stroke="#000" stroke-width="0.75" letter-spacing="0.6">[NIIb]</text>
<text x="0" y="0" transform="translate(1501.00 756.63) rotate(-90) scale(1.0660 1)" font-size="22.5" font-weight="normal" stroke="#000" stroke-width="0.75" letter-spacing="0.6">[SIIa]</text>
<text x="0" y="0" transform="translate(1516.80 756.60) rotate(-90) scale(1.0415 1)" font-size="22.5" font-weight="normal" stroke="#000" stroke-width="0.75" letter-spacing="0.6">[SIIb]</text>
</svg></body></html>
